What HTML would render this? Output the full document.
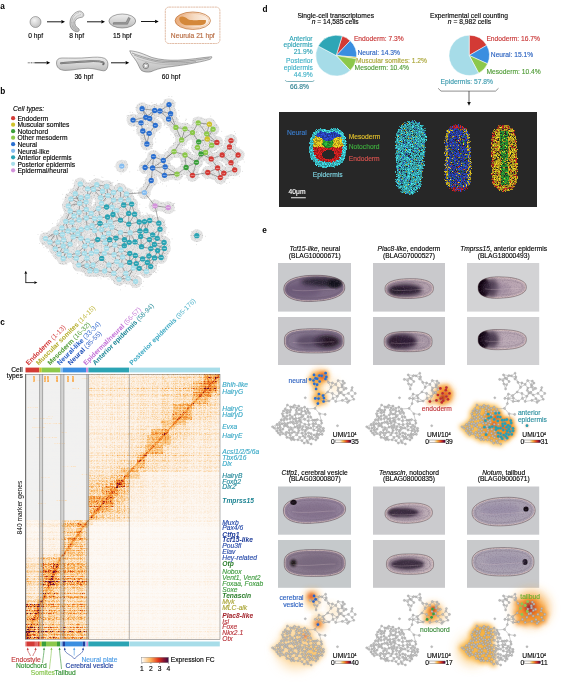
<!DOCTYPE html>
<html><head><meta charset="utf-8"><style>
html,body{margin:0;padding:0;background:#fff;}
#W{position:relative;width:570px;height:685px;overflow:hidden;background:#fff;font-family:"Liberation Sans", sans-serif;}
svg{position:absolute;left:0;top:0;}
canvas{position:absolute;}
text{font-family:"Liberation Sans", sans-serif;}
</style></head><body><div id="W">
<svg width="570" height="685" viewBox="0 0 570 685"><rect x="25.7" y="374.3" width="194.3" height="265" fill="#f3e8dc"/><rect x="279.1" y="112.1" width="257.7" height="94.3" fill="#272727"/><rect x="278.0" y="263.0" width="73.0" height="48.6" fill="#c9cacd"/><clipPath id="cl00"><path d="M344.78,287.24 L344.73,288.73 L344.47,289.97 L344.01,291.12 L343.35,292.21 L342.49,293.24 L341.44,294.22 L340.20,295.15 L338.78,296.02 L337.18,296.84 L335.41,297.60 L333.47,298.30 L331.37,298.93 L329.12,299.50 L326.71,300.00 L324.14,300.42 L321.39,300.78 L318.40,301.06 L314.75,301.29 L311.10,301.44 L308.10,301.46 L305.34,301.39 L302.75,301.22 L300.31,300.96 L298.03,300.60 L295.89,300.15 L293.91,299.61 L292.10,298.98 L290.44,298.27 L288.96,297.48 L287.66,296.60 L286.54,295.65 L285.61,294.61 L284.87,293.50 L284.32,292.30 L283.98,290.98 L283.82,289.36 L283.86,287.74 L284.12,286.40 L284.58,285.17 L285.24,284.00 L286.10,282.91 L287.15,281.88 L288.38,280.91 L289.81,280.02 L291.40,279.19 L293.17,278.44 L295.11,277.76 L297.21,277.17 L299.46,276.65 L301.87,276.22 L304.44,275.87 L307.20,275.60 L310.19,275.42 L313.85,275.31 L317.50,275.29 L320.51,275.36 L323.28,275.52 L325.87,275.77 L328.30,276.10 L330.59,276.50 L332.73,276.99 L334.71,277.55 L336.52,278.19 L338.18,278.89 L339.66,279.66 L340.96,280.50 L342.08,281.40 L343.00,282.37 L343.74,283.41 L344.28,284.53 L344.63,285.74 Z"/></clipPath><path d="M344.78,287.24 L344.73,288.73 L344.47,289.97 L344.01,291.12 L343.35,292.21 L342.49,293.24 L341.44,294.22 L340.20,295.15 L338.78,296.02 L337.18,296.84 L335.41,297.60 L333.47,298.30 L331.37,298.93 L329.12,299.50 L326.71,300.00 L324.14,300.42 L321.39,300.78 L318.40,301.06 L314.75,301.29 L311.10,301.44 L308.10,301.46 L305.34,301.39 L302.75,301.22 L300.31,300.96 L298.03,300.60 L295.89,300.15 L293.91,299.61 L292.10,298.98 L290.44,298.27 L288.96,297.48 L287.66,296.60 L286.54,295.65 L285.61,294.61 L284.87,293.50 L284.32,292.30 L283.98,290.98 L283.82,289.36 L283.86,287.74 L284.12,286.40 L284.58,285.17 L285.24,284.00 L286.10,282.91 L287.15,281.88 L288.38,280.91 L289.81,280.02 L291.40,279.19 L293.17,278.44 L295.11,277.76 L297.21,277.17 L299.46,276.65 L301.87,276.22 L304.44,275.87 L307.20,275.60 L310.19,275.42 L313.85,275.31 L317.50,275.29 L320.51,275.36 L323.28,275.52 L325.87,275.77 L328.30,276.10 L330.59,276.50 L332.73,276.99 L334.71,277.55 L336.52,278.19 L338.18,278.89 L339.66,279.66 L340.96,280.50 L342.08,281.40 L343.00,282.37 L343.74,283.41 L344.28,284.53 L344.63,285.74 Z" fill="#7d6c87"/><g clip-path="url(#cl00)"><path d="M344.78,287.24 L344.73,288.73 L344.47,289.97 L344.01,291.12 L343.35,292.21 L342.49,293.24 L341.44,294.22 L340.20,295.15 L338.78,296.02 L337.18,296.84 L335.41,297.60 L333.47,298.30 L331.37,298.93 L329.12,299.50 L326.71,300.00 L324.14,300.42 L321.39,300.78 L318.40,301.06 L314.75,301.29 L311.10,301.44 L308.10,301.46 L305.34,301.39 L302.75,301.22 L300.31,300.96 L298.03,300.60 L295.89,300.15 L293.91,299.61 L292.10,298.98 L290.44,298.27 L288.96,297.48 L287.66,296.60 L286.54,295.65 L285.61,294.61 L284.87,293.50 L284.32,292.30 L283.98,290.98 L283.82,289.36 L283.86,287.74 L284.12,286.40 L284.58,285.17 L285.24,284.00 L286.10,282.91 L287.15,281.88 L288.38,280.91 L289.81,280.02 L291.40,279.19 L293.17,278.44 L295.11,277.76 L297.21,277.17 L299.46,276.65 L301.87,276.22 L304.44,275.87 L307.20,275.60 L310.19,275.42 L313.85,275.31 L317.50,275.29 L320.51,275.36 L323.28,275.52 L325.87,275.77 L328.30,276.10 L330.59,276.50 L332.73,276.99 L334.71,277.55 L336.52,278.19 L338.18,278.89 L339.66,279.66 L340.96,280.50 L342.08,281.40 L343.00,282.37 L343.74,283.41 L344.28,284.53 L344.63,285.74 Z" fill="none" stroke="#dcc6c2" stroke-opacity="0.75" stroke-width="2.6" filter="url(#b05)"/><ellipse cx="321" cy="282.5" rx="20" ry="4.8" fill="#231a2a" fill-opacity="0.95" filter="url(#b2)"/><ellipse cx="335" cy="283.5" rx="7" ry="4.5" fill="#120c14" fill-opacity="0.9" filter="url(#b1)"/><ellipse cx="303" cy="290" rx="18" ry="7" fill="#5e4c6c" fill-opacity="0.55" filter="url(#b2)"/><rect x="282.8" y="274.3" width="63.0" height="28.0" filter="url(#grain)" opacity="0.42"/><path d="M341.38,287.35 L341.10,289.42 L340.09,291.11 L338.38,292.64 L336.01,294.01 L333.01,295.21 L329.42,296.24 L325.27,297.06 L320.54,297.67 L314.64,298.09 L308.73,298.26 L303.97,298.10 L299.79,297.65 L296.14,296.92 L293.06,295.93 L290.59,294.68 L288.78,293.19 L287.65,291.45 L287.22,289.25 L287.50,287.01 L288.50,285.20 L290.21,283.58 L292.58,282.17 L295.58,280.96 L299.17,279.99 L303.32,279.25 L308.05,278.76 L313.96,278.51 L319.87,278.51 L324.64,278.80 L328.83,279.33 L332.48,280.10 L335.56,281.09 L338.02,282.29 L339.83,283.70 L340.95,285.31 Z" fill="none" stroke="#4a3c48" stroke-opacity="0.28" stroke-width="0.5"/><path d="M292.3,289.9 C305.2,292.2 323.4,288.9 335.0,289.3" fill="none" stroke="#e0c8cc" stroke-opacity="0.35" stroke-width="0.7"/></g><path d="M344.78,287.24 L344.73,288.73 L344.47,289.97 L344.01,291.12 L343.35,292.21 L342.49,293.24 L341.44,294.22 L340.20,295.15 L338.78,296.02 L337.18,296.84 L335.41,297.60 L333.47,298.30 L331.37,298.93 L329.12,299.50 L326.71,300.00 L324.14,300.42 L321.39,300.78 L318.40,301.06 L314.75,301.29 L311.10,301.44 L308.10,301.46 L305.34,301.39 L302.75,301.22 L300.31,300.96 L298.03,300.60 L295.89,300.15 L293.91,299.61 L292.10,298.98 L290.44,298.27 L288.96,297.48 L287.66,296.60 L286.54,295.65 L285.61,294.61 L284.87,293.50 L284.32,292.30 L283.98,290.98 L283.82,289.36 L283.86,287.74 L284.12,286.40 L284.58,285.17 L285.24,284.00 L286.10,282.91 L287.15,281.88 L288.38,280.91 L289.81,280.02 L291.40,279.19 L293.17,278.44 L295.11,277.76 L297.21,277.17 L299.46,276.65 L301.87,276.22 L304.44,275.87 L307.20,275.60 L310.19,275.42 L313.85,275.31 L317.50,275.29 L320.51,275.36 L323.28,275.52 L325.87,275.77 L328.30,276.10 L330.59,276.50 L332.73,276.99 L334.71,277.55 L336.52,278.19 L338.18,278.89 L339.66,279.66 L340.96,280.50 L342.08,281.40 L343.00,282.37 L343.74,283.41 L344.28,284.53 L344.63,285.74 Z" fill="none" stroke="#3a2e34" stroke-opacity="0.7" stroke-width="0.55"/><rect x="373.0" y="263.0" width="72.0" height="48.6" fill="#c9c9cc"/><clipPath id="cl01"><path d="M433.40,288.18 L433.34,289.47 L433.13,290.48 L432.76,291.40 L432.24,292.25 L431.58,293.04 L430.76,293.78 L429.80,294.47 L428.70,295.11 L427.46,295.70 L426.08,296.23 L424.57,296.72 L422.93,297.14 L421.16,297.51 L419.26,297.83 L417.21,298.08 L415.00,298.27 L412.54,298.41 L409.37,298.50 L406.21,298.52 L403.75,298.47 L401.52,298.35 L399.47,298.17 L397.55,297.93 L395.77,297.62 L394.12,297.25 L392.60,296.82 L391.20,296.33 L389.94,295.79 L388.82,295.19 L387.83,294.53 L386.99,293.82 L386.30,293.05 L385.75,292.22 L385.35,291.32 L385.10,290.32 L385.00,289.02 L385.06,287.73 L385.27,286.72 L385.64,285.80 L386.16,284.95 L386.82,284.16 L387.64,283.42 L388.60,282.73 L389.70,282.09 L390.94,281.50 L392.32,280.97 L393.83,280.48 L395.47,280.06 L397.24,279.69 L399.14,279.37 L401.19,279.12 L403.40,278.93 L405.86,278.79 L409.03,278.70 L412.19,278.68 L414.65,278.73 L416.88,278.85 L418.93,279.03 L420.85,279.27 L422.63,279.58 L424.28,279.95 L425.80,280.38 L427.20,280.87 L428.46,281.41 L429.58,282.01 L430.57,282.67 L431.41,283.38 L432.10,284.15 L432.65,284.98 L433.05,285.88 L433.30,286.88 Z"/></clipPath><path d="M433.40,288.18 L433.34,289.47 L433.13,290.48 L432.76,291.40 L432.24,292.25 L431.58,293.04 L430.76,293.78 L429.80,294.47 L428.70,295.11 L427.46,295.70 L426.08,296.23 L424.57,296.72 L422.93,297.14 L421.16,297.51 L419.26,297.83 L417.21,298.08 L415.00,298.27 L412.54,298.41 L409.37,298.50 L406.21,298.52 L403.75,298.47 L401.52,298.35 L399.47,298.17 L397.55,297.93 L395.77,297.62 L394.12,297.25 L392.60,296.82 L391.20,296.33 L389.94,295.79 L388.82,295.19 L387.83,294.53 L386.99,293.82 L386.30,293.05 L385.75,292.22 L385.35,291.32 L385.10,290.32 L385.00,289.02 L385.06,287.73 L385.27,286.72 L385.64,285.80 L386.16,284.95 L386.82,284.16 L387.64,283.42 L388.60,282.73 L389.70,282.09 L390.94,281.50 L392.32,280.97 L393.83,280.48 L395.47,280.06 L397.24,279.69 L399.14,279.37 L401.19,279.12 L403.40,278.93 L405.86,278.79 L409.03,278.70 L412.19,278.68 L414.65,278.73 L416.88,278.85 L418.93,279.03 L420.85,279.27 L422.63,279.58 L424.28,279.95 L425.80,280.38 L427.20,280.87 L428.46,281.41 L429.58,282.01 L430.57,282.67 L431.41,283.38 L432.10,284.15 L432.65,284.98 L433.05,285.88 L433.30,286.88 Z" fill="#b3a1ad"/><g clip-path="url(#cl01)"><path d="M433.40,288.18 L433.34,289.47 L433.13,290.48 L432.76,291.40 L432.24,292.25 L431.58,293.04 L430.76,293.78 L429.80,294.47 L428.70,295.11 L427.46,295.70 L426.08,296.23 L424.57,296.72 L422.93,297.14 L421.16,297.51 L419.26,297.83 L417.21,298.08 L415.00,298.27 L412.54,298.41 L409.37,298.50 L406.21,298.52 L403.75,298.47 L401.52,298.35 L399.47,298.17 L397.55,297.93 L395.77,297.62 L394.12,297.25 L392.60,296.82 L391.20,296.33 L389.94,295.79 L388.82,295.19 L387.83,294.53 L386.99,293.82 L386.30,293.05 L385.75,292.22 L385.35,291.32 L385.10,290.32 L385.00,289.02 L385.06,287.73 L385.27,286.72 L385.64,285.80 L386.16,284.95 L386.82,284.16 L387.64,283.42 L388.60,282.73 L389.70,282.09 L390.94,281.50 L392.32,280.97 L393.83,280.48 L395.47,280.06 L397.24,279.69 L399.14,279.37 L401.19,279.12 L403.40,278.93 L405.86,278.79 L409.03,278.70 L412.19,278.68 L414.65,278.73 L416.88,278.85 L418.93,279.03 L420.85,279.27 L422.63,279.58 L424.28,279.95 L425.80,280.38 L427.20,280.87 L428.46,281.41 L429.58,282.01 L430.57,282.67 L431.41,283.38 L432.10,284.15 L432.65,284.98 L433.05,285.88 L433.30,286.88 Z" fill="none" stroke="#dcc6c2" stroke-opacity="0.75" stroke-width="2.6" filter="url(#b05)"/><ellipse cx="405" cy="290" rx="17" ry="6" fill="#2a1a30" fill-opacity="1" filter="url(#b2)"/><ellipse cx="396" cy="291" rx="6" ry="4" fill="#251828" fill-opacity="0.7" filter="url(#b1)"/><rect x="384.0" y="277.7" width="50.4" height="21.8" filter="url(#grain)" opacity="0.42"/><path d="M430.00,288.24 L429.76,289.80 L428.99,291.00 L427.71,292.04 L425.94,292.94 L423.68,293.71 L420.98,294.34 L417.82,294.81 L414.15,295.13 L409.32,295.30 L404.48,295.30 L400.81,295.11 L397.63,294.75 L394.90,294.22 L392.63,293.53 L390.82,292.68 L389.50,291.68 L388.69,290.52 L388.40,288.96 L388.64,287.40 L389.41,286.20 L390.69,285.16 L392.46,284.26 L394.72,283.49 L397.42,282.86 L400.58,282.39 L404.25,282.07 L409.08,281.90 L413.92,281.90 L417.59,282.09 L420.77,282.45 L423.50,282.98 L425.77,283.67 L427.58,284.52 L428.90,285.52 L429.71,286.68 Z" fill="none" stroke="#4a3c48" stroke-opacity="0.28" stroke-width="0.5"/><path d="M391.8,289.8 C401.9,291.6 416.5,289.1 425.7,289.4" fill="none" stroke="#e0c8cc" stroke-opacity="0.35" stroke-width="0.7"/></g><path d="M433.40,288.18 L433.34,289.47 L433.13,290.48 L432.76,291.40 L432.24,292.25 L431.58,293.04 L430.76,293.78 L429.80,294.47 L428.70,295.11 L427.46,295.70 L426.08,296.23 L424.57,296.72 L422.93,297.14 L421.16,297.51 L419.26,297.83 L417.21,298.08 L415.00,298.27 L412.54,298.41 L409.37,298.50 L406.21,298.52 L403.75,298.47 L401.52,298.35 L399.47,298.17 L397.55,297.93 L395.77,297.62 L394.12,297.25 L392.60,296.82 L391.20,296.33 L389.94,295.79 L388.82,295.19 L387.83,294.53 L386.99,293.82 L386.30,293.05 L385.75,292.22 L385.35,291.32 L385.10,290.32 L385.00,289.02 L385.06,287.73 L385.27,286.72 L385.64,285.80 L386.16,284.95 L386.82,284.16 L387.64,283.42 L388.60,282.73 L389.70,282.09 L390.94,281.50 L392.32,280.97 L393.83,280.48 L395.47,280.06 L397.24,279.69 L399.14,279.37 L401.19,279.12 L403.40,278.93 L405.86,278.79 L409.03,278.70 L412.19,278.68 L414.65,278.73 L416.88,278.85 L418.93,279.03 L420.85,279.27 L422.63,279.58 L424.28,279.95 L425.80,280.38 L427.20,280.87 L428.46,281.41 L429.58,282.01 L430.57,282.67 L431.41,283.38 L432.10,284.15 L432.65,284.98 L433.05,285.88 L433.30,286.88 Z" fill="none" stroke="#3a2e34" stroke-opacity="0.7" stroke-width="0.55"/><rect x="467.0" y="263.0" width="72.2" height="48.6" fill="#d3d3d5"/><clipPath id="cl02"><path d="M526.30,287.08 L526.24,288.30 L526.03,289.26 L525.66,290.13 L525.15,290.94 L524.48,291.71 L523.67,292.44 L522.71,293.14 L521.61,293.79 L520.38,294.41 L519.01,294.99 L517.51,295.53 L515.88,296.03 L514.12,296.49 L512.22,296.90 L510.19,297.26 L507.98,297.57 L505.54,297.84 L502.38,298.10 L499.23,298.29 L496.79,298.35 L494.57,298.33 L492.53,298.23 L490.62,298.04 L488.85,297.77 L487.21,297.42 L485.69,296.98 L484.30,296.47 L483.04,295.87 L481.92,295.20 L480.94,294.45 L480.10,293.63 L479.41,292.73 L478.86,291.75 L478.46,290.67 L478.21,289.47 L478.10,287.92 L478.15,286.37 L478.36,285.16 L478.72,284.07 L479.24,283.07 L479.90,282.15 L480.71,281.29 L481.67,280.51 L482.76,279.80 L484.00,279.16 L485.37,278.60 L486.87,278.11 L488.50,277.70 L490.26,277.37 L492.16,277.12 L494.20,276.94 L496.41,276.84 L498.86,276.82 L502.02,276.90 L505.17,277.05 L507.62,277.23 L509.84,277.47 L511.89,277.76 L513.80,278.10 L515.57,278.50 L517.22,278.94 L518.74,279.43 L520.13,279.96 L521.38,280.53 L522.50,281.15 L523.48,281.81 L524.32,282.51 L525.01,283.26 L525.56,284.06 L525.95,284.91 L526.20,285.86 Z"/></clipPath><path d="M526.30,287.08 L526.24,288.30 L526.03,289.26 L525.66,290.13 L525.15,290.94 L524.48,291.71 L523.67,292.44 L522.71,293.14 L521.61,293.79 L520.38,294.41 L519.01,294.99 L517.51,295.53 L515.88,296.03 L514.12,296.49 L512.22,296.90 L510.19,297.26 L507.98,297.57 L505.54,297.84 L502.38,298.10 L499.23,298.29 L496.79,298.35 L494.57,298.33 L492.53,298.23 L490.62,298.04 L488.85,297.77 L487.21,297.42 L485.69,296.98 L484.30,296.47 L483.04,295.87 L481.92,295.20 L480.94,294.45 L480.10,293.63 L479.41,292.73 L478.86,291.75 L478.46,290.67 L478.21,289.47 L478.10,287.92 L478.15,286.37 L478.36,285.16 L478.72,284.07 L479.24,283.07 L479.90,282.15 L480.71,281.29 L481.67,280.51 L482.76,279.80 L484.00,279.16 L485.37,278.60 L486.87,278.11 L488.50,277.70 L490.26,277.37 L492.16,277.12 L494.20,276.94 L496.41,276.84 L498.86,276.82 L502.02,276.90 L505.17,277.05 L507.62,277.23 L509.84,277.47 L511.89,277.76 L513.80,278.10 L515.57,278.50 L517.22,278.94 L518.74,279.43 L520.13,279.96 L521.38,280.53 L522.50,281.15 L523.48,281.81 L524.32,282.51 L525.01,283.26 L525.56,284.06 L525.95,284.91 L526.20,285.86 Z" fill="#bca8b4"/><g clip-path="url(#cl02)"><path d="M526.30,287.08 L526.24,288.30 L526.03,289.26 L525.66,290.13 L525.15,290.94 L524.48,291.71 L523.67,292.44 L522.71,293.14 L521.61,293.79 L520.38,294.41 L519.01,294.99 L517.51,295.53 L515.88,296.03 L514.12,296.49 L512.22,296.90 L510.19,297.26 L507.98,297.57 L505.54,297.84 L502.38,298.10 L499.23,298.29 L496.79,298.35 L494.57,298.33 L492.53,298.23 L490.62,298.04 L488.85,297.77 L487.21,297.42 L485.69,296.98 L484.30,296.47 L483.04,295.87 L481.92,295.20 L480.94,294.45 L480.10,293.63 L479.41,292.73 L478.86,291.75 L478.46,290.67 L478.21,289.47 L478.10,287.92 L478.15,286.37 L478.36,285.16 L478.72,284.07 L479.24,283.07 L479.90,282.15 L480.71,281.29 L481.67,280.51 L482.76,279.80 L484.00,279.16 L485.37,278.60 L486.87,278.11 L488.50,277.70 L490.26,277.37 L492.16,277.12 L494.20,276.94 L496.41,276.84 L498.86,276.82 L502.02,276.90 L505.17,277.05 L507.62,277.23 L509.84,277.47 L511.89,277.76 L513.80,278.10 L515.57,278.50 L517.22,278.94 L518.74,279.43 L520.13,279.96 L521.38,280.53 L522.50,281.15 L523.48,281.81 L524.32,282.51 L525.01,283.26 L525.56,284.06 L525.95,284.91 L526.20,285.86 Z" fill="none" stroke="#dcc6c2" stroke-opacity="0.75" stroke-width="2.6" filter="url(#b05)"/><ellipse cx="483" cy="287.6" rx="7" ry="10" fill="#0a0608" fill-opacity="1" filter="url(#b1)"/><ellipse cx="491" cy="288" rx="8" ry="9" fill="#3a2840" fill-opacity="0.85" filter="url(#b2)"/><ellipse cx="502" cy="289" rx="9" ry="6" fill="#8a7590" fill-opacity="0.45" filter="url(#b2)"/><rect x="477.1" y="275.9" width="50.2" height="23.2" filter="url(#grain)" opacity="0.42"/><path d="M522.90,287.14 L522.66,288.66 L521.90,289.84 L520.62,290.89 L518.86,291.84 L516.62,292.68 L513.92,293.42 L510.78,294.03 L507.14,294.52 L502.33,294.90 L497.52,295.09 L493.86,295.02 L490.71,294.71 L487.99,294.17 L485.72,293.40 L483.92,292.41 L482.61,291.21 L481.80,289.78 L481.50,287.86 L481.73,285.93 L482.49,284.47 L483.76,283.23 L485.53,282.18 L487.77,281.33 L490.46,280.70 L493.61,280.28 L497.26,280.08 L502.07,280.10 L506.89,280.31 L510.55,280.67 L513.71,281.18 L516.43,281.82 L518.69,282.58 L520.49,283.47 L521.80,284.48 L522.61,285.63 Z" fill="none" stroke="#4a3c48" stroke-opacity="0.28" stroke-width="0.5"/><path d="M484.8,288.8 C495.0,290.7 509.4,288.0 518.6,288.3" fill="none" stroke="#e0c8cc" stroke-opacity="0.35" stroke-width="0.7"/></g><path d="M526.30,287.08 L526.24,288.30 L526.03,289.26 L525.66,290.13 L525.15,290.94 L524.48,291.71 L523.67,292.44 L522.71,293.14 L521.61,293.79 L520.38,294.41 L519.01,294.99 L517.51,295.53 L515.88,296.03 L514.12,296.49 L512.22,296.90 L510.19,297.26 L507.98,297.57 L505.54,297.84 L502.38,298.10 L499.23,298.29 L496.79,298.35 L494.57,298.33 L492.53,298.23 L490.62,298.04 L488.85,297.77 L487.21,297.42 L485.69,296.98 L484.30,296.47 L483.04,295.87 L481.92,295.20 L480.94,294.45 L480.10,293.63 L479.41,292.73 L478.86,291.75 L478.46,290.67 L478.21,289.47 L478.10,287.92 L478.15,286.37 L478.36,285.16 L478.72,284.07 L479.24,283.07 L479.90,282.15 L480.71,281.29 L481.67,280.51 L482.76,279.80 L484.00,279.16 L485.37,278.60 L486.87,278.11 L488.50,277.70 L490.26,277.37 L492.16,277.12 L494.20,276.94 L496.41,276.84 L498.86,276.82 L502.02,276.90 L505.17,277.05 L507.62,277.23 L509.84,277.47 L511.89,277.76 L513.80,278.10 L515.57,278.50 L517.22,278.94 L518.74,279.43 L520.13,279.96 L521.38,280.53 L522.50,281.15 L523.48,281.81 L524.32,282.51 L525.01,283.26 L525.56,284.06 L525.95,284.91 L526.20,285.86 Z" fill="none" stroke="#3a2e34" stroke-opacity="0.7" stroke-width="0.55"/><rect x="278.0" y="317.0" width="73.0" height="48.0" fill="#c9c9cc"/><clipPath id="cl10"><path d="M344.00,340.90 L343.92,343.15 L343.69,344.52 L343.30,345.66 L342.75,346.67 L342.05,347.58 L341.19,348.40 L340.17,349.15 L339.00,349.82 L337.66,350.43 L336.17,350.97 L334.51,351.44 L332.68,351.86 L330.65,352.21 L328.42,352.49 L325.93,352.71 L323.11,352.87 L319.74,352.97 L314.20,353.00 L308.66,352.97 L305.29,352.87 L302.47,352.71 L299.98,352.49 L297.75,352.21 L295.72,351.86 L293.89,351.44 L292.23,350.97 L290.74,350.43 L289.40,349.82 L288.23,349.15 L287.21,348.40 L286.35,347.58 L285.65,346.67 L285.10,345.66 L284.71,344.52 L284.48,343.15 L284.40,340.90 L284.48,338.65 L284.71,337.28 L285.10,336.14 L285.65,335.13 L286.35,334.22 L287.21,333.40 L288.23,332.65 L289.40,331.98 L290.74,331.37 L292.23,330.83 L293.89,330.36 L295.72,329.94 L297.75,329.59 L299.98,329.31 L302.47,329.09 L305.29,328.93 L308.66,328.83 L314.20,328.80 L319.74,328.83 L323.11,328.93 L325.93,329.09 L328.42,329.31 L330.65,329.59 L332.68,329.94 L334.51,330.36 L336.17,330.83 L337.66,331.37 L339.00,331.98 L340.17,332.65 L341.19,333.40 L342.05,334.22 L342.75,335.13 L343.30,336.14 L343.69,337.28 L343.92,338.65 Z"/></clipPath><path d="M344.00,340.90 L343.92,343.15 L343.69,344.52 L343.30,345.66 L342.75,346.67 L342.05,347.58 L341.19,348.40 L340.17,349.15 L339.00,349.82 L337.66,350.43 L336.17,350.97 L334.51,351.44 L332.68,351.86 L330.65,352.21 L328.42,352.49 L325.93,352.71 L323.11,352.87 L319.74,352.97 L314.20,353.00 L308.66,352.97 L305.29,352.87 L302.47,352.71 L299.98,352.49 L297.75,352.21 L295.72,351.86 L293.89,351.44 L292.23,350.97 L290.74,350.43 L289.40,349.82 L288.23,349.15 L287.21,348.40 L286.35,347.58 L285.65,346.67 L285.10,345.66 L284.71,344.52 L284.48,343.15 L284.40,340.90 L284.48,338.65 L284.71,337.28 L285.10,336.14 L285.65,335.13 L286.35,334.22 L287.21,333.40 L288.23,332.65 L289.40,331.98 L290.74,331.37 L292.23,330.83 L293.89,330.36 L295.72,329.94 L297.75,329.59 L299.98,329.31 L302.47,329.09 L305.29,328.93 L308.66,328.83 L314.20,328.80 L319.74,328.83 L323.11,328.93 L325.93,329.09 L328.42,329.31 L330.65,329.59 L332.68,329.94 L334.51,330.36 L336.17,330.83 L337.66,331.37 L339.00,331.98 L340.17,332.65 L341.19,333.40 L342.05,334.22 L342.75,335.13 L343.30,336.14 L343.69,337.28 L343.92,338.65 Z" fill="#86778f"/><g clip-path="url(#cl10)"><path d="M344.00,340.90 L343.92,343.15 L343.69,344.52 L343.30,345.66 L342.75,346.67 L342.05,347.58 L341.19,348.40 L340.17,349.15 L339.00,349.82 L337.66,350.43 L336.17,350.97 L334.51,351.44 L332.68,351.86 L330.65,352.21 L328.42,352.49 L325.93,352.71 L323.11,352.87 L319.74,352.97 L314.20,353.00 L308.66,352.97 L305.29,352.87 L302.47,352.71 L299.98,352.49 L297.75,352.21 L295.72,351.86 L293.89,351.44 L292.23,350.97 L290.74,350.43 L289.40,349.82 L288.23,349.15 L287.21,348.40 L286.35,347.58 L285.65,346.67 L285.10,345.66 L284.71,344.52 L284.48,343.15 L284.40,340.90 L284.48,338.65 L284.71,337.28 L285.10,336.14 L285.65,335.13 L286.35,334.22 L287.21,333.40 L288.23,332.65 L289.40,331.98 L290.74,331.37 L292.23,330.83 L293.89,330.36 L295.72,329.94 L297.75,329.59 L299.98,329.31 L302.47,329.09 L305.29,328.93 L308.66,328.83 L314.20,328.80 L319.74,328.83 L323.11,328.93 L325.93,329.09 L328.42,329.31 L330.65,329.59 L332.68,329.94 L334.51,330.36 L336.17,330.83 L337.66,331.37 L339.00,331.98 L340.17,332.65 L341.19,333.40 L342.05,334.22 L342.75,335.13 L343.30,336.14 L343.69,337.28 L343.92,338.65 Z" fill="none" stroke="#dcc6c2" stroke-opacity="0.75" stroke-width="2.6" filter="url(#b05)"/><ellipse cx="327" cy="341.5" rx="13" ry="6.5" fill="#1a1220" fill-opacity="0.95" filter="url(#b2)"/><ellipse cx="310" cy="341.5" rx="14" ry="6.5" fill="#4a3a56" fill-opacity="0.65" filter="url(#b2)"/><rect x="283.4" y="327.8" width="61.6" height="26.2" filter="url(#grain)" opacity="0.42"/><path d="M340.60,340.90 L340.32,343.56 L339.49,345.15 L338.11,346.42 L336.17,347.46 L333.66,348.31 L330.57,348.96 L326.80,349.43 L322.09,349.71 L314.20,349.80 L306.31,349.71 L301.60,349.43 L297.83,348.96 L294.74,348.31 L292.23,347.46 L290.29,346.42 L288.91,345.15 L288.08,343.56 L287.80,340.90 L288.08,338.24 L288.91,336.65 L290.29,335.38 L292.23,334.34 L294.74,333.49 L297.83,332.84 L301.60,332.37 L306.31,332.09 L314.20,332.00 L322.09,332.09 L326.80,332.37 L330.57,332.84 L333.66,333.49 L336.17,334.34 L338.11,335.38 L339.49,336.65 L340.32,338.24 Z" fill="none" stroke="#4a3c48" stroke-opacity="0.28" stroke-width="0.5"/><path d="M292.7,342.4 C305.3,344.5 323.1,341.5 334.5,341.9" fill="none" stroke="#e0c8cc" stroke-opacity="0.35" stroke-width="0.7"/></g><path d="M344.00,340.90 L343.92,343.15 L343.69,344.52 L343.30,345.66 L342.75,346.67 L342.05,347.58 L341.19,348.40 L340.17,349.15 L339.00,349.82 L337.66,350.43 L336.17,350.97 L334.51,351.44 L332.68,351.86 L330.65,352.21 L328.42,352.49 L325.93,352.71 L323.11,352.87 L319.74,352.97 L314.20,353.00 L308.66,352.97 L305.29,352.87 L302.47,352.71 L299.98,352.49 L297.75,352.21 L295.72,351.86 L293.89,351.44 L292.23,350.97 L290.74,350.43 L289.40,349.82 L288.23,349.15 L287.21,348.40 L286.35,347.58 L285.65,346.67 L285.10,345.66 L284.71,344.52 L284.48,343.15 L284.40,340.90 L284.48,338.65 L284.71,337.28 L285.10,336.14 L285.65,335.13 L286.35,334.22 L287.21,333.40 L288.23,332.65 L289.40,331.98 L290.74,331.37 L292.23,330.83 L293.89,330.36 L295.72,329.94 L297.75,329.59 L299.98,329.31 L302.47,329.09 L305.29,328.93 L308.66,328.83 L314.20,328.80 L319.74,328.83 L323.11,328.93 L325.93,329.09 L328.42,329.31 L330.65,329.59 L332.68,329.94 L334.51,330.36 L336.17,330.83 L337.66,331.37 L339.00,331.98 L340.17,332.65 L341.19,333.40 L342.05,334.22 L342.75,335.13 L343.30,336.14 L343.69,337.28 L343.92,338.65 Z" fill="none" stroke="#3a2e34" stroke-opacity="0.7" stroke-width="0.55"/><rect x="373.0" y="317.0" width="72.0" height="48.0" fill="#c6c6c9"/><clipPath id="cl11"><path d="M432.10,341.60 L432.03,343.37 L431.84,344.49 L431.51,345.45 L431.06,346.29 L430.47,347.06 L429.76,347.76 L428.91,348.39 L427.94,348.97 L426.84,349.49 L425.60,349.95 L424.24,350.36 L422.73,350.71 L421.07,351.01 L419.25,351.26 L417.24,351.45 L414.97,351.59 L412.30,351.67 L408.10,351.70 L403.90,351.67 L401.23,351.59 L398.96,351.45 L396.95,351.26 L395.13,351.01 L393.47,350.71 L391.96,350.36 L390.60,349.95 L389.36,349.49 L388.26,348.97 L387.29,348.39 L386.44,347.76 L385.73,347.06 L385.14,346.29 L384.69,345.45 L384.36,344.49 L384.17,343.37 L384.10,341.60 L384.17,339.83 L384.36,338.71 L384.69,337.75 L385.14,336.91 L385.73,336.14 L386.44,335.44 L387.29,334.81 L388.26,334.23 L389.36,333.71 L390.60,333.25 L391.96,332.84 L393.47,332.49 L395.13,332.19 L396.95,331.94 L398.96,331.75 L401.23,331.61 L403.90,331.53 L408.10,331.50 L412.30,331.53 L414.97,331.61 L417.24,331.75 L419.25,331.94 L421.07,332.19 L422.73,332.49 L424.24,332.84 L425.60,333.25 L426.84,333.71 L427.94,334.23 L428.91,334.81 L429.76,335.44 L430.47,336.14 L431.06,336.91 L431.51,337.75 L431.84,338.71 L432.03,339.83 Z"/></clipPath><path d="M432.10,341.60 L432.03,343.37 L431.84,344.49 L431.51,345.45 L431.06,346.29 L430.47,347.06 L429.76,347.76 L428.91,348.39 L427.94,348.97 L426.84,349.49 L425.60,349.95 L424.24,350.36 L422.73,350.71 L421.07,351.01 L419.25,351.26 L417.24,351.45 L414.97,351.59 L412.30,351.67 L408.10,351.70 L403.90,351.67 L401.23,351.59 L398.96,351.45 L396.95,351.26 L395.13,351.01 L393.47,350.71 L391.96,350.36 L390.60,349.95 L389.36,349.49 L388.26,348.97 L387.29,348.39 L386.44,347.76 L385.73,347.06 L385.14,346.29 L384.69,345.45 L384.36,344.49 L384.17,343.37 L384.10,341.60 L384.17,339.83 L384.36,338.71 L384.69,337.75 L385.14,336.91 L385.73,336.14 L386.44,335.44 L387.29,334.81 L388.26,334.23 L389.36,333.71 L390.60,333.25 L391.96,332.84 L393.47,332.49 L395.13,332.19 L396.95,331.94 L398.96,331.75 L401.23,331.61 L403.90,331.53 L408.10,331.50 L412.30,331.53 L414.97,331.61 L417.24,331.75 L419.25,331.94 L421.07,332.19 L422.73,332.49 L424.24,332.84 L425.60,333.25 L426.84,333.71 L427.94,334.23 L428.91,334.81 L429.76,335.44 L430.47,336.14 L431.06,336.91 L431.51,337.75 L431.84,338.71 L432.03,339.83 Z" fill="#a999a7"/><g clip-path="url(#cl11)"><path d="M432.10,341.60 L432.03,343.37 L431.84,344.49 L431.51,345.45 L431.06,346.29 L430.47,347.06 L429.76,347.76 L428.91,348.39 L427.94,348.97 L426.84,349.49 L425.60,349.95 L424.24,350.36 L422.73,350.71 L421.07,351.01 L419.25,351.26 L417.24,351.45 L414.97,351.59 L412.30,351.67 L408.10,351.70 L403.90,351.67 L401.23,351.59 L398.96,351.45 L396.95,351.26 L395.13,351.01 L393.47,350.71 L391.96,350.36 L390.60,349.95 L389.36,349.49 L388.26,348.97 L387.29,348.39 L386.44,347.76 L385.73,347.06 L385.14,346.29 L384.69,345.45 L384.36,344.49 L384.17,343.37 L384.10,341.60 L384.17,339.83 L384.36,338.71 L384.69,337.75 L385.14,336.91 L385.73,336.14 L386.44,335.44 L387.29,334.81 L388.26,334.23 L389.36,333.71 L390.60,333.25 L391.96,332.84 L393.47,332.49 L395.13,332.19 L396.95,331.94 L398.96,331.75 L401.23,331.61 L403.90,331.53 L408.10,331.50 L412.30,331.53 L414.97,331.61 L417.24,331.75 L419.25,331.94 L421.07,332.19 L422.73,332.49 L424.24,332.84 L425.60,333.25 L426.84,333.71 L427.94,334.23 L428.91,334.81 L429.76,335.44 L430.47,336.14 L431.06,336.91 L431.51,337.75 L431.84,338.71 L432.03,339.83 Z" fill="none" stroke="#dcc6c2" stroke-opacity="0.75" stroke-width="2.6" filter="url(#b05)"/><ellipse cx="402" cy="341.5" rx="15" ry="7.5" fill="#2e1e36" fill-opacity="1" filter="url(#b2)"/><ellipse cx="395" cy="342" rx="6" ry="6" fill="#2c1e30" fill-opacity="0.7" filter="url(#b1)"/><rect x="383.1" y="330.5" width="50.0" height="22.2" filter="url(#grain)" opacity="0.42"/><path d="M428.70,341.60 L428.48,343.58 L427.80,344.81 L426.69,345.81 L425.13,346.63 L423.12,347.30 L420.66,347.83 L417.67,348.20 L414.00,348.42 L408.10,348.50 L402.20,348.42 L398.53,348.20 L395.54,347.83 L393.08,347.30 L391.07,346.63 L389.51,345.81 L388.40,344.81 L387.72,343.58 L387.50,341.60 L387.72,339.62 L388.40,338.39 L389.51,337.39 L391.07,336.57 L393.08,335.90 L395.54,335.37 L398.53,335.00 L402.20,334.78 L408.10,334.70 L414.00,334.78 L417.67,335.00 L420.66,335.37 L423.12,335.90 L425.13,336.57 L426.69,337.39 L427.80,338.39 L428.48,339.62 Z" fill="none" stroke="#4a3c48" stroke-opacity="0.28" stroke-width="0.5"/><path d="M390.8,342.8 C400.9,344.6 415.3,342.1 424.4,342.4" fill="none" stroke="#e0c8cc" stroke-opacity="0.35" stroke-width="0.7"/></g><path d="M432.10,341.60 L432.03,343.37 L431.84,344.49 L431.51,345.45 L431.06,346.29 L430.47,347.06 L429.76,347.76 L428.91,348.39 L427.94,348.97 L426.84,349.49 L425.60,349.95 L424.24,350.36 L422.73,350.71 L421.07,351.01 L419.25,351.26 L417.24,351.45 L414.97,351.59 L412.30,351.67 L408.10,351.70 L403.90,351.67 L401.23,351.59 L398.96,351.45 L396.95,351.26 L395.13,351.01 L393.47,350.71 L391.96,350.36 L390.60,349.95 L389.36,349.49 L388.26,348.97 L387.29,348.39 L386.44,347.76 L385.73,347.06 L385.14,346.29 L384.69,345.45 L384.36,344.49 L384.17,343.37 L384.10,341.60 L384.17,339.83 L384.36,338.71 L384.69,337.75 L385.14,336.91 L385.73,336.14 L386.44,335.44 L387.29,334.81 L388.26,334.23 L389.36,333.71 L390.60,333.25 L391.96,332.84 L393.47,332.49 L395.13,332.19 L396.95,331.94 L398.96,331.75 L401.23,331.61 L403.90,331.53 L408.10,331.50 L412.30,331.53 L414.97,331.61 L417.24,331.75 L419.25,331.94 L421.07,332.19 L422.73,332.49 L424.24,332.84 L425.60,333.25 L426.84,333.71 L427.94,334.23 L428.91,334.81 L429.76,335.44 L430.47,336.14 L431.06,336.91 L431.51,337.75 L431.84,338.71 L432.03,339.83 Z" fill="none" stroke="#3a2e34" stroke-opacity="0.7" stroke-width="0.55"/><rect x="467.0" y="317.0" width="72.2" height="48.0" fill="#d1d1d3"/><clipPath id="cl12"><path d="M526.30,339.60 L526.23,341.01 L526.02,342.00 L525.67,342.86 L525.17,343.65 L524.54,344.37 L523.78,345.05 L522.87,345.67 L521.83,346.25 L520.66,346.79 L519.35,347.28 L517.92,347.73 L516.34,348.13 L514.62,348.49 L512.76,348.80 L510.72,349.06 L508.47,349.28 L505.89,349.45 L502.20,349.60 L498.51,349.69 L495.93,349.69 L493.68,349.61 L491.64,349.47 L489.78,349.25 L488.06,348.97 L486.48,348.62 L485.05,348.21 L483.74,347.73 L482.57,347.18 L481.53,346.57 L480.62,345.89 L479.86,345.14 L479.23,344.32 L478.73,343.41 L478.38,342.41 L478.17,341.25 L478.10,339.60 L478.17,337.95 L478.38,336.79 L478.73,335.79 L479.23,334.88 L479.86,334.06 L480.62,333.31 L481.53,332.63 L482.57,332.02 L483.74,331.47 L485.05,330.99 L486.48,330.58 L488.06,330.23 L489.78,329.95 L491.64,329.73 L493.68,329.59 L495.93,329.51 L498.51,329.51 L502.20,329.60 L505.89,329.75 L508.47,329.92 L510.72,330.14 L512.76,330.40 L514.62,330.71 L516.34,331.07 L517.92,331.47 L519.35,331.92 L520.66,332.41 L521.83,332.95 L522.87,333.53 L523.78,334.15 L524.54,334.83 L525.17,335.55 L525.67,336.34 L526.02,337.20 L526.23,338.19 Z"/></clipPath><path d="M526.30,339.60 L526.23,341.01 L526.02,342.00 L525.67,342.86 L525.17,343.65 L524.54,344.37 L523.78,345.05 L522.87,345.67 L521.83,346.25 L520.66,346.79 L519.35,347.28 L517.92,347.73 L516.34,348.13 L514.62,348.49 L512.76,348.80 L510.72,349.06 L508.47,349.28 L505.89,349.45 L502.20,349.60 L498.51,349.69 L495.93,349.69 L493.68,349.61 L491.64,349.47 L489.78,349.25 L488.06,348.97 L486.48,348.62 L485.05,348.21 L483.74,347.73 L482.57,347.18 L481.53,346.57 L480.62,345.89 L479.86,345.14 L479.23,344.32 L478.73,343.41 L478.38,342.41 L478.17,341.25 L478.10,339.60 L478.17,337.95 L478.38,336.79 L478.73,335.79 L479.23,334.88 L479.86,334.06 L480.62,333.31 L481.53,332.63 L482.57,332.02 L483.74,331.47 L485.05,330.99 L486.48,330.58 L488.06,330.23 L489.78,329.95 L491.64,329.73 L493.68,329.59 L495.93,329.51 L498.51,329.51 L502.20,329.60 L505.89,329.75 L508.47,329.92 L510.72,330.14 L512.76,330.40 L514.62,330.71 L516.34,331.07 L517.92,331.47 L519.35,331.92 L520.66,332.41 L521.83,332.95 L522.87,333.53 L523.78,334.15 L524.54,334.83 L525.17,335.55 L525.67,336.34 L526.02,337.20 L526.23,338.19 Z" fill="#baa9b5"/><g clip-path="url(#cl12)"><path d="M526.30,339.60 L526.23,341.01 L526.02,342.00 L525.67,342.86 L525.17,343.65 L524.54,344.37 L523.78,345.05 L522.87,345.67 L521.83,346.25 L520.66,346.79 L519.35,347.28 L517.92,347.73 L516.34,348.13 L514.62,348.49 L512.76,348.80 L510.72,349.06 L508.47,349.28 L505.89,349.45 L502.20,349.60 L498.51,349.69 L495.93,349.69 L493.68,349.61 L491.64,349.47 L489.78,349.25 L488.06,348.97 L486.48,348.62 L485.05,348.21 L483.74,347.73 L482.57,347.18 L481.53,346.57 L480.62,345.89 L479.86,345.14 L479.23,344.32 L478.73,343.41 L478.38,342.41 L478.17,341.25 L478.10,339.60 L478.17,337.95 L478.38,336.79 L478.73,335.79 L479.23,334.88 L479.86,334.06 L480.62,333.31 L481.53,332.63 L482.57,332.02 L483.74,331.47 L485.05,330.99 L486.48,330.58 L488.06,330.23 L489.78,329.95 L491.64,329.73 L493.68,329.59 L495.93,329.51 L498.51,329.51 L502.20,329.60 L505.89,329.75 L508.47,329.92 L510.72,330.14 L512.76,330.40 L514.62,330.71 L516.34,331.07 L517.92,331.47 L519.35,331.92 L520.66,332.41 L521.83,332.95 L522.87,333.53 L523.78,334.15 L524.54,334.83 L525.17,335.55 L525.67,336.34 L526.02,337.20 L526.23,338.19 Z" fill="none" stroke="#dcc6c2" stroke-opacity="0.75" stroke-width="2.6" filter="url(#b05)"/><ellipse cx="483" cy="339.3" rx="7" ry="9.5" fill="#0a0608" fill-opacity="1" filter="url(#b1)"/><ellipse cx="491" cy="339.5" rx="8" ry="8.5" fill="#3a2840" fill-opacity="0.85" filter="url(#b2)"/><rect x="477.1" y="328.6" width="50.2" height="22.0" filter="url(#grain)" opacity="0.42"/><path d="M522.90,339.60 L522.66,341.23 L521.93,342.35 L520.73,343.30 L519.06,344.12 L516.93,344.82 L514.35,345.40 L511.27,345.86 L507.58,346.18 L502.20,346.40 L496.82,346.46 L493.13,346.31 L490.05,345.97 L487.47,345.45 L485.34,344.76 L483.67,343.88 L482.47,342.81 L481.74,341.51 L481.50,339.60 L481.74,337.69 L482.47,336.39 L483.67,335.32 L485.34,334.44 L487.47,333.75 L490.05,333.23 L493.13,332.89 L496.82,332.74 L502.20,332.80 L507.58,333.02 L511.27,333.34 L514.35,333.80 L516.93,334.38 L519.06,335.08 L520.73,335.90 L521.93,336.85 L522.66,337.97 Z" fill="none" stroke="#4a3c48" stroke-opacity="0.28" stroke-width="0.5"/><path d="M484.8,340.8 C495.0,342.6 509.4,340.1 518.6,340.4" fill="none" stroke="#e0c8cc" stroke-opacity="0.35" stroke-width="0.7"/></g><path d="M526.30,339.60 L526.23,341.01 L526.02,342.00 L525.67,342.86 L525.17,343.65 L524.54,344.37 L523.78,345.05 L522.87,345.67 L521.83,346.25 L520.66,346.79 L519.35,347.28 L517.92,347.73 L516.34,348.13 L514.62,348.49 L512.76,348.80 L510.72,349.06 L508.47,349.28 L505.89,349.45 L502.20,349.60 L498.51,349.69 L495.93,349.69 L493.68,349.61 L491.64,349.47 L489.78,349.25 L488.06,348.97 L486.48,348.62 L485.05,348.21 L483.74,347.73 L482.57,347.18 L481.53,346.57 L480.62,345.89 L479.86,345.14 L479.23,344.32 L478.73,343.41 L478.38,342.41 L478.17,341.25 L478.10,339.60 L478.17,337.95 L478.38,336.79 L478.73,335.79 L479.23,334.88 L479.86,334.06 L480.62,333.31 L481.53,332.63 L482.57,332.02 L483.74,331.47 L485.05,330.99 L486.48,330.58 L488.06,330.23 L489.78,329.95 L491.64,329.73 L493.68,329.59 L495.93,329.51 L498.51,329.51 L502.20,329.60 L505.89,329.75 L508.47,329.92 L510.72,330.14 L512.76,330.40 L514.62,330.71 L516.34,331.07 L517.92,331.47 L519.35,331.92 L520.66,332.41 L521.83,332.95 L522.87,333.53 L523.78,334.15 L524.54,334.83 L525.17,335.55 L525.67,336.34 L526.02,337.20 L526.23,338.19 Z" fill="none" stroke="#3a2e34" stroke-opacity="0.7" stroke-width="0.55"/><rect x="278.0" y="486.5" width="73.0" height="48.2" fill="#c8cbce"/><clipPath id="cl20"><path d="M345.58,508.91 L345.53,510.33 L345.26,511.50 L344.79,512.60 L344.11,513.63 L343.23,514.63 L342.15,515.58 L340.89,516.48 L339.44,517.35 L337.81,518.17 L336.00,518.94 L334.03,519.66 L331.89,520.33 L329.60,520.94 L327.14,521.49 L324.53,521.98 L321.72,522.40 L318.67,522.76 L314.96,523.09 L311.24,523.34 L308.18,523.44 L305.36,523.43 L302.72,523.32 L300.24,523.10 L297.91,522.78 L295.74,522.36 L293.72,521.83 L291.87,521.21 L290.18,520.48 L288.67,519.67 L287.35,518.76 L286.20,517.76 L285.25,516.67 L284.50,515.49 L283.94,514.21 L283.58,512.81 L283.42,511.09 L283.46,509.36 L283.72,507.93 L284.19,506.62 L284.86,505.39 L285.73,504.24 L286.80,503.16 L288.06,502.16 L289.51,501.24 L291.14,500.40 L292.95,499.65 L294.92,498.98 L297.06,498.41 L299.36,497.93 L301.82,497.54 L304.45,497.24 L307.26,497.04 L310.31,496.93 L314.04,496.91 L317.77,496.98 L320.84,497.13 L323.67,497.35 L326.31,497.66 L328.80,498.04 L331.13,498.49 L333.31,499.00 L335.33,499.58 L337.18,500.23 L338.87,500.93 L340.37,501.69 L341.70,502.51 L342.84,503.38 L343.78,504.31 L344.53,505.30 L345.08,506.35 L345.43,507.51 Z"/></clipPath><path d="M345.58,508.91 L345.53,510.33 L345.26,511.50 L344.79,512.60 L344.11,513.63 L343.23,514.63 L342.15,515.58 L340.89,516.48 L339.44,517.35 L337.81,518.17 L336.00,518.94 L334.03,519.66 L331.89,520.33 L329.60,520.94 L327.14,521.49 L324.53,521.98 L321.72,522.40 L318.67,522.76 L314.96,523.09 L311.24,523.34 L308.18,523.44 L305.36,523.43 L302.72,523.32 L300.24,523.10 L297.91,522.78 L295.74,522.36 L293.72,521.83 L291.87,521.21 L290.18,520.48 L288.67,519.67 L287.35,518.76 L286.20,517.76 L285.25,516.67 L284.50,515.49 L283.94,514.21 L283.58,512.81 L283.42,511.09 L283.46,509.36 L283.72,507.93 L284.19,506.62 L284.86,505.39 L285.73,504.24 L286.80,503.16 L288.06,502.16 L289.51,501.24 L291.14,500.40 L292.95,499.65 L294.92,498.98 L297.06,498.41 L299.36,497.93 L301.82,497.54 L304.45,497.24 L307.26,497.04 L310.31,496.93 L314.04,496.91 L317.77,496.98 L320.84,497.13 L323.67,497.35 L326.31,497.66 L328.80,498.04 L331.13,498.49 L333.31,499.00 L335.33,499.58 L337.18,500.23 L338.87,500.93 L340.37,501.69 L341.70,502.51 L342.84,503.38 L343.78,504.31 L344.53,505.30 L345.08,506.35 L345.43,507.51 Z" fill="#94839c"/><g clip-path="url(#cl20)"><path d="M345.58,508.91 L345.53,510.33 L345.26,511.50 L344.79,512.60 L344.11,513.63 L343.23,514.63 L342.15,515.58 L340.89,516.48 L339.44,517.35 L337.81,518.17 L336.00,518.94 L334.03,519.66 L331.89,520.33 L329.60,520.94 L327.14,521.49 L324.53,521.98 L321.72,522.40 L318.67,522.76 L314.96,523.09 L311.24,523.34 L308.18,523.44 L305.36,523.43 L302.72,523.32 L300.24,523.10 L297.91,522.78 L295.74,522.36 L293.72,521.83 L291.87,521.21 L290.18,520.48 L288.67,519.67 L287.35,518.76 L286.20,517.76 L285.25,516.67 L284.50,515.49 L283.94,514.21 L283.58,512.81 L283.42,511.09 L283.46,509.36 L283.72,507.93 L284.19,506.62 L284.86,505.39 L285.73,504.24 L286.80,503.16 L288.06,502.16 L289.51,501.24 L291.14,500.40 L292.95,499.65 L294.92,498.98 L297.06,498.41 L299.36,497.93 L301.82,497.54 L304.45,497.24 L307.26,497.04 L310.31,496.93 L314.04,496.91 L317.77,496.98 L320.84,497.13 L323.67,497.35 L326.31,497.66 L328.80,498.04 L331.13,498.49 L333.31,499.00 L335.33,499.58 L337.18,500.23 L338.87,500.93 L340.37,501.69 L341.70,502.51 L342.84,503.38 L343.78,504.31 L344.53,505.30 L345.08,506.35 L345.43,507.51 Z" fill="none" stroke="#dcc6c2" stroke-opacity="0.75" stroke-width="2.6" filter="url(#b05)"/><ellipse cx="293.5" cy="502.3" rx="3.2" ry="2.6" fill="#120c12" fill-opacity="1" filter="url(#b05)"/><ellipse cx="314" cy="511" rx="24" ry="8" fill="#75637f" fill-opacity="0.5" filter="url(#b2)"/><rect x="282.4" y="495.9" width="64.2" height="28.2" filter="url(#grain)" opacity="0.42"/><path d="M342.18,509.03 L341.88,510.99 L340.85,512.61 L339.10,514.08 L336.67,515.44 L333.61,516.65 L329.94,517.72 L325.70,518.62 L320.87,519.34 L314.85,519.89 L308.81,520.19 L303.95,520.12 L299.67,519.74 L295.94,519.04 L292.80,518.04 L290.28,516.75 L288.42,515.18 L287.27,513.33 L286.82,510.97 L287.10,508.58 L288.13,506.65 L289.87,504.96 L292.29,503.50 L295.36,502.28 L299.03,501.32 L303.27,500.64 L308.11,500.23 L314.15,500.11 L320.21,500.24 L325.08,500.62 L329.36,501.22 L333.09,502.03 L336.24,503.03 L338.76,504.21 L340.60,505.56 L341.75,507.10 Z" fill="none" stroke="#4a3c48" stroke-opacity="0.28" stroke-width="0.5"/><path d="M292.1,511.6 C305.2,513.9 323.8,510.7 335.6,511.0" fill="none" stroke="#e0c8cc" stroke-opacity="0.35" stroke-width="0.7"/></g><path d="M345.58,508.91 L345.53,510.33 L345.26,511.50 L344.79,512.60 L344.11,513.63 L343.23,514.63 L342.15,515.58 L340.89,516.48 L339.44,517.35 L337.81,518.17 L336.00,518.94 L334.03,519.66 L331.89,520.33 L329.60,520.94 L327.14,521.49 L324.53,521.98 L321.72,522.40 L318.67,522.76 L314.96,523.09 L311.24,523.34 L308.18,523.44 L305.36,523.43 L302.72,523.32 L300.24,523.10 L297.91,522.78 L295.74,522.36 L293.72,521.83 L291.87,521.21 L290.18,520.48 L288.67,519.67 L287.35,518.76 L286.20,517.76 L285.25,516.67 L284.50,515.49 L283.94,514.21 L283.58,512.81 L283.42,511.09 L283.46,509.36 L283.72,507.93 L284.19,506.62 L284.86,505.39 L285.73,504.24 L286.80,503.16 L288.06,502.16 L289.51,501.24 L291.14,500.40 L292.95,499.65 L294.92,498.98 L297.06,498.41 L299.36,497.93 L301.82,497.54 L304.45,497.24 L307.26,497.04 L310.31,496.93 L314.04,496.91 L317.77,496.98 L320.84,497.13 L323.67,497.35 L326.31,497.66 L328.80,498.04 L331.13,498.49 L333.31,499.00 L335.33,499.58 L337.18,500.23 L338.87,500.93 L340.37,501.69 L341.70,502.51 L342.84,503.38 L343.78,504.31 L344.53,505.30 L345.08,506.35 L345.43,507.51 Z" fill="none" stroke="#3a2e34" stroke-opacity="0.7" stroke-width="0.55"/><rect x="373.0" y="486.5" width="72.0" height="48.2" fill="#cbcbce"/><clipPath id="cl21"><path d="M432.39,512.27 L432.35,513.49 L432.15,514.49 L431.79,515.41 L431.28,516.29 L430.61,517.11 L429.79,517.89 L428.83,518.63 L427.73,519.32 L426.48,519.96 L425.11,520.54 L423.60,521.08 L421.97,521.55 L420.22,521.98 L418.35,522.34 L416.35,522.64 L414.22,522.88 L411.89,523.06 L409.05,523.19 L406.21,523.26 L403.88,523.24 L401.73,523.15 L399.72,522.99 L397.82,522.76 L396.05,522.46 L394.39,522.10 L392.85,521.67 L391.44,521.18 L390.15,520.63 L389.00,520.02 L387.99,519.35 L387.12,518.63 L386.40,517.85 L385.83,517.02 L385.40,516.12 L385.14,515.13 L385.01,513.93 L385.05,512.71 L385.25,511.71 L385.61,510.79 L386.12,509.91 L386.79,509.09 L387.61,508.31 L388.57,507.57 L389.67,506.88 L390.92,506.24 L392.29,505.66 L393.80,505.12 L395.43,504.65 L397.18,504.22 L399.05,503.86 L401.05,503.56 L403.18,503.32 L405.51,503.14 L408.35,503.01 L411.19,502.94 L413.52,502.96 L415.67,503.05 L417.68,503.21 L419.58,503.44 L421.35,503.74 L423.01,504.10 L424.55,504.53 L425.96,505.02 L427.25,505.57 L428.40,506.18 L429.41,506.85 L430.28,507.57 L431.00,508.35 L431.57,509.18 L432.00,510.08 L432.26,511.07 Z"/></clipPath><path d="M432.39,512.27 L432.35,513.49 L432.15,514.49 L431.79,515.41 L431.28,516.29 L430.61,517.11 L429.79,517.89 L428.83,518.63 L427.73,519.32 L426.48,519.96 L425.11,520.54 L423.60,521.08 L421.97,521.55 L420.22,521.98 L418.35,522.34 L416.35,522.64 L414.22,522.88 L411.89,523.06 L409.05,523.19 L406.21,523.26 L403.88,523.24 L401.73,523.15 L399.72,522.99 L397.82,522.76 L396.05,522.46 L394.39,522.10 L392.85,521.67 L391.44,521.18 L390.15,520.63 L389.00,520.02 L387.99,519.35 L387.12,518.63 L386.40,517.85 L385.83,517.02 L385.40,516.12 L385.14,515.13 L385.01,513.93 L385.05,512.71 L385.25,511.71 L385.61,510.79 L386.12,509.91 L386.79,509.09 L387.61,508.31 L388.57,507.57 L389.67,506.88 L390.92,506.24 L392.29,505.66 L393.80,505.12 L395.43,504.65 L397.18,504.22 L399.05,503.86 L401.05,503.56 L403.18,503.32 L405.51,503.14 L408.35,503.01 L411.19,502.94 L413.52,502.96 L415.67,503.05 L417.68,503.21 L419.58,503.44 L421.35,503.74 L423.01,504.10 L424.55,504.53 L425.96,505.02 L427.25,505.57 L428.40,506.18 L429.41,506.85 L430.28,507.57 L431.00,508.35 L431.57,509.18 L432.00,510.08 L432.26,511.07 Z" fill="#c0b0b9"/><g clip-path="url(#cl21)"><path d="M432.39,512.27 L432.35,513.49 L432.15,514.49 L431.79,515.41 L431.28,516.29 L430.61,517.11 L429.79,517.89 L428.83,518.63 L427.73,519.32 L426.48,519.96 L425.11,520.54 L423.60,521.08 L421.97,521.55 L420.22,521.98 L418.35,522.34 L416.35,522.64 L414.22,522.88 L411.89,523.06 L409.05,523.19 L406.21,523.26 L403.88,523.24 L401.73,523.15 L399.72,522.99 L397.82,522.76 L396.05,522.46 L394.39,522.10 L392.85,521.67 L391.44,521.18 L390.15,520.63 L389.00,520.02 L387.99,519.35 L387.12,518.63 L386.40,517.85 L385.83,517.02 L385.40,516.12 L385.14,515.13 L385.01,513.93 L385.05,512.71 L385.25,511.71 L385.61,510.79 L386.12,509.91 L386.79,509.09 L387.61,508.31 L388.57,507.57 L389.67,506.88 L390.92,506.24 L392.29,505.66 L393.80,505.12 L395.43,504.65 L397.18,504.22 L399.05,503.86 L401.05,503.56 L403.18,503.32 L405.51,503.14 L408.35,503.01 L411.19,502.94 L413.52,502.96 L415.67,503.05 L417.68,503.21 L419.58,503.44 L421.35,503.74 L423.01,504.10 L424.55,504.53 L425.96,505.02 L427.25,505.57 L428.40,506.18 L429.41,506.85 L430.28,507.57 L431.00,508.35 L431.57,509.18 L432.00,510.08 L432.26,511.07 Z" fill="none" stroke="#dcc6c2" stroke-opacity="0.75" stroke-width="2.6" filter="url(#b05)"/><ellipse cx="403" cy="512.6" rx="15" ry="4" fill="#170f16" fill-opacity="1" filter="url(#b1)"/><ellipse cx="395" cy="512.5" rx="5" ry="3.5" fill="#221620" fill-opacity="0.8" filter="url(#b1)"/><ellipse cx="405" cy="513" rx="18" ry="6" fill="#5a4660" fill-opacity="0.55" filter="url(#b2)"/><rect x="384.0" y="502.0" width="49.4" height="22.2" filter="url(#grain)" opacity="0.42"/><path d="M428.99,512.39 L428.77,513.91 L428.01,515.14 L426.73,516.25 L424.95,517.23 L422.71,518.09 L420.02,518.80 L416.91,519.35 L413.36,519.75 L408.94,520.00 L404.51,520.06 L400.95,519.91 L397.81,519.57 L395.08,519.05 L392.77,518.36 L390.93,517.50 L389.58,516.48 L388.73,515.30 L388.41,513.81 L388.63,512.29 L389.39,511.06 L390.67,509.95 L392.45,508.97 L394.69,508.11 L397.38,507.40 L400.49,506.85 L404.04,506.45 L408.46,506.20 L412.89,506.14 L416.45,506.29 L419.59,506.63 L422.32,507.15 L424.63,507.84 L426.47,508.70 L427.82,509.72 L428.67,510.90 Z" fill="none" stroke="#4a3c48" stroke-opacity="0.28" stroke-width="0.5"/><path d="M391.6,514.3 C401.6,516.1 415.8,513.6 424.8,513.9" fill="none" stroke="#e0c8cc" stroke-opacity="0.35" stroke-width="0.7"/></g><path d="M432.39,512.27 L432.35,513.49 L432.15,514.49 L431.79,515.41 L431.28,516.29 L430.61,517.11 L429.79,517.89 L428.83,518.63 L427.73,519.32 L426.48,519.96 L425.11,520.54 L423.60,521.08 L421.97,521.55 L420.22,521.98 L418.35,522.34 L416.35,522.64 L414.22,522.88 L411.89,523.06 L409.05,523.19 L406.21,523.26 L403.88,523.24 L401.73,523.15 L399.72,522.99 L397.82,522.76 L396.05,522.46 L394.39,522.10 L392.85,521.67 L391.44,521.18 L390.15,520.63 L389.00,520.02 L387.99,519.35 L387.12,518.63 L386.40,517.85 L385.83,517.02 L385.40,516.12 L385.14,515.13 L385.01,513.93 L385.05,512.71 L385.25,511.71 L385.61,510.79 L386.12,509.91 L386.79,509.09 L387.61,508.31 L388.57,507.57 L389.67,506.88 L390.92,506.24 L392.29,505.66 L393.80,505.12 L395.43,504.65 L397.18,504.22 L399.05,503.86 L401.05,503.56 L403.18,503.32 L405.51,503.14 L408.35,503.01 L411.19,502.94 L413.52,502.96 L415.67,503.05 L417.68,503.21 L419.58,503.44 L421.35,503.74 L423.01,504.10 L424.55,504.53 L425.96,505.02 L427.25,505.57 L428.40,506.18 L429.41,506.85 L430.28,507.57 L431.00,508.35 L431.57,509.18 L432.00,510.08 L432.26,511.07 Z" fill="none" stroke="#3a2e34" stroke-opacity="0.7" stroke-width="0.55"/><rect x="467.0" y="486.5" width="72.2" height="48.2" fill="#c9cacd"/><clipPath id="cl22"><path d="M535.16,509.95 L535.13,511.49 L534.87,512.86 L534.40,514.15 L533.70,515.38 L532.80,516.57 L531.68,517.70 L530.37,518.78 L528.86,519.79 L527.17,520.74 L525.30,521.62 L523.26,522.43 L521.06,523.16 L518.70,523.81 L516.20,524.38 L513.56,524.86 L510.76,525.25 L507.77,525.55 L504.34,525.78 L500.91,525.91 L497.91,525.92 L495.08,525.82 L492.40,525.62 L489.86,525.32 L487.45,524.92 L485.18,524.43 L483.07,523.84 L481.11,523.15 L479.33,522.39 L477.73,521.53 L476.31,520.60 L475.08,519.59 L474.06,518.51 L473.24,517.35 L472.63,516.12 L472.23,514.79 L472.04,513.25 L472.07,511.71 L472.33,510.34 L472.80,509.05 L473.50,507.82 L474.40,506.63 L475.52,505.50 L476.83,504.42 L478.34,503.41 L480.03,502.46 L481.90,501.58 L483.94,500.77 L486.14,500.04 L488.50,499.39 L491.00,498.82 L493.64,498.34 L496.44,497.95 L499.43,497.65 L502.86,497.42 L506.29,497.29 L509.29,497.28 L512.12,497.38 L514.80,497.58 L517.34,497.88 L519.75,498.28 L522.02,498.77 L524.13,499.36 L526.09,500.05 L527.87,500.81 L529.47,501.67 L530.89,502.60 L532.12,503.61 L533.14,504.69 L533.96,505.85 L534.57,507.08 L534.97,508.41 Z"/></clipPath><path d="M535.16,509.95 L535.13,511.49 L534.87,512.86 L534.40,514.15 L533.70,515.38 L532.80,516.57 L531.68,517.70 L530.37,518.78 L528.86,519.79 L527.17,520.74 L525.30,521.62 L523.26,522.43 L521.06,523.16 L518.70,523.81 L516.20,524.38 L513.56,524.86 L510.76,525.25 L507.77,525.55 L504.34,525.78 L500.91,525.91 L497.91,525.92 L495.08,525.82 L492.40,525.62 L489.86,525.32 L487.45,524.92 L485.18,524.43 L483.07,523.84 L481.11,523.15 L479.33,522.39 L477.73,521.53 L476.31,520.60 L475.08,519.59 L474.06,518.51 L473.24,517.35 L472.63,516.12 L472.23,514.79 L472.04,513.25 L472.07,511.71 L472.33,510.34 L472.80,509.05 L473.50,507.82 L474.40,506.63 L475.52,505.50 L476.83,504.42 L478.34,503.41 L480.03,502.46 L481.90,501.58 L483.94,500.77 L486.14,500.04 L488.50,499.39 L491.00,498.82 L493.64,498.34 L496.44,497.95 L499.43,497.65 L502.86,497.42 L506.29,497.29 L509.29,497.28 L512.12,497.38 L514.80,497.58 L517.34,497.88 L519.75,498.28 L522.02,498.77 L524.13,499.36 L526.09,500.05 L527.87,500.81 L529.47,501.67 L530.89,502.60 L532.12,503.61 L533.14,504.69 L533.96,505.85 L534.57,507.08 L534.97,508.41 Z" fill="#aaa1b2"/><g clip-path="url(#cl22)"><path d="M535.16,509.95 L535.13,511.49 L534.87,512.86 L534.40,514.15 L533.70,515.38 L532.80,516.57 L531.68,517.70 L530.37,518.78 L528.86,519.79 L527.17,520.74 L525.30,521.62 L523.26,522.43 L521.06,523.16 L518.70,523.81 L516.20,524.38 L513.56,524.86 L510.76,525.25 L507.77,525.55 L504.34,525.78 L500.91,525.91 L497.91,525.92 L495.08,525.82 L492.40,525.62 L489.86,525.32 L487.45,524.92 L485.18,524.43 L483.07,523.84 L481.11,523.15 L479.33,522.39 L477.73,521.53 L476.31,520.60 L475.08,519.59 L474.06,518.51 L473.24,517.35 L472.63,516.12 L472.23,514.79 L472.04,513.25 L472.07,511.71 L472.33,510.34 L472.80,509.05 L473.50,507.82 L474.40,506.63 L475.52,505.50 L476.83,504.42 L478.34,503.41 L480.03,502.46 L481.90,501.58 L483.94,500.77 L486.14,500.04 L488.50,499.39 L491.00,498.82 L493.64,498.34 L496.44,497.95 L499.43,497.65 L502.86,497.42 L506.29,497.29 L509.29,497.28 L512.12,497.38 L514.80,497.58 L517.34,497.88 L519.75,498.28 L522.02,498.77 L524.13,499.36 L526.09,500.05 L527.87,500.81 L529.47,501.67 L530.89,502.60 L532.12,503.61 L533.14,504.69 L533.96,505.85 L534.57,507.08 L534.97,508.41 Z" fill="none" stroke="#dcc6c2" stroke-opacity="0.75" stroke-width="2.6" filter="url(#b05)"/><ellipse cx="526" cy="509" rx="2.6" ry="2.6" fill="#140e18" fill-opacity="1" filter="url(#b05)"/><ellipse cx="500" cy="510" rx="20" ry="6" fill="#8d82a0" fill-opacity="0.5" filter="url(#b2)"/><rect x="471.0" y="496.4" width="65.2" height="30.4" filter="url(#grain)" opacity="0.42"/><path d="M531.76,510.12 L531.49,512.38 L530.43,514.35 L528.62,516.15 L526.09,517.79 L522.90,519.23 L519.10,520.45 L514.76,521.42 L509.90,522.13 L504.18,522.58 L498.43,522.73 L493.53,522.54 L489.11,522.02 L485.21,521.21 L481.88,520.11 L479.20,518.74 L477.20,517.14 L475.95,515.29 L475.44,513.08 L475.71,510.82 L476.77,508.85 L478.58,507.05 L481.11,505.41 L484.30,503.97 L488.10,502.75 L492.44,501.78 L497.30,501.07 L503.02,500.62 L508.77,500.47 L513.67,500.66 L518.09,501.18 L521.99,501.99 L525.32,503.09 L528.00,504.46 L530.00,506.06 L531.25,507.91 Z" fill="none" stroke="#4a3c48" stroke-opacity="0.28" stroke-width="0.5"/><path d="M480.8,513.3 C494.1,515.9 513.1,512.3 525.1,512.7" fill="none" stroke="#e0c8cc" stroke-opacity="0.35" stroke-width="0.7"/></g><path d="M535.16,509.95 L535.13,511.49 L534.87,512.86 L534.40,514.15 L533.70,515.38 L532.80,516.57 L531.68,517.70 L530.37,518.78 L528.86,519.79 L527.17,520.74 L525.30,521.62 L523.26,522.43 L521.06,523.16 L518.70,523.81 L516.20,524.38 L513.56,524.86 L510.76,525.25 L507.77,525.55 L504.34,525.78 L500.91,525.91 L497.91,525.92 L495.08,525.82 L492.40,525.62 L489.86,525.32 L487.45,524.92 L485.18,524.43 L483.07,523.84 L481.11,523.15 L479.33,522.39 L477.73,521.53 L476.31,520.60 L475.08,519.59 L474.06,518.51 L473.24,517.35 L472.63,516.12 L472.23,514.79 L472.04,513.25 L472.07,511.71 L472.33,510.34 L472.80,509.05 L473.50,507.82 L474.40,506.63 L475.52,505.50 L476.83,504.42 L478.34,503.41 L480.03,502.46 L481.90,501.58 L483.94,500.77 L486.14,500.04 L488.50,499.39 L491.00,498.82 L493.64,498.34 L496.44,497.95 L499.43,497.65 L502.86,497.42 L506.29,497.29 L509.29,497.28 L512.12,497.38 L514.80,497.58 L517.34,497.88 L519.75,498.28 L522.02,498.77 L524.13,499.36 L526.09,500.05 L527.87,500.81 L529.47,501.67 L530.89,502.60 L532.12,503.61 L533.14,504.69 L533.96,505.85 L534.57,507.08 L534.97,508.41 Z" fill="none" stroke="#3a2e34" stroke-opacity="0.7" stroke-width="0.55"/><rect x="278.0" y="540.0" width="73.0" height="47.8" fill="#c5c9cb"/><clipPath id="cl30"><path d="M345.20,563.00 L345.12,565.35 L344.87,566.84 L344.45,568.10 L343.87,569.23 L343.13,570.24 L342.22,571.17 L341.15,572.01 L339.91,572.77 L338.51,573.46 L336.94,574.08 L335.21,574.62 L333.29,575.09 L331.19,575.49 L328.87,575.82 L326.31,576.07 L323.43,576.25 L320.04,576.36 L314.70,576.40 L309.36,576.36 L305.97,576.25 L303.09,576.07 L300.53,575.82 L298.21,575.49 L296.11,575.09 L294.19,574.62 L292.46,574.08 L290.89,573.46 L289.49,572.77 L288.25,572.01 L287.18,571.17 L286.27,570.24 L285.53,569.23 L284.95,568.10 L284.53,566.84 L284.28,565.35 L284.20,563.00 L284.28,560.65 L284.53,559.16 L284.95,557.90 L285.53,556.77 L286.27,555.76 L287.18,554.83 L288.25,553.99 L289.49,553.23 L290.89,552.54 L292.46,551.92 L294.19,551.38 L296.11,550.91 L298.21,550.51 L300.53,550.18 L303.09,549.93 L305.97,549.75 L309.36,549.64 L314.70,549.60 L320.04,549.64 L323.43,549.75 L326.31,549.93 L328.87,550.18 L331.19,550.51 L333.29,550.91 L335.21,551.38 L336.94,551.92 L338.51,552.54 L339.91,553.23 L341.15,553.99 L342.22,554.83 L343.13,555.76 L343.87,556.77 L344.45,557.90 L344.87,559.16 L345.12,560.65 Z"/></clipPath><path d="M345.20,563.00 L345.12,565.35 L344.87,566.84 L344.45,568.10 L343.87,569.23 L343.13,570.24 L342.22,571.17 L341.15,572.01 L339.91,572.77 L338.51,573.46 L336.94,574.08 L335.21,574.62 L333.29,575.09 L331.19,575.49 L328.87,575.82 L326.31,576.07 L323.43,576.25 L320.04,576.36 L314.70,576.40 L309.36,576.36 L305.97,576.25 L303.09,576.07 L300.53,575.82 L298.21,575.49 L296.11,575.09 L294.19,574.62 L292.46,574.08 L290.89,573.46 L289.49,572.77 L288.25,572.01 L287.18,571.17 L286.27,570.24 L285.53,569.23 L284.95,568.10 L284.53,566.84 L284.28,565.35 L284.20,563.00 L284.28,560.65 L284.53,559.16 L284.95,557.90 L285.53,556.77 L286.27,555.76 L287.18,554.83 L288.25,553.99 L289.49,553.23 L290.89,552.54 L292.46,551.92 L294.19,551.38 L296.11,550.91 L298.21,550.51 L300.53,550.18 L303.09,549.93 L305.97,549.75 L309.36,549.64 L314.70,549.60 L320.04,549.64 L323.43,549.75 L326.31,549.93 L328.87,550.18 L331.19,550.51 L333.29,550.91 L335.21,551.38 L336.94,551.92 L338.51,552.54 L339.91,553.23 L341.15,553.99 L342.22,554.83 L343.13,555.76 L343.87,556.77 L344.45,557.90 L344.87,559.16 L345.12,560.65 Z" fill="#8a7a8e"/><g clip-path="url(#cl30)"><path d="M345.20,563.00 L345.12,565.35 L344.87,566.84 L344.45,568.10 L343.87,569.23 L343.13,570.24 L342.22,571.17 L341.15,572.01 L339.91,572.77 L338.51,573.46 L336.94,574.08 L335.21,574.62 L333.29,575.09 L331.19,575.49 L328.87,575.82 L326.31,576.07 L323.43,576.25 L320.04,576.36 L314.70,576.40 L309.36,576.36 L305.97,576.25 L303.09,576.07 L300.53,575.82 L298.21,575.49 L296.11,575.09 L294.19,574.62 L292.46,574.08 L290.89,573.46 L289.49,572.77 L288.25,572.01 L287.18,571.17 L286.27,570.24 L285.53,569.23 L284.95,568.10 L284.53,566.84 L284.28,565.35 L284.20,563.00 L284.28,560.65 L284.53,559.16 L284.95,557.90 L285.53,556.77 L286.27,555.76 L287.18,554.83 L288.25,553.99 L289.49,553.23 L290.89,552.54 L292.46,551.92 L294.19,551.38 L296.11,550.91 L298.21,550.51 L300.53,550.18 L303.09,549.93 L305.97,549.75 L309.36,549.64 L314.70,549.60 L320.04,549.64 L323.43,549.75 L326.31,549.93 L328.87,550.18 L331.19,550.51 L333.29,550.91 L335.21,551.38 L336.94,551.92 L338.51,552.54 L339.91,553.23 L341.15,553.99 L342.22,554.83 L343.13,555.76 L343.87,556.77 L344.45,557.90 L344.87,559.16 L345.12,560.65 Z" fill="none" stroke="#dcc6c2" stroke-opacity="0.75" stroke-width="2.6" filter="url(#b05)"/><ellipse cx="293.5" cy="563" rx="3.2" ry="3.6" fill="#1a1218" fill-opacity="1" filter="url(#b1)"/><ellipse cx="318" cy="563" rx="22" ry="8" fill="#6a5a70" fill-opacity="0.5" filter="url(#b2)"/><rect x="283.2" y="548.6" width="63.0" height="28.8" filter="url(#grain)" opacity="0.42"/><path d="M341.80,563.00 L341.51,565.92 L340.62,567.74 L339.15,569.22 L337.10,570.44 L334.46,571.43 L331.22,572.20 L327.29,572.76 L322.46,573.09 L314.70,573.20 L306.94,573.09 L302.11,572.76 L298.18,572.20 L294.94,571.43 L292.30,570.44 L290.25,569.22 L288.78,567.74 L287.89,565.92 L287.60,563.00 L287.89,560.08 L288.78,558.26 L290.25,556.78 L292.30,555.56 L294.94,554.57 L298.18,553.80 L302.11,553.24 L306.94,552.91 L314.70,552.80 L322.46,552.91 L327.29,553.24 L331.22,553.80 L334.46,554.57 L337.10,555.56 L339.15,556.78 L340.62,558.26 L341.51,560.08 Z" fill="none" stroke="#4a3c48" stroke-opacity="0.28" stroke-width="0.5"/><path d="M292.7,564.6 C305.6,567.0 323.8,563.7 335.4,564.1" fill="none" stroke="#e0c8cc" stroke-opacity="0.35" stroke-width="0.7"/></g><path d="M345.20,563.00 L345.12,565.35 L344.87,566.84 L344.45,568.10 L343.87,569.23 L343.13,570.24 L342.22,571.17 L341.15,572.01 L339.91,572.77 L338.51,573.46 L336.94,574.08 L335.21,574.62 L333.29,575.09 L331.19,575.49 L328.87,575.82 L326.31,576.07 L323.43,576.25 L320.04,576.36 L314.70,576.40 L309.36,576.36 L305.97,576.25 L303.09,576.07 L300.53,575.82 L298.21,575.49 L296.11,575.09 L294.19,574.62 L292.46,574.08 L290.89,573.46 L289.49,572.77 L288.25,572.01 L287.18,571.17 L286.27,570.24 L285.53,569.23 L284.95,568.10 L284.53,566.84 L284.28,565.35 L284.20,563.00 L284.28,560.65 L284.53,559.16 L284.95,557.90 L285.53,556.77 L286.27,555.76 L287.18,554.83 L288.25,553.99 L289.49,553.23 L290.89,552.54 L292.46,551.92 L294.19,551.38 L296.11,550.91 L298.21,550.51 L300.53,550.18 L303.09,549.93 L305.97,549.75 L309.36,549.64 L314.70,549.60 L320.04,549.64 L323.43,549.75 L326.31,549.93 L328.87,550.18 L331.19,550.51 L333.29,550.91 L335.21,551.38 L336.94,551.92 L338.51,552.54 L339.91,553.23 L341.15,553.99 L342.22,554.83 L343.13,555.76 L343.87,556.77 L344.45,557.90 L344.87,559.16 L345.12,560.65 Z" fill="none" stroke="#3a2e34" stroke-opacity="0.7" stroke-width="0.55"/><rect x="373.0" y="540.0" width="72.0" height="47.8" fill="#c9c9cb"/><clipPath id="cl31"><path d="M433.60,564.10 L433.53,565.66 L433.32,566.75 L432.98,567.71 L432.50,568.57 L431.88,569.36 L431.13,570.08 L430.24,570.75 L429.23,571.36 L428.08,571.91 L426.80,572.41 L425.39,572.85 L423.85,573.23 L422.17,573.56 L420.34,573.82 L418.34,574.03 L416.14,574.18 L413.61,574.27 L410.00,574.30 L406.39,574.27 L403.86,574.18 L401.66,574.03 L399.66,573.82 L397.83,573.56 L396.15,573.23 L394.61,572.85 L393.20,572.41 L391.92,571.91 L390.77,571.36 L389.76,570.75 L388.87,570.08 L388.12,569.36 L387.50,568.57 L387.02,567.71 L386.68,566.75 L386.47,565.66 L386.40,564.10 L386.47,562.54 L386.68,561.45 L387.02,560.49 L387.50,559.63 L388.12,558.84 L388.87,558.12 L389.76,557.45 L390.77,556.84 L391.92,556.29 L393.20,555.79 L394.61,555.35 L396.15,554.97 L397.83,554.64 L399.66,554.38 L401.66,554.17 L403.86,554.02 L406.39,553.93 L410.00,553.90 L413.61,553.93 L416.14,554.02 L418.34,554.17 L420.34,554.38 L422.17,554.64 L423.85,554.97 L425.39,555.35 L426.80,555.79 L428.08,556.29 L429.23,556.84 L430.24,557.45 L431.13,558.12 L431.88,558.84 L432.50,559.63 L432.98,560.49 L433.32,561.45 L433.53,562.54 Z"/></clipPath><path d="M433.60,564.10 L433.53,565.66 L433.32,566.75 L432.98,567.71 L432.50,568.57 L431.88,569.36 L431.13,570.08 L430.24,570.75 L429.23,571.36 L428.08,571.91 L426.80,572.41 L425.39,572.85 L423.85,573.23 L422.17,573.56 L420.34,573.82 L418.34,574.03 L416.14,574.18 L413.61,574.27 L410.00,574.30 L406.39,574.27 L403.86,574.18 L401.66,574.03 L399.66,573.82 L397.83,573.56 L396.15,573.23 L394.61,572.85 L393.20,572.41 L391.92,571.91 L390.77,571.36 L389.76,570.75 L388.87,570.08 L388.12,569.36 L387.50,568.57 L387.02,567.71 L386.68,566.75 L386.47,565.66 L386.40,564.10 L386.47,562.54 L386.68,561.45 L387.02,560.49 L387.50,559.63 L388.12,558.84 L388.87,558.12 L389.76,557.45 L390.77,556.84 L391.92,556.29 L393.20,555.79 L394.61,555.35 L396.15,554.97 L397.83,554.64 L399.66,554.38 L401.66,554.17 L403.86,554.02 L406.39,553.93 L410.00,553.90 L413.61,553.93 L416.14,554.02 L418.34,554.17 L420.34,554.38 L422.17,554.64 L423.85,554.97 L425.39,555.35 L426.80,555.79 L428.08,556.29 L429.23,556.84 L430.24,557.45 L431.13,558.12 L431.88,558.84 L432.50,559.63 L432.98,560.49 L433.32,561.45 L433.53,562.54 Z" fill="#c2b2ba"/><g clip-path="url(#cl31)"><path d="M433.60,564.10 L433.53,565.66 L433.32,566.75 L432.98,567.71 L432.50,568.57 L431.88,569.36 L431.13,570.08 L430.24,570.75 L429.23,571.36 L428.08,571.91 L426.80,572.41 L425.39,572.85 L423.85,573.23 L422.17,573.56 L420.34,573.82 L418.34,574.03 L416.14,574.18 L413.61,574.27 L410.00,574.30 L406.39,574.27 L403.86,574.18 L401.66,574.03 L399.66,573.82 L397.83,573.56 L396.15,573.23 L394.61,572.85 L393.20,572.41 L391.92,571.91 L390.77,571.36 L389.76,570.75 L388.87,570.08 L388.12,569.36 L387.50,568.57 L387.02,567.71 L386.68,566.75 L386.47,565.66 L386.40,564.10 L386.47,562.54 L386.68,561.45 L387.02,560.49 L387.50,559.63 L388.12,558.84 L388.87,558.12 L389.76,557.45 L390.77,556.84 L391.92,556.29 L393.20,555.79 L394.61,555.35 L396.15,554.97 L397.83,554.64 L399.66,554.38 L401.66,554.17 L403.86,554.02 L406.39,553.93 L410.00,553.90 L413.61,553.93 L416.14,554.02 L418.34,554.17 L420.34,554.38 L422.17,554.64 L423.85,554.97 L425.39,555.35 L426.80,555.79 L428.08,556.29 L429.23,556.84 L430.24,557.45 L431.13,558.12 L431.88,558.84 L432.50,559.63 L432.98,560.49 L433.32,561.45 L433.53,562.54 Z" fill="none" stroke="#dcc6c2" stroke-opacity="0.75" stroke-width="2.6" filter="url(#b05)"/><ellipse cx="407.5" cy="564.3" rx="16" ry="5" fill="#1c121c" fill-opacity="1" filter="url(#b1)"/><ellipse cx="407" cy="564" rx="19" ry="7" fill="#5a4660" fill-opacity="0.55" filter="url(#b2)"/><rect x="385.4" y="552.9" width="49.2" height="22.4" filter="url(#grain)" opacity="0.42"/><path d="M430.20,564.10 L429.96,565.92 L429.26,567.17 L428.08,568.21 L426.46,569.08 L424.38,569.80 L421.85,570.37 L418.85,570.77 L415.25,571.02 L410.00,571.10 L404.75,571.02 L401.15,570.77 L398.15,570.37 L395.62,569.80 L393.54,569.08 L391.92,568.21 L390.74,567.17 L390.04,565.92 L389.80,564.10 L390.04,562.28 L390.74,561.03 L391.92,559.99 L393.54,559.12 L395.62,558.40 L398.15,557.83 L401.15,557.43 L404.75,557.18 L410.00,557.10 L415.25,557.18 L418.85,557.43 L421.85,557.83 L424.38,558.40 L426.46,559.12 L428.08,559.99 L429.26,561.03 L429.96,562.28 Z" fill="none" stroke="#4a3c48" stroke-opacity="0.28" stroke-width="0.5"/><path d="M393.0,565.3 C402.9,567.2 417.1,564.6 426.0,564.9" fill="none" stroke="#e0c8cc" stroke-opacity="0.35" stroke-width="0.7"/></g><path d="M433.60,564.10 L433.53,565.66 L433.32,566.75 L432.98,567.71 L432.50,568.57 L431.88,569.36 L431.13,570.08 L430.24,570.75 L429.23,571.36 L428.08,571.91 L426.80,572.41 L425.39,572.85 L423.85,573.23 L422.17,573.56 L420.34,573.82 L418.34,574.03 L416.14,574.18 L413.61,574.27 L410.00,574.30 L406.39,574.27 L403.86,574.18 L401.66,574.03 L399.66,573.82 L397.83,573.56 L396.15,573.23 L394.61,572.85 L393.20,572.41 L391.92,571.91 L390.77,571.36 L389.76,570.75 L388.87,570.08 L388.12,569.36 L387.50,568.57 L387.02,567.71 L386.68,566.75 L386.47,565.66 L386.40,564.10 L386.47,562.54 L386.68,561.45 L387.02,560.49 L387.50,559.63 L388.12,558.84 L388.87,558.12 L389.76,557.45 L390.77,556.84 L391.92,556.29 L393.20,555.79 L394.61,555.35 L396.15,554.97 L397.83,554.64 L399.66,554.38 L401.66,554.17 L403.86,554.02 L406.39,553.93 L410.00,553.90 L413.61,553.93 L416.14,554.02 L418.34,554.17 L420.34,554.38 L422.17,554.64 L423.85,554.97 L425.39,555.35 L426.80,555.79 L428.08,556.29 L429.23,556.84 L430.24,557.45 L431.13,558.12 L431.88,558.84 L432.50,559.63 L432.98,560.49 L433.32,561.45 L433.53,562.54 Z" fill="none" stroke="#3a2e34" stroke-opacity="0.7" stroke-width="0.55"/><rect x="467.0" y="540.0" width="72.2" height="47.8" fill="#c8c9cb"/><clipPath id="cl32"><path d="M534.00,561.80 L533.91,563.82 L533.62,565.30 L533.15,566.62 L532.50,567.82 L531.65,568.93 L530.63,569.96 L529.43,570.90 L528.05,571.77 L526.49,572.56 L524.77,573.27 L522.87,573.91 L520.80,574.46 L518.56,574.93 L516.14,575.31 L513.51,575.61 L510.64,575.83 L507.40,575.96 L503.00,576.00 L498.60,575.96 L495.36,575.83 L492.49,575.61 L489.86,575.31 L487.44,574.93 L485.20,574.46 L483.13,573.91 L481.23,573.27 L479.51,572.56 L477.95,571.77 L476.57,570.90 L475.37,569.96 L474.35,568.93 L473.50,567.82 L472.85,566.62 L472.38,565.30 L472.09,563.82 L472.00,561.80 L472.09,559.78 L472.38,558.30 L472.85,556.98 L473.50,555.78 L474.35,554.67 L475.37,553.64 L476.57,552.70 L477.95,551.83 L479.51,551.04 L481.23,550.33 L483.13,549.69 L485.20,549.14 L487.44,548.67 L489.86,548.29 L492.49,547.99 L495.36,547.77 L498.60,547.64 L503.00,547.60 L507.40,547.64 L510.64,547.77 L513.51,547.99 L516.14,548.29 L518.56,548.67 L520.80,549.14 L522.87,549.69 L524.77,550.33 L526.49,551.04 L528.05,551.83 L529.43,552.70 L530.63,553.64 L531.65,554.67 L532.50,555.78 L533.15,556.98 L533.62,558.30 L533.91,559.78 Z"/></clipPath><path d="M534.00,561.80 L533.91,563.82 L533.62,565.30 L533.15,566.62 L532.50,567.82 L531.65,568.93 L530.63,569.96 L529.43,570.90 L528.05,571.77 L526.49,572.56 L524.77,573.27 L522.87,573.91 L520.80,574.46 L518.56,574.93 L516.14,575.31 L513.51,575.61 L510.64,575.83 L507.40,575.96 L503.00,576.00 L498.60,575.96 L495.36,575.83 L492.49,575.61 L489.86,575.31 L487.44,574.93 L485.20,574.46 L483.13,573.91 L481.23,573.27 L479.51,572.56 L477.95,571.77 L476.57,570.90 L475.37,569.96 L474.35,568.93 L473.50,567.82 L472.85,566.62 L472.38,565.30 L472.09,563.82 L472.00,561.80 L472.09,559.78 L472.38,558.30 L472.85,556.98 L473.50,555.78 L474.35,554.67 L475.37,553.64 L476.57,552.70 L477.95,551.83 L479.51,551.04 L481.23,550.33 L483.13,549.69 L485.20,549.14 L487.44,548.67 L489.86,548.29 L492.49,547.99 L495.36,547.77 L498.60,547.64 L503.00,547.60 L507.40,547.64 L510.64,547.77 L513.51,547.99 L516.14,548.29 L518.56,548.67 L520.80,549.14 L522.87,549.69 L524.77,550.33 L526.49,551.04 L528.05,551.83 L529.43,552.70 L530.63,553.64 L531.65,554.67 L532.50,555.78 L533.15,556.98 L533.62,558.30 L533.91,559.78 Z" fill="#aaa2b2"/><g clip-path="url(#cl32)"><path d="M534.00,561.80 L533.91,563.82 L533.62,565.30 L533.15,566.62 L532.50,567.82 L531.65,568.93 L530.63,569.96 L529.43,570.90 L528.05,571.77 L526.49,572.56 L524.77,573.27 L522.87,573.91 L520.80,574.46 L518.56,574.93 L516.14,575.31 L513.51,575.61 L510.64,575.83 L507.40,575.96 L503.00,576.00 L498.60,575.96 L495.36,575.83 L492.49,575.61 L489.86,575.31 L487.44,574.93 L485.20,574.46 L483.13,573.91 L481.23,573.27 L479.51,572.56 L477.95,571.77 L476.57,570.90 L475.37,569.96 L474.35,568.93 L473.50,567.82 L472.85,566.62 L472.38,565.30 L472.09,563.82 L472.00,561.80 L472.09,559.78 L472.38,558.30 L472.85,556.98 L473.50,555.78 L474.35,554.67 L475.37,553.64 L476.57,552.70 L477.95,551.83 L479.51,551.04 L481.23,550.33 L483.13,549.69 L485.20,549.14 L487.44,548.67 L489.86,548.29 L492.49,547.99 L495.36,547.77 L498.60,547.64 L503.00,547.60 L507.40,547.64 L510.64,547.77 L513.51,547.99 L516.14,548.29 L518.56,548.67 L520.80,549.14 L522.87,549.69 L524.77,550.33 L526.49,551.04 L528.05,551.83 L529.43,552.70 L530.63,553.64 L531.65,554.67 L532.50,555.78 L533.15,556.98 L533.62,558.30 L533.91,559.78 Z" fill="none" stroke="#dcc6c2" stroke-opacity="0.75" stroke-width="2.6" filter="url(#b05)"/><ellipse cx="525" cy="562" rx="2.6" ry="3" fill="#16101c" fill-opacity="1" filter="url(#b05)"/><ellipse cx="505" cy="561" rx="20" ry="6" fill="#8f84a0" fill-opacity="0.4" filter="url(#b2)"/><rect x="471.0" y="546.6" width="64.0" height="30.4" filter="url(#grain)" opacity="0.42"/><path d="M530.60,561.80 L530.26,564.51 L529.26,566.46 L527.60,568.12 L525.30,569.52 L522.38,570.69 L518.85,571.60 L514.70,572.27 L509.80,572.67 L503.00,572.80 L496.20,572.67 L491.30,572.27 L487.15,571.60 L483.62,570.69 L480.70,569.52 L478.40,568.12 L476.74,566.46 L475.74,564.51 L475.40,561.80 L475.74,559.09 L476.74,557.14 L478.40,555.48 L480.70,554.08 L483.62,552.91 L487.15,552.00 L491.30,551.33 L496.20,550.93 L503.00,550.80 L509.80,550.93 L514.70,551.33 L518.85,552.00 L522.38,552.91 L525.30,554.08 L527.60,555.48 L529.26,557.14 L530.26,559.09 Z" fill="none" stroke="#4a3c48" stroke-opacity="0.28" stroke-width="0.5"/><path d="M480.7,563.5 C493.7,566.1 512.3,562.5 524.1,562.9" fill="none" stroke="#e0c8cc" stroke-opacity="0.35" stroke-width="0.7"/></g><path d="M534.00,561.80 L533.91,563.82 L533.62,565.30 L533.15,566.62 L532.50,567.82 L531.65,568.93 L530.63,569.96 L529.43,570.90 L528.05,571.77 L526.49,572.56 L524.77,573.27 L522.87,573.91 L520.80,574.46 L518.56,574.93 L516.14,575.31 L513.51,575.61 L510.64,575.83 L507.40,575.96 L503.00,576.00 L498.60,575.96 L495.36,575.83 L492.49,575.61 L489.86,575.31 L487.44,574.93 L485.20,574.46 L483.13,573.91 L481.23,573.27 L479.51,572.56 L477.95,571.77 L476.57,570.90 L475.37,569.96 L474.35,568.93 L473.50,567.82 L472.85,566.62 L472.38,565.30 L472.09,563.82 L472.00,561.80 L472.09,559.78 L472.38,558.30 L472.85,556.98 L473.50,555.78 L474.35,554.67 L475.37,553.64 L476.57,552.70 L477.95,551.83 L479.51,551.04 L481.23,550.33 L483.13,549.69 L485.20,549.14 L487.44,548.67 L489.86,548.29 L492.49,547.99 L495.36,547.77 L498.60,547.64 L503.00,547.60 L507.40,547.64 L510.64,547.77 L513.51,547.99 L516.14,548.29 L518.56,548.67 L520.80,549.14 L522.87,549.69 L524.77,550.33 L526.49,551.04 L528.05,551.83 L529.43,552.70 L530.63,553.64 L531.65,554.67 L532.50,555.78 L533.15,556.98 L533.62,558.30 L533.91,559.78 Z" fill="none" stroke="#3a2e34" stroke-opacity="0.7" stroke-width="0.55"/></svg>
<canvas id="hm" width="194" height="265" style="left:25.7px;top:374.3px;width:194.3px;height:265px;filter:blur(0.4px)"></canvas>
<canvas id="dk" width="258" height="95" style="left:279px;top:112px;width:258px;height:95px"></canvas>
<svg width="570" height="685" viewBox="0 0 570 685"><text x="0.3" y="8.8" font-size="8.2" fill="#000" font-weight="bold">a</text><text x="0.3" y="94.1" font-size="8.2" fill="#000" font-weight="bold">b</text><text x="0.3" y="324.8" font-size="8.2" fill="#000" font-weight="bold">c</text><text x="262.6" y="12.0" font-size="8.2" fill="#000" font-weight="bold">d</text><text x="262.2" y="233.4" font-size="8.2" fill="#000" font-weight="bold">e</text><defs><radialGradient id="gs" cx="0.4" cy="0.35" r="0.7"><stop offset="0" stop-color="#f4f4f4"/><stop offset="1" stop-color="#bdbdbd"/></radialGradient><linearGradient id="go" x1="0" x2="1" y1="0" y2="0"><stop offset="0" stop-color="#e9a977"/><stop offset="0.55" stop-color="#f6dcc4"/><stop offset="1" stop-color="#fdf3ea"/></linearGradient><linearGradient id="gg" x1="0" x2="0" y1="0" y2="1"><stop offset="0" stop-color="#eeeeee"/><stop offset="1" stop-color="#bcbcbc"/></linearGradient></defs><circle cx="35.5" cy="22" r="5.5" fill="url(#gs)" stroke="#666" stroke-width="0.5"/><text x="35.6" y="38.4" font-size="6.7" fill="#000" stroke="#000" stroke-width="0.13" text-anchor="middle">0 hpf</text><line x1="47.0" y1="21.8" x2="61.4" y2="21.8" stroke="#000" stroke-width="0.9"/><polygon points="65.0,21.8 61.4,23.6 61.4,20.0" fill="#000"/><path d="M80,11 C75,11.5 70.5,16 70,22 C69.5,27 72,31 76.5,31.7 C79,32 80,30 78.5,28.5 C75.5,27 74.5,24 75,21.5 C75.8,18.5 79,17.6 82,17.2 C84.6,16.8 84.6,12.4 80,11 Z" fill="url(#gg)" stroke="#555" stroke-width="0.5"/><path d="M79,12.6 C75,13.5 72,17 71.8,22 C71.7,26 73.5,29 76.5,30.4" fill="none" stroke="#777" stroke-width="0.45" stroke-dasharray="0.9,0.5"/><path d="M81,14.6 C77,15.2 73.8,18.5 73.4,22.5 C73.2,25.5 74.5,28 77,29.4" fill="none" stroke="#888" stroke-width="0.45" stroke-dasharray="0.9,0.5"/><path d="M79.5,12.2 C82,12.6 83.2,14 82.6,15.8" fill="none" stroke="#aaa" stroke-width="0.4"/><text x="76.7" y="38.2" font-size="6.7" fill="#000" stroke="#000" stroke-width="0.13" text-anchor="middle">8 hpf</text><line x1="87.0" y1="21.8" x2="101.4" y2="21.8" stroke="#000" stroke-width="0.9"/><polygon points="105.0,21.8 101.4,23.6 101.4,20.0" fill="#000"/><ellipse cx="122.3" cy="21" rx="13.4" ry="7" fill="url(#gg)" stroke="#555" stroke-width="0.5"/><path d="M113,24.2 L127.5,24.2 L130.3,18.5 L128.5,17.3 L126,22.4 L113.5,22.6 Z" fill="#9a9a9a" stroke="#555" stroke-width="0.4"/><text x="122.3" y="38.4" font-size="6.7" fill="#000" stroke="#000" stroke-width="0.13" text-anchor="middle">15 hpf</text><line x1="141.0" y1="21.5" x2="155.1" y2="21.5" stroke="#000" stroke-width="0.9"/><polygon points="158.7,21.5 155.1,23.3 155.1,19.7" fill="#000"/><rect x="165.3" y="7.1" width="54.6" height="36.4" rx="3.6" fill="none" stroke="#d6a283" stroke-width="0.7" stroke-dasharray="2.2,0.5"/><ellipse cx="192.8" cy="20.7" rx="17.7" ry="8.7" fill="url(#go)" stroke="#c47a40" stroke-width="0.8"/><ellipse cx="192.8" cy="20.7" rx="16.2" ry="7.3" fill="none" stroke="#eab48a" stroke-width="0.5"/><path d="M179.5,17.6 C181.5,15.6 185,16.8 188,19.2 C190,20.3 193,20.2 205.8,20.1 C206.6,23 204.5,25.2 200.5,25.3 L186.5,25.3 C181.5,25 178.3,21 179.5,17.6 Z" fill="#d4883a"/><text x="192.8" y="38.3" font-size="6.7" fill="#b5673c" stroke="#b5673c" stroke-width="0.13" text-anchor="middle">Neurula 21 hpf</text><line x1="27.8" y1="62.8" x2="35" y2="62.8" stroke="#000" stroke-width="0.7" stroke-dasharray="0.9,0.7"/><line x1="35.0" y1="62.8" x2="46.6" y2="62.8" stroke="#000" stroke-width="0.9"/><polygon points="50.2,62.8 46.6,64.6 46.6,61.0" fill="#000"/><path d="M56.5,63 C56.5,59.5 58.5,58 62,58 C70,58 80,58.4 88,57.6 C95,57 101,56.8 104.5,58.3 C107.5,59.6 108.3,63 107.8,66 C107.3,69 106,71 103.5,70.8 C99,70.4 95,68.4 88,68.3 C80,68.2 72,70.6 65,70.4 C59.5,70.2 56.5,67.5 56.5,63 Z" fill="url(#gg)" stroke="#555" stroke-width="0.5"/><path d="M61,63.2 C70,62.5 80,61.6 90,61.2 C97,61 101,61.4 103.2,62.4 C104,63 103.8,64 103.2,64.3" fill="none" stroke="#6a6a6a" stroke-width="1.9" stroke-linecap="round"/><path d="M61,63.2 C70,62.5 80,61.6 90,61.2 C97,61 101,61.4 103.2,62.4" fill="none" stroke="#a8a8a8" stroke-width="0.7" stroke-linecap="round"/><text x="83.7" y="78.6" font-size="6.7" fill="#000" stroke="#000" stroke-width="0.13" text-anchor="middle">36 hpf</text><line x1="111.0" y1="62.8" x2="125.6" y2="62.8" stroke="#000" stroke-width="0.9"/><polygon points="129.2,62.8 125.6,64.6 125.6,61.0" fill="#000"/><path d="M129.7,50.8 C134,51 137,52 140,52.8 C145,54.5 148,56 152,57.5 C160,59.8 168,60.5 178,60.2 C190,59.8 202,57.5 211.7,56.7 C212,58 211,59 209,59.6 C203,61.5 196,62.6 190,63.8 C182,65.3 172,66.5 166,67.3 C160,68 155,70 151,71.7 C148,72.6 144,72 141.5,70.5 C139.5,68.5 138.5,64.5 136.5,61.5 C134.5,58 131,55 129.7,50.8 Z" fill="url(#gg)" stroke="#555" stroke-width="0.5"/><path d="M132,53 C138,55.5 146,58 154,60 C165,62 180,62 195,60.2 C201,59.5 206,58.6 209.5,57.8" fill="none" stroke="#6a6a6a" stroke-width="0.55"/><path d="M134,55 C140,57.5 148,60 157,61.8 C168,63.5 182,63.4 196,61.6" fill="none" stroke="#777" stroke-width="0.5"/><path d="M137,58.5 C143,61 150,62.8 160,64 C170,65 180,64.6 188,63.6" fill="none" stroke="#999" stroke-width="0.4"/><circle cx="145.8" cy="65.8" r="2.8" fill="#e8e8e8" stroke="#444" stroke-width="0.6"/><circle cx="145.8" cy="65.8" r="1.6" fill="#ffffff" stroke="#666" stroke-width="0.4"/><text x="171.0" y="78.6" font-size="6.7" fill="#000" stroke="#000" stroke-width="0.13" text-anchor="middle">60 hpf</text><text x="13.0" y="111.0" font-size="6.7" fill="#000" stroke="#000" stroke-width="0.13" font-style="italic">Cell types:</text><circle cx="13.1" cy="118.2" r="2.1" fill="#d33a35"/><text x="17.4" y="120.9" font-size="6.7" fill="#000" stroke="#000" stroke-width="0.13">Endoderm</text><circle cx="13.1" cy="124.7" r="2.1" fill="#cfc22a"/><text x="17.4" y="127.4" font-size="6.7" fill="#000" stroke="#000" stroke-width="0.13">Muscular somites</text><circle cx="13.1" cy="131.2" r="2.1" fill="#3a9f3a"/><text x="17.4" y="133.9" font-size="6.7" fill="#000" stroke="#000" stroke-width="0.13">Notochord</text><circle cx="13.1" cy="137.7" r="2.1" fill="#8cc84b"/><text x="17.4" y="140.4" font-size="6.7" fill="#000" stroke="#000" stroke-width="0.13">Other mesoderm</text><circle cx="13.1" cy="144.2" r="2.1" fill="#2a6fd0"/><text x="17.4" y="146.9" font-size="6.7" fill="#000" stroke="#000" stroke-width="0.13">Neural</text><circle cx="13.1" cy="150.8" r="2.1" fill="#86bdf0"/><text x="17.4" y="153.5" font-size="6.7" fill="#000" stroke="#000" stroke-width="0.13">Neural-like</text><circle cx="13.1" cy="157.3" r="2.1" fill="#2ba4b4"/><text x="17.4" y="160.0" font-size="6.7" fill="#000" stroke="#000" stroke-width="0.13">Anterior epidermis</text><circle cx="13.1" cy="163.8" r="2.1" fill="#a8dde9"/><text x="17.4" y="166.5" font-size="6.7" fill="#000" stroke="#000" stroke-width="0.13">Posterior epidermis</text><circle cx="13.1" cy="170.3" r="2.1" fill="#d393db"/><text x="17.4" y="173.0" font-size="6.7" fill="#000" stroke="#000" stroke-width="0.13">Epidermal/neural</text><line x1="25.8" y1="282.6" x2="25.8" y2="273.8" stroke="#000" stroke-width="0.8"/><polygon points="25.8,270.8 27.2,273.8 24.4,273.8" fill="#000"/><line x1="25.4" y1="282.6" x2="34.4" y2="282.6" stroke="#000" stroke-width="0.8"/><polygon points="37.4,282.6 34.4,284.0 34.4,281.2" fill="#000"/><defs><filter id="hz" x="0" y="0" width="100%" height="100%" color-interpolation-filters="sRGB"><feTurbulence type="fractalNoise" baseFrequency="1.1" numOctaves="1" seed="2" result="n"/><feColorMatrix in="n" type="matrix" values="0 0 0 0 0.72  0 0 0 0 0.72  0 0 0 0 0.72  4 0 0 0 -2.2" result="d"/><feComposite in="d" in2="SourceGraphic" operator="in" result="dd"/><feMerge><feMergeNode in="SourceGraphic"/><feMergeNode in="dd"/></feMerge></filter></defs><g fill="#e5e5e5" filter="url(#hz)"><circle cx="169.0" cy="104.6" r="6.4"/><circle cx="142.1" cy="108.7" r="6.4"/><circle cx="154.7" cy="110.5" r="6.4"/><circle cx="159.9" cy="111.0" r="6.4"/><circle cx="170.6" cy="113.7" r="6.4"/><circle cx="133.0" cy="120.1" r="6.4"/><circle cx="145.8" cy="117.3" r="6.4"/><circle cx="149.6" cy="118.5" r="6.4"/><circle cx="168.6" cy="119.0" r="6.4"/><circle cx="141.0" cy="122.8" r="6.4"/><circle cx="155.3" cy="125.3" r="6.4"/><circle cx="142.8" cy="131.0" r="6.4"/><circle cx="149.2" cy="133.3" r="6.4"/><circle cx="146.9" cy="144.0" r="6.4"/><circle cx="153.5" cy="156.6" r="6.4"/><circle cx="163.3" cy="160.4" r="6.4"/><circle cx="145.1" cy="167.5" r="6.4"/><circle cx="152.6" cy="168.0" r="6.4"/><circle cx="165.2" cy="166.8" r="6.4"/><circle cx="164.5" cy="175.3" r="6.4"/><circle cx="151.2" cy="180.5" r="6.4"/><circle cx="175.9" cy="127.4" r="6.4"/><circle cx="185.0" cy="128.8" r="6.4"/><circle cx="198.2" cy="122.8" r="6.4"/><circle cx="192.5" cy="132.6" r="6.4"/><circle cx="213.0" cy="129.2" r="6.4"/><circle cx="206.7" cy="133.8" r="6.4"/><circle cx="181.6" cy="139.9" r="6.4"/><circle cx="174.0" cy="151.6" r="6.4"/><circle cx="185.0" cy="155.0" r="6.4"/><circle cx="197.5" cy="147.5" r="6.4"/><circle cx="205.5" cy="152.5" r="6.4"/><circle cx="211.7" cy="145.2" r="6.4"/><circle cx="177.0" cy="174.1" r="6.4"/><circle cx="209.4" cy="124.2" r="6.4"/><circle cx="207.3" cy="139.0" r="6.4"/><circle cx="198.7" cy="141.8" r="6.4"/><circle cx="201.0" cy="153.8" r="6.4"/><circle cx="196.4" cy="162.3" r="6.4"/><circle cx="186.1" cy="167.5" r="6.4"/><circle cx="216.9" cy="142.4" r="6.4"/><circle cx="231.0" cy="140.6" r="6.4"/><circle cx="229.5" cy="147.0" r="6.4"/><circle cx="222.2" cy="155.0" r="6.4"/><circle cx="238.1" cy="155.0" r="6.4"/><circle cx="211.2" cy="158.9" r="6.4"/><circle cx="231.0" cy="162.7" r="6.4"/><circle cx="217.6" cy="168.0" r="6.4"/><circle cx="234.7" cy="169.8" r="6.4"/><circle cx="207.8" cy="172.5" r="6.4"/><circle cx="223.8" cy="173.2" r="6.4"/><circle cx="220.3" cy="177.6" r="6.4"/><circle cx="192.5" cy="175.3" r="6.4"/><circle cx="144.4" cy="192.6" r="6.4"/><circle cx="121.8" cy="166.1" r="6.4"/><circle cx="155.0" cy="205.8" r="6.4"/><circle cx="168.2" cy="207.6" r="6.4"/><circle cx="196.8" cy="235.7" r="6.4"/><circle cx="97.7" cy="239.6" r="6.4"/><circle cx="160.0" cy="229.2" r="6.4"/><circle cx="105.0" cy="242.6" r="6.4"/><circle cx="62.4" cy="234.3" r="6.4"/><circle cx="121.1" cy="265.2" r="6.4"/><circle cx="124.3" cy="245.7" r="6.4"/><circle cx="96.2" cy="270.7" r="6.4"/><circle cx="106.5" cy="248.4" r="6.4"/><circle cx="98.4" cy="208.6" r="6.4"/><circle cx="148.9" cy="255.9" r="6.4"/><circle cx="79.6" cy="203.3" r="6.4"/><circle cx="139.2" cy="222.0" r="6.4"/><circle cx="149.7" cy="220.5" r="6.4"/><circle cx="111.8" cy="227.2" r="6.4"/><circle cx="63.2" cy="258.5" r="6.4"/><circle cx="55.3" cy="248.8" r="6.4"/><circle cx="65.8" cy="221.4" r="6.4"/><circle cx="150.8" cy="248.6" r="6.4"/><circle cx="49.9" cy="242.1" r="6.4"/><circle cx="70.1" cy="244.1" r="6.4"/><circle cx="87.1" cy="227.9" r="6.4"/><circle cx="113.8" cy="273.3" r="6.4"/><circle cx="70.9" cy="198.9" r="6.4"/><circle cx="135.6" cy="281.4" r="6.4"/><circle cx="154.4" cy="244.4" r="6.4"/><circle cx="93.6" cy="189.4" r="6.4"/><circle cx="69.5" cy="255.5" r="6.4"/><circle cx="116.7" cy="210.3" r="6.4"/><circle cx="96.8" cy="184.7" r="6.4"/><circle cx="113.5" cy="192.5" r="6.4"/><circle cx="129.2" cy="242.3" r="6.4"/><circle cx="101.7" cy="258.4" r="6.4"/><circle cx="135.3" cy="255.4" r="6.4"/><circle cx="84.4" cy="253.4" r="6.4"/><circle cx="93.1" cy="265.0" r="6.4"/><circle cx="120.5" cy="220.1" r="6.4"/><circle cx="114.9" cy="245.0" r="6.4"/><circle cx="135.0" cy="241.9" r="6.4"/><circle cx="101.5" cy="203.3" r="6.4"/><circle cx="130.2" cy="232.7" r="6.4"/><circle cx="119.1" cy="279.3" r="6.4"/><circle cx="77.7" cy="252.6" r="6.4"/><circle cx="157.6" cy="250.6" r="6.4"/><circle cx="56.0" cy="232.6" r="6.4"/><circle cx="120.6" cy="232.3" r="6.4"/><circle cx="78.8" cy="265.1" r="6.4"/><circle cx="121.2" cy="250.1" r="6.4"/><circle cx="128.4" cy="199.9" r="6.4"/><circle cx="100.7" cy="197.7" r="6.4"/><circle cx="74.0" cy="216.0" r="6.4"/><circle cx="161.1" cy="257.5" r="6.4"/><circle cx="87.7" cy="240.6" r="6.4"/><circle cx="133.3" cy="268.0" r="6.4"/><circle cx="122.7" cy="256.9" r="6.4"/><circle cx="108.9" cy="265.0" r="6.4"/><circle cx="76.3" cy="258.2" r="6.4"/><circle cx="149.4" cy="239.6" r="6.4"/><circle cx="79.1" cy="219.9" r="6.4"/><circle cx="113.6" cy="200.1" r="6.4"/><circle cx="108.7" cy="233.3" r="6.4"/><circle cx="73.5" cy="230.0" r="6.4"/><circle cx="63.3" cy="246.0" r="6.4"/><circle cx="128.7" cy="213.4" r="6.4"/><circle cx="84.9" cy="246.2" r="6.4"/><circle cx="107.9" cy="195.6" r="6.4"/><circle cx="91.2" cy="253.4" r="6.4"/><circle cx="128.1" cy="278.3" r="6.4"/><circle cx="104.4" cy="253.4" r="6.4"/><circle cx="81.1" cy="229.4" r="6.4"/><circle cx="106.0" cy="225.3" r="6.4"/><circle cx="61.9" cy="227.9" r="6.4"/><circle cx="136.3" cy="263.6" r="6.4"/><circle cx="129.7" cy="262.4" r="6.4"/><circle cx="71.9" cy="222.2" r="6.4"/><circle cx="87.6" cy="188.8" r="6.4"/><circle cx="116.9" cy="261.5" r="6.4"/><circle cx="86.3" cy="209.4" r="6.4"/><circle cx="124.5" cy="239.7" r="6.4"/><circle cx="94.7" cy="230.5" r="6.4"/><circle cx="96.5" cy="251.5" r="6.4"/><circle cx="140.7" cy="236.4" r="6.4"/><circle cx="141.5" cy="246.7" r="6.4"/><circle cx="120.3" cy="189.3" r="6.4"/><circle cx="81.0" cy="238.3" r="6.4"/><circle cx="94.5" cy="218.6" r="6.4"/><circle cx="66.2" cy="250.8" r="6.4"/><circle cx="75.3" cy="193.7" r="6.4"/><circle cx="86.3" cy="218.0" r="6.4"/><circle cx="63.7" cy="240.0" r="6.4"/><circle cx="123.7" cy="205.0" r="6.4"/><circle cx="103.2" cy="237.1" r="6.4"/><circle cx="158.8" cy="223.2" r="6.4"/><circle cx="150.7" cy="266.6" r="6.4"/><circle cx="164.4" cy="248.4" r="6.4"/><circle cx="87.6" cy="196.4" r="6.4"/><circle cx="145.9" cy="230.7" r="6.4"/><circle cx="87.0" cy="265.6" r="6.4"/><circle cx="152.7" cy="234.8" r="6.4"/><circle cx="73.2" cy="236.8" r="6.4"/><circle cx="101.4" cy="229.6" r="6.4"/><circle cx="164.1" cy="242.5" r="6.4"/><circle cx="79.1" cy="212.2" r="6.4"/><circle cx="131.7" cy="204.1" r="6.4"/><circle cx="134.6" cy="214.2" r="6.4"/><circle cx="139.2" cy="268.3" r="6.4"/><circle cx="157.2" cy="238.3" r="6.4"/><circle cx="120.8" cy="199.8" r="6.4"/><circle cx="114.1" cy="254.7" r="6.4"/><circle cx="109.7" cy="239.7" r="6.4"/><circle cx="112.0" cy="207.1" r="6.4"/><circle cx="106.6" cy="207.0" r="6.4"/><circle cx="113.0" cy="214.5" r="6.4"/><circle cx="126.6" cy="193.9" r="6.4"/><circle cx="100.0" cy="223.3" r="6.4"/><circle cx="92.0" cy="225.7" r="6.4"/><circle cx="80.3" cy="184.0" r="6.4"/><circle cx="125.9" cy="273.3" r="6.4"/><circle cx="70.2" cy="210.9" r="6.4"/><circle cx="104.7" cy="271.0" r="6.4"/><circle cx="59.1" cy="254.0" r="6.4"/><circle cx="86.1" cy="201.8" r="6.4"/><circle cx="68.3" cy="205.9" r="6.4"/><circle cx="89.9" cy="270.7" r="6.4"/><circle cx="57.9" cy="242.1" r="6.4"/><circle cx="129.8" cy="253.5" r="6.4"/><circle cx="80.9" cy="197.6" r="6.4"/><circle cx="139.9" cy="230.9" r="6.4"/><circle cx="128.8" cy="224.1" r="6.4"/><circle cx="102.5" cy="191.2" r="6.4"/><circle cx="68.0" cy="231.0" r="6.4"/><circle cx="144.5" cy="221.6" r="6.4"/><circle cx="45.6" cy="238.6" r="6.4"/><circle cx="142.6" cy="258.9" r="6.4"/><circle cx="147.3" cy="262.4" r="6.4"/><circle cx="91.2" cy="213.4" r="6.4"/><circle cx="146.3" cy="271.5" r="6.4"/><circle cx="116.0" cy="238.1" r="6.4"/><circle cx="99.9" cy="217.8" r="6.4"/><circle cx="77.8" cy="233.8" r="6.4"/><circle cx="91.7" cy="245.3" r="6.4"/><circle cx="110.3" cy="222.0" r="6.4"/><circle cx="86.9" cy="258.2" r="6.4"/><circle cx="106.8" cy="186.5" r="6.4"/><circle cx="107.5" cy="217.0" r="6.4"/><circle cx="154.5" cy="257.9" r="6.4"/><circle cx="138.3" cy="244.3" r="5"/><circle cx="103.0" cy="224.3" r="5"/><circle cx="104.7" cy="199.4" r="5"/><circle cx="72.9" cy="219.1" r="5"/><circle cx="72.7" cy="226.1" r="5"/><circle cx="108.1" cy="223.6" r="5"/><circle cx="105.4" cy="250.9" r="5"/><circle cx="135.0" cy="231.8" r="5"/><circle cx="230.2" cy="143.8" r="5"/><circle cx="120.5" cy="194.5" r="5"/><circle cx="211.2" cy="126.7" r="5"/><circle cx="92.8" cy="216.0" r="5"/><circle cx="158.4" cy="158.5" r="5"/><circle cx="56.9" cy="237.4" r="5"/><circle cx="160.7" cy="240.4" r="5"/><circle cx="145.0" cy="238.0" r="5"/><circle cx="132.1" cy="242.1" r="5"/><circle cx="67.8" cy="253.2" r="5"/><circle cx="77.0" cy="255.4" r="5"/><circle cx="77.3" cy="229.7" r="5"/><circle cx="66.9" cy="226.2" r="5"/><circle cx="97.4" cy="226.9" r="5"/><circle cx="94.8" cy="211.0" r="5"/><circle cx="82.9" cy="206.3" r="5"/><circle cx="149.0" cy="264.5" r="5"/><circle cx="87.8" cy="253.4" r="5"/><circle cx="88.7" cy="211.4" r="5"/><circle cx="155.8" cy="241.3" r="5"/><circle cx="113.6" cy="196.3" r="5"/><circle cx="161.6" cy="206.7" r="5"/><circle cx="127.0" cy="275.8" r="5"/><circle cx="127.5" cy="196.9" r="5"/><circle cx="98.0" cy="230.0" r="5"/><circle cx="178.8" cy="133.7" r="5"/><circle cx="170.8" cy="174.7" r="5"/><circle cx="82.9" cy="242.3" r="5"/><circle cx="142.2" cy="226.2" r="5"/><circle cx="86.2" cy="205.6" r="5"/><circle cx="159.3" cy="243.5" r="5"/><circle cx="183.3" cy="134.4" r="5"/><circle cx="90.6" cy="189.1" r="5"/><circle cx="132.6" cy="237.3" r="5"/><circle cx="94.7" cy="242.5" r="5"/><circle cx="90.0" cy="261.6" r="5"/><circle cx="104.1" cy="239.9" r="5"/><circle cx="125.5" cy="251.8" r="5"/><circle cx="126.0" cy="202.5" r="5"/><circle cx="88.7" cy="215.7" r="5"/><circle cx="94.1" cy="248.4" r="5"/><circle cx="52.9" cy="237.4" r="5"/><circle cx="106.0" cy="235.2" r="5"/><circle cx="180.4" cy="128.1" r="5"/><circle cx="105.1" cy="231.5" r="5"/><circle cx="111.4" cy="269.2" r="5"/><circle cx="79.5" cy="231.6" r="5"/><circle cx="152.2" cy="129.3" r="5"/><circle cx="110.3" cy="230.3" r="5"/><circle cx="132.5" cy="258.9" r="5"/><circle cx="147.8" cy="186.6" r="5"/><circle cx="80.4" cy="255.8" r="5"/><circle cx="97.2" cy="218.2" r="5"/><circle cx="216.7" cy="156.9" r="5"/><circle cx="150.1" cy="244.1" r="5"/><circle cx="79.1" cy="216.1" r="5"/><circle cx="151.9" cy="174.2" r="5"/><circle cx="179.5" cy="153.3" r="5"/><circle cx="70.6" cy="233.9" r="5"/><circle cx="75.5" cy="235.3" r="5"/><circle cx="218.9" cy="172.8" r="5"/><circle cx="130.0" cy="202.0" r="5"/><circle cx="86.3" cy="243.4" r="5"/><circle cx="150.6" cy="121.3" r="5"/><circle cx="82.8" cy="261.6" r="5"/><circle cx="102.5" cy="207.8" r="5"/><circle cx="140.3" cy="233.6" r="5"/><circle cx="70.8" cy="230.5" r="5"/><circle cx="157.3" cy="110.8" r="5"/><circle cx="75.7" cy="231.9" r="5"/><circle cx="189.3" cy="171.4" r="5"/><circle cx="82.7" cy="210.8" r="5"/><circle cx="95.2" cy="187.0" r="5"/><circle cx="93.2" cy="222.2" r="5"/><circle cx="81.1" cy="253.0" r="5"/><circle cx="131.7" cy="219.2" r="5"/><circle cx="118.0" cy="247.5" r="5"/><circle cx="124.4" cy="242.7" r="5"/><circle cx="154.2" cy="249.6" r="5"/><circle cx="187.1" cy="136.2" r="5"/><circle cx="165.2" cy="112.3" r="5"/><circle cx="214.3" cy="143.8" r="5"/><circle cx="82.7" cy="218.9" r="5"/><circle cx="195.6" cy="137.2" r="5"/><circle cx="203.0" cy="140.4" r="5"/><circle cx="91.5" cy="267.8" r="5"/><circle cx="156.0" cy="254.3" r="5"/><circle cx="106.8" cy="268.0" r="5"/><circle cx="168.7" cy="156.0" r="5"/><circle cx="141.9" cy="126.9" r="5"/><circle cx="68.8" cy="221.8" r="5"/><circle cx="103.7" cy="217.4" r="5"/><circle cx="162.8" cy="252.9" r="5"/><circle cx="133.1" cy="209.2" r="5"/><circle cx="114.3" cy="208.7" r="5"/><circle cx="129.1" cy="199.0" r="5"/><circle cx="92.2" cy="186.7" r="5"/><circle cx="233.8" cy="151.0" r="5"/><circle cx="144.4" cy="221.3" r="5"/><circle cx="99.1" cy="254.9" r="5"/><circle cx="123.6" cy="278.8" r="5"/><circle cx="86.3" cy="213.7" r="5"/><circle cx="152.1" cy="114.5" r="5"/><circle cx="135.8" cy="259.5" r="5"/><circle cx="209.5" cy="142.1" r="5"/><circle cx="212.1" cy="140.7" r="5"/><circle cx="65.2" cy="232.7" r="5"/><circle cx="158.6" cy="171.7" r="5"/><circle cx="214.1" cy="175.1" r="5"/><circle cx="84.3" cy="267.9" r="5"/><circle cx="143.4" cy="120.0" r="5"/><circle cx="76.5" cy="214.1" r="5"/><circle cx="104.0" cy="205.2" r="5"/><circle cx="116.2" cy="229.8" r="5"/><circle cx="200.9" cy="157.4" r="5"/><circle cx="203.8" cy="123.5" r="5"/><circle cx="47.8" cy="240.3" r="5"/><circle cx="118.4" cy="255.8" r="5"/><circle cx="88.3" cy="245.8" r="5"/><circle cx="66.3" cy="257.0" r="5"/><circle cx="123.5" cy="269.3" r="5"/><circle cx="104.6" cy="188.9" r="5"/><circle cx="225.8" cy="151.0" r="5"/><circle cx="90.9" cy="229.2" r="5"/><circle cx="108.1" cy="244.1" r="5"/><circle cx="119.8" cy="259.2" r="5"/><circle cx="63.5" cy="243.0" r="5"/><circle cx="161.0" cy="249.5" r="5"/><circle cx="148.8" cy="167.8" r="5"/><circle cx="119.0" cy="263.4" r="5"/><circle cx="69.9" cy="218.7" r="5"/><circle cx="124.6" cy="216.7" r="5"/><circle cx="110.8" cy="197.8" r="5"/><circle cx="198.1" cy="144.7" r="5"/><circle cx="222.1" cy="175.4" r="5"/><circle cx="126.8" cy="244.0" r="5"/><circle cx="195.3" cy="127.7" r="5"/><circle cx="203.2" cy="153.2" r="5"/><circle cx="77.1" cy="237.6" r="5"/><circle cx="138.9" cy="257.2" r="5"/><circle cx="59.3" cy="247.4" r="5"/><circle cx="84.2" cy="197.0" r="5"/><circle cx="118.6" cy="215.2" r="5"/><circle cx="208.1" cy="129.0" r="5"/><circle cx="112.9" cy="238.9" r="5"/><circle cx="109.3" cy="207.0" r="5"/><circle cx="61.1" cy="256.2" r="5"/><circle cx="155.0" cy="256.7" r="5"/><circle cx="201.5" cy="150.0" r="5"/><circle cx="112.4" cy="235.7" r="5"/><circle cx="208.6" cy="148.8" r="5"/><circle cx="84.0" cy="186.4" r="5"/><circle cx="151.7" cy="256.9" r="5"/><circle cx="74.0" cy="204.6" r="5"/><circle cx="73.1" cy="196.3" r="5"/><circle cx="121.9" cy="253.5" r="5"/><circle cx="109.3" cy="272.2" r="5"/><circle cx="115.5" cy="258.1" r="5"/><circle cx="86.8" cy="199.1" r="5"/><circle cx="78.1" cy="195.6" r="5"/><circle cx="137.9" cy="239.1" r="5"/><circle cx="139.4" cy="118.7" r="5"/><circle cx="169.8" cy="109.2" r="5"/><circle cx="144.9" cy="137.5" r="5"/><circle cx="126.9" cy="241.0" r="5"/><circle cx="157.8" cy="257.7" r="5"/><circle cx="128.7" cy="218.8" r="5"/><circle cx="234.6" cy="158.8" r="5"/><circle cx="68.1" cy="247.5" r="5"/><circle cx="139.4" cy="261.2" r="5"/><circle cx="100.4" cy="238.3" r="5"/><circle cx="50.8" cy="235.6" r="5"/><circle cx="214.4" cy="163.4" r="5"/><circle cx="109.2" cy="254.1" r="5"/><circle cx="107.4" cy="241.1" r="5"/><circle cx="151.0" cy="237.2" r="5"/><circle cx="98.0" cy="190.3" r="5"/><circle cx="91.6" cy="268.2" r="5"/><circle cx="81.3" cy="249.4" r="5"/><circle cx="106.8" cy="221.1" r="5"/><circle cx="109.2" cy="236.5" r="5"/><circle cx="172.2" cy="123.2" r="5"/><circle cx="164.3" cy="245.5" r="5"/><circle cx="147.1" cy="221.0" r="5"/><circle cx="143.2" cy="265.4" r="5"/><circle cx="136.3" cy="268.2" r="5"/><circle cx="198.7" cy="158.1" r="5"/><circle cx="111.1" cy="224.6" r="5"/><circle cx="89.0" cy="255.8" r="5"/><circle cx="62.6" cy="252.4" r="5"/><circle cx="168.7" cy="156.0" r="5"/><circle cx="149.8" cy="252.2" r="5"/><circle cx="171.1" cy="170.4" r="5"/><circle cx="124.6" cy="222.1" r="5"/><circle cx="164.4" cy="107.8" r="5"/><circle cx="185.6" cy="161.2" r="5"/><circle cx="146.0" cy="132.2" r="5"/><circle cx="100.4" cy="270.8" r="5"/><circle cx="99.2" cy="213.2" r="5"/><circle cx="159.3" cy="254.0" r="5"/><circle cx="102.3" cy="233.3" r="5"/><circle cx="106.4" cy="238.4" r="5"/><circle cx="137.7" cy="266.0" r="5"/><circle cx="111.6" cy="218.3" r="5"/><circle cx="101.8" cy="185.6" r="5"/><circle cx="131.5" cy="265.2" r="5"/><circle cx="122.5" cy="276.3" r="5"/><circle cx="122.5" cy="236.0" r="5"/><circle cx="100.4" cy="252.4" r="5"/><circle cx="152.4" cy="121.9" r="5"/><circle cx="99.9" cy="206.0" r="5"/><circle cx="124.6" cy="199.8" r="5"/><circle cx="164.8" cy="171.1" r="5"/><circle cx="117.2" cy="199.9" r="5"/><circle cx="101.1" cy="200.5" r="5"/><circle cx="76.5" cy="218.0" r="5"/><circle cx="127.7" cy="204.6" r="5"/><circle cx="115.4" cy="221.0" r="5"/><circle cx="133.0" cy="263.0" r="5"/><circle cx="131.6" cy="213.8" r="5"/><circle cx="66.7" cy="245.1" r="5"/><circle cx="99.6" cy="187.9" r="5"/><circle cx="52.6" cy="245.5" r="5"/><circle cx="148.1" cy="259.2" r="5"/><circle cx="84.7" cy="249.8" r="5"/><circle cx="164.2" cy="115.0" r="5"/><circle cx="153.1" cy="162.3" r="5"/><circle cx="77.5" cy="261.6" r="5"/><circle cx="108.9" cy="219.5" r="5"/><circle cx="164.2" cy="163.6" r="5"/><circle cx="220.7" cy="170.6" r="5"/><circle cx="110.1" cy="203.6" r="5"/><circle cx="129.7" cy="237.5" r="5"/><circle cx="64.7" cy="254.7" r="5"/><circle cx="122.2" cy="202.4" r="5"/><circle cx="126.2" cy="209.2" r="5"/><circle cx="190.7" cy="158.7" r="5"/><circle cx="149.8" cy="261.3" r="5"/><circle cx="156.4" cy="232.0" r="5"/><circle cx="97.2" cy="220.9" r="5"/><circle cx="148.5" cy="269.1" r="5"/><circle cx="152.6" cy="262.3" r="5"/><circle cx="134.8" cy="265.8" r="5"/><circle cx="72.9" cy="256.8" r="5"/><circle cx="104.3" cy="196.6" r="5"/><circle cx="101.4" cy="241.1" r="5"/><circle cx="68.0" cy="216.1" r="5"/><circle cx="146.8" cy="267.0" r="5"/><circle cx="150.9" cy="260.2" r="5"/><circle cx="86.7" cy="222.9" r="5"/><circle cx="130.2" cy="208.8" r="5"/><circle cx="150.2" cy="113.9" r="5"/><circle cx="59.0" cy="230.3" r="5"/><circle cx="89.5" cy="226.8" r="5"/><circle cx="59.2" cy="233.5" r="5"/><circle cx="209.8" cy="131.5" r="5"/><circle cx="59.9" cy="236.3" r="5"/><circle cx="142.9" cy="230.8" r="5"/><circle cx="130.7" cy="273.1" r="5"/><circle cx="210.2" cy="134.1" r="5"/><circle cx="159.4" cy="246.4" r="5"/><circle cx="149.3" cy="162.1" r="5"/><circle cx="73.6" cy="254.0" r="5"/><circle cx="60.8" cy="241.1" r="5"/><circle cx="158.9" cy="167.4" r="5"/><circle cx="146.2" cy="247.7" r="5"/><circle cx="91.4" cy="249.4" r="5"/><circle cx="110.7" cy="194.0" r="5"/><circle cx="212.7" cy="170.2" r="5"/><circle cx="112.8" cy="203.6" r="5"/><circle cx="110.7" cy="246.7" r="5"/><circle cx="127.3" cy="236.2" r="5"/><circle cx="158.6" cy="233.8" r="5"/><circle cx="61.2" cy="250.0" r="5"/><circle cx="145.2" cy="226.1" r="5"/><circle cx="126.2" cy="255.2" r="5"/><circle cx="134.0" cy="223.1" r="5"/><circle cx="120.2" cy="207.6" r="5"/><circle cx="116.7" cy="217.3" r="5"/><circle cx="84.1" cy="228.6" r="5"/><circle cx="84.3" cy="239.5" r="5"/><circle cx="129.8" cy="258.0" r="5"/><circle cx="159.4" cy="226.2" r="5"/><circle cx="154.3" cy="221.8" r="5"/><circle cx="151.9" cy="242.0" r="5"/><circle cx="112.9" cy="263.3" r="5"/><circle cx="60.6" cy="244.0" r="5"/><circle cx="97.2" cy="193.5" r="5"/><circle cx="79.4" cy="236.1" r="5"/><circle cx="123.7" cy="196.8" r="5"/><circle cx="117.6" cy="252.4" r="5"/><circle cx="94.6" cy="267.8" r="5"/><circle cx="57.2" cy="251.4" r="5"/><circle cx="103.7" cy="227.4" r="5"/><circle cx="75.3" cy="201.1" r="5"/><circle cx="147.7" cy="117.9" r="5"/><circle cx="107.3" cy="191.0" r="5"/><circle cx="105.3" cy="261.7" r="5"/><circle cx="114.9" cy="212.4" r="5"/><circle cx="72.1" cy="213.5" r="5"/><circle cx="144.9" cy="260.7" r="5"/><circle cx="156.0" cy="247.5" r="5"/><circle cx="147.8" cy="225.6" r="5"/><circle cx="208.3" cy="155.7" r="5"/><circle cx="80.3" cy="200.4" r="5"/><circle cx="108.9" cy="226.3" r="5"/><circle cx="93.8" cy="252.4" r="5"/><circle cx="59.2" cy="253.7" r="5"/><circle cx="226.6" cy="158.8" r="5"/><circle cx="139.5" cy="226.5" r="5"/><circle cx="232.8" cy="166.2" r="5"/><circle cx="85.7" cy="255.8" r="5"/><circle cx="63.9" cy="224.7" r="5"/><circle cx="125.4" cy="232.5" r="5"/><circle cx="105.2" cy="193.4" r="5"/><circle cx="56.6" cy="245.4" r="5"/><circle cx="100.7" cy="226.4" r="5"/><circle cx="103.0" cy="255.9" r="5"/><circle cx="71.1" cy="210.9" r="5"/><circle cx="149.3" cy="232.8" r="5"/><circle cx="82.9" cy="202.5" r="5"/><circle cx="71.6" cy="240.5" r="5"/><circle cx="160.8" cy="246.6" r="5"/><circle cx="90.1" cy="265.3" r="5"/><circle cx="136.9" cy="218.1" r="5"/><circle cx="69.3" cy="208.4" r="5"/><circle cx="77.8" cy="188.9" r="5"/><circle cx="69.6" cy="202.4" r="5"/><circle cx="141.8" cy="221.8" r="5"/><circle cx="191.2" cy="164.9" r="5"/><circle cx="118.3" cy="235.2" r="5"/><circle cx="143.3" cy="233.6" r="5"/><circle cx="73.4" cy="233.4" r="5"/><circle cx="148.1" cy="138.7" r="5"/><circle cx="100.0" cy="220.5" r="5"/><circle cx="122.7" cy="247.9" r="5"/><circle cx="75.9" cy="198.2" r="5"/><circle cx="82.9" cy="265.4" r="5"/><circle cx="137.0" cy="121.4" r="5"/><circle cx="153.3" cy="239.0" r="5"/><circle cx="115.4" cy="241.5" r="5"/><circle cx="194.4" cy="168.8" r="5"/><circle cx="141.1" cy="241.6" r="5"/><circle cx="101.6" cy="194.4" r="5"/><circle cx="93.0" cy="270.7" r="5"/><circle cx="116.5" cy="276.3" r="5"/><circle cx="96.0" cy="224.5" r="5"/><circle cx="110.2" cy="189.5" r="5"/><circle cx="126.2" cy="259.7" r="5"/><circle cx="64.7" cy="248.4" r="5"/><circle cx="90.4" cy="218.3" r="5"/><circle cx="89.7" cy="243.0" r="5"/><circle cx="79.4" cy="207.7" r="5"/><circle cx="202.4" cy="128.3" r="5"/><circle cx="53.9" cy="242.1" r="5"/><circle cx="66.9" cy="242.1" r="5"/><circle cx="152.6" cy="246.5" r="5"/><circle cx="145.8" cy="113.6" r="5"/><circle cx="125.4" cy="263.8" r="5"/><circle cx="97.4" cy="261.7" r="5"/><circle cx="81.0" cy="233.9" r="5"/><circle cx="74.7" cy="211.6" r="5"/><circle cx="177.8" cy="145.8" r="5"/><circle cx="170.8" cy="174.7" r="5"/><circle cx="65.0" cy="229.5" r="5"/><circle cx="123.4" cy="191.6" r="5"/><circle cx="169.6" cy="116.3" r="5"/><circle cx="119.6" cy="245.3" r="5"/><circle cx="148.4" cy="109.6" r="5"/><circle cx="75.5" cy="221.1" r="5"/><circle cx="87.0" cy="261.9" r="5"/><circle cx="129.6" cy="270.7" r="5"/><circle cx="112.3" cy="242.3" r="5"/><circle cx="211.8" cy="138.1" r="5"/><circle cx="120.2" cy="238.9" r="5"/><circle cx="83.5" cy="199.7" r="5"/><circle cx="199.2" cy="150.7" r="5"/><circle cx="129.5" cy="228.4" r="5"/><circle cx="87.6" cy="192.6" r="5"/><circle cx="110.3" cy="215.7" r="5"/><circle cx="181.6" cy="170.8" r="5"/><circle cx="145.7" cy="257.4" r="5"/><circle cx="105.8" cy="245.5" r="5"/><circle cx="62.2" cy="231.1" r="5"/><circle cx="173.2" cy="120.6" r="5"/><circle cx="143.9" cy="113.0" r="5"/><circle cx="63.1" cy="237.2" r="5"/><circle cx="121.9" cy="261.1" r="5"/><circle cx="132.5" cy="254.5" r="5"/><circle cx="131.8" cy="279.8" r="5"/><circle cx="90.6" cy="192.9" r="5"/><circle cx="206.1" cy="156.4" r="5"/><circle cx="157.9" cy="164.2" r="5"/><circle cx="145.4" cy="243.2" r="5"/><circle cx="207.0" cy="136.4" r="5"/><circle cx="116.9" cy="190.9" r="5"/><circle cx="112.5" cy="210.8" r="5"/><circle cx="229.2" cy="171.5" r="5"/><circle cx="93.3" cy="228.1" r="5"/><circle cx="77.5" cy="198.5" r="5"/><circle cx="92.7" cy="240.1" r="5"/><circle cx="117.5" cy="269.3" r="5"/><circle cx="96.2" cy="235.1" r="5"/><circle cx="188.8" cy="130.7" r="5"/><circle cx="88.5" cy="268.2" r="5"/><circle cx="142.8" cy="269.9" r="5"/><circle cx="155.0" cy="236.5" r="5"/><circle cx="114.5" cy="249.8" r="5"/></g><g fill="#d2d2d2"><rect x="163.8" y="99.5" width="0.8" height="0.8"/><rect x="171.4" y="96.3" width="0.8" height="0.8"/><rect x="168.5" y="96.1" width="0.8" height="0.8"/><rect x="174.4" y="105.6" width="0.8" height="0.8"/><rect x="175.3" y="102.3" width="0.8" height="0.8"/><rect x="171.6" y="102.7" width="0.8" height="0.8"/><rect x="165.0" y="105.4" width="0.8" height="0.8"/><rect x="163.0" y="102.9" width="0.8" height="0.8"/><rect x="172.9" y="104.9" width="0.8" height="0.8"/><rect x="140.5" y="117.0" width="0.8" height="0.8"/><rect x="142.4" y="105.2" width="0.8" height="0.8"/><rect x="143.1" y="105.4" width="0.8" height="0.8"/><rect x="139.6" y="106.5" width="0.8" height="0.8"/><rect x="150.3" y="108.8" width="0.8" height="0.8"/><rect x="143.1" y="112.5" width="0.8" height="0.8"/><rect x="150.2" y="107.8" width="0.8" height="0.8"/><rect x="140.0" y="117.2" width="0.8" height="0.8"/><rect x="135.4" y="107.0" width="0.8" height="0.8"/><rect x="157.1" y="118.8" width="0.8" height="0.8"/><rect x="151.5" y="102.3" width="0.8" height="0.8"/><rect x="158.2" y="107.7" width="0.8" height="0.8"/><rect x="152.4" y="113.2" width="0.8" height="0.8"/><rect x="156.5" y="112.8" width="0.8" height="0.8"/><rect x="152.7" y="116.6" width="0.8" height="0.8"/><rect x="161.6" y="110.6" width="0.8" height="0.8"/><rect x="152.3" y="114.3" width="0.8" height="0.8"/><rect x="157.0" y="105.4" width="0.8" height="0.8"/><rect x="157.6" y="116.2" width="0.8" height="0.8"/><rect x="159.1" y="108.2" width="0.8" height="0.8"/><rect x="162.5" y="110.6" width="0.8" height="0.8"/><rect x="159.9" y="103.0" width="0.8" height="0.8"/><rect x="167.5" y="111.9" width="0.8" height="0.8"/><rect x="155.7" y="115.7" width="0.8" height="0.8"/><rect x="162.7" y="111.2" width="0.8" height="0.8"/><rect x="163.6" y="118.9" width="0.8" height="0.8"/><rect x="162.3" y="118.0" width="0.8" height="0.8"/><rect x="178.4" y="110.0" width="0.8" height="0.8"/><rect x="167.9" y="117.7" width="0.8" height="0.8"/><rect x="163.1" y="112.5" width="0.8" height="0.8"/><rect x="176.3" y="118.3" width="0.8" height="0.8"/><rect x="173.0" y="106.0" width="0.8" height="0.8"/><rect x="179.0" y="115.7" width="0.8" height="0.8"/><rect x="174.6" y="116.3" width="0.8" height="0.8"/><rect x="164.1" y="108.3" width="0.8" height="0.8"/><rect x="166.0" y="120.9" width="0.8" height="0.8"/><rect x="128.7" y="118.8" width="0.8" height="0.8"/><rect x="131.5" y="123.4" width="0.8" height="0.8"/><rect x="136.1" y="121.7" width="0.8" height="0.8"/><rect x="129.7" y="111.8" width="0.8" height="0.8"/><rect x="134.5" y="122.5" width="0.8" height="0.8"/><rect x="138.9" y="119.6" width="0.8" height="0.8"/><rect x="129.6" y="122.4" width="0.8" height="0.8"/><rect x="126.5" y="115.7" width="0.8" height="0.8"/><rect x="128.0" y="121.5" width="0.8" height="0.8"/><rect x="153.7" y="120.2" width="0.8" height="0.8"/><rect x="151.4" y="118.5" width="0.8" height="0.8"/><rect x="147.6" y="114.5" width="0.8" height="0.8"/><rect x="144.8" y="108.7" width="0.8" height="0.8"/><rect x="140.6" y="111.7" width="0.8" height="0.8"/><rect x="150.0" y="120.6" width="0.8" height="0.8"/><rect x="150.5" y="123.7" width="0.8" height="0.8"/><rect x="144.3" y="122.5" width="0.8" height="0.8"/><rect x="153.8" y="117.3" width="0.8" height="0.8"/><rect x="155.0" y="117.7" width="0.8" height="0.8"/><rect x="142.4" y="119.0" width="0.8" height="0.8"/><rect x="145.2" y="119.1" width="0.8" height="0.8"/><rect x="146.8" y="120.5" width="0.8" height="0.8"/><rect x="143.2" y="124.7" width="0.8" height="0.8"/><rect x="156.0" y="116.9" width="0.8" height="0.8"/><rect x="144.9" y="118.5" width="0.8" height="0.8"/><rect x="153.2" y="120.8" width="0.8" height="0.8"/><rect x="151.2" y="110.5" width="0.8" height="0.8"/><rect x="163.7" y="124.8" width="0.8" height="0.8"/><rect x="169.7" y="112.1" width="0.8" height="0.8"/><rect x="164.8" y="112.6" width="0.8" height="0.8"/><rect x="164.0" y="124.4" width="0.8" height="0.8"/><rect x="167.5" y="124.6" width="0.8" height="0.8"/><rect x="169.5" y="112.1" width="0.8" height="0.8"/><rect x="166.2" y="127.3" width="0.8" height="0.8"/><rect x="164.9" y="113.9" width="0.8" height="0.8"/><rect x="174.6" y="119.4" width="0.8" height="0.8"/><rect x="141.0" y="129.7" width="0.8" height="0.8"/><rect x="133.4" y="124.6" width="0.8" height="0.8"/><rect x="136.4" y="116.7" width="0.8" height="0.8"/><rect x="137.1" y="128.3" width="0.8" height="0.8"/><rect x="140.4" y="114.9" width="0.8" height="0.8"/><rect x="136.3" y="129.3" width="0.8" height="0.8"/><rect x="145.8" y="117.7" width="0.8" height="0.8"/><rect x="149.6" y="121.5" width="0.8" height="0.8"/><rect x="135.1" y="122.1" width="0.8" height="0.8"/><rect x="159.3" y="132.2" width="0.8" height="0.8"/><rect x="160.5" y="123.2" width="0.8" height="0.8"/><rect x="152.7" y="118.6" width="0.8" height="0.8"/><rect x="154.9" y="121.7" width="0.8" height="0.8"/><rect x="156.5" y="119.1" width="0.8" height="0.8"/><rect x="152.7" y="120.8" width="0.8" height="0.8"/><rect x="149.9" y="120.0" width="0.8" height="0.8"/><rect x="150.6" y="119.9" width="0.8" height="0.8"/><rect x="158.8" y="125.9" width="0.8" height="0.8"/><rect x="136.5" y="133.4" width="0.8" height="0.8"/><rect x="144.1" y="137.8" width="0.8" height="0.8"/><rect x="140.9" y="129.0" width="0.8" height="0.8"/><rect x="138.9" y="131.7" width="0.8" height="0.8"/><rect x="146.0" y="132.1" width="0.8" height="0.8"/><rect x="141.3" y="134.4" width="0.8" height="0.8"/><rect x="143.8" y="133.6" width="0.8" height="0.8"/><rect x="137.9" y="132.1" width="0.8" height="0.8"/><rect x="138.0" y="126.9" width="0.8" height="0.8"/><rect x="149.8" y="141.6" width="0.8" height="0.8"/><rect x="154.3" y="133.3" width="0.8" height="0.8"/><rect x="148.3" y="138.4" width="0.8" height="0.8"/><rect x="155.1" y="138.5" width="0.8" height="0.8"/><rect x="147.3" y="135.2" width="0.8" height="0.8"/><rect x="146.8" y="131.3" width="0.8" height="0.8"/><rect x="144.7" y="132.0" width="0.8" height="0.8"/><rect x="141.6" y="129.1" width="0.8" height="0.8"/><rect x="151.4" y="128.6" width="0.8" height="0.8"/><rect x="149.5" y="137.8" width="0.8" height="0.8"/><rect x="144.6" y="146.5" width="0.8" height="0.8"/><rect x="141.8" y="140.5" width="0.8" height="0.8"/><rect x="155.4" y="141.7" width="0.8" height="0.8"/><rect x="143.2" y="141.0" width="0.8" height="0.8"/><rect x="148.9" y="142.4" width="0.8" height="0.8"/><rect x="151.7" y="147.9" width="0.8" height="0.8"/><rect x="144.3" y="141.7" width="0.8" height="0.8"/><rect x="141.2" y="138.0" width="0.8" height="0.8"/><rect x="149.7" y="160.3" width="0.8" height="0.8"/><rect x="154.2" y="160.9" width="0.8" height="0.8"/><rect x="158.4" y="155.7" width="0.8" height="0.8"/><rect x="161.7" y="154.6" width="0.8" height="0.8"/><rect x="150.0" y="154.2" width="0.8" height="0.8"/><rect x="159.2" y="155.9" width="0.8" height="0.8"/><rect x="149.6" y="158.9" width="0.8" height="0.8"/><rect x="159.2" y="156.0" width="0.8" height="0.8"/><rect x="152.2" y="162.1" width="0.8" height="0.8"/><rect x="168.0" y="164.9" width="0.8" height="0.8"/><rect x="159.2" y="161.9" width="0.8" height="0.8"/><rect x="164.9" y="152.7" width="0.8" height="0.8"/><rect x="169.2" y="160.9" width="0.8" height="0.8"/><rect x="162.0" y="168.9" width="0.8" height="0.8"/><rect x="164.1" y="156.4" width="0.8" height="0.8"/><rect x="162.9" y="163.9" width="0.8" height="0.8"/><rect x="167.7" y="160.1" width="0.8" height="0.8"/><rect x="159.0" y="156.9" width="0.8" height="0.8"/><rect x="141.2" y="162.4" width="0.8" height="0.8"/><rect x="145.0" y="164.2" width="0.8" height="0.8"/><rect x="145.4" y="163.1" width="0.8" height="0.8"/><rect x="140.5" y="166.5" width="0.8" height="0.8"/><rect x="143.4" y="173.2" width="0.8" height="0.8"/><rect x="140.4" y="168.6" width="0.8" height="0.8"/><rect x="144.9" y="161.2" width="0.8" height="0.8"/><rect x="149.1" y="168.4" width="0.8" height="0.8"/><rect x="137.0" y="169.8" width="0.8" height="0.8"/><rect x="157.2" y="164.1" width="0.8" height="0.8"/><rect x="160.1" y="168.7" width="0.8" height="0.8"/><rect x="147.0" y="170.7" width="0.8" height="0.8"/><rect x="150.9" y="161.6" width="0.8" height="0.8"/><rect x="144.2" y="169.0" width="0.8" height="0.8"/><rect x="148.8" y="171.3" width="0.8" height="0.8"/><rect x="154.9" y="165.0" width="0.8" height="0.8"/><rect x="150.3" y="175.6" width="0.8" height="0.8"/><rect x="159.9" y="171.2" width="0.8" height="0.8"/><rect x="163.4" y="161.8" width="0.8" height="0.8"/><rect x="163.5" y="174.2" width="0.8" height="0.8"/><rect x="168.1" y="165.0" width="0.8" height="0.8"/><rect x="159.2" y="167.6" width="0.8" height="0.8"/><rect x="160.6" y="166.9" width="0.8" height="0.8"/><rect x="168.8" y="172.0" width="0.8" height="0.8"/><rect x="166.3" y="164.1" width="0.8" height="0.8"/><rect x="166.2" y="174.6" width="0.8" height="0.8"/><rect x="167.0" y="160.2" width="0.8" height="0.8"/><rect x="171.6" y="176.5" width="0.8" height="0.8"/><rect x="173.4" y="174.1" width="0.8" height="0.8"/><rect x="163.7" y="172.6" width="0.8" height="0.8"/><rect x="166.6" y="172.0" width="0.8" height="0.8"/><rect x="159.2" y="168.4" width="0.8" height="0.8"/><rect x="163.7" y="172.0" width="0.8" height="0.8"/><rect x="162.3" y="183.5" width="0.8" height="0.8"/><rect x="168.3" y="180.5" width="0.8" height="0.8"/><rect x="161.5" y="177.1" width="0.8" height="0.8"/><rect x="149.2" y="178.6" width="0.8" height="0.8"/><rect x="155.1" y="183.6" width="0.8" height="0.8"/><rect x="153.8" y="181.8" width="0.8" height="0.8"/><rect x="144.7" y="177.2" width="0.8" height="0.8"/><rect x="153.6" y="178.2" width="0.8" height="0.8"/><rect x="147.1" y="182.4" width="0.8" height="0.8"/><rect x="146.6" y="177.2" width="0.8" height="0.8"/><rect x="155.8" y="178.6" width="0.8" height="0.8"/><rect x="157.8" y="182.9" width="0.8" height="0.8"/><rect x="179.7" y="132.8" width="0.8" height="0.8"/><rect x="167.5" y="127.1" width="0.8" height="0.8"/><rect x="169.7" y="125.2" width="0.8" height="0.8"/><rect x="175.4" y="133.5" width="0.8" height="0.8"/><rect x="175.7" y="134.8" width="0.8" height="0.8"/><rect x="172.5" y="127.0" width="0.8" height="0.8"/><rect x="176.4" y="132.3" width="0.8" height="0.8"/><rect x="175.6" y="123.7" width="0.8" height="0.8"/><rect x="174.4" y="120.8" width="0.8" height="0.8"/><rect x="190.9" y="132.3" width="0.8" height="0.8"/><rect x="187.8" y="130.6" width="0.8" height="0.8"/><rect x="181.6" y="126.5" width="0.8" height="0.8"/><rect x="189.0" y="124.9" width="0.8" height="0.8"/><rect x="181.6" y="135.7" width="0.8" height="0.8"/><rect x="192.1" y="130.1" width="0.8" height="0.8"/><rect x="188.3" y="130.0" width="0.8" height="0.8"/><rect x="191.6" y="126.7" width="0.8" height="0.8"/><rect x="185.5" y="132.0" width="0.8" height="0.8"/><rect x="204.9" y="121.6" width="0.8" height="0.8"/><rect x="199.7" y="119.7" width="0.8" height="0.8"/><rect x="194.8" y="119.4" width="0.8" height="0.8"/><rect x="198.6" y="127.4" width="0.8" height="0.8"/><rect x="194.6" y="119.7" width="0.8" height="0.8"/><rect x="195.6" y="125.0" width="0.8" height="0.8"/><rect x="201.5" y="116.9" width="0.8" height="0.8"/><rect x="200.0" y="117.8" width="0.8" height="0.8"/><rect x="201.7" y="118.1" width="0.8" height="0.8"/><rect x="187.3" y="129.2" width="0.8" height="0.8"/><rect x="192.2" y="127.5" width="0.8" height="0.8"/><rect x="194.7" y="134.2" width="0.8" height="0.8"/><rect x="193.3" y="135.2" width="0.8" height="0.8"/><rect x="196.8" y="129.0" width="0.8" height="0.8"/><rect x="192.7" y="130.1" width="0.8" height="0.8"/><rect x="184.4" y="134.1" width="0.8" height="0.8"/><rect x="188.6" y="129.0" width="0.8" height="0.8"/><rect x="189.4" y="133.3" width="0.8" height="0.8"/><rect x="215.0" y="132.1" width="0.8" height="0.8"/><rect x="209.5" y="132.7" width="0.8" height="0.8"/><rect x="215.5" y="126.8" width="0.8" height="0.8"/><rect x="212.9" y="133.5" width="0.8" height="0.8"/><rect x="215.3" y="132.9" width="0.8" height="0.8"/><rect x="213.5" y="134.8" width="0.8" height="0.8"/><rect x="221.3" y="130.9" width="0.8" height="0.8"/><rect x="207.2" y="135.5" width="0.8" height="0.8"/><rect x="210.4" y="122.8" width="0.8" height="0.8"/><rect x="198.2" y="135.3" width="0.8" height="0.8"/><rect x="211.8" y="138.4" width="0.8" height="0.8"/><rect x="204.9" y="140.5" width="0.8" height="0.8"/><rect x="206.2" y="130.3" width="0.8" height="0.8"/><rect x="207.5" y="136.3" width="0.8" height="0.8"/><rect x="207.1" y="136.8" width="0.8" height="0.8"/><rect x="199.5" y="138.9" width="0.8" height="0.8"/><rect x="203.7" y="137.2" width="0.8" height="0.8"/><rect x="202.4" y="134.7" width="0.8" height="0.8"/><rect x="180.8" y="132.8" width="0.8" height="0.8"/><rect x="183.7" y="143.4" width="0.8" height="0.8"/><rect x="177.6" y="132.3" width="0.8" height="0.8"/><rect x="178.4" y="135.7" width="0.8" height="0.8"/><rect x="184.1" y="139.5" width="0.8" height="0.8"/><rect x="188.6" y="142.7" width="0.8" height="0.8"/><rect x="179.2" y="141.4" width="0.8" height="0.8"/><rect x="173.1" y="137.2" width="0.8" height="0.8"/><rect x="176.9" y="139.3" width="0.8" height="0.8"/><rect x="176.5" y="153.2" width="0.8" height="0.8"/><rect x="178.6" y="148.2" width="0.8" height="0.8"/><rect x="176.6" y="150.5" width="0.8" height="0.8"/><rect x="174.1" y="154.4" width="0.8" height="0.8"/><rect x="171.7" y="153.3" width="0.8" height="0.8"/><rect x="173.8" y="156.7" width="0.8" height="0.8"/><rect x="173.0" y="154.3" width="0.8" height="0.8"/><rect x="182.6" y="153.7" width="0.8" height="0.8"/><rect x="176.5" y="156.8" width="0.8" height="0.8"/><rect x="180.1" y="158.4" width="0.8" height="0.8"/><rect x="188.9" y="157.3" width="0.8" height="0.8"/><rect x="189.7" y="158.8" width="0.8" height="0.8"/><rect x="190.6" y="152.0" width="0.8" height="0.8"/><rect x="187.4" y="152.0" width="0.8" height="0.8"/><rect x="191.0" y="155.7" width="0.8" height="0.8"/><rect x="178.8" y="155.5" width="0.8" height="0.8"/><rect x="180.3" y="159.6" width="0.8" height="0.8"/><rect x="183.7" y="146.7" width="0.8" height="0.8"/><rect x="195.6" y="152.6" width="0.8" height="0.8"/><rect x="199.3" y="144.0" width="0.8" height="0.8"/><rect x="200.9" y="150.5" width="0.8" height="0.8"/><rect x="203.9" y="151.4" width="0.8" height="0.8"/><rect x="199.4" y="143.4" width="0.8" height="0.8"/><rect x="199.6" y="149.7" width="0.8" height="0.8"/><rect x="197.6" y="150.5" width="0.8" height="0.8"/><rect x="191.9" y="150.2" width="0.8" height="0.8"/><rect x="197.6" y="150.4" width="0.8" height="0.8"/><rect x="204.6" y="149.8" width="0.8" height="0.8"/><rect x="206.9" y="156.6" width="0.8" height="0.8"/><rect x="203.3" y="154.7" width="0.8" height="0.8"/><rect x="201.5" y="154.7" width="0.8" height="0.8"/><rect x="205.6" y="146.4" width="0.8" height="0.8"/><rect x="210.9" y="148.4" width="0.8" height="0.8"/><rect x="205.9" y="146.3" width="0.8" height="0.8"/><rect x="198.2" y="155.3" width="0.8" height="0.8"/><rect x="200.6" y="145.3" width="0.8" height="0.8"/><rect x="210.7" y="138.2" width="0.8" height="0.8"/><rect x="210.8" y="152.9" width="0.8" height="0.8"/><rect x="209.2" y="147.5" width="0.8" height="0.8"/><rect x="215.0" y="146.6" width="0.8" height="0.8"/><rect x="211.2" y="152.1" width="0.8" height="0.8"/><rect x="211.1" y="148.0" width="0.8" height="0.8"/><rect x="212.2" y="139.1" width="0.8" height="0.8"/><rect x="214.5" y="145.7" width="0.8" height="0.8"/><rect x="215.0" y="148.7" width="0.8" height="0.8"/><rect x="182.5" y="167.4" width="0.8" height="0.8"/><rect x="173.9" y="171.5" width="0.8" height="0.8"/><rect x="172.6" y="176.2" width="0.8" height="0.8"/><rect x="175.8" y="176.4" width="0.8" height="0.8"/><rect x="170.2" y="170.1" width="0.8" height="0.8"/><rect x="176.5" y="171.0" width="0.8" height="0.8"/><rect x="173.5" y="173.4" width="0.8" height="0.8"/><rect x="175.6" y="168.9" width="0.8" height="0.8"/><rect x="184.1" y="171.2" width="0.8" height="0.8"/><rect x="212.8" y="127.3" width="0.8" height="0.8"/><rect x="214.1" y="121.4" width="0.8" height="0.8"/><rect x="204.5" y="126.4" width="0.8" height="0.8"/><rect x="210.3" y="115.7" width="0.8" height="0.8"/><rect x="200.8" y="122.4" width="0.8" height="0.8"/><rect x="206.8" y="122.4" width="0.8" height="0.8"/><rect x="211.5" y="119.4" width="0.8" height="0.8"/><rect x="217.8" y="127.1" width="0.8" height="0.8"/><rect x="215.5" y="125.5" width="0.8" height="0.8"/><rect x="199.1" y="139.9" width="0.8" height="0.8"/><rect x="204.3" y="141.4" width="0.8" height="0.8"/><rect x="206.7" y="142.8" width="0.8" height="0.8"/><rect x="202.8" y="137.2" width="0.8" height="0.8"/><rect x="207.3" y="134.9" width="0.8" height="0.8"/><rect x="204.8" y="142.3" width="0.8" height="0.8"/><rect x="215.2" y="138.1" width="0.8" height="0.8"/><rect x="211.1" y="133.7" width="0.8" height="0.8"/><rect x="204.5" y="141.0" width="0.8" height="0.8"/><rect x="201.5" y="136.8" width="0.8" height="0.8"/><rect x="202.2" y="142.6" width="0.8" height="0.8"/><rect x="204.5" y="146.0" width="0.8" height="0.8"/><rect x="201.8" y="139.6" width="0.8" height="0.8"/><rect x="200.0" y="137.4" width="0.8" height="0.8"/><rect x="195.4" y="134.4" width="0.8" height="0.8"/><rect x="193.2" y="136.4" width="0.8" height="0.8"/><rect x="196.9" y="143.6" width="0.8" height="0.8"/><rect x="192.4" y="141.3" width="0.8" height="0.8"/><rect x="203.0" y="158.4" width="0.8" height="0.8"/><rect x="199.9" y="156.2" width="0.8" height="0.8"/><rect x="199.1" y="158.4" width="0.8" height="0.8"/><rect x="194.0" y="154.9" width="0.8" height="0.8"/><rect x="193.8" y="159.1" width="0.8" height="0.8"/><rect x="204.4" y="146.0" width="0.8" height="0.8"/><rect x="198.6" y="147.4" width="0.8" height="0.8"/><rect x="193.5" y="152.0" width="0.8" height="0.8"/><rect x="196.9" y="158.6" width="0.8" height="0.8"/><rect x="193.9" y="157.0" width="0.8" height="0.8"/><rect x="195.8" y="165.2" width="0.8" height="0.8"/><rect x="200.5" y="164.8" width="0.8" height="0.8"/><rect x="189.9" y="158.7" width="0.8" height="0.8"/><rect x="195.4" y="157.9" width="0.8" height="0.8"/><rect x="200.3" y="160.5" width="0.8" height="0.8"/><rect x="195.8" y="159.4" width="0.8" height="0.8"/><rect x="196.5" y="155.4" width="0.8" height="0.8"/><rect x="204.4" y="160.1" width="0.8" height="0.8"/><rect x="183.1" y="160.2" width="0.8" height="0.8"/><rect x="185.6" y="161.0" width="0.8" height="0.8"/><rect x="187.6" y="173.2" width="0.8" height="0.8"/><rect x="189.3" y="165.0" width="0.8" height="0.8"/><rect x="192.1" y="166.5" width="0.8" height="0.8"/><rect x="184.1" y="169.1" width="0.8" height="0.8"/><rect x="183.3" y="169.8" width="0.8" height="0.8"/><rect x="181.3" y="160.7" width="0.8" height="0.8"/><rect x="191.6" y="164.0" width="0.8" height="0.8"/><rect x="214.5" y="144.5" width="0.8" height="0.8"/><rect x="214.6" y="136.7" width="0.8" height="0.8"/><rect x="215.8" y="137.6" width="0.8" height="0.8"/><rect x="219.8" y="139.9" width="0.8" height="0.8"/><rect x="215.4" y="146.4" width="0.8" height="0.8"/><rect x="210.9" y="136.6" width="0.8" height="0.8"/><rect x="220.2" y="148.1" width="0.8" height="0.8"/><rect x="217.3" y="138.5" width="0.8" height="0.8"/><rect x="222.6" y="144.8" width="0.8" height="0.8"/><rect x="235.0" y="133.4" width="0.8" height="0.8"/><rect x="230.3" y="135.4" width="0.8" height="0.8"/><rect x="225.7" y="143.3" width="0.8" height="0.8"/><rect x="234.7" y="138.1" width="0.8" height="0.8"/><rect x="229.8" y="146.9" width="0.8" height="0.8"/><rect x="234.6" y="139.8" width="0.8" height="0.8"/><rect x="234.2" y="141.2" width="0.8" height="0.8"/><rect x="225.1" y="138.1" width="0.8" height="0.8"/><rect x="232.5" y="144.0" width="0.8" height="0.8"/><rect x="223.9" y="143.2" width="0.8" height="0.8"/><rect x="226.8" y="140.3" width="0.8" height="0.8"/><rect x="234.7" y="149.1" width="0.8" height="0.8"/><rect x="233.9" y="139.5" width="0.8" height="0.8"/><rect x="226.2" y="154.3" width="0.8" height="0.8"/><rect x="224.3" y="140.3" width="0.8" height="0.8"/><rect x="230.4" y="154.0" width="0.8" height="0.8"/><rect x="232.5" y="142.3" width="0.8" height="0.8"/><rect x="232.5" y="149.2" width="0.8" height="0.8"/><rect x="223.9" y="157.6" width="0.8" height="0.8"/><rect x="226.0" y="160.3" width="0.8" height="0.8"/><rect x="228.1" y="159.5" width="0.8" height="0.8"/><rect x="221.5" y="147.2" width="0.8" height="0.8"/><rect x="224.6" y="148.3" width="0.8" height="0.8"/><rect x="229.9" y="151.0" width="0.8" height="0.8"/><rect x="216.0" y="148.8" width="0.8" height="0.8"/><rect x="224.7" y="156.9" width="0.8" height="0.8"/><rect x="225.7" y="156.5" width="0.8" height="0.8"/><rect x="234.2" y="158.9" width="0.8" height="0.8"/><rect x="235.0" y="148.4" width="0.8" height="0.8"/><rect x="242.5" y="157.6" width="0.8" height="0.8"/><rect x="233.3" y="153.7" width="0.8" height="0.8"/><rect x="242.8" y="159.3" width="0.8" height="0.8"/><rect x="233.2" y="159.9" width="0.8" height="0.8"/><rect x="229.3" y="155.2" width="0.8" height="0.8"/><rect x="240.9" y="154.0" width="0.8" height="0.8"/><rect x="238.5" y="147.8" width="0.8" height="0.8"/><rect x="210.3" y="162.0" width="0.8" height="0.8"/><rect x="206.4" y="159.5" width="0.8" height="0.8"/><rect x="210.5" y="150.5" width="0.8" height="0.8"/><rect x="208.0" y="161.9" width="0.8" height="0.8"/><rect x="204.2" y="159.0" width="0.8" height="0.8"/><rect x="212.7" y="152.8" width="0.8" height="0.8"/><rect x="209.9" y="163.4" width="0.8" height="0.8"/><rect x="214.6" y="154.1" width="0.8" height="0.8"/><rect x="216.2" y="160.5" width="0.8" height="0.8"/><rect x="231.5" y="169.5" width="0.8" height="0.8"/><rect x="234.8" y="164.6" width="0.8" height="0.8"/><rect x="235.6" y="165.9" width="0.8" height="0.8"/><rect x="237.0" y="162.1" width="0.8" height="0.8"/><rect x="224.5" y="168.3" width="0.8" height="0.8"/><rect x="235.0" y="165.3" width="0.8" height="0.8"/><rect x="231.9" y="160.3" width="0.8" height="0.8"/><rect x="231.5" y="157.9" width="0.8" height="0.8"/><rect x="235.1" y="163.1" width="0.8" height="0.8"/><rect x="212.8" y="169.3" width="0.8" height="0.8"/><rect x="214.8" y="167.7" width="0.8" height="0.8"/><rect x="219.3" y="176.7" width="0.8" height="0.8"/><rect x="212.4" y="170.0" width="0.8" height="0.8"/><rect x="221.3" y="170.2" width="0.8" height="0.8"/><rect x="224.3" y="166.0" width="0.8" height="0.8"/><rect x="214.8" y="167.9" width="0.8" height="0.8"/><rect x="211.7" y="172.7" width="0.8" height="0.8"/><rect x="211.8" y="170.5" width="0.8" height="0.8"/><rect x="240.2" y="165.9" width="0.8" height="0.8"/><rect x="232.9" y="167.7" width="0.8" height="0.8"/><rect x="242.1" y="170.9" width="0.8" height="0.8"/><rect x="227.7" y="174.0" width="0.8" height="0.8"/><rect x="238.6" y="162.3" width="0.8" height="0.8"/><rect x="228.2" y="176.0" width="0.8" height="0.8"/><rect x="235.0" y="161.5" width="0.8" height="0.8"/><rect x="239.2" y="175.9" width="0.8" height="0.8"/><rect x="226.9" y="173.9" width="0.8" height="0.8"/><rect x="211.7" y="172.4" width="0.8" height="0.8"/><rect x="204.0" y="174.5" width="0.8" height="0.8"/><rect x="203.5" y="173.3" width="0.8" height="0.8"/><rect x="206.1" y="169.6" width="0.8" height="0.8"/><rect x="210.5" y="177.3" width="0.8" height="0.8"/><rect x="212.3" y="174.7" width="0.8" height="0.8"/><rect x="214.4" y="167.5" width="0.8" height="0.8"/><rect x="208.7" y="175.0" width="0.8" height="0.8"/><rect x="211.9" y="164.8" width="0.8" height="0.8"/><rect x="221.0" y="171.2" width="0.8" height="0.8"/><rect x="224.5" y="181.7" width="0.8" height="0.8"/><rect x="226.3" y="172.2" width="0.8" height="0.8"/><rect x="225.9" y="178.1" width="0.8" height="0.8"/><rect x="223.0" y="180.6" width="0.8" height="0.8"/><rect x="218.5" y="178.6" width="0.8" height="0.8"/><rect x="227.2" y="178.0" width="0.8" height="0.8"/><rect x="230.8" y="172.1" width="0.8" height="0.8"/><rect x="226.5" y="174.9" width="0.8" height="0.8"/><rect x="217.2" y="173.7" width="0.8" height="0.8"/><rect x="216.5" y="181.7" width="0.8" height="0.8"/><rect x="212.7" y="173.3" width="0.8" height="0.8"/><rect x="220.7" y="183.8" width="0.8" height="0.8"/><rect x="219.8" y="183.6" width="0.8" height="0.8"/><rect x="219.9" y="174.3" width="0.8" height="0.8"/><rect x="213.3" y="178.4" width="0.8" height="0.8"/><rect x="227.8" y="178.0" width="0.8" height="0.8"/><rect x="215.3" y="180.4" width="0.8" height="0.8"/><rect x="186.6" y="170.4" width="0.8" height="0.8"/><rect x="197.9" y="177.3" width="0.8" height="0.8"/><rect x="197.4" y="176.5" width="0.8" height="0.8"/><rect x="191.0" y="177.5" width="0.8" height="0.8"/><rect x="190.9" y="180.5" width="0.8" height="0.8"/><rect x="187.7" y="168.3" width="0.8" height="0.8"/><rect x="188.4" y="179.6" width="0.8" height="0.8"/><rect x="190.5" y="166.9" width="0.8" height="0.8"/><rect x="201.0" y="172.5" width="0.8" height="0.8"/><rect x="143.3" y="196.0" width="0.8" height="0.8"/><rect x="147.1" y="191.4" width="0.8" height="0.8"/><rect x="137.5" y="194.9" width="0.8" height="0.8"/><rect x="139.5" y="191.7" width="0.8" height="0.8"/><rect x="148.4" y="190.6" width="0.8" height="0.8"/><rect x="136.9" y="190.1" width="0.8" height="0.8"/><rect x="147.5" y="196.2" width="0.8" height="0.8"/><rect x="138.2" y="192.8" width="0.8" height="0.8"/><rect x="145.8" y="197.9" width="0.8" height="0.8"/><rect x="124.7" y="167.2" width="0.8" height="0.8"/><rect x="119.9" y="169.0" width="0.8" height="0.8"/><rect x="125.9" y="165.2" width="0.8" height="0.8"/><rect x="120.6" y="173.6" width="0.8" height="0.8"/><rect x="121.6" y="161.9" width="0.8" height="0.8"/><rect x="124.9" y="160.3" width="0.8" height="0.8"/><rect x="116.8" y="170.3" width="0.8" height="0.8"/><rect x="121.9" y="170.3" width="0.8" height="0.8"/><rect x="125.6" y="162.4" width="0.8" height="0.8"/><rect x="157.9" y="203.6" width="0.8" height="0.8"/><rect x="156.8" y="208.0" width="0.8" height="0.8"/><rect x="154.6" y="199.7" width="0.8" height="0.8"/><rect x="157.8" y="206.0" width="0.8" height="0.8"/><rect x="157.6" y="200.7" width="0.8" height="0.8"/><rect x="156.9" y="203.8" width="0.8" height="0.8"/><rect x="152.2" y="204.1" width="0.8" height="0.8"/><rect x="153.8" y="199.4" width="0.8" height="0.8"/><rect x="152.0" y="203.2" width="0.8" height="0.8"/><rect x="171.3" y="206.6" width="0.8" height="0.8"/><rect x="174.6" y="210.3" width="0.8" height="0.8"/><rect x="170.6" y="209.2" width="0.8" height="0.8"/><rect x="161.7" y="209.3" width="0.8" height="0.8"/><rect x="173.8" y="203.1" width="0.8" height="0.8"/><rect x="174.3" y="210.4" width="0.8" height="0.8"/><rect x="170.0" y="204.9" width="0.8" height="0.8"/><rect x="168.3" y="203.4" width="0.8" height="0.8"/><rect x="167.4" y="210.0" width="0.8" height="0.8"/><rect x="197.1" y="229.9" width="0.8" height="0.8"/><rect x="201.3" y="232.5" width="0.8" height="0.8"/><rect x="199.0" y="238.9" width="0.8" height="0.8"/><rect x="196.1" y="244.3" width="0.8" height="0.8"/><rect x="197.7" y="238.7" width="0.8" height="0.8"/><rect x="195.0" y="238.1" width="0.8" height="0.8"/><rect x="191.0" y="238.7" width="0.8" height="0.8"/><rect x="194.7" y="232.7" width="0.8" height="0.8"/><rect x="200.5" y="240.1" width="0.8" height="0.8"/><rect x="95.6" y="234.6" width="0.8" height="0.8"/><rect x="90.2" y="235.8" width="0.8" height="0.8"/><rect x="100.3" y="242.9" width="0.8" height="0.8"/><rect x="91.7" y="239.8" width="0.8" height="0.8"/><rect x="102.7" y="236.0" width="0.8" height="0.8"/><rect x="95.0" y="235.1" width="0.8" height="0.8"/><rect x="99.4" y="231.8" width="0.8" height="0.8"/><rect x="96.8" y="242.7" width="0.8" height="0.8"/><rect x="97.4" y="244.4" width="0.8" height="0.8"/><rect x="163.2" y="226.5" width="0.8" height="0.8"/><rect x="155.4" y="224.4" width="0.8" height="0.8"/><rect x="163.1" y="228.3" width="0.8" height="0.8"/><rect x="160.6" y="224.6" width="0.8" height="0.8"/><rect x="165.3" y="233.2" width="0.8" height="0.8"/><rect x="163.5" y="224.0" width="0.8" height="0.8"/><rect x="168.4" y="231.9" width="0.8" height="0.8"/><rect x="155.0" y="233.6" width="0.8" height="0.8"/><rect x="159.3" y="225.1" width="0.8" height="0.8"/><rect x="101.1" y="245.1" width="0.8" height="0.8"/><rect x="107.4" y="244.3" width="0.8" height="0.8"/><rect x="104.0" y="237.6" width="0.8" height="0.8"/><rect x="107.0" y="240.5" width="0.8" height="0.8"/><rect x="103.9" y="246.1" width="0.8" height="0.8"/><rect x="112.2" y="240.0" width="0.8" height="0.8"/><rect x="109.6" y="239.1" width="0.8" height="0.8"/><rect x="109.2" y="245.8" width="0.8" height="0.8"/><rect x="105.4" y="245.3" width="0.8" height="0.8"/><rect x="58.4" y="232.6" width="0.8" height="0.8"/><rect x="66.9" y="238.0" width="0.8" height="0.8"/><rect x="70.3" y="230.8" width="0.8" height="0.8"/><rect x="59.3" y="235.0" width="0.8" height="0.8"/><rect x="62.8" y="231.1" width="0.8" height="0.8"/><rect x="59.4" y="233.6" width="0.8" height="0.8"/><rect x="68.4" y="233.8" width="0.8" height="0.8"/><rect x="58.4" y="235.9" width="0.8" height="0.8"/><rect x="54.0" y="231.5" width="0.8" height="0.8"/><rect x="117.7" y="266.9" width="0.8" height="0.8"/><rect x="112.7" y="264.4" width="0.8" height="0.8"/><rect x="116.3" y="269.7" width="0.8" height="0.8"/><rect x="125.2" y="263.0" width="0.8" height="0.8"/><rect x="123.4" y="259.7" width="0.8" height="0.8"/><rect x="123.0" y="267.4" width="0.8" height="0.8"/><rect x="126.3" y="263.2" width="0.8" height="0.8"/><rect x="113.2" y="268.2" width="0.8" height="0.8"/><rect x="116.0" y="262.6" width="0.8" height="0.8"/><rect x="122.8" y="252.9" width="0.8" height="0.8"/><rect x="124.1" y="251.3" width="0.8" height="0.8"/><rect x="124.7" y="239.3" width="0.8" height="0.8"/><rect x="126.9" y="248.6" width="0.8" height="0.8"/><rect x="121.9" y="238.9" width="0.8" height="0.8"/><rect x="131.5" y="251.1" width="0.8" height="0.8"/><rect x="126.7" y="248.4" width="0.8" height="0.8"/><rect x="128.9" y="248.6" width="0.8" height="0.8"/><rect x="118.4" y="240.2" width="0.8" height="0.8"/><rect x="99.8" y="276.7" width="0.8" height="0.8"/><rect x="101.1" y="274.5" width="0.8" height="0.8"/><rect x="96.1" y="275.5" width="0.8" height="0.8"/><rect x="102.9" y="273.0" width="0.8" height="0.8"/><rect x="101.5" y="275.9" width="0.8" height="0.8"/><rect x="92.9" y="276.1" width="0.8" height="0.8"/><rect x="92.5" y="266.3" width="0.8" height="0.8"/><rect x="102.1" y="264.6" width="0.8" height="0.8"/><rect x="95.2" y="275.2" width="0.8" height="0.8"/><rect x="108.9" y="246.1" width="0.8" height="0.8"/><rect x="102.0" y="250.9" width="0.8" height="0.8"/><rect x="109.8" y="247.9" width="0.8" height="0.8"/><rect x="102.4" y="242.3" width="0.8" height="0.8"/><rect x="106.2" y="245.9" width="0.8" height="0.8"/><rect x="110.8" y="246.9" width="0.8" height="0.8"/><rect x="110.6" y="243.0" width="0.8" height="0.8"/><rect x="99.5" y="252.2" width="0.8" height="0.8"/><rect x="104.4" y="244.2" width="0.8" height="0.8"/><rect x="97.7" y="202.9" width="0.8" height="0.8"/><rect x="96.8" y="202.3" width="0.8" height="0.8"/><rect x="99.4" y="205.2" width="0.8" height="0.8"/><rect x="95.9" y="208.7" width="0.8" height="0.8"/><rect x="100.3" y="201.3" width="0.8" height="0.8"/><rect x="99.8" y="206.2" width="0.8" height="0.8"/><rect x="92.9" y="207.4" width="0.8" height="0.8"/><rect x="101.2" y="211.2" width="0.8" height="0.8"/><rect x="106.3" y="207.3" width="0.8" height="0.8"/><rect x="149.5" y="263.7" width="0.8" height="0.8"/><rect x="146.0" y="251.8" width="0.8" height="0.8"/><rect x="146.5" y="252.7" width="0.8" height="0.8"/><rect x="148.5" y="258.4" width="0.8" height="0.8"/><rect x="145.4" y="250.6" width="0.8" height="0.8"/><rect x="148.7" y="250.1" width="0.8" height="0.8"/><rect x="144.8" y="257.6" width="0.8" height="0.8"/><rect x="148.5" y="251.0" width="0.8" height="0.8"/><rect x="142.8" y="251.6" width="0.8" height="0.8"/><rect x="73.1" y="205.6" width="0.8" height="0.8"/><rect x="83.5" y="204.8" width="0.8" height="0.8"/><rect x="81.5" y="200.4" width="0.8" height="0.8"/><rect x="82.0" y="204.2" width="0.8" height="0.8"/><rect x="79.9" y="200.1" width="0.8" height="0.8"/><rect x="74.5" y="204.7" width="0.8" height="0.8"/><rect x="81.4" y="198.0" width="0.8" height="0.8"/><rect x="77.0" y="202.9" width="0.8" height="0.8"/><rect x="81.7" y="196.1" width="0.8" height="0.8"/><rect x="133.5" y="216.5" width="0.8" height="0.8"/><rect x="133.8" y="217.3" width="0.8" height="0.8"/><rect x="143.0" y="216.8" width="0.8" height="0.8"/><rect x="147.3" y="223.1" width="0.8" height="0.8"/><rect x="143.0" y="221.8" width="0.8" height="0.8"/><rect x="143.5" y="223.9" width="0.8" height="0.8"/><rect x="143.1" y="224.9" width="0.8" height="0.8"/><rect x="142.5" y="224.1" width="0.8" height="0.8"/><rect x="144.4" y="222.2" width="0.8" height="0.8"/><rect x="147.5" y="227.4" width="0.8" height="0.8"/><rect x="147.0" y="222.8" width="0.8" height="0.8"/><rect x="157.7" y="218.1" width="0.8" height="0.8"/><rect x="148.3" y="216.9" width="0.8" height="0.8"/><rect x="145.3" y="223.6" width="0.8" height="0.8"/><rect x="147.5" y="222.0" width="0.8" height="0.8"/><rect x="142.5" y="222.6" width="0.8" height="0.8"/><rect x="146.9" y="212.9" width="0.8" height="0.8"/><rect x="146.7" y="213.7" width="0.8" height="0.8"/><rect x="117.6" y="221.1" width="0.8" height="0.8"/><rect x="113.2" y="222.2" width="0.8" height="0.8"/><rect x="108.2" y="221.5" width="0.8" height="0.8"/><rect x="117.1" y="222.4" width="0.8" height="0.8"/><rect x="108.3" y="228.5" width="0.8" height="0.8"/><rect x="109.9" y="230.9" width="0.8" height="0.8"/><rect x="108.7" y="220.4" width="0.8" height="0.8"/><rect x="114.0" y="232.8" width="0.8" height="0.8"/><rect x="114.4" y="223.1" width="0.8" height="0.8"/><rect x="68.5" y="262.1" width="0.8" height="0.8"/><rect x="60.9" y="261.1" width="0.8" height="0.8"/><rect x="62.6" y="261.0" width="0.8" height="0.8"/><rect x="66.3" y="262.7" width="0.8" height="0.8"/><rect x="65.2" y="260.1" width="0.8" height="0.8"/><rect x="54.9" y="255.8" width="0.8" height="0.8"/><rect x="65.5" y="254.5" width="0.8" height="0.8"/><rect x="65.9" y="257.1" width="0.8" height="0.8"/><rect x="64.7" y="260.6" width="0.8" height="0.8"/><rect x="61.3" y="251.1" width="0.8" height="0.8"/><rect x="55.5" y="243.2" width="0.8" height="0.8"/><rect x="57.1" y="243.7" width="0.8" height="0.8"/><rect x="60.9" y="245.7" width="0.8" height="0.8"/><rect x="51.8" y="248.0" width="0.8" height="0.8"/><rect x="50.5" y="251.2" width="0.8" height="0.8"/><rect x="57.1" y="245.2" width="0.8" height="0.8"/><rect x="53.1" y="256.3" width="0.8" height="0.8"/><rect x="60.7" y="251.4" width="0.8" height="0.8"/><rect x="67.1" y="228.1" width="0.8" height="0.8"/><rect x="63.2" y="219.6" width="0.8" height="0.8"/><rect x="65.2" y="216.3" width="0.8" height="0.8"/><rect x="62.3" y="228.7" width="0.8" height="0.8"/><rect x="66.6" y="216.9" width="0.8" height="0.8"/><rect x="64.4" y="218.4" width="0.8" height="0.8"/><rect x="62.8" y="221.0" width="0.8" height="0.8"/><rect x="60.5" y="214.8" width="0.8" height="0.8"/><rect x="64.0" y="219.3" width="0.8" height="0.8"/><rect x="145.2" y="248.1" width="0.8" height="0.8"/><rect x="147.5" y="249.8" width="0.8" height="0.8"/><rect x="149.8" y="253.9" width="0.8" height="0.8"/><rect x="157.0" y="251.6" width="0.8" height="0.8"/><rect x="151.0" y="253.0" width="0.8" height="0.8"/><rect x="154.5" y="251.0" width="0.8" height="0.8"/><rect x="154.8" y="246.8" width="0.8" height="0.8"/><rect x="154.7" y="251.3" width="0.8" height="0.8"/><rect x="153.7" y="247.6" width="0.8" height="0.8"/><rect x="47.8" y="245.3" width="0.8" height="0.8"/><rect x="47.6" y="237.1" width="0.8" height="0.8"/><rect x="56.5" y="246.8" width="0.8" height="0.8"/><rect x="46.6" y="248.2" width="0.8" height="0.8"/><rect x="42.1" y="244.5" width="0.8" height="0.8"/><rect x="53.6" y="243.5" width="0.8" height="0.8"/><rect x="49.0" y="246.2" width="0.8" height="0.8"/><rect x="52.4" y="236.9" width="0.8" height="0.8"/><rect x="46.6" y="246.9" width="0.8" height="0.8"/><rect x="73.6" y="239.0" width="0.8" height="0.8"/><rect x="63.6" y="246.2" width="0.8" height="0.8"/><rect x="66.2" y="240.7" width="0.8" height="0.8"/><rect x="67.1" y="245.6" width="0.8" height="0.8"/><rect x="62.5" y="247.2" width="0.8" height="0.8"/><rect x="68.4" y="248.7" width="0.8" height="0.8"/><rect x="65.0" y="240.3" width="0.8" height="0.8"/><rect x="72.5" y="249.0" width="0.8" height="0.8"/><rect x="69.8" y="241.4" width="0.8" height="0.8"/><rect x="92.8" y="232.5" width="0.8" height="0.8"/><rect x="89.5" y="226.2" width="0.8" height="0.8"/><rect x="92.8" y="231.1" width="0.8" height="0.8"/><rect x="85.6" y="234.5" width="0.8" height="0.8"/><rect x="92.4" y="229.0" width="0.8" height="0.8"/><rect x="89.5" y="231.8" width="0.8" height="0.8"/><rect x="85.0" y="222.4" width="0.8" height="0.8"/><rect x="91.9" y="221.5" width="0.8" height="0.8"/><rect x="81.2" y="222.4" width="0.8" height="0.8"/><rect x="116.3" y="278.3" width="0.8" height="0.8"/><rect x="111.1" y="279.3" width="0.8" height="0.8"/><rect x="120.2" y="278.6" width="0.8" height="0.8"/><rect x="108.6" y="278.8" width="0.8" height="0.8"/><rect x="121.9" y="270.3" width="0.8" height="0.8"/><rect x="107.6" y="278.5" width="0.8" height="0.8"/><rect x="117.2" y="273.3" width="0.8" height="0.8"/><rect x="113.7" y="266.1" width="0.8" height="0.8"/><rect x="109.7" y="274.4" width="0.8" height="0.8"/><rect x="73.3" y="203.5" width="0.8" height="0.8"/><rect x="75.6" y="196.8" width="0.8" height="0.8"/><rect x="70.7" y="205.4" width="0.8" height="0.8"/><rect x="64.9" y="201.4" width="0.8" height="0.8"/><rect x="66.7" y="200.1" width="0.8" height="0.8"/><rect x="78.6" y="200.6" width="0.8" height="0.8"/><rect x="68.7" y="195.4" width="0.8" height="0.8"/><rect x="64.7" y="198.9" width="0.8" height="0.8"/><rect x="62.6" y="198.7" width="0.8" height="0.8"/><rect x="136.4" y="277.0" width="0.8" height="0.8"/><rect x="132.2" y="286.9" width="0.8" height="0.8"/><rect x="140.1" y="288.7" width="0.8" height="0.8"/><rect x="141.1" y="283.1" width="0.8" height="0.8"/><rect x="134.7" y="287.3" width="0.8" height="0.8"/><rect x="139.4" y="282.6" width="0.8" height="0.8"/><rect x="143.2" y="280.9" width="0.8" height="0.8"/><rect x="136.6" y="286.8" width="0.8" height="0.8"/><rect x="138.8" y="282.1" width="0.8" height="0.8"/><rect x="157.6" y="252.7" width="0.8" height="0.8"/><rect x="152.9" y="248.2" width="0.8" height="0.8"/><rect x="157.4" y="245.7" width="0.8" height="0.8"/><rect x="161.8" y="244.2" width="0.8" height="0.8"/><rect x="161.4" y="240.6" width="0.8" height="0.8"/><rect x="155.3" y="240.3" width="0.8" height="0.8"/><rect x="156.5" y="248.1" width="0.8" height="0.8"/><rect x="157.8" y="245.8" width="0.8" height="0.8"/><rect x="153.4" y="238.8" width="0.8" height="0.8"/><rect x="98.1" y="189.7" width="0.8" height="0.8"/><rect x="98.3" y="182.9" width="0.8" height="0.8"/><rect x="92.7" y="182.2" width="0.8" height="0.8"/><rect x="98.8" y="186.2" width="0.8" height="0.8"/><rect x="89.0" y="193.6" width="0.8" height="0.8"/><rect x="93.1" y="192.1" width="0.8" height="0.8"/><rect x="93.3" y="194.9" width="0.8" height="0.8"/><rect x="95.8" y="191.5" width="0.8" height="0.8"/><rect x="93.7" y="194.3" width="0.8" height="0.8"/><rect x="74.9" y="254.0" width="0.8" height="0.8"/><rect x="73.3" y="249.2" width="0.8" height="0.8"/><rect x="65.6" y="253.0" width="0.8" height="0.8"/><rect x="65.9" y="258.4" width="0.8" height="0.8"/><rect x="64.1" y="249.5" width="0.8" height="0.8"/><rect x="70.6" y="251.2" width="0.8" height="0.8"/><rect x="71.0" y="257.6" width="0.8" height="0.8"/><rect x="66.0" y="253.5" width="0.8" height="0.8"/><rect x="73.9" y="255.7" width="0.8" height="0.8"/><rect x="117.3" y="214.1" width="0.8" height="0.8"/><rect x="113.5" y="204.9" width="0.8" height="0.8"/><rect x="115.3" y="217.4" width="0.8" height="0.8"/><rect x="119.0" y="218.5" width="0.8" height="0.8"/><rect x="121.4" y="214.6" width="0.8" height="0.8"/><rect x="114.7" y="203.3" width="0.8" height="0.8"/><rect x="108.6" y="210.9" width="0.8" height="0.8"/><rect x="111.9" y="205.2" width="0.8" height="0.8"/><rect x="120.0" y="212.0" width="0.8" height="0.8"/><rect x="90.9" y="185.9" width="0.8" height="0.8"/><rect x="102.9" y="188.8" width="0.8" height="0.8"/><rect x="93.6" y="189.2" width="0.8" height="0.8"/><rect x="89.0" y="183.6" width="0.8" height="0.8"/><rect x="94.9" y="190.5" width="0.8" height="0.8"/><rect x="91.5" y="180.5" width="0.8" height="0.8"/><rect x="95.2" y="188.6" width="0.8" height="0.8"/><rect x="90.5" y="185.8" width="0.8" height="0.8"/><rect x="94.8" y="182.0" width="0.8" height="0.8"/><rect x="107.7" y="194.5" width="0.8" height="0.8"/><rect x="114.6" y="195.4" width="0.8" height="0.8"/><rect x="115.9" y="191.3" width="0.8" height="0.8"/><rect x="109.1" y="192.5" width="0.8" height="0.8"/><rect x="117.7" y="193.3" width="0.8" height="0.8"/><rect x="116.2" y="196.8" width="0.8" height="0.8"/><rect x="116.1" y="190.9" width="0.8" height="0.8"/><rect x="109.3" y="198.1" width="0.8" height="0.8"/><rect x="111.7" y="190.6" width="0.8" height="0.8"/><rect x="129.8" y="246.6" width="0.8" height="0.8"/><rect x="133.5" y="239.0" width="0.8" height="0.8"/><rect x="129.0" y="247.9" width="0.8" height="0.8"/><rect x="125.8" y="242.6" width="0.8" height="0.8"/><rect x="125.7" y="236.1" width="0.8" height="0.8"/><rect x="123.3" y="243.1" width="0.8" height="0.8"/><rect x="130.4" y="233.6" width="0.8" height="0.8"/><rect x="127.1" y="240.5" width="0.8" height="0.8"/><rect x="122.4" y="242.1" width="0.8" height="0.8"/><rect x="98.3" y="264.4" width="0.8" height="0.8"/><rect x="97.3" y="263.2" width="0.8" height="0.8"/><rect x="96.5" y="253.8" width="0.8" height="0.8"/><rect x="108.0" y="255.1" width="0.8" height="0.8"/><rect x="99.9" y="251.5" width="0.8" height="0.8"/><rect x="102.4" y="264.8" width="0.8" height="0.8"/><rect x="99.5" y="256.4" width="0.8" height="0.8"/><rect x="101.8" y="254.4" width="0.8" height="0.8"/><rect x="95.8" y="258.6" width="0.8" height="0.8"/><rect x="134.0" y="248.0" width="0.8" height="0.8"/><rect x="126.9" y="257.1" width="0.8" height="0.8"/><rect x="129.5" y="257.6" width="0.8" height="0.8"/><rect x="139.9" y="255.2" width="0.8" height="0.8"/><rect x="133.3" y="246.9" width="0.8" height="0.8"/><rect x="141.8" y="259.2" width="0.8" height="0.8"/><rect x="131.8" y="250.5" width="0.8" height="0.8"/><rect x="137.3" y="247.6" width="0.8" height="0.8"/><rect x="138.7" y="259.9" width="0.8" height="0.8"/><rect x="79.2" y="248.7" width="0.8" height="0.8"/><rect x="91.9" y="251.4" width="0.8" height="0.8"/><rect x="85.8" y="250.8" width="0.8" height="0.8"/><rect x="76.9" y="257.1" width="0.8" height="0.8"/><rect x="91.4" y="250.9" width="0.8" height="0.8"/><rect x="80.7" y="259.9" width="0.8" height="0.8"/><rect x="77.7" y="252.0" width="0.8" height="0.8"/><rect x="79.2" y="247.2" width="0.8" height="0.8"/><rect x="82.5" y="244.8" width="0.8" height="0.8"/><rect x="87.4" y="265.2" width="0.8" height="0.8"/><rect x="89.7" y="259.8" width="0.8" height="0.8"/><rect x="101.4" y="267.6" width="0.8" height="0.8"/><rect x="90.7" y="270.2" width="0.8" height="0.8"/><rect x="96.7" y="265.9" width="0.8" height="0.8"/><rect x="96.9" y="263.1" width="0.8" height="0.8"/><rect x="90.7" y="272.4" width="0.8" height="0.8"/><rect x="93.4" y="271.8" width="0.8" height="0.8"/><rect x="85.5" y="261.5" width="0.8" height="0.8"/><rect x="115.9" y="220.7" width="0.8" height="0.8"/><rect x="120.2" y="224.9" width="0.8" height="0.8"/><rect x="123.8" y="220.1" width="0.8" height="0.8"/><rect x="123.2" y="223.7" width="0.8" height="0.8"/><rect x="121.5" y="211.5" width="0.8" height="0.8"/><rect x="118.0" y="223.3" width="0.8" height="0.8"/><rect x="118.7" y="226.4" width="0.8" height="0.8"/><rect x="117.3" y="220.5" width="0.8" height="0.8"/><rect x="116.3" y="219.4" width="0.8" height="0.8"/><rect x="119.6" y="251.0" width="0.8" height="0.8"/><rect x="119.1" y="248.3" width="0.8" height="0.8"/><rect x="115.5" y="239.0" width="0.8" height="0.8"/><rect x="118.1" y="241.7" width="0.8" height="0.8"/><rect x="117.5" y="244.1" width="0.8" height="0.8"/><rect x="119.1" y="241.8" width="0.8" height="0.8"/><rect x="119.1" y="245.1" width="0.8" height="0.8"/><rect x="122.1" y="244.5" width="0.8" height="0.8"/><rect x="114.3" y="237.2" width="0.8" height="0.8"/><rect x="139.5" y="242.1" width="0.8" height="0.8"/><rect x="126.8" y="243.7" width="0.8" height="0.8"/><rect x="137.9" y="240.0" width="0.8" height="0.8"/><rect x="141.1" y="241.4" width="0.8" height="0.8"/><rect x="134.0" y="244.8" width="0.8" height="0.8"/><rect x="129.8" y="244.5" width="0.8" height="0.8"/><rect x="130.7" y="243.2" width="0.8" height="0.8"/><rect x="140.3" y="240.1" width="0.8" height="0.8"/><rect x="132.3" y="249.0" width="0.8" height="0.8"/><rect x="101.7" y="208.6" width="0.8" height="0.8"/><rect x="104.7" y="205.8" width="0.8" height="0.8"/><rect x="108.0" y="203.2" width="0.8" height="0.8"/><rect x="94.7" y="202.3" width="0.8" height="0.8"/><rect x="98.7" y="198.1" width="0.8" height="0.8"/><rect x="99.2" y="205.9" width="0.8" height="0.8"/><rect x="104.7" y="203.9" width="0.8" height="0.8"/><rect x="99.4" y="204.8" width="0.8" height="0.8"/><rect x="99.3" y="199.1" width="0.8" height="0.8"/><rect x="130.6" y="237.2" width="0.8" height="0.8"/><rect x="126.3" y="232.9" width="0.8" height="0.8"/><rect x="133.6" y="228.2" width="0.8" height="0.8"/><rect x="133.0" y="234.0" width="0.8" height="0.8"/><rect x="135.0" y="228.7" width="0.8" height="0.8"/><rect x="128.3" y="239.6" width="0.8" height="0.8"/><rect x="138.1" y="235.1" width="0.8" height="0.8"/><rect x="136.5" y="230.0" width="0.8" height="0.8"/><rect x="135.2" y="234.3" width="0.8" height="0.8"/><rect x="122.4" y="273.8" width="0.8" height="0.8"/><rect x="120.1" y="283.1" width="0.8" height="0.8"/><rect x="124.5" y="281.5" width="0.8" height="0.8"/><rect x="121.4" y="284.2" width="0.8" height="0.8"/><rect x="125.7" y="274.2" width="0.8" height="0.8"/><rect x="111.5" y="279.6" width="0.8" height="0.8"/><rect x="124.9" y="285.7" width="0.8" height="0.8"/><rect x="122.9" y="275.0" width="0.8" height="0.8"/><rect x="122.5" y="276.3" width="0.8" height="0.8"/><rect x="82.3" y="252.0" width="0.8" height="0.8"/><rect x="84.8" y="249.0" width="0.8" height="0.8"/><rect x="84.4" y="249.7" width="0.8" height="0.8"/><rect x="81.6" y="254.5" width="0.8" height="0.8"/><rect x="73.0" y="245.6" width="0.8" height="0.8"/><rect x="76.6" y="250.1" width="0.8" height="0.8"/><rect x="75.0" y="256.5" width="0.8" height="0.8"/><rect x="79.6" y="256.1" width="0.8" height="0.8"/><rect x="72.8" y="252.1" width="0.8" height="0.8"/><rect x="157.0" y="255.7" width="0.8" height="0.8"/><rect x="163.6" y="248.5" width="0.8" height="0.8"/><rect x="157.7" y="242.0" width="0.8" height="0.8"/><rect x="165.6" y="252.2" width="0.8" height="0.8"/><rect x="160.7" y="252.7" width="0.8" height="0.8"/><rect x="157.1" y="243.2" width="0.8" height="0.8"/><rect x="153.4" y="246.9" width="0.8" height="0.8"/><rect x="156.6" y="245.4" width="0.8" height="0.8"/><rect x="158.9" y="254.3" width="0.8" height="0.8"/><rect x="58.1" y="234.4" width="0.8" height="0.8"/><rect x="64.3" y="230.0" width="0.8" height="0.8"/><rect x="53.0" y="236.8" width="0.8" height="0.8"/><rect x="54.6" y="240.1" width="0.8" height="0.8"/><rect x="52.4" y="232.8" width="0.8" height="0.8"/><rect x="62.3" y="226.9" width="0.8" height="0.8"/><rect x="61.2" y="234.2" width="0.8" height="0.8"/><rect x="57.2" y="239.2" width="0.8" height="0.8"/><rect x="53.2" y="236.1" width="0.8" height="0.8"/><rect x="118.5" y="238.4" width="0.8" height="0.8"/><rect x="114.9" y="232.2" width="0.8" height="0.8"/><rect x="118.2" y="227.3" width="0.8" height="0.8"/><rect x="125.7" y="230.6" width="0.8" height="0.8"/><rect x="122.8" y="224.1" width="0.8" height="0.8"/><rect x="116.0" y="227.9" width="0.8" height="0.8"/><rect x="122.4" y="225.4" width="0.8" height="0.8"/><rect x="122.4" y="237.2" width="0.8" height="0.8"/><rect x="122.1" y="234.5" width="0.8" height="0.8"/><rect x="77.0" y="260.8" width="0.8" height="0.8"/><rect x="78.7" y="267.7" width="0.8" height="0.8"/><rect x="85.6" y="266.0" width="0.8" height="0.8"/><rect x="75.4" y="269.2" width="0.8" height="0.8"/><rect x="75.0" y="257.6" width="0.8" height="0.8"/><rect x="77.6" y="261.3" width="0.8" height="0.8"/><rect x="82.5" y="264.8" width="0.8" height="0.8"/><rect x="72.9" y="261.8" width="0.8" height="0.8"/><rect x="76.9" y="273.1" width="0.8" height="0.8"/><rect x="115.7" y="245.5" width="0.8" height="0.8"/><rect x="126.3" y="256.1" width="0.8" height="0.8"/><rect x="119.6" y="256.4" width="0.8" height="0.8"/><rect x="120.8" y="245.5" width="0.8" height="0.8"/><rect x="120.7" y="254.7" width="0.8" height="0.8"/><rect x="127.9" y="249.1" width="0.8" height="0.8"/><rect x="115.1" y="251.2" width="0.8" height="0.8"/><rect x="118.8" y="246.6" width="0.8" height="0.8"/><rect x="124.0" y="251.5" width="0.8" height="0.8"/><rect x="122.8" y="196.8" width="0.8" height="0.8"/><rect x="134.8" y="199.0" width="0.8" height="0.8"/><rect x="133.7" y="192.8" width="0.8" height="0.8"/><rect x="123.1" y="200.0" width="0.8" height="0.8"/><rect x="123.5" y="200.8" width="0.8" height="0.8"/><rect x="128.7" y="193.7" width="0.8" height="0.8"/><rect x="134.6" y="206.0" width="0.8" height="0.8"/><rect x="121.1" y="198.7" width="0.8" height="0.8"/><rect x="122.3" y="198.1" width="0.8" height="0.8"/><rect x="97.8" y="196.2" width="0.8" height="0.8"/><rect x="105.7" y="203.0" width="0.8" height="0.8"/><rect x="98.8" y="200.4" width="0.8" height="0.8"/><rect x="103.7" y="190.9" width="0.8" height="0.8"/><rect x="101.2" y="192.7" width="0.8" height="0.8"/><rect x="105.8" y="203.1" width="0.8" height="0.8"/><rect x="102.2" y="204.3" width="0.8" height="0.8"/><rect x="99.3" y="193.6" width="0.8" height="0.8"/><rect x="107.1" y="197.7" width="0.8" height="0.8"/><rect x="75.5" y="209.9" width="0.8" height="0.8"/><rect x="77.9" y="215.6" width="0.8" height="0.8"/><rect x="73.3" y="210.7" width="0.8" height="0.8"/><rect x="70.0" y="213.9" width="0.8" height="0.8"/><rect x="74.7" y="222.1" width="0.8" height="0.8"/><rect x="67.4" y="210.8" width="0.8" height="0.8"/><rect x="69.4" y="212.5" width="0.8" height="0.8"/><rect x="70.1" y="210.7" width="0.8" height="0.8"/><rect x="70.4" y="218.3" width="0.8" height="0.8"/><rect x="159.0" y="252.9" width="0.8" height="0.8"/><rect x="164.6" y="258.3" width="0.8" height="0.8"/><rect x="156.7" y="262.9" width="0.8" height="0.8"/><rect x="157.9" y="252.7" width="0.8" height="0.8"/><rect x="163.0" y="253.2" width="0.8" height="0.8"/><rect x="156.7" y="263.4" width="0.8" height="0.8"/><rect x="158.8" y="252.7" width="0.8" height="0.8"/><rect x="163.2" y="255.8" width="0.8" height="0.8"/><rect x="153.2" y="255.6" width="0.8" height="0.8"/><rect x="90.5" y="238.0" width="0.8" height="0.8"/><rect x="89.8" y="235.0" width="0.8" height="0.8"/><rect x="92.0" y="238.7" width="0.8" height="0.8"/><rect x="84.3" y="234.8" width="0.8" height="0.8"/><rect x="92.4" y="240.3" width="0.8" height="0.8"/><rect x="85.2" y="242.7" width="0.8" height="0.8"/><rect x="86.5" y="237.9" width="0.8" height="0.8"/><rect x="89.8" y="237.8" width="0.8" height="0.8"/><rect x="90.9" y="248.6" width="0.8" height="0.8"/><rect x="125.9" y="268.1" width="0.8" height="0.8"/><rect x="131.0" y="271.4" width="0.8" height="0.8"/><rect x="127.3" y="274.6" width="0.8" height="0.8"/><rect x="136.3" y="275.8" width="0.8" height="0.8"/><rect x="138.4" y="263.4" width="0.8" height="0.8"/><rect x="132.6" y="275.2" width="0.8" height="0.8"/><rect x="138.6" y="264.4" width="0.8" height="0.8"/><rect x="134.5" y="274.4" width="0.8" height="0.8"/><rect x="139.4" y="266.3" width="0.8" height="0.8"/><rect x="124.9" y="260.0" width="0.8" height="0.8"/><rect x="120.8" y="254.9" width="0.8" height="0.8"/><rect x="127.6" y="257.0" width="0.8" height="0.8"/><rect x="122.4" y="262.6" width="0.8" height="0.8"/><rect x="128.2" y="259.7" width="0.8" height="0.8"/><rect x="120.6" y="252.9" width="0.8" height="0.8"/><rect x="117.5" y="254.0" width="0.8" height="0.8"/><rect x="124.2" y="250.9" width="0.8" height="0.8"/><rect x="118.7" y="252.2" width="0.8" height="0.8"/><rect x="110.3" y="262.2" width="0.8" height="0.8"/><rect x="115.0" y="270.3" width="0.8" height="0.8"/><rect x="110.2" y="262.8" width="0.8" height="0.8"/><rect x="114.0" y="261.0" width="0.8" height="0.8"/><rect x="113.2" y="259.4" width="0.8" height="0.8"/><rect x="106.6" y="267.3" width="0.8" height="0.8"/><rect x="109.5" y="257.9" width="0.8" height="0.8"/><rect x="104.7" y="265.8" width="0.8" height="0.8"/><rect x="103.2" y="271.5" width="0.8" height="0.8"/><rect x="72.5" y="259.1" width="0.8" height="0.8"/><rect x="85.1" y="257.4" width="0.8" height="0.8"/><rect x="78.0" y="261.6" width="0.8" height="0.8"/><rect x="75.7" y="253.2" width="0.8" height="0.8"/><rect x="69.4" y="259.3" width="0.8" height="0.8"/><rect x="75.4" y="264.5" width="0.8" height="0.8"/><rect x="77.4" y="261.9" width="0.8" height="0.8"/><rect x="71.2" y="256.7" width="0.8" height="0.8"/><rect x="79.0" y="256.1" width="0.8" height="0.8"/><rect x="153.0" y="237.5" width="0.8" height="0.8"/><rect x="147.6" y="242.3" width="0.8" height="0.8"/><rect x="145.8" y="247.7" width="0.8" height="0.8"/><rect x="144.2" y="245.6" width="0.8" height="0.8"/><rect x="156.3" y="238.6" width="0.8" height="0.8"/><rect x="151.5" y="244.5" width="0.8" height="0.8"/><rect x="151.4" y="243.2" width="0.8" height="0.8"/><rect x="147.5" y="242.7" width="0.8" height="0.8"/><rect x="146.8" y="234.3" width="0.8" height="0.8"/><rect x="78.1" y="224.0" width="0.8" height="0.8"/><rect x="81.2" y="222.5" width="0.8" height="0.8"/><rect x="76.4" y="221.1" width="0.8" height="0.8"/><rect x="75.0" y="219.3" width="0.8" height="0.8"/><rect x="79.7" y="215.7" width="0.8" height="0.8"/><rect x="84.5" y="213.1" width="0.8" height="0.8"/><rect x="82.7" y="218.2" width="0.8" height="0.8"/><rect x="84.2" y="217.5" width="0.8" height="0.8"/><rect x="83.3" y="216.3" width="0.8" height="0.8"/><rect x="109.6" y="199.0" width="0.8" height="0.8"/><rect x="113.9" y="195.2" width="0.8" height="0.8"/><rect x="118.9" y="195.4" width="0.8" height="0.8"/><rect x="111.2" y="201.3" width="0.8" height="0.8"/><rect x="113.0" y="205.3" width="0.8" height="0.8"/><rect x="109.3" y="204.7" width="0.8" height="0.8"/><rect x="119.2" y="200.3" width="0.8" height="0.8"/><rect x="120.4" y="194.7" width="0.8" height="0.8"/><rect x="111.0" y="193.7" width="0.8" height="0.8"/><rect x="101.6" y="227.9" width="0.8" height="0.8"/><rect x="110.1" y="228.0" width="0.8" height="0.8"/><rect x="100.1" y="233.6" width="0.8" height="0.8"/><rect x="102.7" y="231.3" width="0.8" height="0.8"/><rect x="106.3" y="239.7" width="0.8" height="0.8"/><rect x="100.1" y="234.0" width="0.8" height="0.8"/><rect x="117.7" y="233.3" width="0.8" height="0.8"/><rect x="111.4" y="232.5" width="0.8" height="0.8"/><rect x="113.0" y="235.4" width="0.8" height="0.8"/><rect x="76.4" y="224.6" width="0.8" height="0.8"/><rect x="73.4" y="233.2" width="0.8" height="0.8"/><rect x="73.5" y="233.4" width="0.8" height="0.8"/><rect x="78.1" y="235.8" width="0.8" height="0.8"/><rect x="74.8" y="233.4" width="0.8" height="0.8"/><rect x="71.1" y="227.8" width="0.8" height="0.8"/><rect x="76.9" y="224.2" width="0.8" height="0.8"/><rect x="78.7" y="225.0" width="0.8" height="0.8"/><rect x="73.0" y="225.8" width="0.8" height="0.8"/><rect x="58.9" y="248.3" width="0.8" height="0.8"/><rect x="56.7" y="251.3" width="0.8" height="0.8"/><rect x="56.2" y="249.0" width="0.8" height="0.8"/><rect x="61.2" y="243.7" width="0.8" height="0.8"/><rect x="64.8" y="252.0" width="0.8" height="0.8"/><rect x="64.3" y="242.1" width="0.8" height="0.8"/><rect x="63.3" y="250.9" width="0.8" height="0.8"/><rect x="58.2" y="247.3" width="0.8" height="0.8"/><rect x="69.0" y="243.0" width="0.8" height="0.8"/><rect x="127.9" y="218.1" width="0.8" height="0.8"/><rect x="125.1" y="213.3" width="0.8" height="0.8"/><rect x="126.4" y="215.3" width="0.8" height="0.8"/><rect x="124.2" y="206.7" width="0.8" height="0.8"/><rect x="133.8" y="209.6" width="0.8" height="0.8"/><rect x="124.1" y="217.5" width="0.8" height="0.8"/><rect x="125.3" y="212.2" width="0.8" height="0.8"/><rect x="123.1" y="212.0" width="0.8" height="0.8"/><rect x="130.4" y="218.5" width="0.8" height="0.8"/><rect x="88.3" y="240.5" width="0.8" height="0.8"/><rect x="83.0" y="249.7" width="0.8" height="0.8"/><rect x="80.7" y="241.7" width="0.8" height="0.8"/><rect x="83.3" y="251.5" width="0.8" height="0.8"/><rect x="79.4" y="249.8" width="0.8" height="0.8"/><rect x="88.5" y="242.8" width="0.8" height="0.8"/><rect x="78.9" y="244.7" width="0.8" height="0.8"/><rect x="82.9" y="242.6" width="0.8" height="0.8"/><rect x="85.1" y="254.7" width="0.8" height="0.8"/><rect x="112.1" y="201.1" width="0.8" height="0.8"/><rect x="107.5" y="201.3" width="0.8" height="0.8"/><rect x="104.0" y="196.8" width="0.8" height="0.8"/><rect x="111.8" y="203.4" width="0.8" height="0.8"/><rect x="111.2" y="196.4" width="0.8" height="0.8"/><rect x="107.5" y="190.7" width="0.8" height="0.8"/><rect x="110.4" y="202.7" width="0.8" height="0.8"/><rect x="111.7" y="195.1" width="0.8" height="0.8"/><rect x="106.5" y="190.7" width="0.8" height="0.8"/><rect x="97.5" y="253.3" width="0.8" height="0.8"/><rect x="96.5" y="249.2" width="0.8" height="0.8"/><rect x="94.8" y="257.3" width="0.8" height="0.8"/><rect x="90.2" y="250.0" width="0.8" height="0.8"/><rect x="98.8" y="258.1" width="0.8" height="0.8"/><rect x="97.1" y="250.3" width="0.8" height="0.8"/><rect x="97.7" y="256.1" width="0.8" height="0.8"/><rect x="98.7" y="252.8" width="0.8" height="0.8"/><rect x="90.0" y="248.1" width="0.8" height="0.8"/><rect x="122.3" y="272.0" width="0.8" height="0.8"/><rect x="125.1" y="278.3" width="0.8" height="0.8"/><rect x="133.4" y="285.1" width="0.8" height="0.8"/><rect x="125.9" y="269.9" width="0.8" height="0.8"/><rect x="130.0" y="280.8" width="0.8" height="0.8"/><rect x="125.9" y="273.4" width="0.8" height="0.8"/><rect x="124.2" y="279.2" width="0.8" height="0.8"/><rect x="128.7" y="270.7" width="0.8" height="0.8"/><rect x="127.3" y="273.0" width="0.8" height="0.8"/><rect x="99.3" y="253.7" width="0.8" height="0.8"/><rect x="99.9" y="254.4" width="0.8" height="0.8"/><rect x="95.8" y="255.1" width="0.8" height="0.8"/><rect x="105.4" y="250.2" width="0.8" height="0.8"/><rect x="100.6" y="246.6" width="0.8" height="0.8"/><rect x="99.7" y="260.3" width="0.8" height="0.8"/><rect x="107.1" y="252.3" width="0.8" height="0.8"/><rect x="100.9" y="249.9" width="0.8" height="0.8"/><rect x="98.4" y="254.7" width="0.8" height="0.8"/><rect x="85.3" y="224.3" width="0.8" height="0.8"/><rect x="84.3" y="226.7" width="0.8" height="0.8"/><rect x="82.6" y="224.5" width="0.8" height="0.8"/><rect x="84.3" y="236.4" width="0.8" height="0.8"/><rect x="77.6" y="227.5" width="0.8" height="0.8"/><rect x="85.6" y="225.8" width="0.8" height="0.8"/><rect x="77.0" y="221.5" width="0.8" height="0.8"/><rect x="78.3" y="234.7" width="0.8" height="0.8"/><rect x="77.0" y="228.1" width="0.8" height="0.8"/><rect x="97.4" y="223.4" width="0.8" height="0.8"/><rect x="104.6" y="221.3" width="0.8" height="0.8"/><rect x="103.4" y="219.4" width="0.8" height="0.8"/><rect x="101.4" y="230.3" width="0.8" height="0.8"/><rect x="100.6" y="230.6" width="0.8" height="0.8"/><rect x="100.0" y="230.4" width="0.8" height="0.8"/><rect x="105.0" y="228.8" width="0.8" height="0.8"/><rect x="104.4" y="228.2" width="0.8" height="0.8"/><rect x="112.4" y="219.0" width="0.8" height="0.8"/><rect x="58.4" y="230.0" width="0.8" height="0.8"/><rect x="67.8" y="222.5" width="0.8" height="0.8"/><rect x="62.1" y="232.4" width="0.8" height="0.8"/><rect x="58.6" y="228.0" width="0.8" height="0.8"/><rect x="63.2" y="232.9" width="0.8" height="0.8"/><rect x="64.4" y="230.3" width="0.8" height="0.8"/><rect x="58.4" y="225.2" width="0.8" height="0.8"/><rect x="69.5" y="223.5" width="0.8" height="0.8"/><rect x="59.9" y="224.2" width="0.8" height="0.8"/><rect x="136.6" y="258.9" width="0.8" height="0.8"/><rect x="139.9" y="259.7" width="0.8" height="0.8"/><rect x="133.6" y="256.7" width="0.8" height="0.8"/><rect x="134.1" y="256.5" width="0.8" height="0.8"/><rect x="134.4" y="266.5" width="0.8" height="0.8"/><rect x="130.4" y="270.0" width="0.8" height="0.8"/><rect x="140.5" y="264.6" width="0.8" height="0.8"/><rect x="134.3" y="268.6" width="0.8" height="0.8"/><rect x="138.8" y="261.0" width="0.8" height="0.8"/><rect x="131.8" y="264.0" width="0.8" height="0.8"/><rect x="125.9" y="268.5" width="0.8" height="0.8"/><rect x="123.3" y="264.4" width="0.8" height="0.8"/><rect x="124.9" y="262.0" width="0.8" height="0.8"/><rect x="127.4" y="263.9" width="0.8" height="0.8"/><rect x="136.6" y="260.2" width="0.8" height="0.8"/><rect x="132.8" y="264.6" width="0.8" height="0.8"/><rect x="130.9" y="256.7" width="0.8" height="0.8"/><rect x="129.7" y="255.0" width="0.8" height="0.8"/><rect x="76.7" y="228.4" width="0.8" height="0.8"/><rect x="72.9" y="225.4" width="0.8" height="0.8"/><rect x="71.7" y="214.4" width="0.8" height="0.8"/><rect x="70.2" y="226.9" width="0.8" height="0.8"/><rect x="71.4" y="217.8" width="0.8" height="0.8"/><rect x="63.5" y="225.2" width="0.8" height="0.8"/><rect x="77.8" y="228.5" width="0.8" height="0.8"/><rect x="78.7" y="216.3" width="0.8" height="0.8"/><rect x="72.0" y="226.0" width="0.8" height="0.8"/><rect x="84.3" y="190.2" width="0.8" height="0.8"/><rect x="93.1" y="186.0" width="0.8" height="0.8"/><rect x="90.7" y="184.1" width="0.8" height="0.8"/><rect x="78.9" y="188.9" width="0.8" height="0.8"/><rect x="90.4" y="191.6" width="0.8" height="0.8"/><rect x="91.5" y="183.9" width="0.8" height="0.8"/><rect x="89.4" y="180.0" width="0.8" height="0.8"/><rect x="88.5" y="182.4" width="0.8" height="0.8"/><rect x="87.6" y="182.9" width="0.8" height="0.8"/><rect x="117.8" y="266.0" width="0.8" height="0.8"/><rect x="122.1" y="258.8" width="0.8" height="0.8"/><rect x="123.4" y="262.9" width="0.8" height="0.8"/><rect x="123.4" y="261.3" width="0.8" height="0.8"/><rect x="111.4" y="261.8" width="0.8" height="0.8"/><rect x="112.4" y="256.8" width="0.8" height="0.8"/><rect x="108.5" y="262.1" width="0.8" height="0.8"/><rect x="122.6" y="256.6" width="0.8" height="0.8"/><rect x="115.8" y="254.4" width="0.8" height="0.8"/><rect x="88.1" y="214.8" width="0.8" height="0.8"/><rect x="85.9" y="213.2" width="0.8" height="0.8"/><rect x="90.1" y="208.2" width="0.8" height="0.8"/><rect x="89.4" y="202.2" width="0.8" height="0.8"/><rect x="84.1" y="210.9" width="0.8" height="0.8"/><rect x="89.2" y="215.4" width="0.8" height="0.8"/><rect x="85.0" y="204.8" width="0.8" height="0.8"/><rect x="83.4" y="207.4" width="0.8" height="0.8"/><rect x="82.1" y="203.1" width="0.8" height="0.8"/><rect x="125.7" y="233.6" width="0.8" height="0.8"/><rect x="122.2" y="238.6" width="0.8" height="0.8"/><rect x="123.9" y="244.8" width="0.8" height="0.8"/><rect x="127.1" y="241.0" width="0.8" height="0.8"/><rect x="131.2" y="237.8" width="0.8" height="0.8"/><rect x="118.0" y="237.0" width="0.8" height="0.8"/><rect x="129.0" y="234.8" width="0.8" height="0.8"/><rect x="119.9" y="241.9" width="0.8" height="0.8"/><rect x="133.0" y="238.1" width="0.8" height="0.8"/><rect x="99.2" y="236.9" width="0.8" height="0.8"/><rect x="91.7" y="226.8" width="0.8" height="0.8"/><rect x="93.2" y="226.5" width="0.8" height="0.8"/><rect x="94.5" y="224.4" width="0.8" height="0.8"/><rect x="92.2" y="229.1" width="0.8" height="0.8"/><rect x="101.8" y="225.6" width="0.8" height="0.8"/><rect x="95.0" y="226.1" width="0.8" height="0.8"/><rect x="94.1" y="227.3" width="0.8" height="0.8"/><rect x="90.2" y="229.2" width="0.8" height="0.8"/><rect x="92.1" y="252.3" width="0.8" height="0.8"/><rect x="101.3" y="253.8" width="0.8" height="0.8"/><rect x="96.7" y="255.1" width="0.8" height="0.8"/><rect x="94.8" y="254.4" width="0.8" height="0.8"/><rect x="105.2" y="252.7" width="0.8" height="0.8"/><rect x="104.3" y="254.3" width="0.8" height="0.8"/><rect x="93.6" y="253.1" width="0.8" height="0.8"/><rect x="91.2" y="254.0" width="0.8" height="0.8"/><rect x="102.1" y="253.5" width="0.8" height="0.8"/><rect x="145.1" y="236.6" width="0.8" height="0.8"/><rect x="138.8" y="228.6" width="0.8" height="0.8"/><rect x="142.9" y="241.0" width="0.8" height="0.8"/><rect x="145.0" y="234.9" width="0.8" height="0.8"/><rect x="143.7" y="239.2" width="0.8" height="0.8"/><rect x="143.8" y="232.8" width="0.8" height="0.8"/><rect x="136.3" y="229.0" width="0.8" height="0.8"/><rect x="138.0" y="233.8" width="0.8" height="0.8"/><rect x="136.1" y="236.9" width="0.8" height="0.8"/><rect x="135.1" y="247.6" width="0.8" height="0.8"/><rect x="148.4" y="245.7" width="0.8" height="0.8"/><rect x="133.8" y="246.3" width="0.8" height="0.8"/><rect x="137.8" y="246.6" width="0.8" height="0.8"/><rect x="139.5" y="243.0" width="0.8" height="0.8"/><rect x="142.7" y="251.6" width="0.8" height="0.8"/><rect x="138.8" y="247.0" width="0.8" height="0.8"/><rect x="135.9" y="253.5" width="0.8" height="0.8"/><rect x="136.6" y="246.4" width="0.8" height="0.8"/><rect x="113.5" y="191.2" width="0.8" height="0.8"/><rect x="115.2" y="189.2" width="0.8" height="0.8"/><rect x="116.5" y="187.2" width="0.8" height="0.8"/><rect x="118.1" y="184.5" width="0.8" height="0.8"/><rect x="119.0" y="184.7" width="0.8" height="0.8"/><rect x="117.8" y="186.4" width="0.8" height="0.8"/><rect x="114.6" y="189.8" width="0.8" height="0.8"/><rect x="123.6" y="189.6" width="0.8" height="0.8"/><rect x="113.0" y="191.1" width="0.8" height="0.8"/><rect x="84.0" y="231.0" width="0.8" height="0.8"/><rect x="84.0" y="230.1" width="0.8" height="0.8"/><rect x="82.1" y="241.6" width="0.8" height="0.8"/><rect x="85.9" y="244.2" width="0.8" height="0.8"/><rect x="82.6" y="242.6" width="0.8" height="0.8"/><rect x="86.4" y="244.8" width="0.8" height="0.8"/><rect x="82.0" y="242.2" width="0.8" height="0.8"/><rect x="75.1" y="234.4" width="0.8" height="0.8"/><rect x="87.0" y="239.8" width="0.8" height="0.8"/><rect x="88.5" y="217.5" width="0.8" height="0.8"/><rect x="86.8" y="217.9" width="0.8" height="0.8"/><rect x="98.0" y="211.3" width="0.8" height="0.8"/><rect x="93.1" y="221.0" width="0.8" height="0.8"/><rect x="91.8" y="219.1" width="0.8" height="0.8"/><rect x="90.8" y="214.4" width="0.8" height="0.8"/><rect x="94.3" y="210.7" width="0.8" height="0.8"/><rect x="93.7" y="211.7" width="0.8" height="0.8"/><rect x="90.9" y="224.9" width="0.8" height="0.8"/><rect x="63.6" y="247.8" width="0.8" height="0.8"/><rect x="69.9" y="246.7" width="0.8" height="0.8"/><rect x="62.4" y="250.1" width="0.8" height="0.8"/><rect x="68.9" y="246.0" width="0.8" height="0.8"/><rect x="65.8" y="242.9" width="0.8" height="0.8"/><rect x="59.9" y="250.1" width="0.8" height="0.8"/><rect x="62.2" y="251.8" width="0.8" height="0.8"/><rect x="68.7" y="242.7" width="0.8" height="0.8"/><rect x="68.8" y="251.4" width="0.8" height="0.8"/><rect x="72.4" y="194.3" width="0.8" height="0.8"/><rect x="71.0" y="195.5" width="0.8" height="0.8"/><rect x="75.8" y="201.2" width="0.8" height="0.8"/><rect x="67.9" y="189.6" width="0.8" height="0.8"/><rect x="77.0" y="198.4" width="0.8" height="0.8"/><rect x="69.8" y="188.7" width="0.8" height="0.8"/><rect x="72.0" y="195.3" width="0.8" height="0.8"/><rect x="70.7" y="197.8" width="0.8" height="0.8"/><rect x="81.9" y="192.3" width="0.8" height="0.8"/><rect x="90.7" y="211.4" width="0.8" height="0.8"/><rect x="81.0" y="220.5" width="0.8" height="0.8"/><rect x="89.9" y="211.7" width="0.8" height="0.8"/><rect x="83.2" y="220.2" width="0.8" height="0.8"/><rect x="85.7" y="213.6" width="0.8" height="0.8"/><rect x="85.9" y="222.1" width="0.8" height="0.8"/><rect x="83.7" y="211.8" width="0.8" height="0.8"/><rect x="92.1" y="215.5" width="0.8" height="0.8"/><rect x="78.1" y="218.8" width="0.8" height="0.8"/><rect x="67.8" y="244.9" width="0.8" height="0.8"/><rect x="68.4" y="239.6" width="0.8" height="0.8"/><rect x="65.6" y="242.7" width="0.8" height="0.8"/><rect x="70.9" y="241.3" width="0.8" height="0.8"/><rect x="57.1" y="244.1" width="0.8" height="0.8"/><rect x="65.1" y="237.7" width="0.8" height="0.8"/><rect x="62.3" y="244.0" width="0.8" height="0.8"/><rect x="63.5" y="242.7" width="0.8" height="0.8"/><rect x="63.6" y="244.7" width="0.8" height="0.8"/><rect x="118.0" y="206.7" width="0.8" height="0.8"/><rect x="126.9" y="204.7" width="0.8" height="0.8"/><rect x="129.2" y="211.2" width="0.8" height="0.8"/><rect x="122.3" y="210.8" width="0.8" height="0.8"/><rect x="120.8" y="212.8" width="0.8" height="0.8"/><rect x="129.4" y="202.5" width="0.8" height="0.8"/><rect x="127.8" y="207.7" width="0.8" height="0.8"/><rect x="121.9" y="199.1" width="0.8" height="0.8"/><rect x="122.7" y="210.0" width="0.8" height="0.8"/><rect x="107.9" y="239.0" width="0.8" height="0.8"/><rect x="105.4" y="232.6" width="0.8" height="0.8"/><rect x="99.7" y="237.9" width="0.8" height="0.8"/><rect x="102.0" y="232.0" width="0.8" height="0.8"/><rect x="97.5" y="242.1" width="0.8" height="0.8"/><rect x="102.3" y="240.0" width="0.8" height="0.8"/><rect x="98.6" y="231.4" width="0.8" height="0.8"/><rect x="107.6" y="238.7" width="0.8" height="0.8"/><rect x="107.5" y="233.3" width="0.8" height="0.8"/><rect x="156.0" y="225.0" width="0.8" height="0.8"/><rect x="157.3" y="229.3" width="0.8" height="0.8"/><rect x="164.6" y="219.7" width="0.8" height="0.8"/><rect x="163.8" y="222.2" width="0.8" height="0.8"/><rect x="163.1" y="225.1" width="0.8" height="0.8"/><rect x="156.9" y="225.3" width="0.8" height="0.8"/><rect x="166.1" y="227.3" width="0.8" height="0.8"/><rect x="161.4" y="221.1" width="0.8" height="0.8"/><rect x="166.5" y="227.5" width="0.8" height="0.8"/><rect x="152.9" y="270.5" width="0.8" height="0.8"/><rect x="151.2" y="270.5" width="0.8" height="0.8"/><rect x="156.1" y="267.7" width="0.8" height="0.8"/><rect x="151.1" y="263.7" width="0.8" height="0.8"/><rect x="147.3" y="266.8" width="0.8" height="0.8"/><rect x="152.6" y="258.5" width="0.8" height="0.8"/><rect x="154.9" y="262.4" width="0.8" height="0.8"/><rect x="155.2" y="272.2" width="0.8" height="0.8"/><rect x="157.5" y="269.8" width="0.8" height="0.8"/><rect x="161.9" y="256.3" width="0.8" height="0.8"/><rect x="162.8" y="255.6" width="0.8" height="0.8"/><rect x="160.4" y="248.5" width="0.8" height="0.8"/><rect x="159.1" y="248.7" width="0.8" height="0.8"/><rect x="167.8" y="253.5" width="0.8" height="0.8"/><rect x="157.5" y="247.0" width="0.8" height="0.8"/><rect x="161.0" y="253.9" width="0.8" height="0.8"/><rect x="166.3" y="254.0" width="0.8" height="0.8"/><rect x="164.9" y="256.0" width="0.8" height="0.8"/><rect x="89.2" y="200.5" width="0.8" height="0.8"/><rect x="91.6" y="198.3" width="0.8" height="0.8"/><rect x="83.7" y="195.4" width="0.8" height="0.8"/><rect x="93.6" y="202.2" width="0.8" height="0.8"/><rect x="86.1" y="200.1" width="0.8" height="0.8"/><rect x="81.1" y="201.2" width="0.8" height="0.8"/><rect x="87.4" y="188.1" width="0.8" height="0.8"/><rect x="83.1" y="195.1" width="0.8" height="0.8"/><rect x="84.7" y="196.4" width="0.8" height="0.8"/><rect x="142.6" y="223.5" width="0.8" height="0.8"/><rect x="152.7" y="226.7" width="0.8" height="0.8"/><rect x="141.2" y="224.6" width="0.8" height="0.8"/><rect x="144.3" y="236.7" width="0.8" height="0.8"/><rect x="150.3" y="238.1" width="0.8" height="0.8"/><rect x="142.2" y="230.5" width="0.8" height="0.8"/><rect x="152.4" y="230.1" width="0.8" height="0.8"/><rect x="147.7" y="238.5" width="0.8" height="0.8"/><rect x="141.3" y="226.1" width="0.8" height="0.8"/><rect x="90.3" y="262.5" width="0.8" height="0.8"/><rect x="86.0" y="271.8" width="0.8" height="0.8"/><rect x="89.1" y="272.4" width="0.8" height="0.8"/><rect x="83.3" y="266.2" width="0.8" height="0.8"/><rect x="89.6" y="268.2" width="0.8" height="0.8"/><rect x="79.5" y="261.8" width="0.8" height="0.8"/><rect x="89.4" y="258.0" width="0.8" height="0.8"/><rect x="80.0" y="262.5" width="0.8" height="0.8"/><rect x="84.7" y="269.9" width="0.8" height="0.8"/><rect x="156.2" y="232.4" width="0.8" height="0.8"/><rect x="148.3" y="230.4" width="0.8" height="0.8"/><rect x="158.6" y="236.8" width="0.8" height="0.8"/><rect x="155.2" y="226.9" width="0.8" height="0.8"/><rect x="145.5" y="238.9" width="0.8" height="0.8"/><rect x="160.9" y="236.8" width="0.8" height="0.8"/><rect x="149.5" y="227.7" width="0.8" height="0.8"/><rect x="146.8" y="236.8" width="0.8" height="0.8"/><rect x="154.5" y="231.3" width="0.8" height="0.8"/><rect x="76.2" y="243.6" width="0.8" height="0.8"/><rect x="76.0" y="234.0" width="0.8" height="0.8"/><rect x="67.6" y="235.1" width="0.8" height="0.8"/><rect x="70.2" y="244.2" width="0.8" height="0.8"/><rect x="71.6" y="244.2" width="0.8" height="0.8"/><rect x="70.2" y="238.6" width="0.8" height="0.8"/><rect x="76.5" y="236.0" width="0.8" height="0.8"/><rect x="75.3" y="238.4" width="0.8" height="0.8"/><rect x="71.6" y="239.0" width="0.8" height="0.8"/><rect x="106.2" y="236.7" width="0.8" height="0.8"/><rect x="101.2" y="236.7" width="0.8" height="0.8"/><rect x="102.0" y="232.1" width="0.8" height="0.8"/><rect x="104.7" y="229.7" width="0.8" height="0.8"/><rect x="106.6" y="228.0" width="0.8" height="0.8"/><rect x="101.4" y="232.4" width="0.8" height="0.8"/><rect x="98.5" y="226.0" width="0.8" height="0.8"/><rect x="103.6" y="234.4" width="0.8" height="0.8"/><rect x="100.2" y="225.0" width="0.8" height="0.8"/><rect x="160.7" y="241.1" width="0.8" height="0.8"/><rect x="161.5" y="241.5" width="0.8" height="0.8"/><rect x="171.7" y="238.5" width="0.8" height="0.8"/><rect x="159.2" y="240.0" width="0.8" height="0.8"/><rect x="158.2" y="247.0" width="0.8" height="0.8"/><rect x="157.9" y="239.2" width="0.8" height="0.8"/><rect x="159.3" y="244.3" width="0.8" height="0.8"/><rect x="163.5" y="238.9" width="0.8" height="0.8"/><rect x="161.9" y="245.9" width="0.8" height="0.8"/><rect x="81.3" y="220.0" width="0.8" height="0.8"/><rect x="76.3" y="218.9" width="0.8" height="0.8"/><rect x="87.2" y="214.7" width="0.8" height="0.8"/><rect x="71.9" y="213.6" width="0.8" height="0.8"/><rect x="84.2" y="216.2" width="0.8" height="0.8"/><rect x="80.8" y="208.1" width="0.8" height="0.8"/><rect x="83.3" y="214.9" width="0.8" height="0.8"/><rect x="80.0" y="204.8" width="0.8" height="0.8"/><rect x="83.3" y="214.0" width="0.8" height="0.8"/><rect x="135.5" y="201.9" width="0.8" height="0.8"/><rect x="138.7" y="208.3" width="0.8" height="0.8"/><rect x="134.0" y="199.2" width="0.8" height="0.8"/><rect x="129.3" y="197.1" width="0.8" height="0.8"/><rect x="133.7" y="200.9" width="0.8" height="0.8"/><rect x="130.7" y="195.7" width="0.8" height="0.8"/><rect x="133.1" y="198.4" width="0.8" height="0.8"/><rect x="124.8" y="209.6" width="0.8" height="0.8"/><rect x="139.4" y="203.8" width="0.8" height="0.8"/><rect x="126.3" y="213.9" width="0.8" height="0.8"/><rect x="138.6" y="210.1" width="0.8" height="0.8"/><rect x="138.9" y="219.0" width="0.8" height="0.8"/><rect x="137.7" y="217.7" width="0.8" height="0.8"/><rect x="129.3" y="211.8" width="0.8" height="0.8"/><rect x="129.7" y="208.1" width="0.8" height="0.8"/><rect x="138.8" y="212.8" width="0.8" height="0.8"/><rect x="139.0" y="212.9" width="0.8" height="0.8"/><rect x="130.2" y="220.3" width="0.8" height="0.8"/><rect x="145.0" y="267.4" width="0.8" height="0.8"/><rect x="141.5" y="260.8" width="0.8" height="0.8"/><rect x="136.6" y="274.3" width="0.8" height="0.8"/><rect x="141.7" y="267.3" width="0.8" height="0.8"/><rect x="145.0" y="274.1" width="0.8" height="0.8"/><rect x="134.4" y="266.2" width="0.8" height="0.8"/><rect x="140.7" y="263.1" width="0.8" height="0.8"/><rect x="142.3" y="272.0" width="0.8" height="0.8"/><rect x="139.7" y="261.7" width="0.8" height="0.8"/><rect x="154.6" y="238.4" width="0.8" height="0.8"/><rect x="160.2" y="238.2" width="0.8" height="0.8"/><rect x="155.9" y="245.8" width="0.8" height="0.8"/><rect x="163.6" y="235.6" width="0.8" height="0.8"/><rect x="151.8" y="243.3" width="0.8" height="0.8"/><rect x="154.1" y="232.9" width="0.8" height="0.8"/><rect x="158.5" y="232.4" width="0.8" height="0.8"/><rect x="153.1" y="237.3" width="0.8" height="0.8"/><rect x="157.7" y="235.2" width="0.8" height="0.8"/><rect x="126.2" y="203.5" width="0.8" height="0.8"/><rect x="128.6" y="202.1" width="0.8" height="0.8"/><rect x="122.7" y="205.0" width="0.8" height="0.8"/><rect x="120.4" y="205.4" width="0.8" height="0.8"/><rect x="118.0" y="197.2" width="0.8" height="0.8"/><rect x="112.3" y="197.4" width="0.8" height="0.8"/><rect x="123.1" y="202.9" width="0.8" height="0.8"/><rect x="121.9" y="202.8" width="0.8" height="0.8"/><rect x="129.5" y="200.4" width="0.8" height="0.8"/><rect x="116.8" y="254.0" width="0.8" height="0.8"/><rect x="117.2" y="249.3" width="0.8" height="0.8"/><rect x="116.3" y="262.6" width="0.8" height="0.8"/><rect x="119.1" y="259.1" width="0.8" height="0.8"/><rect x="110.8" y="248.5" width="0.8" height="0.8"/><rect x="114.4" y="258.1" width="0.8" height="0.8"/><rect x="111.1" y="251.4" width="0.8" height="0.8"/><rect x="108.3" y="250.2" width="0.8" height="0.8"/><rect x="121.2" y="256.1" width="0.8" height="0.8"/><rect x="114.8" y="239.0" width="0.8" height="0.8"/><rect x="105.6" y="237.6" width="0.8" height="0.8"/><rect x="112.6" y="237.0" width="0.8" height="0.8"/><rect x="114.4" y="243.1" width="0.8" height="0.8"/><rect x="103.9" y="241.8" width="0.8" height="0.8"/><rect x="112.2" y="247.9" width="0.8" height="0.8"/><rect x="104.8" y="238.6" width="0.8" height="0.8"/><rect x="109.7" y="236.9" width="0.8" height="0.8"/><rect x="116.7" y="235.9" width="0.8" height="0.8"/><rect x="111.7" y="212.5" width="0.8" height="0.8"/><rect x="119.4" y="208.9" width="0.8" height="0.8"/><rect x="118.3" y="206.0" width="0.8" height="0.8"/><rect x="117.5" y="206.3" width="0.8" height="0.8"/><rect x="117.4" y="201.2" width="0.8" height="0.8"/><rect x="116.9" y="204.6" width="0.8" height="0.8"/><rect x="109.2" y="206.9" width="0.8" height="0.8"/><rect x="114.9" y="206.2" width="0.8" height="0.8"/><rect x="106.4" y="204.0" width="0.8" height="0.8"/><rect x="108.8" y="211.2" width="0.8" height="0.8"/><rect x="105.8" y="209.4" width="0.8" height="0.8"/><rect x="102.6" y="209.9" width="0.8" height="0.8"/><rect x="105.2" y="200.1" width="0.8" height="0.8"/><rect x="114.3" y="204.4" width="0.8" height="0.8"/><rect x="106.4" y="213.5" width="0.8" height="0.8"/><rect x="103.9" y="199.9" width="0.8" height="0.8"/><rect x="109.6" y="210.6" width="0.8" height="0.8"/><rect x="103.2" y="204.0" width="0.8" height="0.8"/><rect x="117.5" y="211.9" width="0.8" height="0.8"/><rect x="112.2" y="211.7" width="0.8" height="0.8"/><rect x="120.0" y="209.3" width="0.8" height="0.8"/><rect x="117.6" y="213.5" width="0.8" height="0.8"/><rect x="117.4" y="206.8" width="0.8" height="0.8"/><rect x="115.3" y="216.4" width="0.8" height="0.8"/><rect x="108.4" y="206.9" width="0.8" height="0.8"/><rect x="120.8" y="216.0" width="0.8" height="0.8"/><rect x="110.0" y="209.8" width="0.8" height="0.8"/><rect x="130.2" y="198.4" width="0.8" height="0.8"/><rect x="122.8" y="194.0" width="0.8" height="0.8"/><rect x="132.5" y="189.6" width="0.8" height="0.8"/><rect x="129.9" y="199.6" width="0.8" height="0.8"/><rect x="119.6" y="189.0" width="0.8" height="0.8"/><rect x="134.8" y="193.0" width="0.8" height="0.8"/><rect x="131.5" y="195.7" width="0.8" height="0.8"/><rect x="130.8" y="200.0" width="0.8" height="0.8"/><rect x="133.4" y="197.8" width="0.8" height="0.8"/><rect x="95.0" y="218.8" width="0.8" height="0.8"/><rect x="107.7" y="220.5" width="0.8" height="0.8"/><rect x="99.3" y="216.7" width="0.8" height="0.8"/><rect x="94.4" y="221.6" width="0.8" height="0.8"/><rect x="103.7" y="223.9" width="0.8" height="0.8"/><rect x="98.1" y="218.4" width="0.8" height="0.8"/><rect x="92.4" y="225.7" width="0.8" height="0.8"/><rect x="94.6" y="228.0" width="0.8" height="0.8"/><rect x="102.7" y="215.8" width="0.8" height="0.8"/><rect x="92.6" y="232.2" width="0.8" height="0.8"/><rect x="85.8" y="227.0" width="0.8" height="0.8"/><rect x="95.2" y="227.7" width="0.8" height="0.8"/><rect x="92.2" y="233.3" width="0.8" height="0.8"/><rect x="93.0" y="220.9" width="0.8" height="0.8"/><rect x="87.8" y="222.4" width="0.8" height="0.8"/><rect x="87.9" y="224.8" width="0.8" height="0.8"/><rect x="87.1" y="233.0" width="0.8" height="0.8"/><rect x="94.5" y="223.6" width="0.8" height="0.8"/><rect x="86.3" y="189.5" width="0.8" height="0.8"/><rect x="74.1" y="186.3" width="0.8" height="0.8"/><rect x="75.2" y="180.1" width="0.8" height="0.8"/><rect x="83.2" y="182.1" width="0.8" height="0.8"/><rect x="83.0" y="180.8" width="0.8" height="0.8"/><rect x="84.3" y="186.0" width="0.8" height="0.8"/><rect x="72.6" y="183.3" width="0.8" height="0.8"/><rect x="72.6" y="179.8" width="0.8" height="0.8"/><rect x="82.2" y="188.6" width="0.8" height="0.8"/><rect x="120.2" y="270.5" width="0.8" height="0.8"/><rect x="124.0" y="267.9" width="0.8" height="0.8"/><rect x="132.0" y="277.8" width="0.8" height="0.8"/><rect x="126.7" y="270.5" width="0.8" height="0.8"/><rect x="126.9" y="271.0" width="0.8" height="0.8"/><rect x="123.2" y="267.3" width="0.8" height="0.8"/><rect x="125.0" y="276.3" width="0.8" height="0.8"/><rect x="125.6" y="279.9" width="0.8" height="0.8"/><rect x="118.3" y="271.7" width="0.8" height="0.8"/><rect x="73.3" y="216.7" width="0.8" height="0.8"/><rect x="69.3" y="213.5" width="0.8" height="0.8"/><rect x="71.4" y="213.9" width="0.8" height="0.8"/><rect x="71.7" y="213.2" width="0.8" height="0.8"/><rect x="75.0" y="210.2" width="0.8" height="0.8"/><rect x="70.4" y="205.7" width="0.8" height="0.8"/><rect x="66.1" y="210.6" width="0.8" height="0.8"/><rect x="73.8" y="209.6" width="0.8" height="0.8"/><rect x="77.5" y="209.0" width="0.8" height="0.8"/><rect x="106.8" y="268.6" width="0.8" height="0.8"/><rect x="111.5" y="270.4" width="0.8" height="0.8"/><rect x="99.3" y="268.0" width="0.8" height="0.8"/><rect x="96.6" y="273.9" width="0.8" height="0.8"/><rect x="113.4" y="270.0" width="0.8" height="0.8"/><rect x="108.5" y="275.6" width="0.8" height="0.8"/><rect x="103.6" y="267.5" width="0.8" height="0.8"/><rect x="110.5" y="266.3" width="0.8" height="0.8"/><rect x="108.0" y="274.0" width="0.8" height="0.8"/><rect x="55.6" y="246.5" width="0.8" height="0.8"/><rect x="63.4" y="253.9" width="0.8" height="0.8"/><rect x="62.3" y="248.6" width="0.8" height="0.8"/><rect x="56.5" y="257.1" width="0.8" height="0.8"/><rect x="61.2" y="255.7" width="0.8" height="0.8"/><rect x="56.1" y="255.4" width="0.8" height="0.8"/><rect x="60.4" y="258.4" width="0.8" height="0.8"/><rect x="61.6" y="256.8" width="0.8" height="0.8"/><rect x="58.7" y="262.8" width="0.8" height="0.8"/><rect x="80.3" y="204.8" width="0.8" height="0.8"/><rect x="77.7" y="199.6" width="0.8" height="0.8"/><rect x="90.0" y="194.2" width="0.8" height="0.8"/><rect x="91.2" y="196.5" width="0.8" height="0.8"/><rect x="89.4" y="198.5" width="0.8" height="0.8"/><rect x="82.5" y="198.9" width="0.8" height="0.8"/><rect x="89.9" y="199.9" width="0.8" height="0.8"/><rect x="90.1" y="201.8" width="0.8" height="0.8"/><rect x="82.2" y="208.0" width="0.8" height="0.8"/><rect x="64.8" y="204.2" width="0.8" height="0.8"/><rect x="74.1" y="211.7" width="0.8" height="0.8"/><rect x="69.9" y="211.5" width="0.8" height="0.8"/><rect x="71.3" y="201.0" width="0.8" height="0.8"/><rect x="64.8" y="206.4" width="0.8" height="0.8"/><rect x="74.2" y="203.3" width="0.8" height="0.8"/><rect x="65.8" y="201.5" width="0.8" height="0.8"/><rect x="67.2" y="201.0" width="0.8" height="0.8"/><rect x="70.4" y="210.2" width="0.8" height="0.8"/><rect x="90.5" y="262.6" width="0.8" height="0.8"/><rect x="83.1" y="270.1" width="0.8" height="0.8"/><rect x="96.0" y="268.0" width="0.8" height="0.8"/><rect x="94.0" y="270.1" width="0.8" height="0.8"/><rect x="95.0" y="265.4" width="0.8" height="0.8"/><rect x="84.1" y="268.0" width="0.8" height="0.8"/><rect x="91.2" y="273.0" width="0.8" height="0.8"/><rect x="98.0" y="272.4" width="0.8" height="0.8"/><rect x="84.7" y="274.6" width="0.8" height="0.8"/><rect x="50.2" y="245.0" width="0.8" height="0.8"/><rect x="57.5" y="237.2" width="0.8" height="0.8"/><rect x="55.4" y="239.1" width="0.8" height="0.8"/><rect x="61.2" y="240.8" width="0.8" height="0.8"/><rect x="63.0" y="238.9" width="0.8" height="0.8"/><rect x="63.2" y="249.2" width="0.8" height="0.8"/><rect x="60.1" y="248.6" width="0.8" height="0.8"/><rect x="57.7" y="245.5" width="0.8" height="0.8"/><rect x="60.0" y="234.1" width="0.8" height="0.8"/><rect x="135.1" y="249.2" width="0.8" height="0.8"/><rect x="127.6" y="250.8" width="0.8" height="0.8"/><rect x="134.4" y="253.5" width="0.8" height="0.8"/><rect x="128.1" y="251.5" width="0.8" height="0.8"/><rect x="127.4" y="258.9" width="0.8" height="0.8"/><rect x="124.7" y="254.4" width="0.8" height="0.8"/><rect x="127.8" y="255.3" width="0.8" height="0.8"/><rect x="126.9" y="249.7" width="0.8" height="0.8"/><rect x="133.5" y="256.7" width="0.8" height="0.8"/><rect x="77.4" y="191.1" width="0.8" height="0.8"/><rect x="78.1" y="199.2" width="0.8" height="0.8"/><rect x="76.4" y="193.0" width="0.8" height="0.8"/><rect x="72.1" y="198.5" width="0.8" height="0.8"/><rect x="77.0" y="201.9" width="0.8" height="0.8"/><rect x="84.2" y="198.2" width="0.8" height="0.8"/><rect x="82.2" y="201.0" width="0.8" height="0.8"/><rect x="82.4" y="200.4" width="0.8" height="0.8"/><rect x="86.4" y="194.5" width="0.8" height="0.8"/><rect x="133.8" y="231.3" width="0.8" height="0.8"/><rect x="138.2" y="238.8" width="0.8" height="0.8"/><rect x="139.4" y="225.6" width="0.8" height="0.8"/><rect x="142.4" y="231.2" width="0.8" height="0.8"/><rect x="147.0" y="232.5" width="0.8" height="0.8"/><rect x="145.2" y="231.9" width="0.8" height="0.8"/><rect x="135.0" y="230.3" width="0.8" height="0.8"/><rect x="137.4" y="239.1" width="0.8" height="0.8"/><rect x="147.0" y="228.8" width="0.8" height="0.8"/><rect x="120.3" y="222.1" width="0.8" height="0.8"/><rect x="127.6" y="220.3" width="0.8" height="0.8"/><rect x="131.0" y="226.8" width="0.8" height="0.8"/><rect x="132.8" y="227.2" width="0.8" height="0.8"/><rect x="125.8" y="221.7" width="0.8" height="0.8"/><rect x="132.9" y="226.4" width="0.8" height="0.8"/><rect x="120.8" y="226.3" width="0.8" height="0.8"/><rect x="134.8" y="219.2" width="0.8" height="0.8"/><rect x="128.3" y="232.0" width="0.8" height="0.8"/><rect x="101.2" y="197.4" width="0.8" height="0.8"/><rect x="98.5" y="190.4" width="0.8" height="0.8"/><rect x="98.4" y="190.2" width="0.8" height="0.8"/><rect x="103.6" y="187.4" width="0.8" height="0.8"/><rect x="103.2" y="187.6" width="0.8" height="0.8"/><rect x="107.8" y="191.5" width="0.8" height="0.8"/><rect x="107.3" y="186.8" width="0.8" height="0.8"/><rect x="102.4" y="197.0" width="0.8" height="0.8"/><rect x="99.1" y="197.2" width="0.8" height="0.8"/><rect x="67.2" y="234.5" width="0.8" height="0.8"/><rect x="70.8" y="231.0" width="0.8" height="0.8"/><rect x="71.0" y="234.5" width="0.8" height="0.8"/><rect x="65.0" y="236.3" width="0.8" height="0.8"/><rect x="64.5" y="231.2" width="0.8" height="0.8"/><rect x="71.5" y="224.8" width="0.8" height="0.8"/><rect x="69.5" y="234.3" width="0.8" height="0.8"/><rect x="72.5" y="234.8" width="0.8" height="0.8"/><rect x="63.3" y="225.6" width="0.8" height="0.8"/><rect x="145.1" y="229.7" width="0.8" height="0.8"/><rect x="149.1" y="218.3" width="0.8" height="0.8"/><rect x="147.2" y="224.0" width="0.8" height="0.8"/><rect x="144.0" y="218.7" width="0.8" height="0.8"/><rect x="139.4" y="216.5" width="0.8" height="0.8"/><rect x="148.0" y="222.0" width="0.8" height="0.8"/><rect x="144.8" y="226.9" width="0.8" height="0.8"/><rect x="149.1" y="215.3" width="0.8" height="0.8"/><rect x="142.5" y="223.2" width="0.8" height="0.8"/><rect x="42.0" y="237.6" width="0.8" height="0.8"/><rect x="43.5" y="246.9" width="0.8" height="0.8"/><rect x="44.4" y="243.5" width="0.8" height="0.8"/><rect x="41.6" y="231.0" width="0.8" height="0.8"/><rect x="51.5" y="240.9" width="0.8" height="0.8"/><rect x="43.9" y="235.7" width="0.8" height="0.8"/><rect x="49.4" y="241.4" width="0.8" height="0.8"/><rect x="41.9" y="244.5" width="0.8" height="0.8"/><rect x="52.3" y="237.2" width="0.8" height="0.8"/><rect x="134.5" y="262.7" width="0.8" height="0.8"/><rect x="147.5" y="256.7" width="0.8" height="0.8"/><rect x="136.8" y="260.0" width="0.8" height="0.8"/><rect x="147.9" y="263.0" width="0.8" height="0.8"/><rect x="141.3" y="253.5" width="0.8" height="0.8"/><rect x="135.3" y="254.6" width="0.8" height="0.8"/><rect x="137.6" y="254.1" width="0.8" height="0.8"/><rect x="148.0" y="254.0" width="0.8" height="0.8"/><rect x="134.2" y="261.2" width="0.8" height="0.8"/><rect x="150.1" y="261.4" width="0.8" height="0.8"/><rect x="150.8" y="262.4" width="0.8" height="0.8"/><rect x="152.1" y="257.9" width="0.8" height="0.8"/><rect x="148.2" y="257.8" width="0.8" height="0.8"/><rect x="146.4" y="266.0" width="0.8" height="0.8"/><rect x="149.6" y="264.7" width="0.8" height="0.8"/><rect x="151.0" y="269.3" width="0.8" height="0.8"/><rect x="139.4" y="260.5" width="0.8" height="0.8"/><rect x="152.6" y="262.0" width="0.8" height="0.8"/><rect x="94.9" y="220.8" width="0.8" height="0.8"/><rect x="95.7" y="217.2" width="0.8" height="0.8"/><rect x="93.1" y="210.6" width="0.8" height="0.8"/><rect x="90.5" y="220.1" width="0.8" height="0.8"/><rect x="97.9" y="218.0" width="0.8" height="0.8"/><rect x="91.2" y="207.3" width="0.8" height="0.8"/><rect x="91.8" y="210.0" width="0.8" height="0.8"/><rect x="94.7" y="208.4" width="0.8" height="0.8"/><rect x="85.4" y="218.6" width="0.8" height="0.8"/><rect x="143.6" y="272.3" width="0.8" height="0.8"/><rect x="145.4" y="268.9" width="0.8" height="0.8"/><rect x="142.7" y="270.0" width="0.8" height="0.8"/><rect x="141.9" y="274.3" width="0.8" height="0.8"/><rect x="144.2" y="265.2" width="0.8" height="0.8"/><rect x="143.9" y="274.7" width="0.8" height="0.8"/><rect x="146.8" y="268.7" width="0.8" height="0.8"/><rect x="140.1" y="267.9" width="0.8" height="0.8"/><rect x="144.5" y="269.6" width="0.8" height="0.8"/><rect x="121.8" y="241.4" width="0.8" height="0.8"/><rect x="117.5" y="231.6" width="0.8" height="0.8"/><rect x="123.0" y="237.4" width="0.8" height="0.8"/><rect x="108.2" y="242.0" width="0.8" height="0.8"/><rect x="116.2" y="241.3" width="0.8" height="0.8"/><rect x="113.9" y="239.8" width="0.8" height="0.8"/><rect x="110.5" y="235.6" width="0.8" height="0.8"/><rect x="118.4" y="244.0" width="0.8" height="0.8"/><rect x="109.1" y="239.4" width="0.8" height="0.8"/><rect x="101.9" y="210.3" width="0.8" height="0.8"/><rect x="98.7" y="214.9" width="0.8" height="0.8"/><rect x="93.8" y="214.7" width="0.8" height="0.8"/><rect x="101.6" y="222.4" width="0.8" height="0.8"/><rect x="95.7" y="217.2" width="0.8" height="0.8"/><rect x="103.7" y="219.9" width="0.8" height="0.8"/><rect x="93.5" y="221.7" width="0.8" height="0.8"/><rect x="107.9" y="217.1" width="0.8" height="0.8"/><rect x="106.9" y="212.2" width="0.8" height="0.8"/><rect x="71.3" y="233.3" width="0.8" height="0.8"/><rect x="84.9" y="235.1" width="0.8" height="0.8"/><rect x="80.3" y="229.7" width="0.8" height="0.8"/><rect x="75.4" y="231.8" width="0.8" height="0.8"/><rect x="82.7" y="231.8" width="0.8" height="0.8"/><rect x="74.0" y="234.8" width="0.8" height="0.8"/><rect x="83.8" y="227.5" width="0.8" height="0.8"/><rect x="72.8" y="236.9" width="0.8" height="0.8"/><rect x="76.2" y="240.7" width="0.8" height="0.8"/><rect x="85.8" y="239.9" width="0.8" height="0.8"/><rect x="97.4" y="246.0" width="0.8" height="0.8"/><rect x="94.3" y="244.8" width="0.8" height="0.8"/><rect x="88.2" y="241.8" width="0.8" height="0.8"/><rect x="95.0" y="248.3" width="0.8" height="0.8"/><rect x="95.4" y="244.4" width="0.8" height="0.8"/><rect x="83.6" y="246.6" width="0.8" height="0.8"/><rect x="93.7" y="247.0" width="0.8" height="0.8"/><rect x="86.4" y="241.4" width="0.8" height="0.8"/><rect x="118.0" y="223.8" width="0.8" height="0.8"/><rect x="111.0" y="215.6" width="0.8" height="0.8"/><rect x="110.7" y="230.5" width="0.8" height="0.8"/><rect x="111.9" y="230.8" width="0.8" height="0.8"/><rect x="102.3" y="219.3" width="0.8" height="0.8"/><rect x="104.1" y="220.2" width="0.8" height="0.8"/><rect x="115.3" y="220.1" width="0.8" height="0.8"/><rect x="106.9" y="230.1" width="0.8" height="0.8"/><rect x="113.6" y="221.9" width="0.8" height="0.8"/><rect x="91.6" y="252.4" width="0.8" height="0.8"/><rect x="87.9" y="262.1" width="0.8" height="0.8"/><rect x="94.3" y="261.0" width="0.8" height="0.8"/><rect x="93.8" y="262.1" width="0.8" height="0.8"/><rect x="89.4" y="249.7" width="0.8" height="0.8"/><rect x="92.8" y="263.3" width="0.8" height="0.8"/><rect x="89.7" y="259.8" width="0.8" height="0.8"/><rect x="88.8" y="255.4" width="0.8" height="0.8"/><rect x="86.2" y="249.3" width="0.8" height="0.8"/><rect x="101.6" y="187.1" width="0.8" height="0.8"/><rect x="112.0" y="182.4" width="0.8" height="0.8"/><rect x="113.8" y="185.8" width="0.8" height="0.8"/><rect x="104.2" y="187.4" width="0.8" height="0.8"/><rect x="112.6" y="181.9" width="0.8" height="0.8"/><rect x="111.3" y="191.8" width="0.8" height="0.8"/><rect x="106.1" y="191.8" width="0.8" height="0.8"/><rect x="108.4" y="189.0" width="0.8" height="0.8"/><rect x="99.8" y="187.9" width="0.8" height="0.8"/><rect x="105.6" y="209.2" width="0.8" height="0.8"/><rect x="113.8" y="213.1" width="0.8" height="0.8"/><rect x="107.5" y="224.5" width="0.8" height="0.8"/><rect x="107.2" y="213.7" width="0.8" height="0.8"/><rect x="115.9" y="217.7" width="0.8" height="0.8"/><rect x="111.4" y="224.2" width="0.8" height="0.8"/><rect x="112.5" y="215.3" width="0.8" height="0.8"/><rect x="104.6" y="216.4" width="0.8" height="0.8"/><rect x="114.6" y="220.7" width="0.8" height="0.8"/><rect x="151.5" y="255.0" width="0.8" height="0.8"/><rect x="155.6" y="260.7" width="0.8" height="0.8"/><rect x="154.9" y="253.7" width="0.8" height="0.8"/><rect x="161.9" y="260.5" width="0.8" height="0.8"/><rect x="153.1" y="261.2" width="0.8" height="0.8"/><rect x="150.0" y="256.0" width="0.8" height="0.8"/><rect x="149.1" y="257.0" width="0.8" height="0.8"/><rect x="150.4" y="256.8" width="0.8" height="0.8"/><rect x="145.8" y="257.8" width="0.8" height="0.8"/></g><g fill="#b9b9b9"><rect x="170.8" y="111.7" width="0.6" height="0.6"/><rect x="161.7" y="106.4" width="0.6" height="0.6"/><rect x="164.4" y="111.7" width="0.6" height="0.6"/><rect x="147.4" y="106.3" width="0.6" height="0.6"/><rect x="132.3" y="112.1" width="0.6" height="0.6"/><rect x="150.9" y="108.7" width="0.6" height="0.6"/><rect x="149.5" y="116.2" width="0.6" height="0.6"/><rect x="153.8" y="104.2" width="0.6" height="0.6"/><rect x="162.5" y="113.9" width="0.6" height="0.6"/><rect x="167.4" y="110.4" width="0.6" height="0.6"/><rect x="167.1" y="107.9" width="0.6" height="0.6"/><rect x="156.2" y="103.2" width="0.6" height="0.6"/><rect x="171.5" y="105.2" width="0.6" height="0.6"/><rect x="167.1" y="105.5" width="0.6" height="0.6"/><rect x="170.5" y="123.6" width="0.6" height="0.6"/><rect x="127.0" y="115.2" width="0.6" height="0.6"/><rect x="128.3" y="115.0" width="0.6" height="0.6"/><rect x="133.6" y="130.1" width="0.6" height="0.6"/><rect x="147.4" y="124.1" width="0.6" height="0.6"/><rect x="139.3" y="113.1" width="0.6" height="0.6"/><rect x="151.2" y="120.9" width="0.6" height="0.6"/><rect x="150.2" y="112.8" width="0.6" height="0.6"/><rect x="144.0" y="119.1" width="0.6" height="0.6"/><rect x="158.8" y="123.3" width="0.6" height="0.6"/><rect x="161.6" y="121.8" width="0.6" height="0.6"/><rect x="173.9" y="121.6" width="0.6" height="0.6"/><rect x="158.5" y="118.0" width="0.6" height="0.6"/><rect x="147.7" y="120.1" width="0.6" height="0.6"/><rect x="134.8" y="122.3" width="0.6" height="0.6"/><rect x="143.9" y="117.8" width="0.6" height="0.6"/><rect x="153.2" y="131.0" width="0.6" height="0.6"/><rect x="154.6" y="115.5" width="0.6" height="0.6"/><rect x="148.9" y="127.8" width="0.6" height="0.6"/><rect x="147.6" y="128.2" width="0.6" height="0.6"/><rect x="143.4" y="124.3" width="0.6" height="0.6"/><rect x="148.2" y="127.5" width="0.6" height="0.6"/><rect x="155.9" y="126.3" width="0.6" height="0.6"/><rect x="146.8" y="138.9" width="0.6" height="0.6"/><rect x="145.6" y="129.3" width="0.6" height="0.6"/><rect x="141.0" y="140.9" width="0.6" height="0.6"/><rect x="144.1" y="139.2" width="0.6" height="0.6"/><rect x="144.5" y="138.0" width="0.6" height="0.6"/><rect x="145.5" y="152.5" width="0.6" height="0.6"/><rect x="156.9" y="162.5" width="0.6" height="0.6"/><rect x="151.5" y="148.0" width="0.6" height="0.6"/><rect x="167.3" y="157.2" width="0.6" height="0.6"/><rect x="158.0" y="164.8" width="0.6" height="0.6"/><rect x="169.1" y="155.2" width="0.6" height="0.6"/><rect x="142.3" y="172.7" width="0.6" height="0.6"/><rect x="138.7" y="169.9" width="0.6" height="0.6"/><rect x="153.5" y="168.6" width="0.6" height="0.6"/><rect x="158.1" y="163.4" width="0.6" height="0.6"/><rect x="143.2" y="171.0" width="0.6" height="0.6"/><rect x="162.5" y="165.1" width="0.6" height="0.6"/><rect x="165.1" y="160.8" width="0.6" height="0.6"/><rect x="160.8" y="172.0" width="0.6" height="0.6"/><rect x="168.2" y="158.0" width="0.6" height="0.6"/><rect x="166.9" y="170.0" width="0.6" height="0.6"/><rect x="166.0" y="185.7" width="0.6" height="0.6"/><rect x="160.1" y="182.3" width="0.6" height="0.6"/><rect x="143.2" y="184.4" width="0.6" height="0.6"/><rect x="160.6" y="180.8" width="0.6" height="0.6"/><rect x="158.6" y="175.7" width="0.6" height="0.6"/><rect x="170.6" y="134.5" width="0.6" height="0.6"/><rect x="178.1" y="136.4" width="0.6" height="0.6"/><rect x="178.4" y="119.5" width="0.6" height="0.6"/><rect x="185.1" y="120.0" width="0.6" height="0.6"/><rect x="186.2" y="118.9" width="0.6" height="0.6"/><rect x="185.6" y="118.8" width="0.6" height="0.6"/><rect x="196.9" y="117.5" width="0.6" height="0.6"/><rect x="201.3" y="132.3" width="0.6" height="0.6"/><rect x="206.5" y="128.0" width="0.6" height="0.6"/><rect x="191.4" y="126.9" width="0.6" height="0.6"/><rect x="199.3" y="126.7" width="0.6" height="0.6"/><rect x="193.9" y="139.3" width="0.6" height="0.6"/><rect x="209.4" y="121.6" width="0.6" height="0.6"/><rect x="204.6" y="124.4" width="0.6" height="0.6"/><rect x="209.0" y="138.0" width="0.6" height="0.6"/><rect x="216.1" y="131.7" width="0.6" height="0.6"/><rect x="200.8" y="136.3" width="0.6" height="0.6"/><rect x="199.5" y="133.8" width="0.6" height="0.6"/><rect x="178.9" y="135.1" width="0.6" height="0.6"/><rect x="180.1" y="145.2" width="0.6" height="0.6"/><rect x="186.4" y="144.6" width="0.6" height="0.6"/><rect x="165.0" y="149.2" width="0.6" height="0.6"/><rect x="167.0" y="158.6" width="0.6" height="0.6"/><rect x="163.7" y="151.8" width="0.6" height="0.6"/><rect x="181.6" y="160.9" width="0.6" height="0.6"/><rect x="189.9" y="162.9" width="0.6" height="0.6"/><rect x="176.4" y="149.4" width="0.6" height="0.6"/><rect x="188.3" y="147.7" width="0.6" height="0.6"/><rect x="202.7" y="156.2" width="0.6" height="0.6"/><rect x="202.9" y="150.2" width="0.6" height="0.6"/><rect x="210.9" y="152.1" width="0.6" height="0.6"/><rect x="215.6" y="149.8" width="0.6" height="0.6"/><rect x="212.2" y="155.4" width="0.6" height="0.6"/><rect x="214.5" y="135.2" width="0.6" height="0.6"/><rect x="202.0" y="142.7" width="0.6" height="0.6"/><rect x="203.6" y="149.4" width="0.6" height="0.6"/><rect x="184.8" y="177.7" width="0.6" height="0.6"/><rect x="179.2" y="182.8" width="0.6" height="0.6"/><rect x="176.0" y="179.1" width="0.6" height="0.6"/><rect x="203.4" y="126.2" width="0.6" height="0.6"/><rect x="204.4" y="124.0" width="0.6" height="0.6"/><rect x="203.7" y="126.8" width="0.6" height="0.6"/><rect x="202.0" y="145.4" width="0.6" height="0.6"/><rect x="206.8" y="131.4" width="0.6" height="0.6"/><rect x="201.4" y="141.9" width="0.6" height="0.6"/><rect x="191.7" y="136.1" width="0.6" height="0.6"/><rect x="199.1" y="147.5" width="0.6" height="0.6"/><rect x="196.8" y="135.6" width="0.6" height="0.6"/><rect x="201.3" y="145.8" width="0.6" height="0.6"/><rect x="206.8" y="157.6" width="0.6" height="0.6"/><rect x="209.7" y="149.8" width="0.6" height="0.6"/><rect x="190.4" y="153.7" width="0.6" height="0.6"/><rect x="205.7" y="161.9" width="0.6" height="0.6"/><rect x="201.8" y="156.8" width="0.6" height="0.6"/><rect x="191.3" y="163.4" width="0.6" height="0.6"/><rect x="195.8" y="163.9" width="0.6" height="0.6"/><rect x="190.4" y="158.2" width="0.6" height="0.6"/><rect x="213.3" y="134.5" width="0.6" height="0.6"/><rect x="223.8" y="148.2" width="0.6" height="0.6"/><rect x="225.4" y="147.6" width="0.6" height="0.6"/><rect x="234.4" y="131.4" width="0.6" height="0.6"/><rect x="230.6" y="134.1" width="0.6" height="0.6"/><rect x="224.8" y="136.0" width="0.6" height="0.6"/><rect x="235.4" y="141.2" width="0.6" height="0.6"/><rect x="221.9" y="151.8" width="0.6" height="0.6"/><rect x="231.1" y="138.6" width="0.6" height="0.6"/><rect x="216.2" y="161.3" width="0.6" height="0.6"/><rect x="217.2" y="152.6" width="0.6" height="0.6"/><rect x="221.4" y="160.8" width="0.6" height="0.6"/><rect x="232.5" y="154.6" width="0.6" height="0.6"/><rect x="238.8" y="146.8" width="0.6" height="0.6"/><rect x="243.9" y="161.7" width="0.6" height="0.6"/><rect x="212.3" y="153.8" width="0.6" height="0.6"/><rect x="210.4" y="151.3" width="0.6" height="0.6"/><rect x="219.3" y="152.9" width="0.6" height="0.6"/><rect x="224.1" y="156.4" width="0.6" height="0.6"/><rect x="234.5" y="171.1" width="0.6" height="0.6"/><rect x="228.2" y="154.0" width="0.6" height="0.6"/><rect x="211.6" y="169.9" width="0.6" height="0.6"/><rect x="213.3" y="172.1" width="0.6" height="0.6"/><rect x="213.0" y="160.6" width="0.6" height="0.6"/><rect x="227.9" y="163.4" width="0.6" height="0.6"/><rect x="232.8" y="177.9" width="0.6" height="0.6"/><rect x="237.2" y="161.7" width="0.6" height="0.6"/><rect x="210.8" y="178.4" width="0.6" height="0.6"/><rect x="205.3" y="178.7" width="0.6" height="0.6"/><rect x="205.0" y="166.0" width="0.6" height="0.6"/><rect x="226.5" y="183.1" width="0.6" height="0.6"/><rect x="215.0" y="168.4" width="0.6" height="0.6"/><rect x="218.7" y="175.6" width="0.6" height="0.6"/><rect x="229.3" y="181.9" width="0.6" height="0.6"/><rect x="225.6" y="178.5" width="0.6" height="0.6"/><rect x="214.4" y="173.4" width="0.6" height="0.6"/><rect x="199.2" y="177.0" width="0.6" height="0.6"/><rect x="187.5" y="172.2" width="0.6" height="0.6"/><rect x="188.0" y="179.8" width="0.6" height="0.6"/><rect x="134.5" y="192.3" width="0.6" height="0.6"/><rect x="136.6" y="187.7" width="0.6" height="0.6"/><rect x="146.5" y="188.0" width="0.6" height="0.6"/><rect x="129.5" y="171.6" width="0.6" height="0.6"/><rect x="114.5" y="166.5" width="0.6" height="0.6"/><rect x="126.0" y="161.3" width="0.6" height="0.6"/><rect x="145.7" y="207.0" width="0.6" height="0.6"/><rect x="153.6" y="200.6" width="0.6" height="0.6"/><rect x="154.4" y="215.5" width="0.6" height="0.6"/><rect x="162.8" y="202.9" width="0.6" height="0.6"/><rect x="174.5" y="202.9" width="0.6" height="0.6"/><rect x="173.0" y="203.2" width="0.6" height="0.6"/><rect x="191.5" y="231.1" width="0.6" height="0.6"/><rect x="205.4" y="235.9" width="0.6" height="0.6"/><rect x="190.0" y="235.1" width="0.6" height="0.6"/><rect x="94.8" y="246.2" width="0.6" height="0.6"/><rect x="90.8" y="231.9" width="0.6" height="0.6"/><rect x="96.3" y="229.5" width="0.6" height="0.6"/><rect x="158.3" y="234.1" width="0.6" height="0.6"/><rect x="165.4" y="237.2" width="0.6" height="0.6"/><rect x="167.4" y="234.6" width="0.6" height="0.6"/><rect x="114.3" y="242.1" width="0.6" height="0.6"/><rect x="98.9" y="243.0" width="0.6" height="0.6"/><rect x="108.3" y="237.5" width="0.6" height="0.6"/><rect x="70.0" y="234.6" width="0.6" height="0.6"/><rect x="71.6" y="229.4" width="0.6" height="0.6"/><rect x="57.2" y="233.9" width="0.6" height="0.6"/><rect x="113.9" y="266.8" width="0.6" height="0.6"/><rect x="117.1" y="259.4" width="0.6" height="0.6"/><rect x="113.1" y="270.6" width="0.6" height="0.6"/><rect x="126.2" y="239.6" width="0.6" height="0.6"/><rect x="119.3" y="244.3" width="0.6" height="0.6"/><rect x="119.2" y="245.6" width="0.6" height="0.6"/><rect x="91.3" y="265.4" width="0.6" height="0.6"/><rect x="103.2" y="267.4" width="0.6" height="0.6"/><rect x="100.7" y="278.6" width="0.6" height="0.6"/><rect x="100.3" y="253.5" width="0.6" height="0.6"/><rect x="105.5" y="241.3" width="0.6" height="0.6"/><rect x="101.3" y="247.5" width="0.6" height="0.6"/><rect x="96.4" y="213.6" width="0.6" height="0.6"/><rect x="90.7" y="208.7" width="0.6" height="0.6"/><rect x="100.0" y="215.4" width="0.6" height="0.6"/><rect x="159.1" y="256.5" width="0.6" height="0.6"/><rect x="153.4" y="250.9" width="0.6" height="0.6"/><rect x="157.9" y="255.3" width="0.6" height="0.6"/><rect x="72.9" y="202.9" width="0.6" height="0.6"/><rect x="76.7" y="194.1" width="0.6" height="0.6"/><rect x="81.4" y="196.0" width="0.6" height="0.6"/><rect x="143.5" y="217.6" width="0.6" height="0.6"/><rect x="141.9" y="212.0" width="0.6" height="0.6"/><rect x="144.9" y="223.6" width="0.6" height="0.6"/><rect x="145.9" y="212.7" width="0.6" height="0.6"/><rect x="153.0" y="224.5" width="0.6" height="0.6"/><rect x="159.2" y="216.0" width="0.6" height="0.6"/><rect x="116.4" y="224.4" width="0.6" height="0.6"/><rect x="111.6" y="219.8" width="0.6" height="0.6"/><rect x="107.3" y="232.1" width="0.6" height="0.6"/><rect x="61.4" y="251.5" width="0.6" height="0.6"/><rect x="65.8" y="263.0" width="0.6" height="0.6"/><rect x="70.1" y="260.7" width="0.6" height="0.6"/><rect x="54.0" y="240.7" width="0.6" height="0.6"/><rect x="64.9" y="246.6" width="0.6" height="0.6"/><rect x="61.6" y="243.9" width="0.6" height="0.6"/><rect x="57.0" y="220.5" width="0.6" height="0.6"/><rect x="61.8" y="216.9" width="0.6" height="0.6"/><rect x="58.6" y="219.2" width="0.6" height="0.6"/><rect x="143.1" y="248.9" width="0.6" height="0.6"/><rect x="142.5" y="248.2" width="0.6" height="0.6"/><rect x="148.5" y="254.0" width="0.6" height="0.6"/><rect x="59.0" y="241.9" width="0.6" height="0.6"/><rect x="48.1" y="251.5" width="0.6" height="0.6"/><rect x="51.4" y="235.4" width="0.6" height="0.6"/><rect x="68.8" y="250.1" width="0.6" height="0.6"/><rect x="76.4" y="244.8" width="0.6" height="0.6"/><rect x="78.8" y="238.6" width="0.6" height="0.6"/><rect x="80.0" y="220.2" width="0.6" height="0.6"/><rect x="94.7" y="230.4" width="0.6" height="0.6"/><rect x="93.4" y="226.7" width="0.6" height="0.6"/><rect x="123.9" y="274.8" width="0.6" height="0.6"/><rect x="106.0" y="266.9" width="0.6" height="0.6"/><rect x="122.1" y="278.1" width="0.6" height="0.6"/><rect x="62.5" y="193.9" width="0.6" height="0.6"/><rect x="68.9" y="203.6" width="0.6" height="0.6"/><rect x="66.3" y="193.8" width="0.6" height="0.6"/><rect x="138.8" y="286.3" width="0.6" height="0.6"/><rect x="142.6" y="286.0" width="0.6" height="0.6"/><rect x="136.5" y="276.0" width="0.6" height="0.6"/><rect x="157.9" y="253.3" width="0.6" height="0.6"/><rect x="154.7" y="252.6" width="0.6" height="0.6"/><rect x="158.1" y="253.2" width="0.6" height="0.6"/><rect x="88.9" y="186.7" width="0.6" height="0.6"/><rect x="89.1" y="196.8" width="0.6" height="0.6"/><rect x="94.1" y="195.1" width="0.6" height="0.6"/><rect x="65.4" y="258.6" width="0.6" height="0.6"/><rect x="74.7" y="257.5" width="0.6" height="0.6"/><rect x="66.6" y="264.5" width="0.6" height="0.6"/><rect x="122.4" y="205.8" width="0.6" height="0.6"/><rect x="116.1" y="200.8" width="0.6" height="0.6"/><rect x="122.9" y="209.3" width="0.6" height="0.6"/><rect x="93.8" y="175.2" width="0.6" height="0.6"/><rect x="96.7" y="179.4" width="0.6" height="0.6"/><rect x="101.5" y="176.7" width="0.6" height="0.6"/><rect x="109.3" y="189.5" width="0.6" height="0.6"/><rect x="117.9" y="194.9" width="0.6" height="0.6"/><rect x="105.7" y="189.7" width="0.6" height="0.6"/><rect x="137.0" y="248.0" width="0.6" height="0.6"/><rect x="124.4" y="245.4" width="0.6" height="0.6"/><rect x="123.7" y="239.0" width="0.6" height="0.6"/><rect x="103.0" y="264.4" width="0.6" height="0.6"/><rect x="103.0" y="253.0" width="0.6" height="0.6"/><rect x="102.1" y="264.1" width="0.6" height="0.6"/><rect x="130.9" y="247.9" width="0.6" height="0.6"/><rect x="130.0" y="258.0" width="0.6" height="0.6"/><rect x="145.3" y="256.7" width="0.6" height="0.6"/><rect x="80.2" y="250.2" width="0.6" height="0.6"/><rect x="78.2" y="246.1" width="0.6" height="0.6"/><rect x="87.4" y="263.1" width="0.6" height="0.6"/><rect x="96.7" y="271.4" width="0.6" height="0.6"/><rect x="83.6" y="268.9" width="0.6" height="0.6"/><rect x="84.1" y="266.1" width="0.6" height="0.6"/><rect x="119.4" y="213.6" width="0.6" height="0.6"/><rect x="113.2" y="221.9" width="0.6" height="0.6"/><rect x="117.5" y="225.4" width="0.6" height="0.6"/><rect x="120.3" y="253.9" width="0.6" height="0.6"/><rect x="120.2" y="242.3" width="0.6" height="0.6"/><rect x="121.8" y="244.7" width="0.6" height="0.6"/><rect x="135.5" y="234.3" width="0.6" height="0.6"/><rect x="127.8" y="243.2" width="0.6" height="0.6"/><rect x="142.7" y="243.5" width="0.6" height="0.6"/><rect x="101.3" y="213.4" width="0.6" height="0.6"/><rect x="97.1" y="198.5" width="0.6" height="0.6"/><rect x="105.8" y="196.3" width="0.6" height="0.6"/><rect x="124.2" y="225.9" width="0.6" height="0.6"/><rect x="129.4" y="226.6" width="0.6" height="0.6"/><rect x="136.3" y="226.0" width="0.6" height="0.6"/><rect x="119.6" y="270.2" width="0.6" height="0.6"/><rect x="120.1" y="289.6" width="0.6" height="0.6"/><rect x="117.7" y="269.3" width="0.6" height="0.6"/><rect x="76.3" y="259.1" width="0.6" height="0.6"/><rect x="85.4" y="245.5" width="0.6" height="0.6"/><rect x="75.9" y="247.1" width="0.6" height="0.6"/><rect x="155.7" y="258.4" width="0.6" height="0.6"/><rect x="164.4" y="251.0" width="0.6" height="0.6"/><rect x="148.3" y="246.5" width="0.6" height="0.6"/><rect x="52.3" y="223.4" width="0.6" height="0.6"/><rect x="58.6" y="242.0" width="0.6" height="0.6"/><rect x="57.2" y="238.9" width="0.6" height="0.6"/><rect x="117.1" y="227.0" width="0.6" height="0.6"/><rect x="129.4" y="233.0" width="0.6" height="0.6"/><rect x="128.4" y="235.7" width="0.6" height="0.6"/><rect x="85.0" y="269.8" width="0.6" height="0.6"/><rect x="84.7" y="260.7" width="0.6" height="0.6"/><rect x="81.6" y="274.6" width="0.6" height="0.6"/><rect x="127.8" y="246.3" width="0.6" height="0.6"/><rect x="120.7" y="243.7" width="0.6" height="0.6"/><rect x="127.3" y="250.8" width="0.6" height="0.6"/><rect x="120.7" y="194.6" width="0.6" height="0.6"/><rect x="131.9" y="204.5" width="0.6" height="0.6"/><rect x="126.5" y="206.1" width="0.6" height="0.6"/><rect x="95.3" y="205.0" width="0.6" height="0.6"/><rect x="94.7" y="204.5" width="0.6" height="0.6"/><rect x="95.0" y="189.4" width="0.6" height="0.6"/><rect x="65.2" y="210.5" width="0.6" height="0.6"/><rect x="68.4" y="221.8" width="0.6" height="0.6"/><rect x="75.8" y="221.9" width="0.6" height="0.6"/><rect x="155.3" y="265.3" width="0.6" height="0.6"/><rect x="167.3" y="253.1" width="0.6" height="0.6"/><rect x="157.0" y="262.9" width="0.6" height="0.6"/><rect x="80.8" y="237.5" width="0.6" height="0.6"/><rect x="96.5" y="240.2" width="0.6" height="0.6"/><rect x="82.6" y="246.8" width="0.6" height="0.6"/><rect x="123.3" y="270.3" width="0.6" height="0.6"/><rect x="137.1" y="276.6" width="0.6" height="0.6"/><rect x="131.8" y="275.0" width="0.6" height="0.6"/><rect x="128.9" y="258.5" width="0.6" height="0.6"/><rect x="120.0" y="262.8" width="0.6" height="0.6"/><rect x="118.9" y="252.7" width="0.6" height="0.6"/><rect x="106.1" y="272.5" width="0.6" height="0.6"/><rect x="100.8" y="263.3" width="0.6" height="0.6"/><rect x="111.9" y="270.7" width="0.6" height="0.6"/><rect x="77.6" y="247.8" width="0.6" height="0.6"/><rect x="79.0" y="262.9" width="0.6" height="0.6"/><rect x="84.0" y="251.0" width="0.6" height="0.6"/><rect x="140.9" y="245.5" width="0.6" height="0.6"/><rect x="141.1" y="234.0" width="0.6" height="0.6"/><rect x="154.3" y="241.0" width="0.6" height="0.6"/><rect x="83.2" y="213.5" width="0.6" height="0.6"/><rect x="86.4" y="225.7" width="0.6" height="0.6"/><rect x="85.2" y="220.0" width="0.6" height="0.6"/><rect x="113.2" y="191.0" width="0.6" height="0.6"/><rect x="105.3" y="199.4" width="0.6" height="0.6"/><rect x="108.3" y="196.5" width="0.6" height="0.6"/><rect x="103.7" y="240.1" width="0.6" height="0.6"/><rect x="109.7" y="242.6" width="0.6" height="0.6"/><rect x="116.1" y="229.1" width="0.6" height="0.6"/><rect x="76.9" y="235.7" width="0.6" height="0.6"/><rect x="67.2" y="226.1" width="0.6" height="0.6"/><rect x="69.5" y="233.2" width="0.6" height="0.6"/><rect x="57.8" y="250.5" width="0.6" height="0.6"/><rect x="71.1" y="252.8" width="0.6" height="0.6"/><rect x="64.8" y="235.8" width="0.6" height="0.6"/><rect x="128.8" y="222.2" width="0.6" height="0.6"/><rect x="127.4" y="207.2" width="0.6" height="0.6"/><rect x="121.3" y="208.4" width="0.6" height="0.6"/><rect x="78.2" y="241.8" width="0.6" height="0.6"/><rect x="84.8" y="252.6" width="0.6" height="0.6"/><rect x="81.6" y="253.2" width="0.6" height="0.6"/><rect x="102.5" y="198.6" width="0.6" height="0.6"/><rect x="117.7" y="199.2" width="0.6" height="0.6"/><rect x="101.7" y="203.3" width="0.6" height="0.6"/><rect x="95.8" y="249.8" width="0.6" height="0.6"/><rect x="93.6" y="259.2" width="0.6" height="0.6"/><rect x="97.4" y="253.5" width="0.6" height="0.6"/><rect x="121.4" y="272.4" width="0.6" height="0.6"/><rect x="131.7" y="285.2" width="0.6" height="0.6"/><rect x="122.5" y="271.2" width="0.6" height="0.6"/><rect x="100.7" y="245.0" width="0.6" height="0.6"/><rect x="109.2" y="256.4" width="0.6" height="0.6"/><rect x="103.2" y="246.1" width="0.6" height="0.6"/><rect x="78.8" y="220.7" width="0.6" height="0.6"/><rect x="82.4" y="220.5" width="0.6" height="0.6"/><rect x="72.3" y="233.9" width="0.6" height="0.6"/><rect x="102.3" y="218.6" width="0.6" height="0.6"/><rect x="109.1" y="219.2" width="0.6" height="0.6"/><rect x="101.4" y="232.2" width="0.6" height="0.6"/><rect x="67.9" y="227.2" width="0.6" height="0.6"/><rect x="60.5" y="233.3" width="0.6" height="0.6"/><rect x="57.5" y="221.8" width="0.6" height="0.6"/><rect x="129.4" y="264.5" width="0.6" height="0.6"/><rect x="130.8" y="269.7" width="0.6" height="0.6"/><rect x="140.4" y="270.0" width="0.6" height="0.6"/><rect x="134.4" y="268.6" width="0.6" height="0.6"/><rect x="122.5" y="262.6" width="0.6" height="0.6"/><rect x="126.0" y="271.0" width="0.6" height="0.6"/><rect x="72.6" y="230.0" width="0.6" height="0.6"/><rect x="78.7" y="220.7" width="0.6" height="0.6"/><rect x="64.2" y="226.4" width="0.6" height="0.6"/><rect x="78.3" y="189.0" width="0.6" height="0.6"/><rect x="92.4" y="184.7" width="0.6" height="0.6"/><rect x="80.0" y="188.7" width="0.6" height="0.6"/><rect x="108.7" y="263.8" width="0.6" height="0.6"/><rect x="119.2" y="267.6" width="0.6" height="0.6"/><rect x="117.1" y="268.9" width="0.6" height="0.6"/><rect x="83.6" y="215.5" width="0.6" height="0.6"/><rect x="94.2" y="206.7" width="0.6" height="0.6"/><rect x="84.0" y="214.5" width="0.6" height="0.6"/><rect x="118.9" y="233.5" width="0.6" height="0.6"/><rect x="119.7" y="237.4" width="0.6" height="0.6"/><rect x="117.1" y="233.9" width="0.6" height="0.6"/><rect x="86.7" y="227.1" width="0.6" height="0.6"/><rect x="90.4" y="236.2" width="0.6" height="0.6"/><rect x="94.1" y="239.7" width="0.6" height="0.6"/><rect x="96.2" y="243.5" width="0.6" height="0.6"/><rect x="89.9" y="251.0" width="0.6" height="0.6"/><rect x="101.6" y="250.6" width="0.6" height="0.6"/><rect x="134.5" y="233.7" width="0.6" height="0.6"/><rect x="144.0" y="226.6" width="0.6" height="0.6"/><rect x="133.0" y="231.8" width="0.6" height="0.6"/><rect x="144.4" y="256.8" width="0.6" height="0.6"/><rect x="132.2" y="249.7" width="0.6" height="0.6"/><rect x="148.3" y="247.9" width="0.6" height="0.6"/><rect x="118.4" y="183.6" width="0.6" height="0.6"/><rect x="127.1" y="189.7" width="0.6" height="0.6"/><rect x="117.1" y="180.1" width="0.6" height="0.6"/><rect x="84.1" y="246.0" width="0.6" height="0.6"/><rect x="87.2" y="231.6" width="0.6" height="0.6"/><rect x="75.9" y="232.5" width="0.6" height="0.6"/><rect x="95.4" y="225.1" width="0.6" height="0.6"/><rect x="88.3" y="216.0" width="0.6" height="0.6"/><rect x="92.6" y="212.5" width="0.6" height="0.6"/><rect x="61.8" y="246.5" width="0.6" height="0.6"/><rect x="62.3" y="241.7" width="0.6" height="0.6"/><rect x="71.8" y="246.2" width="0.6" height="0.6"/><rect x="80.5" y="191.2" width="0.6" height="0.6"/><rect x="70.2" y="197.8" width="0.6" height="0.6"/><rect x="71.3" y="197.1" width="0.6" height="0.6"/><rect x="81.0" y="224.3" width="0.6" height="0.6"/><rect x="86.3" y="210.5" width="0.6" height="0.6"/><rect x="94.0" y="213.9" width="0.6" height="0.6"/><rect x="63.2" y="230.4" width="0.6" height="0.6"/><rect x="58.1" y="247.3" width="0.6" height="0.6"/><rect x="57.2" y="240.8" width="0.6" height="0.6"/><rect x="119.4" y="197.2" width="0.6" height="0.6"/><rect x="132.2" y="207.7" width="0.6" height="0.6"/><rect x="128.6" y="203.5" width="0.6" height="0.6"/><rect x="110.1" y="234.6" width="0.6" height="0.6"/><rect x="109.7" y="234.1" width="0.6" height="0.6"/><rect x="94.9" y="239.5" width="0.6" height="0.6"/><rect x="156.8" y="229.1" width="0.6" height="0.6"/><rect x="155.0" y="217.4" width="0.6" height="0.6"/><rect x="165.3" y="224.2" width="0.6" height="0.6"/><rect x="157.9" y="261.2" width="0.6" height="0.6"/><rect x="155.9" y="272.5" width="0.6" height="0.6"/><rect x="145.8" y="263.1" width="0.6" height="0.6"/><rect x="169.0" y="239.1" width="0.6" height="0.6"/><rect x="159.3" y="240.6" width="0.6" height="0.6"/><rect x="159.2" y="252.0" width="0.6" height="0.6"/><rect x="83.2" y="187.7" width="0.6" height="0.6"/><rect x="87.0" y="190.6" width="0.6" height="0.6"/><rect x="97.5" y="196.3" width="0.6" height="0.6"/><rect x="143.6" y="225.0" width="0.6" height="0.6"/><rect x="148.5" y="235.7" width="0.6" height="0.6"/><rect x="147.5" y="222.9" width="0.6" height="0.6"/><rect x="93.0" y="265.2" width="0.6" height="0.6"/><rect x="82.9" y="270.7" width="0.6" height="0.6"/><rect x="92.5" y="258.2" width="0.6" height="0.6"/><rect x="151.7" y="227.1" width="0.6" height="0.6"/><rect x="151.9" y="241.9" width="0.6" height="0.6"/><rect x="159.5" y="240.6" width="0.6" height="0.6"/><rect x="66.9" y="231.9" width="0.6" height="0.6"/><rect x="77.1" y="232.7" width="0.6" height="0.6"/><rect x="69.3" y="232.8" width="0.6" height="0.6"/><rect x="101.1" y="238.1" width="0.6" height="0.6"/><rect x="91.6" y="228.8" width="0.6" height="0.6"/><rect x="102.5" y="236.4" width="0.6" height="0.6"/><rect x="159.4" y="247.1" width="0.6" height="0.6"/><rect x="161.0" y="236.4" width="0.6" height="0.6"/><rect x="156.6" y="248.0" width="0.6" height="0.6"/><rect x="86.7" y="216.2" width="0.6" height="0.6"/><rect x="71.8" y="212.4" width="0.6" height="0.6"/><rect x="73.6" y="214.4" width="0.6" height="0.6"/><rect x="137.9" y="210.6" width="0.6" height="0.6"/><rect x="128.9" y="209.8" width="0.6" height="0.6"/><rect x="134.2" y="212.2" width="0.6" height="0.6"/><rect x="131.9" y="206.3" width="0.6" height="0.6"/><rect x="141.9" y="215.4" width="0.6" height="0.6"/><rect x="129.4" y="217.3" width="0.6" height="0.6"/><rect x="139.0" y="261.1" width="0.6" height="0.6"/><rect x="143.5" y="261.9" width="0.6" height="0.6"/><rect x="139.8" y="278.1" width="0.6" height="0.6"/><rect x="163.7" y="240.8" width="0.6" height="0.6"/><rect x="153.5" y="242.6" width="0.6" height="0.6"/><rect x="152.9" y="233.2" width="0.6" height="0.6"/><rect x="130.1" y="196.2" width="0.6" height="0.6"/><rect x="126.7" y="201.3" width="0.6" height="0.6"/><rect x="116.3" y="192.1" width="0.6" height="0.6"/><rect x="115.0" y="261.5" width="0.6" height="0.6"/><rect x="124.2" y="253.8" width="0.6" height="0.6"/><rect x="108.3" y="261.4" width="0.6" height="0.6"/><rect x="118.2" y="238.1" width="0.6" height="0.6"/><rect x="100.9" y="244.6" width="0.6" height="0.6"/><rect x="102.2" y="235.4" width="0.6" height="0.6"/><rect x="116.3" y="204.0" width="0.6" height="0.6"/><rect x="116.1" y="210.5" width="0.6" height="0.6"/><rect x="110.2" y="217.3" width="0.6" height="0.6"/><rect x="105.1" y="200.2" width="0.6" height="0.6"/><rect x="100.6" y="202.6" width="0.6" height="0.6"/><rect x="99.7" y="207.6" width="0.6" height="0.6"/><rect x="121.1" y="210.4" width="0.6" height="0.6"/><rect x="120.8" y="217.5" width="0.6" height="0.6"/><rect x="119.5" y="211.8" width="0.6" height="0.6"/><rect x="130.2" y="197.7" width="0.6" height="0.6"/><rect x="119.7" y="192.2" width="0.6" height="0.6"/><rect x="118.2" y="191.3" width="0.6" height="0.6"/><rect x="92.4" y="226.6" width="0.6" height="0.6"/><rect x="93.3" y="218.6" width="0.6" height="0.6"/><rect x="93.9" y="222.6" width="0.6" height="0.6"/><rect x="90.8" y="234.4" width="0.6" height="0.6"/><rect x="97.2" y="223.6" width="0.6" height="0.6"/><rect x="99.1" y="228.1" width="0.6" height="0.6"/><rect x="89.5" y="180.5" width="0.6" height="0.6"/><rect x="81.8" y="192.3" width="0.6" height="0.6"/><rect x="88.8" y="188.2" width="0.6" height="0.6"/><rect x="135.1" y="277.5" width="0.6" height="0.6"/><rect x="121.7" y="278.6" width="0.6" height="0.6"/><rect x="122.8" y="278.0" width="0.6" height="0.6"/><rect x="66.3" y="215.7" width="0.6" height="0.6"/><rect x="77.6" y="212.5" width="0.6" height="0.6"/><rect x="74.8" y="203.0" width="0.6" height="0.6"/><rect x="99.3" y="269.5" width="0.6" height="0.6"/><rect x="98.6" y="272.7" width="0.6" height="0.6"/><rect x="95.2" y="273.4" width="0.6" height="0.6"/><rect x="61.8" y="261.4" width="0.6" height="0.6"/><rect x="51.8" y="255.4" width="0.6" height="0.6"/><rect x="68.2" y="258.3" width="0.6" height="0.6"/><rect x="91.0" y="198.0" width="0.6" height="0.6"/><rect x="91.1" y="196.2" width="0.6" height="0.6"/><rect x="90.3" y="196.6" width="0.6" height="0.6"/><rect x="78.1" y="209.5" width="0.6" height="0.6"/><rect x="65.0" y="209.9" width="0.6" height="0.6"/><rect x="69.6" y="212.6" width="0.6" height="0.6"/><rect x="95.0" y="261.8" width="0.6" height="0.6"/><rect x="89.0" y="276.3" width="0.6" height="0.6"/><rect x="97.6" y="277.7" width="0.6" height="0.6"/><rect x="52.3" y="243.0" width="0.6" height="0.6"/><rect x="55.1" y="249.4" width="0.6" height="0.6"/><rect x="52.4" y="236.4" width="0.6" height="0.6"/><rect x="130.9" y="246.1" width="0.6" height="0.6"/><rect x="134.5" y="246.1" width="0.6" height="0.6"/><rect x="125.4" y="250.1" width="0.6" height="0.6"/><rect x="78.2" y="203.5" width="0.6" height="0.6"/><rect x="87.8" y="190.6" width="0.6" height="0.6"/><rect x="78.3" y="189.2" width="0.6" height="0.6"/><rect x="143.2" y="234.7" width="0.6" height="0.6"/><rect x="146.5" y="234.4" width="0.6" height="0.6"/><rect x="137.4" y="241.0" width="0.6" height="0.6"/><rect x="135.7" y="228.9" width="0.6" height="0.6"/><rect x="126.6" y="229.7" width="0.6" height="0.6"/><rect x="132.4" y="215.3" width="0.6" height="0.6"/><rect x="94.9" y="192.3" width="0.6" height="0.6"/><rect x="108.6" y="196.8" width="0.6" height="0.6"/><rect x="102.3" y="181.4" width="0.6" height="0.6"/><rect x="72.1" y="222.5" width="0.6" height="0.6"/><rect x="71.5" y="240.5" width="0.6" height="0.6"/><rect x="73.4" y="234.4" width="0.6" height="0.6"/><rect x="136.0" y="219.0" width="0.6" height="0.6"/><rect x="139.2" y="215.1" width="0.6" height="0.6"/><rect x="142.9" y="214.5" width="0.6" height="0.6"/><rect x="51.9" y="240.3" width="0.6" height="0.6"/><rect x="37.7" y="234.3" width="0.6" height="0.6"/><rect x="39.0" y="243.1" width="0.6" height="0.6"/><rect x="147.6" y="252.2" width="0.6" height="0.6"/><rect x="135.4" y="259.9" width="0.6" height="0.6"/><rect x="148.2" y="263.2" width="0.6" height="0.6"/><rect x="154.9" y="261.2" width="0.6" height="0.6"/><rect x="138.9" y="264.5" width="0.6" height="0.6"/><rect x="148.3" y="269.8" width="0.6" height="0.6"/><rect x="91.5" y="221.3" width="0.6" height="0.6"/><rect x="81.9" y="212.9" width="0.6" height="0.6"/><rect x="91.6" y="206.4" width="0.6" height="0.6"/><rect x="154.4" y="271.0" width="0.6" height="0.6"/><rect x="141.8" y="275.3" width="0.6" height="0.6"/><rect x="153.2" y="272.2" width="0.6" height="0.6"/><rect x="111.1" y="233.8" width="0.6" height="0.6"/><rect x="121.2" y="243.6" width="0.6" height="0.6"/><rect x="120.3" y="242.5" width="0.6" height="0.6"/><rect x="91.0" y="217.9" width="0.6" height="0.6"/><rect x="95.3" y="225.2" width="0.6" height="0.6"/><rect x="97.5" y="223.0" width="0.6" height="0.6"/><rect x="80.2" y="225.6" width="0.6" height="0.6"/><rect x="72.8" y="226.2" width="0.6" height="0.6"/><rect x="72.5" y="233.4" width="0.6" height="0.6"/><rect x="96.3" y="251.8" width="0.6" height="0.6"/><rect x="88.8" y="241.0" width="0.6" height="0.6"/><rect x="90.5" y="235.4" width="0.6" height="0.6"/><rect x="102.4" y="216.1" width="0.6" height="0.6"/><rect x="101.2" y="222.5" width="0.6" height="0.6"/><rect x="118.1" y="223.3" width="0.6" height="0.6"/><rect x="86.8" y="248.9" width="0.6" height="0.6"/><rect x="93.3" y="254.8" width="0.6" height="0.6"/><rect x="95.6" y="260.9" width="0.6" height="0.6"/><rect x="116.9" y="185.6" width="0.6" height="0.6"/><rect x="110.2" y="182.6" width="0.6" height="0.6"/><rect x="102.6" y="177.3" width="0.6" height="0.6"/><rect x="104.9" y="224.9" width="0.6" height="0.6"/><rect x="101.6" y="213.0" width="0.6" height="0.6"/><rect x="112.3" y="214.3" width="0.6" height="0.6"/><rect x="158.8" y="266.0" width="0.6" height="0.6"/><rect x="155.2" y="250.3" width="0.6" height="0.6"/><rect x="158.6" y="253.5" width="0.6" height="0.6"/></g><g stroke="#4a4a4a" stroke-width="0.45"><line x1="135.0" y1="241.9" x2="141.5" y2="246.7"/><line x1="106.0" y1="225.3" x2="100.0" y2="223.3"/><line x1="101.5" y1="203.3" x2="107.9" y2="195.6"/><line x1="74.0" y1="216.0" x2="71.9" y2="222.2"/><line x1="73.5" y1="230.0" x2="71.9" y2="222.2"/><line x1="106.0" y1="225.3" x2="110.3" y2="222.0"/><line x1="106.5" y1="248.4" x2="104.4" y2="253.4"/><line x1="130.2" y1="232.7" x2="139.9" y2="230.9"/><line x1="231.0" y1="140.6" x2="229.5" y2="147.0"/><line x1="120.3" y1="189.3" x2="120.8" y2="199.8"/><line x1="213.0" y1="129.2" x2="209.4" y2="124.2"/><line x1="94.5" y1="218.6" x2="91.2" y2="213.4"/><line x1="153.5" y1="156.6" x2="163.3" y2="160.4"/><line x1="56.0" y1="232.6" x2="57.9" y2="242.1"/><line x1="164.1" y1="242.5" x2="157.2" y2="238.3"/><line x1="149.4" y1="239.6" x2="140.7" y2="236.4"/><line x1="129.2" y1="242.3" x2="135.0" y2="241.9"/><line x1="69.5" y1="255.5" x2="66.2" y2="250.8"/><line x1="77.7" y1="252.6" x2="76.3" y2="258.2"/><line x1="73.5" y1="230.0" x2="81.1" y2="229.4"/><line x1="65.8" y1="221.4" x2="68.0" y2="231.0"/><line x1="94.7" y1="230.5" x2="100.0" y2="223.3"/><line x1="98.4" y1="208.6" x2="91.2" y2="213.4"/><line x1="79.6" y1="203.3" x2="86.3" y2="209.4"/><line x1="150.7" y1="266.6" x2="147.3" y2="262.4"/><line x1="84.4" y1="253.4" x2="91.2" y2="253.4"/><line x1="86.3" y1="209.4" x2="91.2" y2="213.4"/><line x1="154.4" y1="244.4" x2="157.2" y2="238.3"/><line x1="113.5" y1="192.5" x2="113.6" y2="200.1"/><line x1="155.0" y1="205.8" x2="168.2" y2="207.6"/><line x1="128.1" y1="278.3" x2="125.9" y2="273.3"/><line x1="128.4" y1="199.9" x2="126.6" y2="193.9"/><line x1="94.7" y1="230.5" x2="101.4" y2="229.6"/><line x1="175.9" y1="127.4" x2="181.6" y2="139.9"/><line x1="177.0" y1="174.1" x2="164.5" y2="175.3"/><line x1="84.9" y1="246.2" x2="81.0" y2="238.3"/><line x1="139.9" y1="230.9" x2="144.5" y2="221.6"/><line x1="86.3" y1="209.4" x2="86.1" y2="201.8"/><line x1="154.4" y1="244.4" x2="164.1" y2="242.5"/><line x1="185.0" y1="128.8" x2="181.6" y2="139.9"/><line x1="93.6" y1="189.4" x2="87.6" y2="188.8"/><line x1="135.0" y1="241.9" x2="130.2" y2="232.7"/><line x1="97.7" y1="239.6" x2="91.7" y2="245.3"/><line x1="93.1" y1="265.0" x2="86.9" y2="258.2"/><line x1="105.0" y1="242.6" x2="103.2" y2="237.1"/><line x1="121.2" y1="250.1" x2="129.8" y2="253.5"/><line x1="128.4" y1="199.9" x2="123.7" y2="205.0"/><line x1="86.3" y1="218.0" x2="91.2" y2="213.4"/><line x1="96.5" y1="251.5" x2="91.7" y2="245.3"/><line x1="49.9" y1="242.1" x2="56.0" y2="232.6"/><line x1="108.7" y1="233.3" x2="103.2" y2="237.1"/><line x1="175.9" y1="127.4" x2="185.0" y2="128.8"/><line x1="108.7" y1="233.3" x2="101.4" y2="229.6"/><line x1="113.8" y1="273.3" x2="108.9" y2="265.0"/><line x1="81.1" y1="229.4" x2="77.8" y2="233.8"/><line x1="155.3" y1="125.3" x2="149.2" y2="133.3"/><line x1="111.8" y1="227.2" x2="108.7" y2="233.3"/><line x1="135.3" y1="255.4" x2="129.7" y2="262.4"/><line x1="151.2" y1="180.5" x2="144.4" y2="192.6"/><line x1="84.4" y1="253.4" x2="76.3" y2="258.2"/><line x1="94.5" y1="218.6" x2="99.9" y2="217.8"/><line x1="222.2" y1="155.0" x2="211.2" y2="158.9"/><line x1="150.8" y1="248.6" x2="149.4" y2="239.6"/><line x1="79.1" y1="219.9" x2="79.1" y2="212.2"/><line x1="152.6" y1="168.0" x2="151.2" y2="180.5"/><line x1="174.0" y1="151.6" x2="185.0" y2="155.0"/><line x1="73.2" y1="236.8" x2="68.0" y2="231.0"/><line x1="73.2" y1="236.8" x2="77.8" y2="233.8"/><line x1="217.6" y1="168.0" x2="220.3" y2="177.6"/><line x1="128.4" y1="199.9" x2="131.7" y2="204.1"/><line x1="87.7" y1="240.6" x2="84.9" y2="246.2"/><line x1="145.8" y1="117.3" x2="155.3" y2="125.3"/><line x1="78.8" y1="265.1" x2="86.9" y2="258.2"/><line x1="98.4" y1="208.6" x2="106.6" y2="207.0"/><line x1="140.7" y1="236.4" x2="139.9" y2="230.9"/><line x1="73.5" y1="230.0" x2="68.0" y2="231.0"/><line x1="155.0" y1="205.8" x2="158.8" y2="223.2"/><line x1="154.7" y1="110.5" x2="159.9" y2="111.0"/><line x1="73.5" y1="230.0" x2="77.8" y2="233.8"/><line x1="186.1" y1="167.5" x2="192.5" y2="175.3"/><line x1="86.3" y1="209.4" x2="79.1" y2="212.2"/><line x1="93.6" y1="189.4" x2="96.8" y2="184.7"/><line x1="94.5" y1="218.6" x2="92.0" y2="225.7"/><line x1="84.4" y1="253.4" x2="77.7" y2="252.6"/><line x1="134.6" y1="214.2" x2="128.8" y2="224.1"/><line x1="114.9" y1="245.0" x2="121.2" y2="250.1"/><line x1="124.3" y1="245.7" x2="124.5" y2="239.7"/><line x1="150.8" y1="248.6" x2="157.6" y2="250.6"/><line x1="192.5" y1="132.6" x2="181.6" y2="139.9"/><line x1="159.9" y1="111.0" x2="170.6" y2="113.7"/><line x1="211.7" y1="145.2" x2="216.9" y2="142.4"/><line x1="79.1" y1="219.9" x2="86.3" y2="218.0"/><line x1="192.5" y1="132.6" x2="198.7" y2="141.8"/><line x1="207.3" y1="139.0" x2="198.7" y2="141.8"/><line x1="93.1" y1="265.0" x2="89.9" y2="270.7"/><line x1="157.6" y1="250.6" x2="154.5" y2="257.9"/><line x1="108.9" y1="265.0" x2="104.7" y2="271.0"/><line x1="174.0" y1="151.6" x2="163.3" y2="160.4"/><line x1="141.0" y1="122.8" x2="142.8" y2="131.0"/><line x1="65.8" y1="221.4" x2="71.9" y2="222.2"/><line x1="99.9" y1="217.8" x2="107.5" y2="217.0"/><line x1="161.1" y1="257.5" x2="164.4" y2="248.4"/><line x1="131.7" y1="204.1" x2="134.6" y2="214.2"/><line x1="116.7" y1="210.3" x2="112.0" y2="207.1"/><line x1="131.7" y1="204.1" x2="126.6" y2="193.9"/><line x1="96.8" y1="184.7" x2="87.6" y2="188.8"/><line x1="229.5" y1="147.0" x2="238.1" y2="155.0"/><line x1="139.2" y1="222.0" x2="149.7" y2="220.5"/><line x1="101.7" y1="258.4" x2="96.5" y2="251.5"/><line x1="119.1" y1="279.3" x2="128.1" y2="278.3"/><line x1="86.3" y1="209.4" x2="86.3" y2="218.0"/><line x1="154.7" y1="110.5" x2="149.6" y2="118.5"/><line x1="135.3" y1="255.4" x2="136.3" y2="263.6"/><line x1="211.7" y1="145.2" x2="207.3" y2="139.0"/><line x1="207.3" y1="139.0" x2="216.9" y2="142.4"/><line x1="62.4" y1="234.3" x2="68.0" y2="231.0"/><line x1="152.6" y1="168.0" x2="164.5" y2="175.3"/><line x1="207.8" y1="172.5" x2="220.3" y2="177.6"/><line x1="78.8" y1="265.1" x2="89.9" y2="270.7"/><line x1="145.8" y1="117.3" x2="141.0" y2="122.8"/><line x1="74.0" y1="216.0" x2="79.1" y2="212.2"/><line x1="101.5" y1="203.3" x2="106.6" y2="207.0"/><line x1="111.8" y1="227.2" x2="120.6" y2="232.3"/><line x1="205.5" y1="152.5" x2="196.4" y2="162.3"/><line x1="198.2" y1="122.8" x2="209.4" y2="124.2"/><line x1="49.9" y1="242.1" x2="45.6" y2="238.6"/><line x1="122.7" y1="256.9" x2="114.1" y2="254.7"/><line x1="84.9" y1="246.2" x2="91.7" y2="245.3"/><line x1="63.2" y1="258.5" x2="69.5" y2="255.5"/><line x1="121.1" y1="265.2" x2="125.9" y2="273.3"/><line x1="102.5" y1="191.2" x2="106.8" y2="186.5"/><line x1="229.5" y1="147.0" x2="222.2" y2="155.0"/><line x1="87.1" y1="227.9" x2="94.7" y2="230.5"/><line x1="106.5" y1="248.4" x2="109.7" y2="239.7"/><line x1="122.7" y1="256.9" x2="116.9" y2="261.5"/><line x1="63.3" y1="246.0" x2="63.7" y2="240.0"/><line x1="157.6" y1="250.6" x2="164.4" y2="248.4"/><line x1="145.1" y1="167.5" x2="152.6" y2="168.0"/><line x1="121.1" y1="265.2" x2="116.9" y2="261.5"/><line x1="65.8" y1="221.4" x2="74.0" y2="216.0"/><line x1="120.5" y1="220.1" x2="128.7" y2="213.4"/><line x1="113.6" y1="200.1" x2="107.9" y2="195.6"/><line x1="197.5" y1="147.5" x2="198.7" y2="141.8"/><line x1="223.8" y1="173.2" x2="220.3" y2="177.6"/><line x1="124.3" y1="245.7" x2="129.2" y2="242.3"/><line x1="198.2" y1="122.8" x2="192.5" y2="132.6"/><line x1="205.5" y1="152.5" x2="201.0" y2="153.8"/><line x1="81.0" y1="238.3" x2="73.2" y2="236.8"/><line x1="135.3" y1="255.4" x2="142.6" y2="258.9"/><line x1="55.3" y1="248.8" x2="63.3" y2="246.0"/><line x1="87.6" y1="196.4" x2="80.9" y2="197.6"/><line x1="116.7" y1="210.3" x2="120.5" y2="220.1"/><line x1="206.7" y1="133.8" x2="209.4" y2="124.2"/><line x1="109.7" y1="239.7" x2="116.0" y2="238.1"/><line x1="112.0" y1="207.1" x2="106.6" y2="207.0"/><line x1="63.2" y1="258.5" x2="59.1" y2="254.0"/><line x1="148.9" y1="255.9" x2="161.1" y2="257.5"/><line x1="197.5" y1="147.5" x2="205.5" y2="152.5"/><line x1="108.7" y1="233.3" x2="116.0" y2="238.1"/><line x1="205.5" y1="152.5" x2="211.7" y2="145.2"/><line x1="87.6" y1="188.8" x2="80.3" y2="184.0"/><line x1="148.9" y1="255.9" x2="154.5" y2="257.9"/><line x1="79.6" y1="203.3" x2="68.3" y2="205.9"/><line x1="70.9" y1="198.9" x2="75.3" y2="193.7"/><line x1="121.2" y1="250.1" x2="122.7" y2="256.9"/><line x1="113.8" y1="273.3" x2="104.7" y2="271.0"/><line x1="116.9" y1="261.5" x2="114.1" y2="254.7"/><line x1="87.6" y1="196.4" x2="86.1" y2="201.8"/><line x1="75.3" y1="193.7" x2="80.9" y2="197.6"/><line x1="135.0" y1="241.9" x2="140.7" y2="236.4"/><line x1="133.0" y1="120.1" x2="145.8" y2="117.3"/><line x1="169.0" y1="104.6" x2="170.6" y2="113.7"/><line x1="142.8" y1="131.0" x2="146.9" y2="144.0"/><line x1="129.2" y1="242.3" x2="124.5" y2="239.7"/><line x1="161.1" y1="257.5" x2="154.5" y2="257.9"/><line x1="128.7" y1="213.4" x2="128.8" y2="224.1"/><line x1="238.1" y1="155.0" x2="231.0" y2="162.7"/><line x1="70.1" y1="244.1" x2="66.2" y2="250.8"/><line x1="136.3" y1="263.6" x2="142.6" y2="258.9"/><line x1="97.7" y1="239.6" x2="103.2" y2="237.1"/><line x1="56.0" y1="232.6" x2="45.6" y2="238.6"/><line x1="211.2" y1="158.9" x2="217.6" y2="168.0"/><line x1="104.4" y1="253.4" x2="114.1" y2="254.7"/><line x1="105.0" y1="242.6" x2="109.7" y2="239.7"/><line x1="149.4" y1="239.6" x2="152.7" y2="234.8"/><line x1="93.6" y1="189.4" x2="102.5" y2="191.2"/><line x1="96.2" y1="270.7" x2="87.0" y2="265.6"/><line x1="77.7" y1="252.6" x2="84.9" y2="246.2"/><line x1="106.0" y1="225.3" x2="107.5" y2="217.0"/><line x1="108.7" y1="233.3" x2="109.7" y2="239.7"/><line x1="168.6" y1="119.0" x2="175.9" y2="127.4"/><line x1="164.4" y1="248.4" x2="164.1" y2="242.5"/><line x1="149.7" y1="220.5" x2="144.5" y2="221.6"/><line x1="139.2" y1="268.3" x2="147.3" y2="262.4"/><line x1="133.3" y1="268.0" x2="139.2" y2="268.3"/><line x1="201.0" y1="153.8" x2="196.4" y2="162.3"/><line x1="111.8" y1="227.2" x2="110.3" y2="222.0"/><line x1="91.2" y1="253.4" x2="86.9" y2="258.2"/><line x1="66.2" y1="250.8" x2="59.1" y2="254.0"/><line x1="163.3" y1="160.4" x2="174.0" y2="151.6"/><line x1="148.9" y1="255.9" x2="150.8" y2="248.6"/><line x1="165.2" y1="166.8" x2="177.0" y2="174.1"/><line x1="120.5" y1="220.1" x2="128.8" y2="224.1"/><line x1="169.0" y1="104.6" x2="159.9" y2="111.0"/><line x1="185.0" y1="155.0" x2="186.1" y2="167.5"/><line x1="142.8" y1="131.0" x2="149.2" y2="133.3"/><line x1="96.2" y1="270.7" x2="104.7" y2="271.0"/><line x1="98.4" y1="208.6" x2="99.9" y2="217.8"/><line x1="157.6" y1="250.6" x2="161.1" y2="257.5"/><line x1="103.2" y1="237.1" x2="101.4" y2="229.6"/><line x1="103.2" y1="237.1" x2="109.7" y2="239.7"/><line x1="136.3" y1="263.6" x2="139.2" y2="268.3"/><line x1="113.0" y1="214.5" x2="110.3" y2="222.0"/><line x1="192.5" y1="175.3" x2="207.8" y2="172.5"/><line x1="96.8" y1="184.7" x2="106.8" y2="186.5"/><line x1="133.3" y1="268.0" x2="129.7" y2="262.4"/><line x1="119.1" y1="279.3" x2="125.9" y2="273.3"/><line x1="120.6" y1="232.3" x2="124.5" y2="239.7"/><line x1="104.4" y1="253.4" x2="96.5" y2="251.5"/><line x1="149.6" y1="118.5" x2="155.3" y2="125.3"/><line x1="98.4" y1="208.6" x2="101.5" y2="203.3"/><line x1="128.4" y1="199.9" x2="120.8" y2="199.8"/><line x1="165.2" y1="166.8" x2="164.5" y2="175.3"/><line x1="113.6" y1="200.1" x2="120.8" y2="199.8"/><line x1="101.5" y1="203.3" x2="100.7" y2="197.7"/><line x1="74.0" y1="216.0" x2="79.1" y2="219.9"/><line x1="123.7" y1="205.0" x2="131.7" y2="204.1"/><line x1="120.5" y1="220.1" x2="110.3" y2="222.0"/><line x1="136.3" y1="263.6" x2="129.7" y2="262.4"/><line x1="128.7" y1="213.4" x2="134.6" y2="214.2"/><line x1="70.1" y1="244.1" x2="63.3" y2="246.0"/><line x1="96.8" y1="184.7" x2="102.5" y2="191.2"/><line x1="55.3" y1="248.8" x2="49.9" y2="242.1"/><line x1="148.9" y1="255.9" x2="147.3" y2="262.4"/><line x1="84.4" y1="253.4" x2="84.9" y2="246.2"/><line x1="159.9" y1="111.0" x2="168.6" y2="119.0"/><line x1="153.5" y1="156.6" x2="152.6" y2="168.0"/><line x1="78.8" y1="265.1" x2="76.3" y2="258.2"/><line x1="110.3" y1="222.0" x2="107.5" y2="217.0"/><line x1="163.3" y1="160.4" x2="165.2" y2="166.8"/><line x1="217.6" y1="168.0" x2="223.8" y2="173.2"/><line x1="113.6" y1="200.1" x2="106.6" y2="207.0"/><line x1="129.2" y1="242.3" x2="130.2" y2="232.7"/><line x1="63.2" y1="258.5" x2="66.2" y2="250.8"/><line x1="123.7" y1="205.0" x2="120.8" y2="199.8"/><line x1="128.7" y1="213.4" x2="123.7" y2="205.0"/><line x1="185.0" y1="155.0" x2="196.4" y2="162.3"/><line x1="148.9" y1="255.9" x2="150.7" y2="266.6"/><line x1="160.0" y1="229.2" x2="152.7" y2="234.8"/><line x1="94.5" y1="218.6" x2="100.0" y2="223.3"/><line x1="150.7" y1="266.6" x2="146.3" y2="271.5"/><line x1="150.7" y1="266.6" x2="154.5" y2="257.9"/><line x1="133.3" y1="268.0" x2="136.3" y2="263.6"/><line x1="69.5" y1="255.5" x2="76.3" y2="258.2"/><line x1="100.7" y1="197.7" x2="107.9" y2="195.6"/><line x1="97.7" y1="239.6" x2="105.0" y2="242.6"/><line x1="65.8" y1="221.4" x2="70.2" y2="210.9"/><line x1="147.3" y1="262.4" x2="146.3" y2="271.5"/><line x1="147.3" y1="262.4" x2="154.5" y2="257.9"/><line x1="87.1" y1="227.9" x2="86.3" y2="218.0"/><line x1="128.7" y1="213.4" x2="131.7" y2="204.1"/><line x1="154.7" y1="110.5" x2="145.8" y2="117.3"/><line x1="56.0" y1="232.6" x2="61.9" y2="227.9"/><line x1="87.1" y1="227.9" x2="92.0" y2="225.7"/><line x1="62.4" y1="234.3" x2="56.0" y2="232.6"/><line x1="213.0" y1="129.2" x2="206.7" y2="133.8"/><line x1="56.0" y1="232.6" x2="63.7" y2="240.0"/><line x1="145.9" y1="230.7" x2="139.9" y2="230.9"/><line x1="133.3" y1="268.0" x2="128.1" y2="278.3"/><line x1="213.0" y1="129.2" x2="207.3" y2="139.0"/><line x1="154.4" y1="244.4" x2="164.4" y2="248.4"/><line x1="153.5" y1="156.6" x2="145.1" y2="167.5"/><line x1="69.5" y1="255.5" x2="77.7" y2="252.6"/><line x1="63.7" y1="240.0" x2="57.9" y2="242.1"/><line x1="152.6" y1="168.0" x2="165.2" y2="166.8"/><line x1="150.8" y1="248.6" x2="141.5" y2="246.7"/><line x1="91.2" y1="253.4" x2="91.7" y2="245.3"/><line x1="113.5" y1="192.5" x2="107.9" y2="195.6"/><line x1="217.6" y1="168.0" x2="207.8" y2="172.5"/><line x1="113.6" y1="200.1" x2="112.0" y2="207.1"/><line x1="106.5" y1="248.4" x2="114.9" y2="245.0"/><line x1="130.2" y1="232.7" x2="124.5" y2="239.7"/><line x1="160.0" y1="229.2" x2="157.2" y2="238.3"/><line x1="63.3" y1="246.0" x2="59.1" y2="254.0"/><line x1="145.9" y1="230.7" x2="144.5" y2="221.6"/><line x1="122.7" y1="256.9" x2="129.8" y2="253.5"/><line x1="139.2" y1="222.0" x2="128.8" y2="224.1"/><line x1="116.7" y1="210.3" x2="123.7" y2="205.0"/><line x1="120.5" y1="220.1" x2="113.0" y2="214.5"/><line x1="87.1" y1="227.9" x2="81.1" y2="229.4"/><line x1="87.7" y1="240.6" x2="81.0" y2="238.3"/><line x1="129.7" y1="262.4" x2="129.8" y2="253.5"/><line x1="160.0" y1="229.2" x2="158.8" y2="223.2"/><line x1="149.7" y1="220.5" x2="158.8" y2="223.2"/><line x1="154.4" y1="244.4" x2="149.4" y2="239.6"/><line x1="108.9" y1="265.0" x2="116.9" y2="261.5"/><line x1="63.3" y1="246.0" x2="57.9" y2="242.1"/><line x1="93.6" y1="189.4" x2="100.7" y2="197.7"/><line x1="81.0" y1="238.3" x2="77.8" y2="233.8"/><line x1="120.8" y1="199.8" x2="126.6" y2="193.9"/><line x1="121.2" y1="250.1" x2="114.1" y2="254.7"/><line x1="96.2" y1="270.7" x2="93.1" y2="265.0"/><line x1="55.3" y1="248.8" x2="59.1" y2="254.0"/><line x1="106.0" y1="225.3" x2="101.4" y2="229.6"/><line x1="79.6" y1="203.3" x2="70.9" y2="198.9"/><line x1="145.8" y1="117.3" x2="149.6" y2="118.5"/><line x1="107.9" y1="195.6" x2="106.8" y2="186.5"/><line x1="101.7" y1="258.4" x2="108.9" y2="265.0"/><line x1="116.7" y1="210.3" x2="113.0" y2="214.5"/><line x1="74.0" y1="216.0" x2="70.2" y2="210.9"/><line x1="142.6" y1="258.9" x2="147.3" y2="262.4"/><line x1="154.4" y1="244.4" x2="157.6" y2="250.6"/><line x1="149.7" y1="220.5" x2="145.9" y2="230.7"/><line x1="205.5" y1="152.5" x2="211.2" y2="158.9"/><line x1="79.6" y1="203.3" x2="80.9" y2="197.6"/><line x1="111.8" y1="227.2" x2="106.0" y2="225.3"/><line x1="91.2" y1="253.4" x2="96.5" y2="251.5"/><line x1="63.2" y1="258.5" x2="55.3" y2="248.8"/><line x1="222.2" y1="155.0" x2="231.0" y2="162.7"/><line x1="139.2" y1="222.0" x2="139.9" y2="230.9"/><line x1="231.0" y1="162.7" x2="234.7" y2="169.8"/><line x1="84.4" y1="253.4" x2="86.9" y2="258.2"/><line x1="65.8" y1="221.4" x2="61.9" y2="227.9"/><line x1="130.2" y1="232.7" x2="120.6" y2="232.3"/><line x1="107.9" y1="195.6" x2="102.5" y2="191.2"/><line x1="55.3" y1="248.8" x2="57.9" y2="242.1"/><line x1="101.4" y1="229.6" x2="100.0" y2="223.3"/><line x1="101.7" y1="258.4" x2="104.4" y2="253.4"/><line x1="74.0" y1="216.0" x2="68.3" y2="205.9"/><line x1="145.9" y1="230.7" x2="152.7" y2="234.8"/><line x1="79.6" y1="203.3" x2="86.1" y2="201.8"/><line x1="70.1" y1="244.1" x2="73.2" y2="236.8"/><line x1="157.6" y1="250.6" x2="164.1" y2="242.5"/><line x1="93.1" y1="265.0" x2="87.0" y2="265.6"/><line x1="139.2" y1="222.0" x2="134.6" y2="214.2"/><line x1="144.4" y1="192.6" x2="155.0" y2="205.8"/><line x1="70.2" y1="210.9" x2="68.3" y2="205.9"/><line x1="75.3" y1="193.7" x2="80.3" y2="184.0"/><line x1="70.9" y1="198.9" x2="68.3" y2="205.9"/><line x1="139.2" y1="222.0" x2="144.5" y2="221.6"/><line x1="196.4" y1="162.3" x2="186.1" y2="167.5"/><line x1="120.6" y1="232.3" x2="116.0" y2="238.1"/><line x1="140.7" y1="236.4" x2="145.9" y2="230.7"/><line x1="73.5" y1="230.0" x2="73.2" y2="236.8"/><line x1="149.2" y1="133.3" x2="146.9" y2="144.0"/><line x1="100.0" y1="223.3" x2="99.9" y2="217.8"/><line x1="124.3" y1="245.7" x2="121.2" y2="250.1"/><line x1="70.9" y1="198.9" x2="80.9" y2="197.6"/><line x1="78.8" y1="265.1" x2="87.0" y2="265.6"/><line x1="133.0" y1="120.1" x2="141.0" y2="122.8"/><line x1="149.4" y1="239.6" x2="157.2" y2="238.3"/><line x1="114.9" y1="245.0" x2="116.0" y2="238.1"/><line x1="196.4" y1="162.3" x2="192.5" y2="175.3"/><line x1="140.7" y1="236.4" x2="141.5" y2="246.7"/><line x1="100.7" y1="197.7" x2="102.5" y2="191.2"/><line x1="96.2" y1="270.7" x2="89.9" y2="270.7"/><line x1="113.8" y1="273.3" x2="119.1" y2="279.3"/><line x1="100.0" y1="223.3" x2="92.0" y2="225.7"/><line x1="113.5" y1="192.5" x2="106.8" y2="186.5"/><line x1="122.7" y1="256.9" x2="129.7" y2="262.4"/><line x1="63.3" y1="246.0" x2="66.2" y2="250.8"/><line x1="94.5" y1="218.6" x2="86.3" y2="218.0"/><line x1="87.7" y1="240.6" x2="91.7" y2="245.3"/><line x1="79.6" y1="203.3" x2="79.1" y2="212.2"/><line x1="198.2" y1="122.8" x2="206.7" y2="133.8"/><line x1="49.9" y1="242.1" x2="57.9" y2="242.1"/><line x1="70.1" y1="244.1" x2="63.7" y2="240.0"/><line x1="150.8" y1="248.6" x2="154.4" y2="244.4"/><line x1="142.1" y1="108.7" x2="149.6" y2="118.5"/><line x1="121.1" y1="265.2" x2="129.7" y2="262.4"/><line x1="101.7" y1="258.4" x2="93.1" y2="265.0"/><line x1="81.1" y1="229.4" x2="81.0" y2="238.3"/><line x1="79.1" y1="212.2" x2="70.2" y2="210.9"/><line x1="181.6" y1="139.9" x2="174.0" y2="151.6"/><line x1="164.5" y1="175.3" x2="177.0" y2="174.1"/><line x1="61.9" y1="227.9" x2="68.0" y2="231.0"/><line x1="120.3" y1="189.3" x2="126.6" y2="193.9"/><line x1="170.6" y1="113.7" x2="168.6" y2="119.0"/><line x1="124.3" y1="245.7" x2="114.9" y2="245.0"/><line x1="142.1" y1="108.7" x2="154.7" y2="110.5"/><line x1="79.1" y1="219.9" x2="71.9" y2="222.2"/><line x1="87.0" y1="265.6" x2="86.9" y2="258.2"/><line x1="133.3" y1="268.0" x2="125.9" y2="273.3"/><line x1="114.9" y1="245.0" x2="109.7" y2="239.7"/><line x1="206.7" y1="133.8" x2="216.9" y2="142.4"/><line x1="124.5" y1="239.7" x2="116.0" y2="238.1"/><line x1="86.1" y1="201.8" x2="80.9" y2="197.6"/><line x1="144.4" y1="192.6" x2="126.6" y2="193.9"/><line x1="197.5" y1="147.5" x2="201.0" y2="153.8"/><line x1="130.2" y1="232.7" x2="128.8" y2="224.1"/><line x1="87.6" y1="188.8" x2="87.6" y2="196.4"/><line x1="113.0" y1="214.5" x2="107.5" y2="217.0"/><line x1="177.0" y1="174.1" x2="186.1" y2="167.5"/><line x1="148.9" y1="255.9" x2="142.6" y2="258.9"/><line x1="105.0" y1="242.6" x2="106.5" y2="248.4"/><line x1="62.4" y1="234.3" x2="61.9" y2="227.9"/><line x1="170.6" y1="113.7" x2="175.9" y2="127.4"/><line x1="142.1" y1="108.7" x2="145.8" y2="117.3"/><line x1="62.4" y1="234.3" x2="63.7" y2="240.0"/><line x1="121.1" y1="265.2" x2="122.7" y2="256.9"/><line x1="135.3" y1="255.4" x2="129.8" y2="253.5"/><line x1="135.6" y1="281.4" x2="128.1" y2="278.3"/><line x1="93.6" y1="189.4" x2="87.6" y2="196.4"/><line x1="201.0" y1="153.8" x2="211.2" y2="158.9"/><line x1="163.3" y1="160.4" x2="152.6" y2="168.0"/><line x1="149.4" y1="239.6" x2="141.5" y2="246.7"/><line x1="206.7" y1="133.8" x2="207.3" y2="139.0"/><line x1="113.5" y1="192.5" x2="120.3" y2="189.3"/><line x1="112.0" y1="207.1" x2="113.0" y2="214.5"/><line x1="234.7" y1="169.8" x2="223.8" y2="173.2"/><line x1="94.7" y1="230.5" x2="92.0" y2="225.7"/><line x1="79.6" y1="203.3" x2="75.3" y2="193.7"/><line x1="97.7" y1="239.6" x2="87.7" y2="240.6"/><line x1="121.1" y1="265.2" x2="113.8" y2="273.3"/><line x1="97.7" y1="239.6" x2="94.7" y2="230.5"/><line x1="185.0" y1="128.8" x2="192.5" y2="132.6"/><line x1="87.0" y1="265.6" x2="89.9" y2="270.7"/><line x1="139.2" y1="268.3" x2="146.3" y2="271.5"/><line x1="152.7" y1="234.8" x2="157.2" y2="238.3"/><line x1="114.9" y1="245.0" x2="114.1" y2="254.7"/></g><circle cx="169.0" cy="104.6" r="2.65" fill="#2a6fd0"/><circle cx="142.1" cy="108.7" r="2.65" fill="#2a6fd0"/><circle cx="154.7" cy="110.5" r="2.65" fill="#2a6fd0"/><circle cx="159.9" cy="111.0" r="2.65" fill="#2a6fd0"/><circle cx="170.6" cy="113.7" r="2.65" fill="#2a6fd0"/><circle cx="133.0" cy="120.1" r="2.65" fill="#2a6fd0"/><circle cx="145.8" cy="117.3" r="2.65" fill="#2a6fd0"/><circle cx="149.6" cy="118.5" r="2.65" fill="#2a6fd0"/><circle cx="168.6" cy="119.0" r="2.65" fill="#2a6fd0"/><circle cx="141.0" cy="122.8" r="2.65" fill="#2a6fd0"/><circle cx="155.3" cy="125.3" r="2.65" fill="#2a6fd0"/><circle cx="142.8" cy="131.0" r="2.65" fill="#2a6fd0"/><circle cx="149.2" cy="133.3" r="2.65" fill="#2a6fd0"/><circle cx="146.9" cy="144.0" r="2.65" fill="#2a6fd0"/><circle cx="153.5" cy="156.6" r="2.65" fill="#2a6fd0"/><circle cx="163.3" cy="160.4" r="2.65" fill="#2a6fd0"/><circle cx="145.1" cy="167.5" r="2.65" fill="#2a6fd0"/><circle cx="152.6" cy="168.0" r="2.65" fill="#2a6fd0"/><circle cx="165.2" cy="166.8" r="2.65" fill="#2a6fd0"/><circle cx="164.5" cy="175.3" r="2.65" fill="#2a6fd0"/><circle cx="151.2" cy="180.5" r="2.65" fill="#2a6fd0"/><circle cx="175.9" cy="127.4" r="2.65" fill="#8cc84b"/><circle cx="185.0" cy="128.8" r="2.65" fill="#8cc84b"/><circle cx="198.2" cy="122.8" r="2.65" fill="#8cc84b"/><circle cx="192.5" cy="132.6" r="2.65" fill="#8cc84b"/><circle cx="213.0" cy="129.2" r="2.65" fill="#8cc84b"/><circle cx="206.7" cy="133.8" r="2.65" fill="#8cc84b"/><circle cx="181.6" cy="139.9" r="2.65" fill="#8cc84b"/><circle cx="174.0" cy="151.6" r="2.65" fill="#8cc84b"/><circle cx="185.0" cy="155.0" r="2.65" fill="#8cc84b"/><circle cx="197.5" cy="147.5" r="2.65" fill="#8cc84b"/><circle cx="205.5" cy="152.5" r="2.65" fill="#8cc84b"/><circle cx="211.7" cy="145.2" r="2.65" fill="#8cc84b"/><circle cx="177.0" cy="174.1" r="2.65" fill="#8cc84b"/><circle cx="209.4" cy="124.2" r="2.65" fill="#cfc22a"/><circle cx="207.3" cy="139.0" r="2.65" fill="#cfc22a"/><circle cx="198.7" cy="141.8" r="2.65" fill="#3a9f3a"/><circle cx="201.0" cy="153.8" r="2.65" fill="#3a9f3a"/><circle cx="196.4" cy="162.3" r="2.65" fill="#3a9f3a"/><circle cx="186.1" cy="167.5" r="2.65" fill="#3a9f3a"/><circle cx="216.9" cy="142.4" r="2.65" fill="#d33a35"/><circle cx="231.0" cy="140.6" r="2.65" fill="#d33a35"/><circle cx="229.5" cy="147.0" r="2.65" fill="#d33a35"/><circle cx="222.2" cy="155.0" r="2.65" fill="#d33a35"/><circle cx="238.1" cy="155.0" r="2.65" fill="#d33a35"/><circle cx="211.2" cy="158.9" r="2.65" fill="#d33a35"/><circle cx="231.0" cy="162.7" r="2.65" fill="#d33a35"/><circle cx="217.6" cy="168.0" r="2.65" fill="#d33a35"/><circle cx="234.7" cy="169.8" r="2.65" fill="#d33a35"/><circle cx="207.8" cy="172.5" r="2.65" fill="#d33a35"/><circle cx="223.8" cy="173.2" r="2.65" fill="#d33a35"/><circle cx="220.3" cy="177.6" r="2.65" fill="#d33a35"/><circle cx="192.5" cy="175.3" r="2.65" fill="#d33a35"/><circle cx="144.4" cy="192.6" r="2.65" fill="#86bdf0"/><circle cx="121.8" cy="166.1" r="2.65" fill="#86bdf0"/><circle cx="155.0" cy="205.8" r="2.65" fill="#d393db"/><circle cx="168.2" cy="207.6" r="2.65" fill="#d393db"/><circle cx="196.8" cy="235.7" r="2.65" fill="#2ba4b4"/><circle cx="97.7" cy="239.6" r="2.65" fill="#2ba4b4"/><circle cx="160.0" cy="229.2" r="2.65" fill="#2ba4b4"/><circle cx="105.0" cy="242.6" r="2.65" fill="#a8dde9"/><circle cx="62.4" cy="234.3" r="2.65" fill="#a8dde9"/><circle cx="121.1" cy="265.2" r="2.65" fill="#a8dde9"/><circle cx="124.3" cy="245.7" r="2.65" fill="#2ba4b4"/><circle cx="96.2" cy="270.7" r="2.65" fill="#a8dde9"/><circle cx="106.5" cy="248.4" r="2.65" fill="#a8dde9"/><circle cx="98.4" cy="208.6" r="2.65" fill="#a8dde9"/><circle cx="148.9" cy="255.9" r="2.65" fill="#2ba4b4"/><circle cx="79.6" cy="203.3" r="2.65" fill="#a8dde9"/><circle cx="139.2" cy="222.0" r="2.65" fill="#2ba4b4"/><circle cx="149.7" cy="220.5" r="2.65" fill="#2ba4b4"/><circle cx="111.8" cy="227.2" r="2.65" fill="#a8dde9"/><circle cx="63.2" cy="258.5" r="2.65" fill="#a8dde9"/><circle cx="55.3" cy="248.8" r="2.65" fill="#a8dde9"/><circle cx="65.8" cy="221.4" r="2.65" fill="#a8dde9"/><circle cx="150.8" cy="248.6" r="2.65" fill="#2ba4b4"/><circle cx="49.9" cy="242.1" r="2.65" fill="#a8dde9"/><circle cx="70.1" cy="244.1" r="2.65" fill="#a8dde9"/><circle cx="87.1" cy="227.9" r="2.65" fill="#a8dde9"/><circle cx="113.8" cy="273.3" r="2.65" fill="#a8dde9"/><circle cx="70.9" cy="198.9" r="2.65" fill="#a8dde9"/><circle cx="135.6" cy="281.4" r="2.65" fill="#a8dde9"/><circle cx="154.4" cy="244.4" r="2.65" fill="#2ba4b4"/><circle cx="93.6" cy="189.4" r="2.65" fill="#a8dde9"/><circle cx="69.5" cy="255.5" r="2.65" fill="#a8dde9"/><circle cx="116.7" cy="210.3" r="2.65" fill="#a8dde9"/><circle cx="96.8" cy="184.7" r="2.65" fill="#a8dde9"/><circle cx="113.5" cy="192.5" r="2.65" fill="#a8dde9"/><circle cx="129.2" cy="242.3" r="2.65" fill="#2ba4b4"/><circle cx="101.7" cy="258.4" r="2.65" fill="#2ba4b4"/><circle cx="135.3" cy="255.4" r="2.65" fill="#2ba4b4"/><circle cx="84.4" cy="253.4" r="2.65" fill="#a8dde9"/><circle cx="93.1" cy="265.0" r="2.65" fill="#a8dde9"/><circle cx="120.5" cy="220.1" r="2.65" fill="#2ba4b4"/><circle cx="114.9" cy="245.0" r="2.65" fill="#a8dde9"/><circle cx="135.0" cy="241.9" r="2.65" fill="#2ba4b4"/><circle cx="101.5" cy="203.3" r="2.65" fill="#a8dde9"/><circle cx="130.2" cy="232.7" r="2.65" fill="#a8dde9"/><circle cx="119.1" cy="279.3" r="2.65" fill="#a8dde9"/><circle cx="77.7" cy="252.6" r="2.65" fill="#a8dde9"/><circle cx="157.6" cy="250.6" r="2.65" fill="#2ba4b4"/><circle cx="56.0" cy="232.6" r="2.65" fill="#a8dde9"/><circle cx="120.6" cy="232.3" r="2.65" fill="#a8dde9"/><circle cx="78.8" cy="265.1" r="2.65" fill="#a8dde9"/><circle cx="121.2" cy="250.1" r="2.65" fill="#a8dde9"/><circle cx="128.4" cy="199.9" r="2.65" fill="#a8dde9"/><circle cx="100.7" cy="197.7" r="2.65" fill="#a8dde9"/><circle cx="74.0" cy="216.0" r="2.65" fill="#a8dde9"/><circle cx="161.1" cy="257.5" r="2.65" fill="#2ba4b4"/><circle cx="87.7" cy="240.6" r="2.65" fill="#a8dde9"/><circle cx="133.3" cy="268.0" r="2.65" fill="#a8dde9"/><circle cx="122.7" cy="256.9" r="2.65" fill="#a8dde9"/><circle cx="108.9" cy="265.0" r="2.65" fill="#a8dde9"/><circle cx="76.3" cy="258.2" r="2.65" fill="#a8dde9"/><circle cx="149.4" cy="239.6" r="2.65" fill="#2ba4b4"/><circle cx="79.1" cy="219.9" r="2.65" fill="#a8dde9"/><circle cx="113.6" cy="200.1" r="2.65" fill="#a8dde9"/><circle cx="108.7" cy="233.3" r="2.65" fill="#a8dde9"/><circle cx="73.5" cy="230.0" r="2.65" fill="#a8dde9"/><circle cx="63.3" cy="246.0" r="2.65" fill="#a8dde9"/><circle cx="128.7" cy="213.4" r="2.65" fill="#2ba4b4"/><circle cx="84.9" cy="246.2" r="2.65" fill="#a8dde9"/><circle cx="107.9" cy="195.6" r="2.65" fill="#a8dde9"/><circle cx="91.2" cy="253.4" r="2.65" fill="#a8dde9"/><circle cx="128.1" cy="278.3" r="2.65" fill="#a8dde9"/><circle cx="104.4" cy="253.4" r="2.65" fill="#a8dde9"/><circle cx="81.1" cy="229.4" r="2.65" fill="#a8dde9"/><circle cx="106.0" cy="225.3" r="2.65" fill="#a8dde9"/><circle cx="61.9" cy="227.9" r="2.65" fill="#a8dde9"/><circle cx="136.3" cy="263.6" r="2.65" fill="#2ba4b4"/><circle cx="129.7" cy="262.4" r="2.65" fill="#2ba4b4"/><circle cx="71.9" cy="222.2" r="2.65" fill="#a8dde9"/><circle cx="87.6" cy="188.8" r="2.65" fill="#a8dde9"/><circle cx="116.9" cy="261.5" r="2.65" fill="#a8dde9"/><circle cx="86.3" cy="209.4" r="2.65" fill="#a8dde9"/><circle cx="124.5" cy="239.7" r="2.65" fill="#2ba4b4"/><circle cx="94.7" cy="230.5" r="2.65" fill="#a8dde9"/><circle cx="96.5" cy="251.5" r="2.65" fill="#a8dde9"/><circle cx="140.7" cy="236.4" r="2.65" fill="#2ba4b4"/><circle cx="141.5" cy="246.7" r="2.65" fill="#2ba4b4"/><circle cx="120.3" cy="189.3" r="2.65" fill="#a8dde9"/><circle cx="81.0" cy="238.3" r="2.65" fill="#a8dde9"/><circle cx="94.5" cy="218.6" r="2.65" fill="#a8dde9"/><circle cx="66.2" cy="250.8" r="2.65" fill="#a8dde9"/><circle cx="75.3" cy="193.7" r="2.65" fill="#a8dde9"/><circle cx="86.3" cy="218.0" r="2.65" fill="#a8dde9"/><circle cx="63.7" cy="240.0" r="2.65" fill="#a8dde9"/><circle cx="123.7" cy="205.0" r="2.65" fill="#2ba4b4"/><circle cx="103.2" cy="237.1" r="2.65" fill="#a8dde9"/><circle cx="158.8" cy="223.2" r="2.65" fill="#2ba4b4"/><circle cx="150.7" cy="266.6" r="2.65" fill="#2ba4b4"/><circle cx="164.4" cy="248.4" r="2.65" fill="#2ba4b4"/><circle cx="87.6" cy="196.4" r="2.65" fill="#a8dde9"/><circle cx="145.9" cy="230.7" r="2.65" fill="#2ba4b4"/><circle cx="87.0" cy="265.6" r="2.65" fill="#a8dde9"/><circle cx="152.7" cy="234.8" r="2.65" fill="#2ba4b4"/><circle cx="73.2" cy="236.8" r="2.65" fill="#a8dde9"/><circle cx="101.4" cy="229.6" r="2.65" fill="#a8dde9"/><circle cx="164.1" cy="242.5" r="2.65" fill="#2ba4b4"/><circle cx="79.1" cy="212.2" r="2.65" fill="#a8dde9"/><circle cx="131.7" cy="204.1" r="2.65" fill="#2ba4b4"/><circle cx="134.6" cy="214.2" r="2.65" fill="#2ba4b4"/><circle cx="139.2" cy="268.3" r="2.65" fill="#2ba4b4"/><circle cx="157.2" cy="238.3" r="2.65" fill="#2ba4b4"/><circle cx="120.8" cy="199.8" r="2.65" fill="#a8dde9"/><circle cx="114.1" cy="254.7" r="2.65" fill="#a8dde9"/><circle cx="109.7" cy="239.7" r="2.65" fill="#2ba4b4"/><circle cx="112.0" cy="207.1" r="2.65" fill="#a8dde9"/><circle cx="106.6" cy="207.0" r="2.65" fill="#2ba4b4"/><circle cx="113.0" cy="214.5" r="2.65" fill="#2ba4b4"/><circle cx="126.6" cy="193.9" r="2.65" fill="#a8dde9"/><circle cx="100.0" cy="223.3" r="2.65" fill="#2ba4b4"/><circle cx="92.0" cy="225.7" r="2.65" fill="#a8dde9"/><circle cx="80.3" cy="184.0" r="2.65" fill="#a8dde9"/><circle cx="125.9" cy="273.3" r="2.65" fill="#a8dde9"/><circle cx="70.2" cy="210.9" r="2.65" fill="#a8dde9"/><circle cx="104.7" cy="271.0" r="2.65" fill="#a8dde9"/><circle cx="59.1" cy="254.0" r="2.65" fill="#a8dde9"/><circle cx="86.1" cy="201.8" r="2.65" fill="#a8dde9"/><circle cx="68.3" cy="205.9" r="2.65" fill="#a8dde9"/><circle cx="89.9" cy="270.7" r="2.65" fill="#a8dde9"/><circle cx="57.9" cy="242.1" r="2.65" fill="#a8dde9"/><circle cx="129.8" cy="253.5" r="2.65" fill="#2ba4b4"/><circle cx="80.9" cy="197.6" r="2.65" fill="#a8dde9"/><circle cx="139.9" cy="230.9" r="2.65" fill="#2ba4b4"/><circle cx="128.8" cy="224.1" r="2.65" fill="#2ba4b4"/><circle cx="102.5" cy="191.2" r="2.65" fill="#a8dde9"/><circle cx="68.0" cy="231.0" r="2.65" fill="#a8dde9"/><circle cx="144.5" cy="221.6" r="2.65" fill="#2ba4b4"/><circle cx="45.6" cy="238.6" r="2.65" fill="#a8dde9"/><circle cx="142.6" cy="258.9" r="2.65" fill="#2ba4b4"/><circle cx="147.3" cy="262.4" r="2.65" fill="#2ba4b4"/><circle cx="91.2" cy="213.4" r="2.65" fill="#a8dde9"/><circle cx="146.3" cy="271.5" r="2.65" fill="#a8dde9"/><circle cx="116.0" cy="238.1" r="2.65" fill="#2ba4b4"/><circle cx="99.9" cy="217.8" r="2.65" fill="#a8dde9"/><circle cx="77.8" cy="233.8" r="2.65" fill="#a8dde9"/><circle cx="91.7" cy="245.3" r="2.65" fill="#a8dde9"/><circle cx="110.3" cy="222.0" r="2.65" fill="#a8dde9"/><circle cx="86.9" cy="258.2" r="2.65" fill="#a8dde9"/><circle cx="106.8" cy="186.5" r="2.65" fill="#a8dde9"/><circle cx="107.5" cy="217.0" r="2.65" fill="#2ba4b4"/><circle cx="154.5" cy="257.9" r="2.65" fill="#2ba4b4"/><g fill="#fff" fill-opacity="0.8" font-size="2.3" text-anchor="middle"><text x="169.0" y="105.4">1</text><text x="142.1" y="109.5">38</text><text x="154.7" y="111.3">75</text><text x="159.9" y="111.8">112</text><text x="170.6" y="114.5">149</text><text x="133.0" y="120.9">10</text><text x="145.8" y="118.1">47</text><text x="149.6" y="119.3">84</text><text x="168.6" y="119.8">121</text><text x="141.0" y="123.6">158</text><text x="155.3" y="126.1">19</text><text x="142.8" y="131.8">56</text><text x="149.2" y="134.1">93</text><text x="146.9" y="144.8">130</text><text x="153.5" y="157.4">167</text><text x="163.3" y="161.2">28</text><text x="145.1" y="168.3">65</text><text x="152.6" y="168.8">102</text><text x="165.2" y="167.6">139</text><text x="164.5" y="176.1">176</text><text x="151.2" y="181.3">37</text><text x="175.9" y="128.2">74</text><text x="185.0" y="129.6">111</text><text x="198.2" y="123.6">148</text><text x="192.5" y="133.4">9</text><text x="213.0" y="130.0">46</text><text x="206.7" y="134.6">83</text><text x="181.6" y="140.7">120</text><text x="174.0" y="152.4">157</text><text x="185.0" y="155.8">18</text><text x="197.5" y="148.3">55</text><text x="205.5" y="153.3">92</text><text x="211.7" y="146.0">129</text><text x="177.0" y="174.9">166</text><text x="209.4" y="125.0">27</text><text x="207.3" y="139.8">64</text><text x="198.7" y="142.6">101</text><text x="201.0" y="154.6">138</text><text x="196.4" y="163.1">175</text><text x="186.1" y="168.3">36</text><text x="216.9" y="143.2">73</text><text x="231.0" y="141.4">110</text><text x="229.5" y="147.8">147</text><text x="222.2" y="155.8">8</text><text x="238.1" y="155.8">45</text><text x="211.2" y="159.7">82</text><text x="231.0" y="163.5">119</text><text x="217.6" y="168.8">156</text><text x="234.7" y="170.6">17</text><text x="207.8" y="173.3">54</text><text x="223.8" y="174.0">91</text><text x="220.3" y="178.4">128</text><text x="192.5" y="176.1">165</text><text x="144.4" y="193.4">26</text><text x="121.8" y="166.9">63</text><text x="155.0" y="206.6">100</text><text x="168.2" y="208.4">137</text><text x="196.8" y="236.5">174</text><text x="97.7" y="240.4">35</text><text x="160.0" y="230.0">72</text><text x="105.0" y="243.4">109</text><text x="62.4" y="235.1">146</text><text x="121.1" y="266.0">7</text><text x="124.3" y="246.5">44</text><text x="96.2" y="271.5">81</text><text x="106.5" y="249.2">118</text><text x="98.4" y="209.4">155</text><text x="148.9" y="256.7">16</text><text x="79.6" y="204.1">53</text><text x="139.2" y="222.8">90</text><text x="149.7" y="221.3">127</text><text x="111.8" y="228.0">164</text><text x="63.2" y="259.3">25</text><text x="55.3" y="249.6">62</text><text x="65.8" y="222.2">99</text><text x="150.8" y="249.4">136</text><text x="49.9" y="242.9">173</text><text x="70.1" y="244.9">34</text><text x="87.1" y="228.7">71</text><text x="113.8" y="274.1">108</text><text x="70.9" y="199.7">145</text><text x="135.6" y="282.2">6</text><text x="154.4" y="245.2">43</text><text x="93.6" y="190.2">80</text><text x="69.5" y="256.3">117</text><text x="116.7" y="211.1">154</text><text x="96.8" y="185.5">15</text><text x="113.5" y="193.3">52</text><text x="129.2" y="243.1">89</text><text x="101.7" y="259.2">126</text><text x="135.3" y="256.2">163</text><text x="84.4" y="254.2">24</text><text x="93.1" y="265.8">61</text><text x="120.5" y="220.9">98</text><text x="114.9" y="245.8">135</text><text x="135.0" y="242.7">172</text><text x="101.5" y="204.1">33</text><text x="130.2" y="233.5">70</text><text x="119.1" y="280.1">107</text><text x="77.7" y="253.4">144</text><text x="157.6" y="251.4">5</text><text x="56.0" y="233.4">42</text><text x="120.6" y="233.1">79</text><text x="78.8" y="265.9">116</text><text x="121.2" y="250.9">153</text><text x="128.4" y="200.7">14</text><text x="100.7" y="198.5">51</text><text x="74.0" y="216.8">88</text><text x="161.1" y="258.3">125</text><text x="87.7" y="241.4">162</text><text x="133.3" y="268.8">23</text><text x="122.7" y="257.7">60</text><text x="108.9" y="265.8">97</text><text x="76.3" y="259.0">134</text><text x="149.4" y="240.4">171</text><text x="79.1" y="220.7">32</text><text x="113.6" y="200.9">69</text><text x="108.7" y="234.1">106</text><text x="73.5" y="230.8">143</text><text x="63.3" y="246.8">4</text><text x="128.7" y="214.2">41</text><text x="84.9" y="247.0">78</text><text x="107.9" y="196.4">115</text><text x="91.2" y="254.2">152</text><text x="128.1" y="279.1">13</text><text x="104.4" y="254.2">50</text><text x="81.1" y="230.2">87</text><text x="106.0" y="226.1">124</text><text x="61.9" y="228.7">161</text><text x="136.3" y="264.4">22</text><text x="129.7" y="263.2">59</text><text x="71.9" y="223.0">96</text><text x="87.6" y="189.6">133</text><text x="116.9" y="262.3">170</text><text x="86.3" y="210.2">31</text><text x="124.5" y="240.5">68</text><text x="94.7" y="231.3">105</text><text x="96.5" y="252.3">142</text><text x="140.7" y="237.2">3</text><text x="141.5" y="247.5">40</text><text x="120.3" y="190.1">77</text><text x="81.0" y="239.1">114</text><text x="94.5" y="219.4">151</text><text x="66.2" y="251.6">12</text><text x="75.3" y="194.5">49</text><text x="86.3" y="218.8">86</text><text x="63.7" y="240.8">123</text><text x="123.7" y="205.8">160</text><text x="103.2" y="237.9">21</text><text x="158.8" y="224.0">58</text><text x="150.7" y="267.4">95</text><text x="164.4" y="249.2">132</text><text x="87.6" y="197.2">169</text><text x="145.9" y="231.5">30</text><text x="87.0" y="266.4">67</text><text x="152.7" y="235.6">104</text><text x="73.2" y="237.6">141</text><text x="101.4" y="230.4">2</text><text x="164.1" y="243.3">39</text><text x="79.1" y="213.0">76</text><text x="131.7" y="204.9">113</text><text x="134.6" y="215.0">150</text><text x="139.2" y="269.1">11</text><text x="157.2" y="239.1">48</text><text x="120.8" y="200.6">85</text><text x="114.1" y="255.5">122</text><text x="109.7" y="240.5">159</text><text x="112.0" y="207.9">20</text><text x="106.6" y="207.8">57</text><text x="113.0" y="215.3">94</text><text x="126.6" y="194.7">131</text><text x="100.0" y="224.1">168</text><text x="92.0" y="226.5">29</text><text x="80.3" y="184.8">66</text><text x="125.9" y="274.1">103</text><text x="70.2" y="211.7">140</text><text x="104.7" y="271.8">1</text><text x="59.1" y="254.8">38</text><text x="86.1" y="202.6">75</text><text x="68.3" y="206.7">112</text><text x="89.9" y="271.5">149</text><text x="57.9" y="242.9">10</text><text x="129.8" y="254.3">47</text><text x="80.9" y="198.4">84</text><text x="139.9" y="231.7">121</text><text x="128.8" y="224.9">158</text><text x="102.5" y="192.0">19</text><text x="68.0" y="231.8">56</text><text x="144.5" y="222.4">93</text><text x="45.6" y="239.4">130</text><text x="142.6" y="259.7">167</text><text x="147.3" y="263.2">28</text><text x="91.2" y="214.2">65</text><text x="146.3" y="272.3">102</text><text x="116.0" y="238.9">139</text><text x="99.9" y="218.6">176</text><text x="77.8" y="234.6">37</text><text x="91.7" y="246.1">74</text><text x="110.3" y="222.8">111</text><text x="86.9" y="259.0">148</text><text x="106.8" y="187.3">9</text><text x="107.5" y="217.8">46</text><text x="154.5" y="258.7">83</text></g><text transform="translate(28.5,365.4) rotate(-45)" font-size="6.75"><tspan font-weight="bold" fill="#d03535">Endoderm</tspan><tspan fill="#d85555"> (1-13)</tspan></text><text transform="translate(38.8,365.4) rotate(-45)" font-size="6.75"><tspan font-weight="bold" fill="#b4ad2a">Muscular somites</tspan><tspan fill="#c0b840"> (14-15)</tspan></text><text transform="translate(50.3,365.4) rotate(-45)" font-size="6.75"><tspan font-weight="bold" fill="#4f9b35">Mesoderm</tspan><tspan fill="#5aa040"> (16-32)</tspan></text><text transform="translate(59.8,365.4) rotate(-45)" font-size="6.75"><tspan font-weight="bold" fill="#2a62c8">Neural-like</tspan><tspan fill="#3a70d0"> (33-34)</tspan></text><text transform="translate(70.6,365.4) rotate(-45)" font-size="6.75"><tspan font-weight="bold" fill="#2050b8">Neural</tspan><tspan fill="#3a68c8"> (35-55)</tspan></text><text transform="translate(86.1,365.4) rotate(-45)" font-size="6.75"><tspan font-weight="bold" fill="#c26fd6">Epidermal/neural</tspan><tspan fill="#c880d8"> (56-57)</tspan></text><text transform="translate(95.2,365.4) rotate(-45)" font-size="6.75"><tspan font-weight="bold" fill="#1d8796">Anterior epidermis</tspan><tspan fill="#2a8f9c"> (58-94)</tspan></text><text transform="translate(132.0,365.4) rotate(-45)" font-size="6.75"><tspan font-weight="bold" fill="#3daac4">Posterior epidermis</tspan><tspan fill="#55b5cc"> (95-176)</tspan></text><text x="22.8" y="371.7" font-size="6.7" fill="#000" stroke="#000" stroke-width="0.13" text-anchor="end">Cell</text><text x="22.8" y="377.6" font-size="6.7" fill="#000" stroke="#000" stroke-width="0.13" text-anchor="end">types</text><rect x="25.5" y="367.6" width="13.90" height="4.8" fill="#d33a35"/><rect x="39.4" y="367.6" width="2.30" height="4.8" fill="#cfc22a"/><rect x="41.7" y="367.6" width="18.80" height="4.8" fill="#8cc84b"/><rect x="60.5" y="367.6" width="2.20" height="4.8" fill="#86bdf0"/><rect x="62.7" y="367.6" width="23.30" height="4.8" fill="#3a8ee0"/><rect x="86.0" y="367.6" width="2.40" height="4.8" fill="#d393db"/><rect x="88.4" y="367.6" width="40.80" height="4.8" fill="#2ba4b4"/><rect x="129.6" y="367.6" width="90.40" height="4.8" fill="#a8dde9"/><rect x="25.4" y="641.5" width="1.50" height="4.9" fill="#e06565"/><rect x="26.9" y="641.5" width="8.00" height="4.9" fill="#d33a35"/><rect x="34.9" y="641.5" width="2.50" height="4.9" fill="#e06565"/><rect x="37.4" y="641.5" width="2.40" height="4.9" fill="#d33a35"/><rect x="39.8" y="641.5" width="1.90" height="4.9" fill="#cfc22a"/><rect x="41.7" y="641.5" width="4.30" height="4.9" fill="#3aa03a"/><rect x="46.0" y="641.5" width="11.00" height="4.9" fill="#8cc84b"/><rect x="57.0" y="641.5" width="3.30" height="4.9" fill="#3aa03a"/><rect x="60.3" y="641.5" width="2.20" height="4.9" fill="#86bdf0"/><rect x="62.5" y="641.5" width="2.50" height="4.9" fill="#1f3f9e"/><rect x="65.0" y="641.5" width="17.80" height="4.9" fill="#3a8ee0"/><rect x="82.8" y="641.5" width="2.50" height="4.9" fill="#1f3f9e"/><rect x="85.3" y="641.5" width="1.20" height="4.9" fill="#86bdf0"/><rect x="86.5" y="641.5" width="1.50" height="4.9" fill="#d393db"/><rect x="88.3" y="641.5" width="40.90" height="4.9" fill="#2ba4b4"/><rect x="129.6" y="641.5" width="90.20" height="4.9" fill="#a8dde9"/><g fill="none" stroke="#6a6a6a" stroke-width="0.5"><rect x="25.7" y="374.3" width="194.3" height="265"/><line x1="39.5" y1="374.3" x2="39.5" y2="639.3"/><line x1="42.6" y1="374.3" x2="42.6" y2="639.3"/><line x1="60.7" y1="374.3" x2="60.7" y2="639.3"/><line x1="63.9" y1="374.3" x2="63.9" y2="639.3"/><line x1="86.8" y1="374.3" x2="86.8" y2="639.3"/><line x1="88.6" y1="374.3" x2="88.6" y2="639.3"/><line x1="129.3" y1="374.3" x2="129.3" y2="639.3"/></g><line x1="25.7" y1="374.3" x2="25.7" y2="639.3" stroke="#444" stroke-width="0.7"/><g fill="#a8a8a8" fill-opacity="0.22"><rect x="39.6" y="374.3" width="2.90" height="265"/><rect x="60.8" y="374.3" width="3.00" height="265"/><rect x="86.9" y="374.3" width="1.60" height="265"/></g><text transform="translate(21.7,534.5) rotate(-90)" font-size="6.7">840 marker genes</text><text x="222.3" y="387.2" font-size="6.7" fill="#3aa9c6" stroke="#3aa9c6" stroke-width="0.13" font-style="italic">Bhlh-like</text><text x="222.3" y="393.8" font-size="6.7" fill="#3aa9c6" stroke="#3aa9c6" stroke-width="0.13" font-style="italic">HairyG</text><text x="222.3" y="410.5" font-size="6.7" fill="#3aa9c6" stroke="#3aa9c6" stroke-width="0.13" font-style="italic">HairyC</text><text x="222.3" y="416.8" font-size="6.7" fill="#3aa9c6" stroke="#3aa9c6" stroke-width="0.13" font-style="italic">HairyD</text><text x="222.3" y="428.8" font-size="6.7" fill="#3aa9c6" stroke="#3aa9c6" stroke-width="0.13" font-style="italic">Evxa</text><text x="222.3" y="437.6" font-size="6.7" fill="#3aa9c6" stroke="#3aa9c6" stroke-width="0.13" font-style="italic">HairyE</text><text x="222.3" y="454.4" font-size="6.7" fill="#3aa9c6" stroke="#3aa9c6" stroke-width="0.13" font-style="italic">Acsl1/2/5/6a</text><text x="222.3" y="460.2" font-size="6.7" fill="#3aa9c6" stroke="#3aa9c6" stroke-width="0.13" font-style="italic">Tbx6/16</text><text x="222.3" y="466.0" font-size="6.7" fill="#3aa9c6" stroke="#3aa9c6" stroke-width="0.13" font-style="italic">Dlx</text><text x="222.3" y="477.6" font-size="6.7" fill="#23899a" stroke="#23899a" stroke-width="0.13" font-style="italic">HairyB</text><text x="222.3" y="483.8" font-size="6.7" fill="#23899a" stroke="#23899a" stroke-width="0.13" font-style="italic">Foxq2</text><text x="222.3" y="489.3" font-size="6.7" fill="#23899a" stroke="#23899a" stroke-width="0.13" font-style="italic">Dlx2</text><text x="222.3" y="503.0" font-size="6.7" fill="#1e8493" font-style="italic" font-weight="bold">Tmprss15</text><text x="222.3" y="524.6" font-size="6.7" fill="#2448a8" stroke="#2448a8" stroke-width="0.13" font-style="italic">Muxb</text><text x="222.3" y="530.4" font-size="6.7" fill="#2448a8" stroke="#2448a8" stroke-width="0.13" font-style="italic">Pax4/6</text><text x="222.3" y="536.6" font-size="6.7" fill="#1c3a98" font-style="italic" font-weight="bold">Ctfp1</text><text x="222.3" y="542.4" font-size="6.7" fill="#1c3a98" font-style="italic" font-weight="bold">Tcf15-like</text><text x="222.3" y="548.0" font-size="6.7" fill="#2448a8" stroke="#2448a8" stroke-width="0.13" font-style="italic">Pou3fl</text><text x="222.3" y="553.8" font-size="6.7" fill="#2448a8" stroke="#2448a8" stroke-width="0.13" font-style="italic">Elav</text><text x="222.3" y="560.0" font-size="6.7" fill="#2448a8" stroke="#2448a8" stroke-width="0.13" font-style="italic">Hey-related</text><text x="222.3" y="566.4" font-size="6.7" fill="#2a7d2a" font-style="italic" font-weight="bold">Otp</text><text x="222.3" y="574.4" font-size="6.7" fill="#3f9b3f" stroke="#3f9b3f" stroke-width="0.13" font-style="italic">Nobox</text><text x="222.3" y="579.8" font-size="6.7" fill="#3f9b3f" stroke="#3f9b3f" stroke-width="0.13" font-style="italic">Vent1, Vent2</text><text x="222.3" y="586.0" font-size="6.7" fill="#3f9b3f" stroke="#3f9b3f" stroke-width="0.13" font-style="italic">Foxaa, Foxab</text><text x="222.3" y="591.8" font-size="6.7" fill="#3f9b3f" stroke="#3f9b3f" stroke-width="0.13" font-style="italic">Soxe</text><text x="222.3" y="597.7" font-size="6.7" fill="#2a7d2a" font-style="italic" font-weight="bold">Tenascin</text><text x="222.3" y="604.2" font-size="6.7" fill="#a9a435" stroke="#a9a435" stroke-width="0.13" font-style="italic">Myk</text><text x="222.3" y="610.2" font-size="6.7" fill="#a9a435" stroke="#a9a435" stroke-width="0.13" font-style="italic">MLC-alk</text><text x="222.3" y="618.2" font-size="6.7" fill="#a3222a" font-style="italic" font-weight="bold">Plac8-like</text><text x="222.3" y="623.6" font-size="6.7" fill="#b8323a" stroke="#b8323a" stroke-width="0.13" font-style="italic">Isl</text><text x="222.3" y="629.3" font-size="6.7" fill="#b8323a" stroke="#b8323a" stroke-width="0.13" font-style="italic">Foxe</text><text x="222.3" y="635.1" font-size="6.7" fill="#b8323a" stroke="#b8323a" stroke-width="0.13" font-style="italic">Nkx2.1</text><text x="222.3" y="640.9" font-size="6.7" fill="#b8323a" stroke="#b8323a" stroke-width="0.13" font-style="italic">Otx</text><text x="11.3" y="661.7" font-size="6.7" fill="#c03a3a" stroke="#c03a3a" stroke-width="0.13">Endostyle</text><text x="15.9" y="668.1" font-size="6.7" fill="#2f8f2f" stroke="#2f8f2f" stroke-width="0.13">Notochord</text><text x="30.8" y="674.5" font-size="6.7" fill="#84c44a" stroke="#84c44a" stroke-width="0.13">Somites</text><text x="54.6" y="674.5" font-size="6.7" fill="#2f8f2f" stroke="#2f8f2f" stroke-width="0.13">Tailbud</text><text x="65.6" y="668.1" font-size="6.7" fill="#1f3f9e" stroke="#1f3f9e" stroke-width="0.13">Cerebral vesicle</text><text x="81.4" y="661.7" font-size="6.7" fill="#4a9be6" stroke="#4a9be6" stroke-width="0.13">Neural plate</text><path d="M30.5,656 C29.5,653 27.5,652 27.6,649" fill="none" stroke="#c03a3a" stroke-width="0.6"/><polygon points="27.6,647.6 28.9,649.7 26.7,649.9" fill="#c03a3a"/><path d="M32.8,656 C33.5,653 35.8,652 35.7,649" fill="none" stroke="#c03a3a" stroke-width="0.6"/><polygon points="35.7,647.6 36.6,649.9 34.4,649.7" fill="#c03a3a"/><path d="M42.5,663 C43,658 44,653 44.1,649" fill="none" stroke="#2f8f2f" stroke-width="0.6"/><polygon points="44.1,647.6 45.1,649.8 42.9,649.8" fill="#2f8f2f"/><path d="M49.5,669 C50,662 51.3,655 51.5,649" fill="none" stroke="#84c44a" stroke-width="0.6"/><polygon points="51.5,647.6 52.5,649.8 50.3,649.8" fill="#84c44a"/><path d="M61.5,669 C61,662 59.8,655 59.5,649" fill="none" stroke="#2f8f2f" stroke-width="0.6"/><polygon points="59.5,647.6 60.7,649.8 58.5,649.8" fill="#2f8f2f"/><path d="M74.5,659 C72,655 65,654 64.4,649" fill="none" stroke="#1f3f9e" stroke-width="0.6"/><polygon points="64.4,647.6 66.0,649.4 63.9,650.0" fill="#1f3f9e"/><path d="M74.5,659 C77,655 83,654 83.4,649" fill="none" stroke="#1f3f9e" stroke-width="0.6"/><polygon points="83.4,647.6 83.9,650.0 81.8,649.4" fill="#1f3f9e"/><path d="M74.2,655.5 L74.2,649" fill="none" stroke="#4a9be6" stroke-width="0.6"/><polygon points="74.2,647.6 75.3,649.8 73.1,649.8" fill="#4a9be6"/><defs><linearGradient id="gfc" x1="0" x2="1"><stop offset="0" stop-color="#ffffff"/><stop offset="0.33" stop-color="#fbb45c"/><stop offset="0.62" stop-color="#e2361a"/><stop offset="0.82" stop-color="#8a1530"/><stop offset="1" stop-color="#3c0a44"/></linearGradient></defs><rect x="141.5" y="657.3" width="27" height="5.4" fill="url(#gfc)" stroke="#777" stroke-width="0.4"/><line x1="141.9" y1="662.7" x2="141.9" y2="664" stroke="#333" stroke-width="0.4"/><text x="141.9" y="671.0" font-size="6.7" fill="#000" stroke="#000" stroke-width="0.13" text-anchor="middle">1</text><line x1="150.9" y1="662.7" x2="150.9" y2="664" stroke="#333" stroke-width="0.4"/><text x="150.9" y="671.0" font-size="6.7" fill="#000" stroke="#000" stroke-width="0.13" text-anchor="middle">2</text><line x1="159.6" y1="662.7" x2="159.6" y2="664" stroke="#333" stroke-width="0.4"/><text x="159.6" y="671.0" font-size="6.7" fill="#000" stroke="#000" stroke-width="0.13" text-anchor="middle">3</text><line x1="168.4" y1="662.7" x2="168.4" y2="664" stroke="#333" stroke-width="0.4"/><text x="168.4" y="671.0" font-size="6.7" fill="#000" stroke="#000" stroke-width="0.13" text-anchor="middle">4</text><text x="170.7" y="662.4" font-size="6.7" fill="#000" stroke="#000" stroke-width="0.13">Expression FC</text><text x="335.7" y="17.8" font-size="6.7" fill="#000" stroke="#000" stroke-width="0.13" text-anchor="middle">Single-cell transcriptomes</text><text x="335.2" y="24.3" font-size="6.7" fill="#000" stroke="#000" stroke-width="0.13" text-anchor="middle"><tspan font-style="italic">n</tspan> = 14,585 cells</text><path d="M336.2,55.6 L342.16,36.09 A20.4,20.4 0 0 1 350.19,40.75 Z" fill="#d33a35" stroke="#fff" stroke-width="0.5" stroke-linejoin="round"/><path d="M336.2,55.6 L350.19,40.75 A20.4,20.4 0 0 1 356.53,57.29 Z" fill="#3a8ee0" stroke="#fff" stroke-width="0.5" stroke-linejoin="round"/><path d="M336.2,55.6 L356.53,57.29 A20.4,20.4 0 0 1 356.34,58.82 Z" fill="#d6cd3a" stroke="#fff" stroke-width="0.5" stroke-linejoin="round"/><path d="M336.2,55.6 L356.34,58.82 A20.4,20.4 0 0 1 350.24,70.40 Z" fill="#8cc84b" stroke="#fff" stroke-width="0.5" stroke-linejoin="round"/><path d="M336.2,55.6 L350.24,70.40 A20.4,20.4 0 0 1 318.21,45.97 Z" fill="#a6dce8" stroke="#fff" stroke-width="0.5" stroke-linejoin="round"/><path d="M336.2,55.6 L318.21,45.97 A20.4,20.4 0 0 1 342.16,36.09 Z" fill="#2ea6b6" stroke="#fff" stroke-width="0.5" stroke-linejoin="round"/><text x="312.6" y="40.6" font-size="6.7" fill="#2ea3b5" stroke="#2ea3b5" stroke-width="0.13" text-anchor="end">Anterior</text><text x="312.6" y="47.0" font-size="6.7" fill="#2ea3b5" stroke="#2ea3b5" stroke-width="0.13" text-anchor="end">epidermis</text><text x="312.6" y="53.5" font-size="6.7" fill="#2ea3b5" stroke="#2ea3b5" stroke-width="0.13" text-anchor="end">21.9%</text><text x="312.8" y="63.4" font-size="6.7" fill="#3eb0c6" stroke="#3eb0c6" stroke-width="0.13" text-anchor="end">Posterior</text><text x="312.8" y="69.9" font-size="6.7" fill="#3eb0c6" stroke="#3eb0c6" stroke-width="0.13" text-anchor="end">epidermis</text><text x="312.8" y="76.6" font-size="6.7" fill="#3eb0c6" stroke="#3eb0c6" stroke-width="0.13" text-anchor="end">44.9%</text><path d="M285.3,80.2 C285.6,81.2 286.3,81.5 287.5,81.5 L312,81.5 C313.2,81.5 313.8,81.2 314.1,80.2" fill="none" stroke="#2a7f8f" stroke-width="0.6"/><text x="299.4" y="89.3" font-size="6.7" fill="#2a7f8f" stroke="#2a7f8f" stroke-width="0.13" text-anchor="middle">66.8%</text><text x="353.9" y="40.7" font-size="6.7" fill="#c83535" stroke="#c83535" stroke-width="0.13">Endoderm: 7.3%</text><text x="357.5" y="55.0" font-size="6.7" fill="#2a62c0" stroke="#2a62c0" stroke-width="0.13">Neural: 14.3%</text><text x="356.0" y="62.7" font-size="6.7" fill="#a9a435" stroke="#a9a435" stroke-width="0.13">Muscular somites: 1.2%</text><text x="354.6" y="70.2" font-size="6.7" fill="#4f9b35" stroke="#4f9b35" stroke-width="0.13">Mesoderm: 10.4%</text><text x="469.0" y="17.8" font-size="6.7" fill="#000" stroke="#000" stroke-width="0.13" text-anchor="middle">Experimental cell counting</text><text x="469.5" y="24.3" font-size="6.7" fill="#000" stroke="#000" stroke-width="0.13" text-anchor="middle"><tspan font-style="italic">n</tspan> = 8,982 cells</text><path d="M469.2,55.4 L469.20,35.20 A20.2,20.2 0 0 1 486.71,45.34 Z" fill="#d33a35" stroke="#fff" stroke-width="0.5" stroke-linejoin="round"/><path d="M469.2,55.4 L486.71,45.34 A20.2,20.2 0 0 1 487.58,63.77 Z" fill="#3a8ee0" stroke="#fff" stroke-width="0.5" stroke-linejoin="round"/><path d="M469.2,55.4 L487.58,63.77 A20.2,20.2 0 0 1 478.71,73.22 Z" fill="#8cc84b" stroke="#fff" stroke-width="0.5" stroke-linejoin="round"/><path d="M469.2,55.4 L478.71,73.22 A20.2,20.2 0 1 1 469.20,35.20 Z" fill="#a6dce8" stroke="#fff" stroke-width="0.5" stroke-linejoin="round"/><text x="486.4" y="40.6" font-size="6.7" fill="#c83535" stroke="#c83535" stroke-width="0.13">Endoderm: 16.7%</text><text x="490.8" y="57.4" font-size="6.7" fill="#2a62c0" stroke="#2a62c0" stroke-width="0.13">Neural: 15.1%</text><text x="486.4" y="74.0" font-size="6.7" fill="#4f9b35" stroke="#4f9b35" stroke-width="0.13">Mesoderm: 10.4%</text><text x="440.5" y="83.5" font-size="6.7" fill="#3a9aae" stroke="#3a9aae" stroke-width="0.13">Epidermis: 57.8%</text><path d="M438.1,88.3 L441,91.1 L495.5,91.1 L498.5,88.3" fill="none" stroke="#333" stroke-width="0.55"/><line x1="469.0" y1="91.1" x2="469.0" y2="101.9" stroke="#111" stroke-width="0.65"/><polygon points="469.0,105.8 467.2,101.9 470.8,101.9" fill="#111"/><text x="287.0" y="134.5" font-size="6.7" fill="#3b7fd0" stroke="#3b7fd0" stroke-width="0.13">Neural</text><text x="348.7" y="139.2" font-size="6.7" fill="#e2c12c" stroke="#e2c12c" stroke-width="0.13">Mesoderm</text><text x="348.7" y="149.0" font-size="6.7" fill="#3fb03f" stroke="#3fb03f" stroke-width="0.13">Notochord</text><text x="348.8" y="161.0" font-size="6.7" fill="#d9534f" stroke="#d9534f" stroke-width="0.13">Endoderm</text><text x="312.8" y="176.7" font-size="6.7" fill="#7fd6e4" stroke="#7fd6e4" stroke-width="0.13">Epidermis</text><text x="288.6" y="194.3" font-size="6.7" fill="#ffffff" stroke="#ffffff" stroke-width="0.13">40μm</text><rect x="291" y="197.1" width="14.8" height="1.2" fill="#cfcfcf"/><defs><filter id="b1" x="-50%" y="-50%" width="200%" height="200%"><feGaussianBlur stdDeviation="1.2"/></filter><filter id="b2" x="-50%" y="-50%" width="200%" height="200%"><feGaussianBlur stdDeviation="2.2"/></filter><filter id="b3" x="-50%" y="-50%" width="200%" height="200%"><feGaussianBlur stdDeviation="3.5"/></filter><filter id="b4" x="-50%" y="-50%" width="200%" height="200%"><feGaussianBlur stdDeviation="5.5"/></filter><filter id="b05" x="-50%" y="-50%" width="200%" height="200%"><feGaussianBlur stdDeviation="0.6"/></filter><filter id="grain" x="0" y="0" width="100%" height="100%"><feTurbulence type="fractalNoise" baseFrequency="0.85" numOctaves="2" seed="4"/><feColorMatrix type="matrix" values="0 0 0 0 0.18  0 0 0 0 0.12  0 0 0 0 0.2  1.8 0 0 0 -0.82"/></filter><linearGradient id="umi" x1="0" x2="1"><stop offset="0" stop-color="#ffffff"/><stop offset="0.3" stop-color="#fff6ea"/><stop offset="0.5" stop-color="#fcb848"/><stop offset="0.72" stop-color="#e8401a"/><stop offset="0.88" stop-color="#901030"/><stop offset="1" stop-color="#3c0a44"/></linearGradient></defs><text x="314.8" y="250.8" font-size="6.7" fill="#000" stroke="#000" stroke-width="0.13" text-anchor="middle"><tspan font-style="italic">Tcf15-like</tspan>, neural</text><text x="314.8" y="257.5" font-size="6.7" fill="#000" stroke="#000" stroke-width="0.13" text-anchor="middle">(BLAG10000671)</text><text x="409.0" y="250.8" font-size="6.7" fill="#000" stroke="#000" stroke-width="0.13" text-anchor="middle"><tspan font-style="italic">Plac8-like</tspan>, endoderm</text><text x="409.0" y="257.5" font-size="6.7" fill="#000" stroke="#000" stroke-width="0.13" text-anchor="middle">(BLAG07000527)</text><text x="503.7" y="250.8" font-size="6.7" fill="#000" stroke="#000" stroke-width="0.13" text-anchor="middle"><tspan font-style="italic">Tmprss15</tspan>, anterior epidermis</text><text x="503.7" y="257.5" font-size="6.7" fill="#000" stroke="#000" stroke-width="0.13" text-anchor="middle">(BLAG18000493)</text><text x="314.7" y="474.8" font-size="6.7" fill="#000" stroke="#000" stroke-width="0.13" text-anchor="middle"><tspan font-style="italic">Ctfp1</tspan>, cerebral vesicle</text><text x="314.7" y="480.8" font-size="6.7" fill="#000" stroke="#000" stroke-width="0.13" text-anchor="middle">(BLAG03000807)</text><text x="409.0" y="474.8" font-size="6.7" fill="#000" stroke="#000" stroke-width="0.13" text-anchor="middle"><tspan font-style="italic">Tenascin</tspan>, notochord</text><text x="409.0" y="480.8" font-size="6.7" fill="#000" stroke="#000" stroke-width="0.13" text-anchor="middle">(BLAG08000835)</text><text x="503.7" y="474.8" font-size="6.7" fill="#000" stroke="#000" stroke-width="0.13" text-anchor="middle"><tspan font-style="italic">Notum</tspan>, tailbud</text><text x="503.7" y="480.8" font-size="6.7" fill="#000" stroke="#000" stroke-width="0.13" text-anchor="middle">(BLAG09000671)</text><defs><g id="mg"><g stroke="#939393" stroke-width="0.45"><line x1="311.0" y1="428.2" x2="313.8" y2="430.1"/><line x1="298.5" y1="421.5" x2="295.9" y2="420.7"/><line x1="296.5" y1="412.7" x2="299.3" y2="409.6"/><line x1="284.7" y1="417.8" x2="283.8" y2="420.3"/><line x1="284.5" y1="423.4" x2="283.8" y2="420.3"/><line x1="298.5" y1="421.5" x2="300.3" y2="420.2"/><line x1="298.7" y1="430.8" x2="297.8" y2="432.8"/><line x1="308.9" y1="424.5" x2="313.1" y2="423.8"/><line x1="352.2" y1="387.6" x2="351.6" y2="390.2"/><line x1="304.6" y1="407.1" x2="304.8" y2="411.3"/><line x1="344.5" y1="383.1" x2="342.9" y2="381.1"/><line x1="293.5" y1="418.8" x2="292.1" y2="416.7"/><line x1="318.9" y1="394.0" x2="323.1" y2="395.6"/><line x1="277.0" y1="424.4" x2="277.8" y2="428.2"/><line x1="323.5" y1="428.4" x2="320.5" y2="426.7"/><line x1="317.1" y1="427.2" x2="313.4" y2="426.0"/><line x1="308.5" y1="428.3" x2="311.0" y2="428.2"/><line x1="282.8" y1="433.6" x2="281.3" y2="431.7"/><line x1="286.3" y1="432.4" x2="285.7" y2="434.7"/><line x1="284.5" y1="423.4" x2="287.8" y2="423.1"/><line x1="281.2" y1="419.9" x2="282.2" y2="423.8"/><line x1="293.6" y1="423.6" x2="295.9" y2="420.7"/><line x1="295.2" y1="414.8" x2="292.1" y2="416.7"/><line x1="287.1" y1="412.7" x2="290.0" y2="415.2"/><line x1="317.7" y1="438.1" x2="316.2" y2="436.4"/><line x1="289.2" y1="432.7" x2="292.1" y2="432.7"/><line x1="290.0" y1="415.2" x2="292.1" y2="416.7"/><line x1="319.3" y1="429.2" x2="320.5" y2="426.7"/><line x1="301.7" y1="408.4" x2="301.8" y2="411.4"/><line x1="319.6" y1="413.7" x2="325.2" y2="414.4"/><line x1="308.0" y1="442.7" x2="307.0" y2="440.7"/><line x1="308.1" y1="411.4" x2="307.3" y2="409.0"/><line x1="293.6" y1="423.6" x2="296.5" y2="423.2"/><line x1="328.5" y1="382.4" x2="331.0" y2="387.4"/><line x1="329.0" y1="401.0" x2="323.6" y2="401.5"/><line x1="289.4" y1="429.9" x2="287.7" y2="426.7"/><line x1="313.1" y1="423.8" x2="315.0" y2="420.0"/><line x1="290.0" y1="415.2" x2="289.9" y2="412.1"/><line x1="319.3" y1="429.2" x2="323.5" y2="428.4"/><line x1="332.4" y1="382.9" x2="331.0" y2="387.4"/><line x1="293.2" y1="407.2" x2="290.6" y2="406.9"/><line x1="311.0" y1="428.2" x2="308.9" y2="424.5"/><line x1="294.9" y1="427.2" x2="292.3" y2="429.5"/><line x1="292.9" y1="437.4" x2="290.3" y2="434.7"/><line x1="298.1" y1="428.4" x2="297.3" y2="426.2"/><line x1="305.0" y1="431.4" x2="308.7" y2="432.8"/><line x1="308.1" y1="411.4" x2="306.1" y2="413.4"/><line x1="290.0" y1="418.6" x2="292.1" y2="416.7"/><line x1="294.4" y1="432.0" x2="292.3" y2="429.5"/><line x1="274.4" y1="428.2" x2="277.0" y2="424.4"/><line x1="299.7" y1="424.7" x2="297.3" y2="426.2"/><line x1="328.5" y1="382.4" x2="332.4" y2="382.9"/><line x1="299.7" y1="424.7" x2="296.5" y2="423.2"/><line x1="301.9" y1="440.7" x2="299.7" y2="437.4"/><line x1="287.8" y1="423.1" x2="286.4" y2="424.9"/><line x1="319.7" y1="381.5" x2="317.1" y2="384.7"/><line x1="301.0" y1="422.3" x2="299.7" y2="424.7"/><line x1="311.1" y1="433.6" x2="308.7" y2="436.4"/><line x1="317.9" y1="403.6" x2="315.0" y2="408.4"/><line x1="289.2" y1="432.7" x2="285.7" y2="434.7"/><line x1="293.5" y1="418.8" x2="295.9" y2="418.5"/><line x1="348.4" y1="393.4" x2="343.7" y2="395.0"/><line x1="317.7" y1="430.8" x2="317.1" y2="427.2"/><line x1="286.9" y1="419.4" x2="286.9" y2="416.3"/><line x1="318.5" y1="398.6" x2="317.9" y2="403.6"/><line x1="327.7" y1="392.0" x2="332.4" y2="393.4"/><line x1="284.4" y1="426.1" x2="282.2" y2="423.8"/><line x1="284.4" y1="426.1" x2="286.4" y2="424.9"/><line x1="346.5" y1="398.6" x2="347.6" y2="402.4"/><line x1="308.1" y1="411.4" x2="309.5" y2="413.0"/><line x1="290.6" y1="427.6" x2="289.4" y2="429.9"/><line x1="315.6" y1="378.3" x2="319.7" y2="381.5"/><line x1="286.8" y1="437.4" x2="290.3" y2="434.7"/><line x1="295.2" y1="414.8" x2="298.7" y2="414.2"/><line x1="313.4" y1="426.0" x2="313.1" y2="423.8"/><line x1="284.5" y1="423.4" x2="282.2" y2="423.8"/><line x1="319.6" y1="413.7" x2="321.2" y2="420.7"/><line x1="319.4" y1="375.6" x2="321.7" y2="375.8"/><line x1="284.5" y1="423.4" x2="286.4" y2="424.9"/><line x1="332.9" y1="398.4" x2="335.7" y2="401.5"/><line x1="290.0" y1="415.2" x2="286.9" y2="416.3"/><line x1="293.2" y1="407.2" x2="294.5" y2="405.3"/><line x1="293.5" y1="418.8" x2="292.5" y2="421.7"/><line x1="289.2" y1="432.7" x2="286.3" y2="432.4"/><line x1="310.8" y1="417.1" x2="308.3" y2="421.0"/><line x1="302.3" y1="429.4" x2="305.0" y2="431.4"/><line x1="306.4" y1="429.7" x2="306.4" y2="427.3"/><line x1="317.7" y1="430.8" x2="320.6" y2="431.6"/><line x1="335.7" y1="384.4" x2="331.0" y2="387.4"/><line x1="321.7" y1="375.8" x2="326.3" y2="376.9"/><line x1="343.9" y1="389.5" x2="346.2" y2="388.4"/><line x1="286.9" y1="419.4" x2="290.0" y2="418.6"/><line x1="335.7" y1="384.4" x2="338.3" y2="388.1"/><line x1="342.0" y1="387.0" x2="338.3" y2="388.1"/><line x1="292.9" y1="437.4" x2="291.5" y2="439.7"/><line x1="320.6" y1="431.6" x2="319.3" y2="434.6"/><line x1="299.7" y1="437.4" x2="297.9" y2="439.8"/><line x1="327.7" y1="392.0" x2="323.1" y2="395.6"/><line x1="313.5" y1="380.5" x2="314.3" y2="383.8"/><line x1="281.2" y1="419.9" x2="283.8" y2="420.3"/><line x1="295.9" y1="418.5" x2="299.1" y2="418.2"/><line x1="322.2" y1="434.4" x2="323.6" y2="430.8"/><line x1="309.5" y1="413.0" x2="310.8" y2="417.1"/><line x1="303.1" y1="415.5" x2="301.0" y2="414.2"/><line x1="309.5" y1="413.0" x2="307.3" y2="409.0"/><line x1="294.5" y1="405.3" x2="290.6" y2="406.9"/><line x1="351.6" y1="390.2" x2="355.3" y2="393.4"/><line x1="312.7" y1="420.2" x2="317.3" y2="419.6"/><line x1="296.6" y1="434.7" x2="294.4" y2="432.0"/><line x1="304.1" y1="443.1" x2="308.0" y2="442.7"/><line x1="290.0" y1="415.2" x2="290.0" y2="418.6"/><line x1="319.4" y1="375.6" x2="317.2" y2="378.8"/><line x1="311.1" y1="433.6" x2="311.5" y2="436.8"/><line x1="343.9" y1="389.5" x2="342.0" y2="387.0"/><line x1="342.0" y1="387.0" x2="346.2" y2="388.4"/><line x1="279.7" y1="425.1" x2="282.2" y2="423.8"/><line x1="318.5" y1="398.6" x2="323.6" y2="401.5"/><line x1="342.3" y1="400.4" x2="347.6" y2="402.4"/><line x1="286.8" y1="437.4" x2="291.5" y2="439.7"/><line x1="315.6" y1="378.3" x2="313.5" y2="380.5"/><line x1="284.7" y1="417.8" x2="286.9" y2="416.3"/><line x1="296.5" y1="412.7" x2="298.7" y2="414.2"/><line x1="301.0" y1="422.3" x2="304.8" y2="424.3"/><line x1="341.3" y1="392.4" x2="337.4" y2="396.3"/><line x1="338.1" y1="380.5" x2="342.9" y2="381.1"/><line x1="274.4" y1="428.2" x2="272.5" y2="426.8"/><line x1="305.7" y1="434.2" x2="302.0" y2="433.3"/><line x1="289.4" y1="429.9" x2="292.3" y2="429.5"/><line x1="280.1" y1="434.8" x2="282.8" y2="433.6"/><line x1="305.0" y1="437.5" x2="307.0" y2="440.7"/><line x1="297.0" y1="407.9" x2="298.8" y2="406.0"/><line x1="351.6" y1="390.2" x2="348.4" y2="393.4"/><line x1="290.3" y1="422.5" x2="293.6" y2="423.6"/><line x1="298.7" y1="430.8" x2="300.1" y2="427.3"/><line x1="305.7" y1="434.2" x2="303.2" y2="436.0"/><line x1="280.1" y1="429.8" x2="280.3" y2="427.4"/><line x1="320.6" y1="431.6" x2="323.6" y2="430.8"/><line x1="315.3" y1="398.4" x2="318.5" y2="398.6"/><line x1="305.0" y1="437.5" x2="303.2" y2="436.0"/><line x1="281.2" y1="419.9" x2="284.7" y2="417.8"/><line x1="304.7" y1="419.4" x2="308.2" y2="416.8"/><line x1="301.8" y1="411.4" x2="299.3" y2="409.6"/><line x1="337.8" y1="390.4" x2="338.3" y2="388.1"/><line x1="349.1" y1="400.7" x2="347.6" y2="402.4"/><line x1="306.4" y1="429.7" x2="308.5" y2="428.3"/><line x1="338.1" y1="380.5" x2="335.7" y2="384.4"/><line x1="341.3" y1="392.4" x2="339.3" y2="392.9"/><line x1="287.7" y1="426.7" x2="284.4" y2="426.1"/><line x1="311.1" y1="433.6" x2="314.2" y2="435.0"/><line x1="276.7" y1="430.9" x2="280.1" y2="429.8"/><line x1="290.6" y1="410.0" x2="287.7" y2="410.4"/><line x1="303.1" y1="415.5" x2="304.7" y2="419.4"/><line x1="341.8" y1="384.9" x2="342.9" y2="381.1"/><line x1="300.1" y1="427.3" x2="302.8" y2="426.6"/><line x1="301.0" y1="414.2" x2="298.7" y2="414.2"/><line x1="280.1" y1="434.8" x2="278.3" y2="433.0"/><line x1="316.9" y1="433.7" x2="322.2" y2="434.4"/><line x1="337.8" y1="390.4" x2="341.3" y2="392.4"/><line x1="299.7" y1="424.7" x2="302.8" y2="426.6"/><line x1="341.3" y1="392.4" x2="343.9" y2="389.5"/><line x1="290.6" y1="406.9" x2="287.4" y2="405.0"/><line x1="316.9" y1="433.7" x2="319.3" y2="434.6"/><line x1="287.1" y1="412.7" x2="282.3" y2="413.7"/><line x1="283.4" y1="411.0" x2="285.3" y2="408.9"/><line x1="305.0" y1="431.4" x2="305.7" y2="434.2"/><line x1="301.9" y1="440.7" x2="297.9" y2="439.8"/><line x1="303.2" y1="436.0" x2="302.0" y2="433.3"/><line x1="290.6" y1="410.0" x2="289.9" y2="412.1"/><line x1="285.3" y1="408.9" x2="287.7" y2="410.4"/><line x1="311.0" y1="428.2" x2="313.4" y2="426.0"/><line x1="310.1" y1="379.4" x2="315.6" y2="378.3"/><line x1="325.6" y1="373.2" x2="326.3" y2="376.9"/><line x1="314.3" y1="383.8" x2="316.1" y2="389.0"/><line x1="308.5" y1="428.3" x2="306.4" y2="427.3"/><line x1="322.2" y1="434.4" x2="319.3" y2="434.6"/><line x1="308.2" y1="416.8" x2="308.3" y2="421.0"/><line x1="355.3" y1="393.4" x2="352.2" y2="396.5"/><line x1="283.0" y1="429.1" x2="281.3" y2="431.7"/><line x1="311.5" y1="436.8" x2="314.2" y2="435.0"/><line x1="294.9" y1="427.2" x2="297.3" y2="426.2"/><line x1="277.0" y1="424.4" x2="272.5" y2="426.8"/><line x1="343.7" y1="395.0" x2="346.5" y2="398.6"/><line x1="297.8" y1="432.8" x2="302.0" y2="433.3"/><line x1="298.1" y1="428.4" x2="300.1" y2="427.3"/><line x1="317.1" y1="427.2" x2="318.6" y2="425.3"/><line x1="293.2" y1="407.2" x2="297.0" y2="407.9"/><line x1="294.2" y1="439.7" x2="290.3" y2="437.7"/><line x1="286.3" y1="432.4" x2="289.4" y2="429.9"/><line x1="298.5" y1="421.5" x2="299.1" y2="418.2"/><line x1="299.7" y1="424.7" x2="300.1" y2="427.3"/><line x1="325.4" y1="379.0" x2="328.5" y2="382.4"/><line x1="323.6" y1="430.8" x2="323.5" y2="428.4"/><line x1="317.3" y1="419.6" x2="315.0" y2="420.0"/><line x1="312.8" y1="438.7" x2="316.2" y2="436.4"/><line x1="310.2" y1="438.6" x2="312.8" y2="438.7"/><line x1="339.3" y1="392.9" x2="337.4" y2="396.3"/><line x1="301.0" y1="422.3" x2="300.3" y2="420.2"/><line x1="292.1" y1="432.7" x2="290.3" y2="434.7"/><line x1="281.3" y1="431.7" x2="278.3" y2="433.0"/><line x1="323.1" y1="395.6" x2="327.7" y2="392.0"/><line x1="316.9" y1="433.7" x2="317.7" y2="430.8"/><line x1="323.9" y1="398.1" x2="329.0" y2="401.0"/><line x1="304.7" y1="419.4" x2="308.3" y2="421.0"/><line x1="325.6" y1="373.2" x2="321.7" y2="375.8"/><line x1="332.4" y1="393.4" x2="332.9" y2="398.4"/><line x1="314.3" y1="383.8" x2="317.1" y2="384.7"/><line x1="294.2" y1="439.7" x2="297.9" y2="439.8"/><line x1="295.2" y1="414.8" x2="295.9" y2="418.5"/><line x1="320.6" y1="431.6" x2="322.2" y2="434.4"/><line x1="297.3" y1="426.2" x2="296.5" y2="423.2"/><line x1="297.3" y1="426.2" x2="300.1" y2="427.3"/><line x1="311.5" y1="436.8" x2="312.8" y2="438.7"/><line x1="301.5" y1="417.2" x2="300.3" y2="420.2"/><line x1="335.7" y1="401.5" x2="342.3" y2="400.4"/><line x1="294.5" y1="405.3" x2="298.8" y2="406.0"/><line x1="310.2" y1="438.6" x2="308.7" y2="436.4"/><line x1="304.1" y1="443.1" x2="307.0" y2="440.7"/><line x1="304.8" y1="424.3" x2="306.4" y2="427.3"/><line x1="297.8" y1="432.8" x2="294.4" y2="432.0"/><line x1="317.2" y1="378.8" x2="319.7" y2="381.5"/><line x1="295.2" y1="414.8" x2="296.5" y2="412.7"/><line x1="308.1" y1="411.4" x2="304.8" y2="411.3"/><line x1="323.9" y1="398.1" x2="323.6" y2="401.5"/><line x1="301.8" y1="411.4" x2="304.8" y2="411.3"/><line x1="296.5" y1="412.7" x2="296.2" y2="410.5"/><line x1="284.7" y1="417.8" x2="286.9" y2="419.4"/><line x1="306.1" y1="413.4" x2="309.5" y2="413.0"/><line x1="304.7" y1="419.4" x2="300.3" y2="420.2"/><line x1="311.5" y1="436.8" x2="308.7" y2="436.4"/><line x1="308.2" y1="416.8" x2="310.8" y2="417.1"/><line x1="283.0" y1="429.1" x2="280.1" y2="429.8"/><line x1="294.5" y1="405.3" x2="297.0" y2="407.9"/><line x1="276.7" y1="430.9" x2="274.4" y2="428.2"/><line x1="316.9" y1="433.7" x2="316.2" y2="436.4"/><line x1="289.2" y1="432.7" x2="289.4" y2="429.9"/><line x1="321.7" y1="375.8" x2="325.4" y2="379.0"/><line x1="318.9" y1="394.0" x2="318.5" y2="398.6"/><line x1="286.8" y1="437.4" x2="285.7" y2="434.7"/><line x1="300.3" y1="420.2" x2="299.1" y2="418.2"/><line x1="323.1" y1="395.6" x2="323.9" y2="398.1"/><line x1="346.5" y1="398.6" x2="349.1" y2="400.7"/><line x1="301.8" y1="411.4" x2="298.7" y2="414.2"/><line x1="308.5" y1="428.3" x2="308.9" y2="424.5"/><line x1="280.1" y1="434.8" x2="281.3" y2="431.7"/><line x1="306.1" y1="413.4" x2="304.8" y2="411.3"/><line x1="308.2" y1="416.8" x2="306.1" y2="413.4"/><line x1="332.4" y1="393.4" x2="337.4" y2="396.3"/><line x1="316.9" y1="433.7" x2="317.7" y2="438.1"/><line x1="321.7" y1="423.1" x2="318.6" y2="425.3"/><line x1="293.5" y1="418.8" x2="295.9" y2="420.7"/><line x1="317.7" y1="438.1" x2="315.8" y2="440.0"/><line x1="317.7" y1="438.1" x2="319.3" y2="434.6"/><line x1="310.2" y1="438.6" x2="311.5" y2="436.8"/><line x1="282.8" y1="433.6" x2="285.7" y2="434.7"/><line x1="296.2" y1="410.5" x2="299.3" y2="409.6"/><line x1="294.9" y1="427.2" x2="298.1" y2="428.4"/><line x1="281.2" y1="419.9" x2="283.1" y2="415.8"/><line x1="316.2" y1="436.4" x2="315.8" y2="440.0"/><line x1="316.2" y1="436.4" x2="319.3" y2="434.6"/><line x1="290.3" y1="422.5" x2="290.0" y2="418.6"/><line x1="308.2" y1="416.8" x2="309.5" y2="413.0"/><line x1="319.4" y1="375.6" x2="315.6" y2="378.3"/><line x1="277.0" y1="424.4" x2="279.5" y2="422.6"/><line x1="290.3" y1="422.5" x2="292.5" y2="421.7"/><line x1="279.7" y1="425.1" x2="277.0" y2="424.4"/><line x1="344.5" y1="383.1" x2="341.8" y2="384.9"/><line x1="277.0" y1="424.4" x2="280.3" y2="427.4"/><line x1="315.6" y1="423.7" x2="313.1" y2="423.8"/><line x1="310.2" y1="438.6" x2="308.0" y2="442.7"/><line x1="344.5" y1="383.1" x2="342.0" y2="387.0"/><line x1="319.3" y1="429.2" x2="323.6" y2="430.8"/><line x1="318.9" y1="394.0" x2="315.3" y2="398.4"/><line x1="282.8" y1="433.6" x2="286.3" y2="432.4"/><line x1="280.3" y1="427.4" x2="277.8" y2="428.2"/><line x1="318.5" y1="398.6" x2="323.9" y2="398.1"/><line x1="317.7" y1="430.8" x2="313.8" y2="430.1"/><line x1="292.1" y1="432.7" x2="292.3" y2="429.5"/><line x1="301.7" y1="408.4" x2="299.3" y2="409.6"/><line x1="346.5" y1="398.6" x2="342.3" y2="400.4"/><line x1="301.8" y1="411.4" x2="301.0" y2="414.2"/><line x1="298.7" y1="430.8" x2="302.3" y2="429.4"/><line x1="308.9" y1="424.5" x2="306.4" y2="427.3"/><line x1="321.7" y1="423.1" x2="320.5" y2="426.7"/><line x1="280.1" y1="429.8" x2="278.3" y2="433.0"/><line x1="315.6" y1="423.7" x2="315.0" y2="420.0"/><line x1="305.7" y1="434.2" x2="308.7" y2="432.8"/><line x1="312.7" y1="420.2" x2="308.3" y2="421.0"/><line x1="303.1" y1="415.5" x2="306.1" y2="413.4"/><line x1="304.7" y1="419.4" x2="301.5" y2="417.2"/><line x1="290.3" y1="422.5" x2="287.8" y2="423.1"/><line x1="290.6" y1="427.6" x2="287.7" y2="426.7"/><line x1="308.7" y1="436.4" x2="308.7" y2="432.8"/><line x1="321.7" y1="423.1" x2="321.2" y2="420.7"/><line x1="317.3" y1="419.6" x2="321.2" y2="420.7"/><line x1="319.3" y1="429.2" x2="317.1" y2="427.2"/><line x1="299.7" y1="437.4" x2="303.2" y2="436.0"/><line x1="280.1" y1="429.8" x2="277.8" y2="428.2"/><line x1="293.2" y1="407.2" x2="296.2" y2="410.5"/><line x1="287.7" y1="426.7" x2="286.4" y2="424.9"/><line x1="304.8" y1="411.3" x2="307.3" y2="409.0"/><line x1="305.0" y1="431.4" x2="302.0" y2="433.3"/><line x1="294.2" y1="439.7" x2="292.9" y2="437.4"/><line x1="276.7" y1="430.9" x2="278.3" y2="433.0"/><line x1="298.5" y1="421.5" x2="296.5" y2="423.2"/><line x1="287.1" y1="412.7" x2="283.4" y2="411.0"/><line x1="315.6" y1="378.3" x2="317.2" y2="378.8"/><line x1="299.3" y1="409.6" x2="298.8" y2="406.0"/><line x1="296.6" y1="434.7" x2="299.7" y2="437.4"/><line x1="303.1" y1="415.5" x2="301.5" y2="417.2"/><line x1="284.7" y1="417.8" x2="283.1" y2="415.8"/><line x1="314.2" y1="435.0" x2="316.2" y2="436.4"/><line x1="319.3" y1="429.2" x2="320.6" y2="431.6"/><line x1="317.3" y1="419.6" x2="315.6" y2="423.7"/><line x1="341.3" y1="392.4" x2="343.7" y2="395.0"/><line x1="287.1" y1="412.7" x2="287.7" y2="410.4"/><line x1="301.0" y1="422.3" x2="298.5" y2="421.5"/><line x1="292.1" y1="432.7" x2="294.4" y2="432.0"/><line x1="280.1" y1="434.8" x2="276.7" y2="430.9"/><line x1="348.4" y1="393.4" x2="352.2" y2="396.5"/><line x1="312.7" y1="420.2" x2="313.1" y2="423.8"/><line x1="352.2" y1="396.5" x2="353.8" y2="399.3"/><line x1="289.2" y1="432.7" x2="290.3" y2="434.7"/><line x1="281.2" y1="419.9" x2="279.5" y2="422.6"/><line x1="308.9" y1="424.5" x2="304.8" y2="424.3"/><line x1="299.3" y1="409.6" x2="297.0" y2="407.9"/><line x1="276.7" y1="430.9" x2="277.8" y2="428.2"/><line x1="296.5" y1="423.2" x2="295.9" y2="420.7"/><line x1="296.6" y1="434.7" x2="297.8" y2="432.8"/><line x1="284.7" y1="417.8" x2="282.3" y2="413.7"/><line x1="315.6" y1="423.7" x2="318.6" y2="425.3"/><line x1="287.1" y1="412.7" x2="289.9" y2="412.1"/><line x1="283.0" y1="429.1" x2="284.4" y2="426.1"/><line x1="320.6" y1="431.6" x2="323.5" y2="428.4"/><line x1="292.9" y1="437.4" x2="290.3" y2="437.7"/><line x1="312.7" y1="420.2" x2="310.8" y2="417.1"/><line x1="315.0" y1="408.4" x2="319.6" y2="413.7"/><line x1="283.1" y1="415.8" x2="282.3" y2="413.7"/><line x1="285.3" y1="408.9" x2="287.4" y2="405.0"/><line x1="283.4" y1="411.0" x2="282.3" y2="413.7"/><line x1="312.7" y1="420.2" x2="315.0" y2="420.0"/><line x1="337.4" y1="396.3" x2="332.9" y2="398.4"/><line x1="304.8" y1="424.3" x2="302.8" y2="426.6"/><line x1="313.4" y1="426.0" x2="315.6" y2="423.7"/><line x1="284.5" y1="423.4" x2="284.4" y2="426.1"/><line x1="317.1" y1="384.7" x2="316.1" y2="389.0"/><line x1="295.9" y1="420.7" x2="295.9" y2="418.5"/><line x1="306.4" y1="429.7" x2="305.0" y2="431.4"/><line x1="283.4" y1="411.0" x2="287.7" y2="410.4"/><line x1="286.8" y1="437.4" x2="290.3" y2="437.7"/><line x1="310.1" y1="379.4" x2="313.5" y2="380.5"/><line x1="317.1" y1="427.2" x2="320.5" y2="426.7"/><line x1="302.3" y1="429.4" x2="302.8" y2="426.6"/><line x1="337.4" y1="396.3" x2="335.7" y2="401.5"/><line x1="313.4" y1="426.0" x2="313.8" y2="430.1"/><line x1="296.2" y1="410.5" x2="297.0" y2="407.9"/><line x1="294.2" y1="439.7" x2="291.5" y2="439.7"/><line x1="301.9" y1="440.7" x2="304.1" y2="443.1"/><line x1="295.9" y1="420.7" x2="292.5" y2="421.7"/><line x1="301.7" y1="408.4" x2="298.8" y2="406.0"/><line x1="305.7" y1="434.2" x2="308.7" y2="436.4"/><line x1="280.1" y1="429.8" x2="281.3" y2="431.7"/><line x1="293.5" y1="418.8" x2="290.0" y2="418.6"/><line x1="290.6" y1="427.6" x2="292.3" y2="429.5"/><line x1="287.1" y1="412.7" x2="286.9" y2="416.3"/><line x1="338.1" y1="380.5" x2="341.8" y2="384.9"/><line x1="274.4" y1="428.2" x2="277.8" y2="428.2"/><line x1="283.0" y1="429.1" x2="280.3" y2="427.4"/><line x1="317.7" y1="430.8" x2="319.3" y2="429.2"/><line x1="314.0" y1="374.9" x2="317.2" y2="378.8"/><line x1="305.0" y1="437.5" x2="308.7" y2="436.4"/><line x1="296.6" y1="434.7" x2="292.9" y2="437.4"/><line x1="287.8" y1="423.1" x2="287.7" y2="426.7"/><line x1="286.9" y1="416.3" x2="283.1" y2="415.8"/><line x1="331.0" y1="387.4" x2="327.7" y2="392.0"/><line x1="323.6" y1="401.5" x2="329.0" y2="401.0"/><line x1="279.5" y1="422.6" x2="282.2" y2="423.8"/><line x1="304.6" y1="407.1" x2="307.3" y2="409.0"/><line x1="326.3" y1="376.9" x2="325.4" y2="379.0"/><line x1="306.4" y1="429.7" x2="302.3" y2="429.4"/><line x1="314.0" y1="374.9" x2="319.4" y2="375.6"/><line x1="286.9" y1="419.4" x2="283.8" y2="420.3"/><line x1="290.3" y1="437.7" x2="290.3" y2="434.7"/><line x1="310.2" y1="438.6" x2="307.0" y2="440.7"/><line x1="302.3" y1="429.4" x2="300.1" y2="427.3"/><line x1="341.8" y1="384.9" x2="346.2" y2="388.4"/><line x1="306.4" y1="427.3" x2="302.8" y2="426.6"/><line x1="289.9" y1="412.1" x2="287.7" y2="410.4"/><line x1="315.0" y1="408.4" x2="307.3" y2="409.0"/><line x1="337.8" y1="390.4" x2="339.3" y2="392.9"/><line x1="308.9" y1="424.5" x2="308.3" y2="421.0"/><line x1="290.6" y1="406.9" x2="290.6" y2="410.0"/><line x1="301.5" y1="417.2" x2="299.1" y2="418.2"/><line x1="329.0" y1="401.0" x2="332.9" y2="398.4"/><line x1="316.9" y1="433.7" x2="314.2" y2="435.0"/><line x1="298.1" y1="428.4" x2="298.7" y2="430.8"/><line x1="279.7" y1="425.1" x2="279.5" y2="422.6"/><line x1="326.3" y1="376.9" x2="328.5" y2="382.4"/><line x1="314.0" y1="374.9" x2="315.6" y2="378.3"/><line x1="279.7" y1="425.1" x2="280.3" y2="427.4"/><line x1="305.0" y1="437.5" x2="305.7" y2="434.2"/><line x1="311.1" y1="433.6" x2="308.7" y2="432.8"/><line x1="311.2" y1="444.0" x2="308.0" y2="442.7"/><line x1="293.2" y1="407.2" x2="290.6" y2="410.0"/><line x1="339.3" y1="392.9" x2="343.7" y2="395.0"/><line x1="323.1" y1="395.6" x2="318.5" y2="398.6"/><line x1="317.1" y1="427.2" x2="313.8" y2="430.1"/><line x1="341.8" y1="384.9" x2="342.0" y2="387.0"/><line x1="301.7" y1="408.4" x2="304.6" y2="407.1"/><line x1="301.0" y1="414.2" x2="301.5" y2="417.2"/><line x1="353.8" y1="399.3" x2="349.1" y2="400.7"/><line x1="293.6" y1="423.6" x2="292.5" y2="421.7"/><line x1="287.1" y1="412.7" x2="285.3" y2="408.9"/><line x1="294.9" y1="427.2" x2="290.6" y2="427.6"/><line x1="305.0" y1="437.5" x2="301.9" y2="440.7"/><line x1="294.9" y1="427.2" x2="293.6" y2="423.6"/><line x1="332.4" y1="382.9" x2="335.7" y2="384.4"/><line x1="290.3" y1="437.7" x2="291.5" y2="439.7"/><line x1="312.8" y1="438.7" x2="315.8" y2="440.0"/><line x1="318.6" y1="425.3" x2="320.5" y2="426.7"/><line x1="302.3" y1="429.4" x2="302.0" y2="433.3"/></g><g fill="#c0c0c0" stroke="#8e8e8e" stroke-width="0.3"><circle cx="325.6" cy="373.2" r="1.05"/><circle cx="314.0" cy="374.9" r="1.05"/><circle cx="319.4" cy="375.6" r="1.05"/><circle cx="321.7" cy="375.8" r="1.05"/><circle cx="326.3" cy="376.9" r="1.05"/><circle cx="310.1" cy="379.4" r="1.05"/><circle cx="315.6" cy="378.3" r="1.05"/><circle cx="317.2" cy="378.8" r="1.05"/><circle cx="325.4" cy="379.0" r="1.05"/><circle cx="313.5" cy="380.5" r="1.05"/><circle cx="319.7" cy="381.5" r="1.05"/><circle cx="314.3" cy="383.8" r="1.05"/><circle cx="317.1" cy="384.7" r="1.05"/><circle cx="316.1" cy="389.0" r="1.05"/><circle cx="318.9" cy="394.0" r="1.05"/><circle cx="323.1" cy="395.6" r="1.05"/><circle cx="315.3" cy="398.4" r="1.05"/><circle cx="318.5" cy="398.6" r="1.05"/><circle cx="323.9" cy="398.1" r="1.05"/><circle cx="323.6" cy="401.5" r="1.05"/><circle cx="317.9" cy="403.6" r="1.05"/><circle cx="328.5" cy="382.4" r="1.05"/><circle cx="332.4" cy="382.9" r="1.05"/><circle cx="338.1" cy="380.5" r="1.05"/><circle cx="335.7" cy="384.4" r="1.05"/><circle cx="344.5" cy="383.1" r="1.05"/><circle cx="341.8" cy="384.9" r="1.05"/><circle cx="331.0" cy="387.4" r="1.05"/><circle cx="327.7" cy="392.0" r="1.05"/><circle cx="332.4" cy="393.4" r="1.05"/><circle cx="337.8" cy="390.4" r="1.05"/><circle cx="341.3" cy="392.4" r="1.05"/><circle cx="343.9" cy="389.5" r="1.05"/><circle cx="329.0" cy="401.0" r="1.05"/><circle cx="342.9" cy="381.1" r="1.05"/><circle cx="342.0" cy="387.0" r="1.05"/><circle cx="338.3" cy="388.1" r="1.05"/><circle cx="339.3" cy="392.9" r="1.05"/><circle cx="337.4" cy="396.3" r="1.05"/><circle cx="332.9" cy="398.4" r="1.05"/><circle cx="346.2" cy="388.4" r="1.05"/><circle cx="352.2" cy="387.6" r="1.05"/><circle cx="351.6" cy="390.2" r="1.05"/><circle cx="348.4" cy="393.4" r="1.05"/><circle cx="355.3" cy="393.4" r="1.05"/><circle cx="343.7" cy="395.0" r="1.05"/><circle cx="352.2" cy="396.5" r="1.05"/><circle cx="346.5" cy="398.6" r="1.05"/><circle cx="353.8" cy="399.3" r="1.05"/><circle cx="342.3" cy="400.4" r="1.05"/><circle cx="349.1" cy="400.7" r="1.05"/><circle cx="347.6" cy="402.4" r="1.05"/><circle cx="335.7" cy="401.5" r="1.05"/><circle cx="315.0" cy="408.4" r="1.05"/><circle cx="305.3" cy="397.8" r="1.05"/><circle cx="319.6" cy="413.7" r="1.05"/><circle cx="325.2" cy="414.4" r="1.05"/><circle cx="337.5" cy="425.7" r="1.05"/><circle cx="294.9" cy="427.2" r="1.05"/><circle cx="321.7" cy="423.1" r="1.05"/><circle cx="298.1" cy="428.4" r="1.05"/><circle cx="279.7" cy="425.1" r="1.05"/><circle cx="305.0" cy="437.5" r="1.05"/><circle cx="306.4" cy="429.7" r="1.05"/><circle cx="294.2" cy="439.7" r="1.05"/><circle cx="298.7" cy="430.8" r="1.05"/><circle cx="295.2" cy="414.8" r="1.05"/><circle cx="316.9" cy="433.7" r="1.05"/><circle cx="287.1" cy="412.7" r="1.05"/><circle cx="312.7" cy="420.2" r="1.05"/><circle cx="317.3" cy="419.6" r="1.05"/><circle cx="301.0" cy="422.3" r="1.05"/><circle cx="280.1" cy="434.8" r="1.05"/><circle cx="276.7" cy="430.9" r="1.05"/><circle cx="281.2" cy="419.9" r="1.05"/><circle cx="317.7" cy="430.8" r="1.05"/><circle cx="274.4" cy="428.2" r="1.05"/><circle cx="283.0" cy="429.1" r="1.05"/><circle cx="290.3" cy="422.5" r="1.05"/><circle cx="301.9" cy="440.7" r="1.05"/><circle cx="283.4" cy="411.0" r="1.05"/><circle cx="311.2" cy="444.0" r="1.05"/><circle cx="319.3" cy="429.2" r="1.05"/><circle cx="293.2" cy="407.2" r="1.05"/><circle cx="282.8" cy="433.6" r="1.05"/><circle cx="303.1" cy="415.5" r="1.05"/><circle cx="294.5" cy="405.3" r="1.05"/><circle cx="301.7" cy="408.4" r="1.05"/><circle cx="308.5" cy="428.3" r="1.05"/><circle cx="296.6" cy="434.7" r="1.05"/><circle cx="311.1" cy="433.6" r="1.05"/><circle cx="289.2" cy="432.7" r="1.05"/><circle cx="292.9" cy="437.4" r="1.05"/><circle cx="304.7" cy="419.4" r="1.05"/><circle cx="302.3" cy="429.4" r="1.05"/><circle cx="311.0" cy="428.2" r="1.05"/><circle cx="296.5" cy="412.7" r="1.05"/><circle cx="308.9" cy="424.5" r="1.05"/><circle cx="304.1" cy="443.1" r="1.05"/><circle cx="286.3" cy="432.4" r="1.05"/><circle cx="320.6" cy="431.6" r="1.05"/><circle cx="277.0" cy="424.4" r="1.05"/><circle cx="304.8" cy="424.3" r="1.05"/><circle cx="286.8" cy="437.4" r="1.05"/><circle cx="305.0" cy="431.4" r="1.05"/><circle cx="308.1" cy="411.4" r="1.05"/><circle cx="296.2" cy="410.5" r="1.05"/><circle cx="284.7" cy="417.8" r="1.05"/><circle cx="322.2" cy="434.4" r="1.05"/><circle cx="290.6" cy="427.6" r="1.05"/><circle cx="310.2" cy="438.6" r="1.05"/><circle cx="305.7" cy="434.2" r="1.05"/><circle cx="299.7" cy="437.4" r="1.05"/><circle cx="285.7" cy="434.7" r="1.05"/><circle cx="317.1" cy="427.2" r="1.05"/><circle cx="286.9" cy="419.4" r="1.05"/><circle cx="301.8" cy="411.4" r="1.05"/><circle cx="299.7" cy="424.7" r="1.05"/><circle cx="284.5" cy="423.4" r="1.05"/><circle cx="280.1" cy="429.8" r="1.05"/><circle cx="308.2" cy="416.8" r="1.05"/><circle cx="289.4" cy="429.9" r="1.05"/><circle cx="299.3" cy="409.6" r="1.05"/><circle cx="292.1" cy="432.7" r="1.05"/><circle cx="308.0" cy="442.7" r="1.05"/><circle cx="297.8" cy="432.8" r="1.05"/><circle cx="287.8" cy="423.1" r="1.05"/><circle cx="298.5" cy="421.5" r="1.05"/><circle cx="279.5" cy="422.6" r="1.05"/><circle cx="311.5" cy="436.8" r="1.05"/><circle cx="308.7" cy="436.4" r="1.05"/><circle cx="283.8" cy="420.3" r="1.05"/><circle cx="290.6" cy="406.9" r="1.05"/><circle cx="303.2" cy="436.0" r="1.05"/><circle cx="290.0" cy="415.2" r="1.05"/><circle cx="306.4" cy="427.3" r="1.05"/><circle cx="293.6" cy="423.6" r="1.05"/><circle cx="294.4" cy="432.0" r="1.05"/><circle cx="313.4" cy="426.0" r="1.05"/><circle cx="313.8" cy="430.1" r="1.05"/><circle cx="304.6" cy="407.1" r="1.05"/><circle cx="287.7" cy="426.7" r="1.05"/><circle cx="293.5" cy="418.8" r="1.05"/><circle cx="281.3" cy="431.7" r="1.05"/><circle cx="285.3" cy="408.9" r="1.05"/><circle cx="290.0" cy="418.6" r="1.05"/><circle cx="280.3" cy="427.4" r="1.05"/><circle cx="306.1" cy="413.4" r="1.05"/><circle cx="297.3" cy="426.2" r="1.05"/><circle cx="321.2" cy="420.7" r="1.05"/><circle cx="317.7" cy="438.1" r="1.05"/><circle cx="323.6" cy="430.8" r="1.05"/><circle cx="290.6" cy="410.0" r="1.05"/><circle cx="315.6" cy="423.7" r="1.05"/><circle cx="290.3" cy="437.7" r="1.05"/><circle cx="318.6" cy="425.3" r="1.05"/><circle cx="284.4" cy="426.1" r="1.05"/><circle cx="296.5" cy="423.2" r="1.05"/><circle cx="323.5" cy="428.4" r="1.05"/><circle cx="286.9" cy="416.3" r="1.05"/><circle cx="309.5" cy="413.0" r="1.05"/><circle cx="310.8" cy="417.1" r="1.05"/><circle cx="312.8" cy="438.7" r="1.05"/><circle cx="320.5" cy="426.7" r="1.05"/><circle cx="304.8" cy="411.3" r="1.05"/><circle cx="302.0" cy="433.3" r="1.05"/><circle cx="300.1" cy="427.3" r="1.05"/><circle cx="301.0" cy="414.2" r="1.05"/><circle cx="298.7" cy="414.2" r="1.05"/><circle cx="301.5" cy="417.2" r="1.05"/><circle cx="307.3" cy="409.0" r="1.05"/><circle cx="295.9" cy="420.7" r="1.05"/><circle cx="292.5" cy="421.7" r="1.05"/><circle cx="287.4" cy="405.0" r="1.05"/><circle cx="307.0" cy="440.7" r="1.05"/><circle cx="283.1" cy="415.8" r="1.05"/><circle cx="297.9" cy="439.8" r="1.05"/><circle cx="278.3" cy="433.0" r="1.05"/><circle cx="289.9" cy="412.1" r="1.05"/><circle cx="282.3" cy="413.7" r="1.05"/><circle cx="291.5" cy="439.7" r="1.05"/><circle cx="277.8" cy="428.2" r="1.05"/><circle cx="308.7" cy="432.8" r="1.05"/><circle cx="287.7" cy="410.4" r="1.05"/><circle cx="313.1" cy="423.8" r="1.05"/><circle cx="308.3" cy="421.0" r="1.05"/><circle cx="297.0" cy="407.9" r="1.05"/><circle cx="282.2" cy="423.8" r="1.05"/><circle cx="315.0" cy="420.0" r="1.05"/><circle cx="272.5" cy="426.8" r="1.05"/><circle cx="314.2" cy="435.0" r="1.05"/><circle cx="316.2" cy="436.4" r="1.05"/><circle cx="292.1" cy="416.7" r="1.05"/><circle cx="315.8" cy="440.0" r="1.05"/><circle cx="302.8" cy="426.6" r="1.05"/><circle cx="295.9" cy="418.5" r="1.05"/><circle cx="286.4" cy="424.9" r="1.05"/><circle cx="292.3" cy="429.5" r="1.05"/><circle cx="300.3" cy="420.2" r="1.05"/><circle cx="290.3" cy="434.7" r="1.05"/><circle cx="298.8" cy="406.0" r="1.05"/><circle cx="299.1" cy="418.2" r="1.05"/><circle cx="319.3" cy="434.6" r="1.05"/></g></g></defs><g fill="#f6a530" fill-opacity="0.85" filter="url(#b2)"><circle cx="325.6" cy="373.2" r="2.6"/><circle cx="314.0" cy="374.9" r="2.6"/><circle cx="319.4" cy="375.6" r="2.6"/><circle cx="321.7" cy="375.8" r="2.6"/><circle cx="326.3" cy="376.9" r="2.6"/><circle cx="310.1" cy="379.4" r="2.6"/><circle cx="315.6" cy="378.3" r="2.6"/><circle cx="317.2" cy="378.8" r="2.6"/><circle cx="325.4" cy="379.0" r="2.6"/><circle cx="313.5" cy="380.5" r="2.6"/><circle cx="319.7" cy="381.5" r="2.6"/><circle cx="314.3" cy="383.8" r="2.6"/><circle cx="317.1" cy="384.7" r="2.6"/><circle cx="316.1" cy="389.0" r="2.6"/><circle cx="318.9" cy="394.0" r="2.6"/><circle cx="323.1" cy="395.6" r="2.6"/><circle cx="315.3" cy="398.4" r="2.6"/><circle cx="318.5" cy="398.6" r="2.6"/><circle cx="323.9" cy="398.1" r="2.6"/><circle cx="323.6" cy="401.5" r="2.6"/><circle cx="317.9" cy="403.6" r="2.6"/></g><circle cx="320.0" cy="377.0" r="7.1" fill="#f6a030" fill-opacity="0.9" filter="url(#b3)"/><circle cx="317.4" cy="386.2" r="4.2" fill="#f8b850" fill-opacity="0.7" filter="url(#b3)"/><circle cx="319.6" cy="397.8" r="5.9" fill="#f6a530" fill-opacity="0.85" filter="url(#b3)"/><circle cx="334.6" cy="387.4" r="5.9" fill="#fde4b8" fill-opacity="0.6" filter="url(#b3)"/><circle cx="332.9" cy="381.4" r="3.8" fill="#fde4b8" fill-opacity="0.5" filter="url(#b3)"/><circle cx="322.6" cy="376.2" r="3.4" fill="#e04818" fill-opacity="0.9" filter="url(#b2)"/><use href="#mg" x="0" y="0"/><circle cx="325.6" cy="373.2" r="1.35" fill="#2a6fd0"/><circle cx="314.0" cy="374.9" r="1.35" fill="#2a6fd0"/><circle cx="319.4" cy="375.6" r="1.35" fill="#2a6fd0"/><circle cx="321.7" cy="375.8" r="1.35" fill="#2a6fd0"/><circle cx="326.3" cy="376.9" r="1.35" fill="#2a6fd0"/><circle cx="310.1" cy="379.4" r="1.35" fill="#2a6fd0"/><circle cx="315.6" cy="378.3" r="1.35" fill="#2a6fd0"/><circle cx="317.2" cy="378.8" r="1.35" fill="#2a6fd0"/><circle cx="325.4" cy="379.0" r="1.35" fill="#2a6fd0"/><circle cx="313.5" cy="380.5" r="1.35" fill="#2a6fd0"/><circle cx="319.7" cy="381.5" r="1.35" fill="#2a6fd0"/><circle cx="314.3" cy="383.8" r="1.35" fill="#2a6fd0"/><circle cx="317.1" cy="384.7" r="1.35" fill="#2a6fd0"/><circle cx="316.1" cy="389.0" r="1.35" fill="#2a6fd0"/><circle cx="318.9" cy="394.0" r="1.35" fill="#2a6fd0"/><circle cx="323.1" cy="395.6" r="1.35" fill="#2a6fd0"/><circle cx="315.3" cy="398.4" r="1.35" fill="#2a6fd0"/><circle cx="318.5" cy="398.6" r="1.35" fill="#2a6fd0"/><circle cx="323.9" cy="398.1" r="1.35" fill="#2a6fd0"/><circle cx="323.6" cy="401.5" r="1.35" fill="#2a6fd0"/><circle cx="317.9" cy="403.6" r="1.35" fill="#2a6fd0"/><text x="332.8" y="437.4" font-size="6.7" fill="#000" stroke="#000" stroke-width="0.13">UMI/10<tspan font-size="4" dy="-2.6">4</tspan></text><rect x="335.3" y="440.0" width="15.7" height="2.7" fill="url(#umi)" stroke="#444" stroke-width="0.35"/><text x="334.7" y="444.0" font-size="6.7" fill="#000" stroke="#000" stroke-width="0.13" text-anchor="end">0</text><text x="351.2" y="444.0" font-size="6.7" fill="#000" stroke="#000" stroke-width="0.13">35</text><g fill="#f59a30" fill-opacity="0.9" filter="url(#b2)"><circle cx="440.4" cy="388.4" r="3.0"/><circle cx="446.4" cy="387.6" r="3.0"/><circle cx="445.8" cy="390.2" r="3.0"/><circle cx="442.6" cy="393.4" r="3.0"/><circle cx="449.5" cy="393.4" r="3.0"/><circle cx="437.9" cy="395.0" r="3.0"/><circle cx="446.4" cy="396.5" r="3.0"/><circle cx="440.7" cy="398.6" r="3.0"/><circle cx="448.0" cy="399.3" r="3.0"/><circle cx="436.5" cy="400.4" r="3.0"/><circle cx="443.3" cy="400.7" r="3.0"/><circle cx="441.8" cy="402.4" r="3.0"/><circle cx="429.9" cy="401.5" r="3.0"/></g><circle cx="443.8" cy="394.6" r="9.2" fill="#f7a030" fill-opacity="0.95" filter="url(#b3)"/><circle cx="445.1" cy="395.4" r="4.2" fill="#e05018" fill-opacity="0.85" filter="url(#b2)"/><circle cx="442.1" cy="398.2" r="2.1" fill="#901020" fill-opacity="0.8" filter="url(#b1)"/><circle cx="433.1" cy="397.4" r="4.2" fill="#fcd79a" fill-opacity="0.6" filter="url(#b3)"/><use href="#mg" x="94.2" y="0"/><circle cx="440.4" cy="388.4" r="1.35" fill="#c42a2a"/><circle cx="446.4" cy="387.6" r="1.35" fill="#c42a2a"/><circle cx="445.8" cy="390.2" r="1.35" fill="#c42a2a"/><circle cx="442.6" cy="393.4" r="1.35" fill="#c42a2a"/><circle cx="449.5" cy="393.4" r="1.35" fill="#c42a2a"/><circle cx="437.9" cy="395.0" r="1.35" fill="#c42a2a"/><circle cx="446.4" cy="396.5" r="1.35" fill="#c42a2a"/><circle cx="440.7" cy="398.6" r="1.35" fill="#c42a2a"/><circle cx="448.0" cy="399.3" r="1.35" fill="#c42a2a"/><circle cx="436.5" cy="400.4" r="1.35" fill="#c42a2a"/><circle cx="443.3" cy="400.7" r="1.35" fill="#c42a2a"/><circle cx="441.8" cy="402.4" r="1.35" fill="#c42a2a"/><circle cx="429.9" cy="401.5" r="1.35" fill="#c42a2a"/><text x="427.0" y="437.4" font-size="6.7" fill="#000" stroke="#000" stroke-width="0.13">UMI/10<tspan font-size="4" dy="-2.6">4</tspan></text><rect x="429.5" y="440.0" width="15.7" height="2.7" fill="url(#umi)" stroke="#444" stroke-width="0.35"/><text x="428.9" y="444.0" font-size="6.7" fill="#000" stroke="#000" stroke-width="0.13" text-anchor="end">0</text><text x="445.4" y="444.0" font-size="6.7" fill="#000" stroke="#000" stroke-width="0.13">39</text><g fill="#f8b848" fill-opacity="0.85" filter="url(#b2)"><circle cx="484.4" cy="427.2" r="2.8"/><circle cx="511.2" cy="423.1" r="2.8"/><circle cx="487.6" cy="428.4" r="2.8"/><circle cx="469.2" cy="425.1" r="2.8"/><circle cx="494.5" cy="437.5" r="2.8"/><circle cx="495.9" cy="429.7" r="2.8"/><circle cx="483.7" cy="439.7" r="2.8"/><circle cx="488.2" cy="430.8" r="2.8"/><circle cx="484.7" cy="414.8" r="2.8"/><circle cx="506.4" cy="433.7" r="2.8"/><circle cx="476.6" cy="412.7" r="2.8"/><circle cx="502.2" cy="420.2" r="2.8"/><circle cx="506.8" cy="419.6" r="2.8"/><circle cx="490.5" cy="422.3" r="2.8"/><circle cx="469.6" cy="434.8" r="2.8"/><circle cx="466.2" cy="430.9" r="2.8"/><circle cx="470.7" cy="419.9" r="2.8"/><circle cx="507.2" cy="430.8" r="2.8"/><circle cx="463.9" cy="428.2" r="2.8"/><circle cx="472.5" cy="429.1" r="2.8"/><circle cx="479.8" cy="422.5" r="2.8"/><circle cx="491.4" cy="440.7" r="2.8"/><circle cx="472.9" cy="411.0" r="2.8"/><circle cx="500.7" cy="444.0" r="2.8"/><circle cx="508.8" cy="429.2" r="2.8"/><circle cx="482.7" cy="407.2" r="2.8"/><circle cx="472.3" cy="433.6" r="2.8"/><circle cx="492.6" cy="415.5" r="2.8"/><circle cx="484.0" cy="405.3" r="2.8"/><circle cx="491.2" cy="408.4" r="2.8"/><circle cx="498.0" cy="428.3" r="2.8"/><circle cx="486.1" cy="434.7" r="2.8"/><circle cx="500.6" cy="433.6" r="2.8"/><circle cx="478.7" cy="432.7" r="2.8"/><circle cx="482.4" cy="437.4" r="2.8"/><circle cx="494.2" cy="419.4" r="2.8"/><circle cx="491.8" cy="429.4" r="2.8"/><circle cx="500.5" cy="428.2" r="2.8"/><circle cx="486.0" cy="412.7" r="2.8"/><circle cx="498.4" cy="424.5" r="2.8"/><circle cx="493.6" cy="443.1" r="2.8"/><circle cx="475.8" cy="432.4" r="2.8"/><circle cx="510.1" cy="431.6" r="2.8"/><circle cx="466.5" cy="424.4" r="2.8"/><circle cx="494.3" cy="424.3" r="2.8"/><circle cx="476.3" cy="437.4" r="2.8"/><circle cx="494.5" cy="431.4" r="2.8"/><circle cx="497.6" cy="411.4" r="2.8"/><circle cx="485.7" cy="410.5" r="2.8"/><circle cx="474.2" cy="417.8" r="2.8"/><circle cx="511.7" cy="434.4" r="2.8"/><circle cx="480.1" cy="427.6" r="2.8"/><circle cx="499.7" cy="438.6" r="2.8"/><circle cx="495.2" cy="434.2" r="2.8"/><circle cx="489.2" cy="437.4" r="2.8"/><circle cx="475.2" cy="434.7" r="2.8"/><circle cx="506.6" cy="427.2" r="2.8"/><circle cx="476.4" cy="419.4" r="2.8"/><circle cx="491.3" cy="411.4" r="2.8"/><circle cx="489.2" cy="424.7" r="2.8"/><circle cx="474.0" cy="423.4" r="2.8"/><circle cx="469.6" cy="429.8" r="2.8"/><circle cx="497.7" cy="416.8" r="2.8"/><circle cx="478.9" cy="429.9" r="2.8"/><circle cx="488.8" cy="409.6" r="2.8"/><circle cx="481.6" cy="432.7" r="2.8"/><circle cx="497.5" cy="442.7" r="2.8"/><circle cx="487.3" cy="432.8" r="2.8"/><circle cx="477.3" cy="423.1" r="2.8"/><circle cx="488.0" cy="421.5" r="2.8"/><circle cx="469.0" cy="422.6" r="2.8"/><circle cx="501.0" cy="436.8" r="2.8"/><circle cx="498.2" cy="436.4" r="2.8"/><circle cx="473.3" cy="420.3" r="2.8"/><circle cx="480.1" cy="406.9" r="2.8"/><circle cx="492.7" cy="436.0" r="2.8"/><circle cx="479.5" cy="415.2" r="2.8"/><circle cx="495.9" cy="427.3" r="2.8"/><circle cx="483.1" cy="423.6" r="2.8"/><circle cx="483.9" cy="432.0" r="2.8"/><circle cx="502.9" cy="426.0" r="2.8"/><circle cx="503.3" cy="430.1" r="2.8"/><circle cx="494.1" cy="407.1" r="2.8"/><circle cx="477.2" cy="426.7" r="2.8"/><circle cx="483.0" cy="418.8" r="2.8"/><circle cx="470.8" cy="431.7" r="2.8"/><circle cx="474.8" cy="408.9" r="2.8"/><circle cx="479.5" cy="418.6" r="2.8"/><circle cx="469.8" cy="427.4" r="2.8"/><circle cx="495.6" cy="413.4" r="2.8"/><circle cx="486.8" cy="426.2" r="2.8"/><circle cx="510.7" cy="420.7" r="2.8"/><circle cx="507.2" cy="438.1" r="2.8"/><circle cx="513.1" cy="430.8" r="2.8"/><circle cx="480.1" cy="410.0" r="2.8"/><circle cx="505.1" cy="423.7" r="2.8"/><circle cx="479.8" cy="437.7" r="2.8"/><circle cx="508.1" cy="425.3" r="2.8"/><circle cx="473.9" cy="426.1" r="2.8"/><circle cx="486.0" cy="423.2" r="2.8"/><circle cx="513.0" cy="428.4" r="2.8"/><circle cx="476.4" cy="416.3" r="2.8"/><circle cx="499.0" cy="413.0" r="2.8"/><circle cx="500.3" cy="417.1" r="2.8"/><circle cx="502.3" cy="438.7" r="2.8"/><circle cx="510.0" cy="426.7" r="2.8"/><circle cx="494.3" cy="411.3" r="2.8"/><circle cx="491.5" cy="433.3" r="2.8"/><circle cx="489.6" cy="427.3" r="2.8"/><circle cx="490.5" cy="414.2" r="2.8"/><circle cx="488.2" cy="414.2" r="2.8"/><circle cx="491.0" cy="417.2" r="2.8"/><circle cx="496.8" cy="409.0" r="2.8"/><circle cx="485.4" cy="420.7" r="2.8"/><circle cx="482.0" cy="421.7" r="2.8"/><circle cx="476.9" cy="405.0" r="2.8"/><circle cx="496.5" cy="440.7" r="2.8"/><circle cx="472.6" cy="415.8" r="2.8"/><circle cx="487.4" cy="439.8" r="2.8"/><circle cx="467.8" cy="433.0" r="2.8"/><circle cx="479.4" cy="412.1" r="2.8"/><circle cx="471.8" cy="413.7" r="2.8"/><circle cx="481.0" cy="439.7" r="2.8"/><circle cx="467.3" cy="428.2" r="2.8"/><circle cx="498.2" cy="432.8" r="2.8"/><circle cx="477.2" cy="410.4" r="2.8"/><circle cx="502.6" cy="423.8" r="2.8"/><circle cx="497.8" cy="421.0" r="2.8"/><circle cx="486.5" cy="407.9" r="2.8"/><circle cx="471.7" cy="423.8" r="2.8"/><circle cx="504.5" cy="420.0" r="2.8"/><circle cx="462.0" cy="426.8" r="2.8"/><circle cx="503.7" cy="435.0" r="2.8"/><circle cx="505.7" cy="436.4" r="2.8"/><circle cx="481.6" cy="416.7" r="2.8"/><circle cx="505.3" cy="440.0" r="2.8"/><circle cx="492.3" cy="426.6" r="2.8"/><circle cx="485.4" cy="418.5" r="2.8"/><circle cx="475.9" cy="424.9" r="2.8"/><circle cx="481.8" cy="429.5" r="2.8"/><circle cx="489.8" cy="420.2" r="2.8"/><circle cx="479.8" cy="434.7" r="2.8"/><circle cx="488.3" cy="406.0" r="2.8"/><circle cx="488.6" cy="418.2" r="2.8"/><circle cx="508.8" cy="434.6" r="2.8"/></g><g fill="#f49a28" fill-opacity="0.8" filter="url(#b2)"><circle cx="484.4" cy="427.2" r="2.4"/><circle cx="511.2" cy="423.1" r="2.4"/><circle cx="487.6" cy="428.4" r="2.4"/><circle cx="494.5" cy="437.5" r="2.4"/><circle cx="495.9" cy="429.7" r="2.4"/><circle cx="488.2" cy="430.8" r="2.4"/><circle cx="484.7" cy="414.8" r="2.4"/><circle cx="506.4" cy="433.7" r="2.4"/><circle cx="502.2" cy="420.2" r="2.4"/><circle cx="506.8" cy="419.6" r="2.4"/><circle cx="490.5" cy="422.3" r="2.4"/><circle cx="507.2" cy="430.8" r="2.4"/><circle cx="508.8" cy="429.2" r="2.4"/><circle cx="492.6" cy="415.5" r="2.4"/><circle cx="498.0" cy="428.3" r="2.4"/><circle cx="486.1" cy="434.7" r="2.4"/><circle cx="500.6" cy="433.6" r="2.4"/><circle cx="494.2" cy="419.4" r="2.4"/><circle cx="491.8" cy="429.4" r="2.4"/><circle cx="500.5" cy="428.2" r="2.4"/><circle cx="486.0" cy="412.7" r="2.4"/><circle cx="498.4" cy="424.5" r="2.4"/><circle cx="510.1" cy="431.6" r="2.4"/><circle cx="494.3" cy="424.3" r="2.4"/><circle cx="494.5" cy="431.4" r="2.4"/><circle cx="511.7" cy="434.4" r="2.4"/><circle cx="495.2" cy="434.2" r="2.4"/><circle cx="489.2" cy="437.4" r="2.4"/><circle cx="506.6" cy="427.2" r="2.4"/><circle cx="491.3" cy="411.4" r="2.4"/><circle cx="489.2" cy="424.7" r="2.4"/><circle cx="497.7" cy="416.8" r="2.4"/><circle cx="487.3" cy="432.8" r="2.4"/><circle cx="488.0" cy="421.5" r="2.4"/><circle cx="501.0" cy="436.8" r="2.4"/><circle cx="498.2" cy="436.4" r="2.4"/><circle cx="492.7" cy="436.0" r="2.4"/><circle cx="495.9" cy="427.3" r="2.4"/><circle cx="483.9" cy="432.0" r="2.4"/><circle cx="502.9" cy="426.0" r="2.4"/><circle cx="503.3" cy="430.1" r="2.4"/><circle cx="495.6" cy="413.4" r="2.4"/><circle cx="486.8" cy="426.2" r="2.4"/><circle cx="510.7" cy="420.7" r="2.4"/><circle cx="507.2" cy="438.1" r="2.4"/><circle cx="513.1" cy="430.8" r="2.4"/><circle cx="505.1" cy="423.7" r="2.4"/><circle cx="508.1" cy="425.3" r="2.4"/><circle cx="486.0" cy="423.2" r="2.4"/><circle cx="513.0" cy="428.4" r="2.4"/><circle cx="499.0" cy="413.0" r="2.4"/><circle cx="500.3" cy="417.1" r="2.4"/><circle cx="510.0" cy="426.7" r="2.4"/><circle cx="491.5" cy="433.3" r="2.4"/><circle cx="489.6" cy="427.3" r="2.4"/><circle cx="490.5" cy="414.2" r="2.4"/><circle cx="488.2" cy="414.2" r="2.4"/><circle cx="491.0" cy="417.2" r="2.4"/><circle cx="485.4" cy="420.7" r="2.4"/><circle cx="498.2" cy="432.8" r="2.4"/><circle cx="502.6" cy="423.8" r="2.4"/><circle cx="497.8" cy="421.0" r="2.4"/><circle cx="504.5" cy="420.0" r="2.4"/><circle cx="503.7" cy="435.0" r="2.4"/><circle cx="505.7" cy="436.4" r="2.4"/><circle cx="492.3" cy="426.6" r="2.4"/><circle cx="485.4" cy="418.5" r="2.4"/><circle cx="489.8" cy="420.2" r="2.4"/><circle cx="488.6" cy="418.2" r="2.4"/><circle cx="508.8" cy="434.6" r="2.4"/></g><g fill="#e05818" fill-opacity="0.5" filter="url(#b1)"><circle cx="527.0" cy="425.7" r="1.4"/><circle cx="484.4" cy="427.2" r="1.4"/><circle cx="511.2" cy="423.1" r="1.4"/><circle cx="495.9" cy="429.7" r="1.4"/><circle cx="506.4" cy="433.7" r="1.4"/><circle cx="502.2" cy="420.2" r="1.4"/><circle cx="506.8" cy="419.6" r="1.4"/><circle cx="507.2" cy="430.8" r="1.4"/><circle cx="508.8" cy="429.2" r="1.4"/><circle cx="498.0" cy="428.3" r="1.4"/><circle cx="486.1" cy="434.7" r="1.4"/><circle cx="500.6" cy="433.6" r="1.4"/><circle cx="494.2" cy="419.4" r="1.4"/><circle cx="500.5" cy="428.2" r="1.4"/><circle cx="510.1" cy="431.6" r="1.4"/><circle cx="511.7" cy="434.4" r="1.4"/><circle cx="506.6" cy="427.2" r="1.4"/><circle cx="497.7" cy="416.8" r="1.4"/><circle cx="501.0" cy="436.8" r="1.4"/><circle cx="498.2" cy="436.4" r="1.4"/><circle cx="495.9" cy="427.3" r="1.4"/><circle cx="502.9" cy="426.0" r="1.4"/><circle cx="503.3" cy="430.1" r="1.4"/><circle cx="495.6" cy="413.4" r="1.4"/><circle cx="510.7" cy="420.7" r="1.4"/><circle cx="507.2" cy="438.1" r="1.4"/><circle cx="513.1" cy="430.8" r="1.4"/><circle cx="505.1" cy="423.7" r="1.4"/><circle cx="508.1" cy="425.3" r="1.4"/><circle cx="513.0" cy="428.4" r="1.4"/><circle cx="499.0" cy="413.0" r="1.4"/><circle cx="500.3" cy="417.1" r="1.4"/><circle cx="502.3" cy="438.7" r="1.4"/><circle cx="510.0" cy="426.7" r="1.4"/><circle cx="489.6" cy="427.3" r="1.4"/><circle cx="488.2" cy="414.2" r="1.4"/><circle cx="491.0" cy="417.2" r="1.4"/><circle cx="485.4" cy="420.7" r="1.4"/><circle cx="498.2" cy="432.8" r="1.4"/><circle cx="502.6" cy="423.8" r="1.4"/><circle cx="497.8" cy="421.0" r="1.4"/><circle cx="504.5" cy="420.0" r="1.4"/><circle cx="503.7" cy="435.0" r="1.4"/><circle cx="505.7" cy="436.4" r="1.4"/><circle cx="492.3" cy="426.6" r="1.4"/><circle cx="488.6" cy="418.2" r="1.4"/><circle cx="508.8" cy="434.6" r="1.4"/></g><circle cx="494.0" cy="424.2" r="2.5" fill="#e04a18" fill-opacity="0.8" filter="url(#b1)"/><circle cx="502.6" cy="427.4" r="2.1" fill="#e04a18" fill-opacity="0.8" filter="url(#b1)"/><circle cx="496.1" cy="417.4" r="2.1" fill="#d84018" fill-opacity="0.7" filter="url(#b1)"/><circle cx="506.9" cy="429.4" r="2.1" fill="#e05018" fill-opacity="0.7" filter="url(#b1)"/><use href="#mg" x="189.5" y="0"/><circle cx="527.0" cy="425.7" r="1.35" fill="#2a9fb0"/><circle cx="484.4" cy="427.2" r="1.35" fill="#2a9fb0"/><circle cx="511.2" cy="423.1" r="1.35" fill="#2a9fb0"/><circle cx="495.9" cy="429.7" r="1.35" fill="#2a9fb0"/><circle cx="506.4" cy="433.7" r="1.35" fill="#2a9fb0"/><circle cx="502.2" cy="420.2" r="1.35" fill="#2a9fb0"/><circle cx="506.8" cy="419.6" r="1.35" fill="#2a9fb0"/><circle cx="507.2" cy="430.8" r="1.35" fill="#2a9fb0"/><circle cx="508.8" cy="429.2" r="1.35" fill="#2a9fb0"/><circle cx="498.0" cy="428.3" r="1.35" fill="#2a9fb0"/><circle cx="486.1" cy="434.7" r="1.35" fill="#2a9fb0"/><circle cx="500.6" cy="433.6" r="1.35" fill="#2a9fb0"/><circle cx="494.2" cy="419.4" r="1.35" fill="#2a9fb0"/><circle cx="500.5" cy="428.2" r="1.35" fill="#2a9fb0"/><circle cx="510.1" cy="431.6" r="1.35" fill="#2a9fb0"/><circle cx="511.7" cy="434.4" r="1.35" fill="#2a9fb0"/><circle cx="506.6" cy="427.2" r="1.35" fill="#2a9fb0"/><circle cx="497.7" cy="416.8" r="1.35" fill="#2a9fb0"/><circle cx="501.0" cy="436.8" r="1.35" fill="#2a9fb0"/><circle cx="498.2" cy="436.4" r="1.35" fill="#2a9fb0"/><circle cx="495.9" cy="427.3" r="1.35" fill="#2a9fb0"/><circle cx="502.9" cy="426.0" r="1.35" fill="#2a9fb0"/><circle cx="503.3" cy="430.1" r="1.35" fill="#2a9fb0"/><circle cx="495.6" cy="413.4" r="1.35" fill="#2a9fb0"/><circle cx="510.7" cy="420.7" r="1.35" fill="#2a9fb0"/><circle cx="507.2" cy="438.1" r="1.35" fill="#2a9fb0"/><circle cx="513.1" cy="430.8" r="1.35" fill="#2a9fb0"/><circle cx="505.1" cy="423.7" r="1.35" fill="#2a9fb0"/><circle cx="508.1" cy="425.3" r="1.35" fill="#2a9fb0"/><circle cx="513.0" cy="428.4" r="1.35" fill="#2a9fb0"/><circle cx="499.0" cy="413.0" r="1.35" fill="#2a9fb0"/><circle cx="500.3" cy="417.1" r="1.35" fill="#2a9fb0"/><circle cx="502.3" cy="438.7" r="1.35" fill="#2a9fb0"/><circle cx="510.0" cy="426.7" r="1.35" fill="#2a9fb0"/><circle cx="489.6" cy="427.3" r="1.35" fill="#2a9fb0"/><circle cx="488.2" cy="414.2" r="1.35" fill="#2a9fb0"/><circle cx="491.0" cy="417.2" r="1.35" fill="#2a9fb0"/><circle cx="485.4" cy="420.7" r="1.35" fill="#2a9fb0"/><circle cx="498.2" cy="432.8" r="1.35" fill="#2a9fb0"/><circle cx="502.6" cy="423.8" r="1.35" fill="#2a9fb0"/><circle cx="497.8" cy="421.0" r="1.35" fill="#2a9fb0"/><circle cx="504.5" cy="420.0" r="1.35" fill="#2a9fb0"/><circle cx="503.7" cy="435.0" r="1.35" fill="#2a9fb0"/><circle cx="505.7" cy="436.4" r="1.35" fill="#2a9fb0"/><circle cx="492.3" cy="426.6" r="1.35" fill="#2a9fb0"/><circle cx="488.6" cy="418.2" r="1.35" fill="#2a9fb0"/><circle cx="508.8" cy="434.6" r="1.35" fill="#2a9fb0"/><text x="522.3" y="437.4" font-size="6.7" fill="#000" stroke="#000" stroke-width="0.13">UMI/10<tspan font-size="4" dy="-2.6">4</tspan></text><rect x="524.8" y="440.0" width="15.7" height="2.7" fill="url(#umi)" stroke="#444" stroke-width="0.35"/><text x="524.2" y="444.0" font-size="6.7" fill="#000" stroke="#000" stroke-width="0.13" text-anchor="end">0</text><text x="540.7" y="444.0" font-size="6.7" fill="#000" stroke="#000" stroke-width="0.13">31</text><g fill="#fcd08a" fill-opacity="0.7" filter="url(#b2)"><circle cx="294.9" cy="648.2" r="2.2"/><circle cx="321.7" cy="644.1" r="2.2"/><circle cx="298.1" cy="649.4" r="2.2"/><circle cx="279.7" cy="646.1" r="2.2"/><circle cx="305.0" cy="658.5" r="2.2"/><circle cx="306.4" cy="650.7" r="2.2"/><circle cx="294.2" cy="660.7" r="2.2"/><circle cx="298.7" cy="651.8" r="2.2"/><circle cx="295.2" cy="635.8" r="2.2"/><circle cx="316.9" cy="654.7" r="2.2"/><circle cx="287.1" cy="633.7" r="2.2"/><circle cx="312.7" cy="641.2" r="2.2"/><circle cx="317.3" cy="640.6" r="2.2"/><circle cx="301.0" cy="643.3" r="2.2"/><circle cx="280.1" cy="655.8" r="2.2"/><circle cx="276.7" cy="651.9" r="2.2"/><circle cx="281.2" cy="640.9" r="2.2"/><circle cx="317.7" cy="651.8" r="2.2"/><circle cx="274.4" cy="649.2" r="2.2"/><circle cx="283.0" cy="650.1" r="2.2"/><circle cx="290.3" cy="643.5" r="2.2"/><circle cx="301.9" cy="661.7" r="2.2"/><circle cx="283.4" cy="632.0" r="2.2"/><circle cx="311.2" cy="665.0" r="2.2"/><circle cx="319.3" cy="650.2" r="2.2"/><circle cx="293.2" cy="628.2" r="2.2"/><circle cx="282.8" cy="654.6" r="2.2"/><circle cx="303.1" cy="636.5" r="2.2"/><circle cx="294.5" cy="626.3" r="2.2"/><circle cx="301.7" cy="629.4" r="2.2"/><circle cx="308.5" cy="649.3" r="2.2"/><circle cx="296.6" cy="655.7" r="2.2"/><circle cx="311.1" cy="654.6" r="2.2"/><circle cx="289.2" cy="653.7" r="2.2"/><circle cx="292.9" cy="658.4" r="2.2"/><circle cx="304.7" cy="640.4" r="2.2"/><circle cx="302.3" cy="650.4" r="2.2"/><circle cx="311.0" cy="649.2" r="2.2"/><circle cx="296.5" cy="633.7" r="2.2"/><circle cx="308.9" cy="645.5" r="2.2"/><circle cx="304.1" cy="664.1" r="2.2"/><circle cx="286.3" cy="653.4" r="2.2"/><circle cx="320.6" cy="652.6" r="2.2"/><circle cx="277.0" cy="645.4" r="2.2"/><circle cx="304.8" cy="645.3" r="2.2"/><circle cx="286.8" cy="658.4" r="2.2"/><circle cx="305.0" cy="652.4" r="2.2"/><circle cx="308.1" cy="632.4" r="2.2"/><circle cx="296.2" cy="631.5" r="2.2"/><circle cx="284.7" cy="638.8" r="2.2"/><circle cx="322.2" cy="655.4" r="2.2"/><circle cx="290.6" cy="648.6" r="2.2"/><circle cx="310.2" cy="659.6" r="2.2"/><circle cx="305.7" cy="655.2" r="2.2"/><circle cx="299.7" cy="658.4" r="2.2"/><circle cx="285.7" cy="655.7" r="2.2"/><circle cx="317.1" cy="648.2" r="2.2"/><circle cx="286.9" cy="640.4" r="2.2"/><circle cx="301.8" cy="632.4" r="2.2"/><circle cx="299.7" cy="645.7" r="2.2"/><circle cx="284.5" cy="644.4" r="2.2"/><circle cx="280.1" cy="650.8" r="2.2"/><circle cx="308.2" cy="637.8" r="2.2"/><circle cx="289.4" cy="650.9" r="2.2"/><circle cx="299.3" cy="630.6" r="2.2"/><circle cx="292.1" cy="653.7" r="2.2"/><circle cx="308.0" cy="663.7" r="2.2"/><circle cx="297.8" cy="653.8" r="2.2"/><circle cx="287.8" cy="644.1" r="2.2"/><circle cx="298.5" cy="642.5" r="2.2"/><circle cx="279.5" cy="643.6" r="2.2"/><circle cx="311.5" cy="657.8" r="2.2"/><circle cx="308.7" cy="657.4" r="2.2"/><circle cx="283.8" cy="641.3" r="2.2"/><circle cx="290.6" cy="627.9" r="2.2"/><circle cx="303.2" cy="657.0" r="2.2"/><circle cx="290.0" cy="636.2" r="2.2"/><circle cx="306.4" cy="648.3" r="2.2"/><circle cx="293.6" cy="644.6" r="2.2"/><circle cx="294.4" cy="653.0" r="2.2"/><circle cx="313.4" cy="647.0" r="2.2"/><circle cx="313.8" cy="651.1" r="2.2"/><circle cx="304.6" cy="628.1" r="2.2"/><circle cx="287.7" cy="647.7" r="2.2"/><circle cx="293.5" cy="639.8" r="2.2"/><circle cx="281.3" cy="652.7" r="2.2"/><circle cx="285.3" cy="629.9" r="2.2"/><circle cx="290.0" cy="639.6" r="2.2"/><circle cx="280.3" cy="648.4" r="2.2"/><circle cx="306.1" cy="634.4" r="2.2"/><circle cx="297.3" cy="647.2" r="2.2"/><circle cx="321.2" cy="641.7" r="2.2"/><circle cx="317.7" cy="659.1" r="2.2"/><circle cx="323.6" cy="651.8" r="2.2"/><circle cx="290.6" cy="631.0" r="2.2"/><circle cx="315.6" cy="644.7" r="2.2"/><circle cx="290.3" cy="658.7" r="2.2"/><circle cx="318.6" cy="646.3" r="2.2"/><circle cx="284.4" cy="647.1" r="2.2"/><circle cx="296.5" cy="644.2" r="2.2"/><circle cx="323.5" cy="649.4" r="2.2"/><circle cx="286.9" cy="637.3" r="2.2"/><circle cx="309.5" cy="634.0" r="2.2"/><circle cx="310.8" cy="638.1" r="2.2"/><circle cx="312.8" cy="659.7" r="2.2"/><circle cx="320.5" cy="647.7" r="2.2"/><circle cx="304.8" cy="632.3" r="2.2"/><circle cx="302.0" cy="654.3" r="2.2"/><circle cx="300.1" cy="648.3" r="2.2"/><circle cx="301.0" cy="635.2" r="2.2"/><circle cx="298.7" cy="635.2" r="2.2"/><circle cx="301.5" cy="638.2" r="2.2"/><circle cx="307.3" cy="630.0" r="2.2"/><circle cx="295.9" cy="641.7" r="2.2"/><circle cx="292.5" cy="642.7" r="2.2"/><circle cx="287.4" cy="626.0" r="2.2"/><circle cx="307.0" cy="661.7" r="2.2"/><circle cx="283.1" cy="636.8" r="2.2"/><circle cx="297.9" cy="660.8" r="2.2"/><circle cx="278.3" cy="654.0" r="2.2"/><circle cx="289.9" cy="633.1" r="2.2"/><circle cx="282.3" cy="634.7" r="2.2"/><circle cx="291.5" cy="660.7" r="2.2"/><circle cx="277.8" cy="649.2" r="2.2"/><circle cx="308.7" cy="653.8" r="2.2"/><circle cx="287.7" cy="631.4" r="2.2"/><circle cx="313.1" cy="644.8" r="2.2"/><circle cx="308.3" cy="642.0" r="2.2"/><circle cx="297.0" cy="628.9" r="2.2"/><circle cx="282.2" cy="644.8" r="2.2"/><circle cx="315.0" cy="641.0" r="2.2"/><circle cx="272.5" cy="647.8" r="2.2"/><circle cx="314.2" cy="656.0" r="2.2"/><circle cx="316.2" cy="657.4" r="2.2"/><circle cx="292.1" cy="637.7" r="2.2"/><circle cx="315.8" cy="661.0" r="2.2"/><circle cx="302.8" cy="647.6" r="2.2"/><circle cx="295.9" cy="639.5" r="2.2"/><circle cx="286.4" cy="645.9" r="2.2"/><circle cx="292.3" cy="650.5" r="2.2"/><circle cx="300.3" cy="641.2" r="2.2"/><circle cx="290.3" cy="655.7" r="2.2"/><circle cx="298.8" cy="627.0" r="2.2"/><circle cx="299.1" cy="639.2" r="2.2"/><circle cx="319.3" cy="655.6" r="2.2"/></g><circle cx="312.2" cy="597.2" r="6.7" fill="#f5a030" fill-opacity="0.9" filter="url(#b3)"/><circle cx="311.4" cy="596.4" r="2.9" fill="#d03010" fill-opacity="0.9" filter="url(#b2)"/><circle cx="313.1" cy="605.2" r="4.2" fill="#f8b850" fill-opacity="0.8" filter="url(#b3)"/><circle cx="318.3" cy="624.4" r="5.9" fill="#f5a030" fill-opacity="0.9" filter="url(#b3)"/><circle cx="318.3" cy="623.6" r="2.5" fill="#d84010" fill-opacity="0.9" filter="url(#b2)"/><circle cx="318.3" cy="618.0" r="3.4" fill="#f8b850" fill-opacity="0.7" filter="url(#b3)"/><circle cx="304.9" cy="637.2" r="5.9" fill="#f6a030" fill-opacity="0.9" filter="url(#b3)"/><circle cx="304.9" cy="636.4" r="2.1" fill="#d03010" fill-opacity="0.9" filter="url(#b1)"/><circle cx="295.9" cy="650.4" r="19.3" fill="#fcd59a" fill-opacity="0.75" filter="url(#b4)"/><circle cx="313.1" cy="652.4" r="6.7" fill="#f8b850" fill-opacity="0.7" filter="url(#b3)"/><circle cx="334.6" cy="612.4" r="5.9" fill="#fde0b0" fill-opacity="0.6" filter="url(#b3)"/><circle cx="330.3" cy="606.4" r="4.2" fill="#fde0b0" fill-opacity="0.5" filter="url(#b3)"/><use href="#mg" x="0" y="221.0"/><circle cx="314.0" cy="595.9" r="1.35" fill="#2a62c8"/><circle cx="315.6" cy="599.3" r="1.35" fill="#2a62c8"/><circle cx="313.5" cy="601.5" r="1.35" fill="#2a62c8"/><circle cx="317.9" cy="624.6" r="1.35" fill="#2a62c8"/><text x="332.8" y="658.4" font-size="6.7" fill="#000" stroke="#000" stroke-width="0.13">UMI/10<tspan font-size="4" dy="-2.6">4</tspan></text><rect x="335.3" y="661.0" width="15.7" height="2.7" fill="url(#umi)" stroke="#444" stroke-width="0.35"/><text x="334.7" y="665.0" font-size="6.7" fill="#000" stroke="#000" stroke-width="0.13" text-anchor="end">0</text><text x="351.2" y="665.0" font-size="6.7" fill="#000" stroke="#000" stroke-width="0.13">40</text><g fill="#f59a30" fill-opacity="0.9" filter="url(#b2)"><circle cx="432.5" cy="609.1" r="3.2"/><circle cx="433.5" cy="613.9" r="3.2"/><circle cx="431.6" cy="617.3" r="3.2"/><circle cx="427.1" cy="619.4" r="3.2"/></g><circle cx="433.1" cy="612.4" r="9.2" fill="#f7a838" fill-opacity="0.95" filter="url(#b3)"/><circle cx="433.1" cy="611.2" r="3.8" fill="#e05018" fill-opacity="0.85" filter="url(#b2)"/><circle cx="433.5" cy="608.8" r="1.7" fill="#901018" fill-opacity="0.8" filter="url(#b1)"/><circle cx="440.8" cy="615.6" r="5.0" fill="#fcd79a" fill-opacity="0.6" filter="url(#b3)"/><use href="#mg" x="94.2" y="221.0"/><circle cx="432.5" cy="609.1" r="1.35" fill="#3a9f3a"/><circle cx="433.5" cy="613.9" r="1.35" fill="#3a9f3a"/><circle cx="431.6" cy="617.3" r="1.35" fill="#3a9f3a"/><circle cx="427.1" cy="619.4" r="1.35" fill="#3a9f3a"/><text x="427.0" y="658.4" font-size="6.7" fill="#000" stroke="#000" stroke-width="0.13">UMI/10<tspan font-size="4" dy="-2.6">4</tspan></text><rect x="429.5" y="661.0" width="15.7" height="2.7" fill="url(#umi)" stroke="#444" stroke-width="0.35"/><text x="428.9" y="665.0" font-size="6.7" fill="#000" stroke="#000" stroke-width="0.13" text-anchor="end">0</text><text x="445.4" y="665.0" font-size="6.7" fill="#000" stroke="#000" stroke-width="0.13">17</text><g fill="#f7b040" fill-opacity="0.85" filter="url(#b2)"><circle cx="484.4" cy="648.2" r="3.2"/><circle cx="487.6" cy="649.4" r="3.2"/><circle cx="469.2" cy="646.1" r="3.2"/><circle cx="483.7" cy="660.7" r="3.2"/><circle cx="488.2" cy="651.8" r="3.2"/><circle cx="484.7" cy="635.8" r="3.2"/><circle cx="476.6" cy="633.7" r="3.2"/><circle cx="490.5" cy="643.3" r="3.2"/><circle cx="469.6" cy="655.8" r="3.2"/><circle cx="466.2" cy="651.9" r="3.2"/><circle cx="470.7" cy="640.9" r="3.2"/><circle cx="463.9" cy="649.2" r="3.2"/><circle cx="472.5" cy="650.1" r="3.2"/><circle cx="479.8" cy="643.5" r="3.2"/><circle cx="491.4" cy="661.7" r="3.2"/><circle cx="472.9" cy="632.0" r="3.2"/><circle cx="482.7" cy="628.2" r="3.2"/><circle cx="472.3" cy="654.6" r="3.2"/><circle cx="492.6" cy="636.5" r="3.2"/><circle cx="484.0" cy="626.3" r="3.2"/><circle cx="491.2" cy="629.4" r="3.2"/><circle cx="486.1" cy="655.7" r="3.2"/><circle cx="478.7" cy="653.7" r="3.2"/><circle cx="482.4" cy="658.4" r="3.2"/><circle cx="491.8" cy="650.4" r="3.2"/><circle cx="486.0" cy="633.7" r="3.2"/><circle cx="493.6" cy="664.1" r="3.2"/><circle cx="475.8" cy="653.4" r="3.2"/><circle cx="466.5" cy="645.4" r="3.2"/><circle cx="476.3" cy="658.4" r="3.2"/><circle cx="485.7" cy="631.5" r="3.2"/><circle cx="474.2" cy="638.8" r="3.2"/><circle cx="480.1" cy="648.6" r="3.2"/><circle cx="489.2" cy="658.4" r="3.2"/><circle cx="475.2" cy="655.7" r="3.2"/><circle cx="476.4" cy="640.4" r="3.2"/><circle cx="491.3" cy="632.4" r="3.2"/><circle cx="489.2" cy="645.7" r="3.2"/><circle cx="474.0" cy="644.4" r="3.2"/><circle cx="469.6" cy="650.8" r="3.2"/><circle cx="478.9" cy="650.9" r="3.2"/><circle cx="488.8" cy="630.6" r="3.2"/><circle cx="481.6" cy="653.7" r="3.2"/><circle cx="487.3" cy="653.8" r="3.2"/><circle cx="477.3" cy="644.1" r="3.2"/><circle cx="488.0" cy="642.5" r="3.2"/><circle cx="469.0" cy="643.6" r="3.2"/><circle cx="473.3" cy="641.3" r="3.2"/><circle cx="480.1" cy="627.9" r="3.2"/><circle cx="492.7" cy="657.0" r="3.2"/><circle cx="479.5" cy="636.2" r="3.2"/><circle cx="483.1" cy="644.6" r="3.2"/><circle cx="483.9" cy="653.0" r="3.2"/><circle cx="477.2" cy="647.7" r="3.2"/><circle cx="483.0" cy="639.8" r="3.2"/><circle cx="470.8" cy="652.7" r="3.2"/><circle cx="474.8" cy="629.9" r="3.2"/><circle cx="479.5" cy="639.6" r="3.2"/><circle cx="469.8" cy="648.4" r="3.2"/><circle cx="486.8" cy="647.2" r="3.2"/><circle cx="480.1" cy="631.0" r="3.2"/><circle cx="479.8" cy="658.7" r="3.2"/><circle cx="473.9" cy="647.1" r="3.2"/><circle cx="486.0" cy="644.2" r="3.2"/><circle cx="476.4" cy="637.3" r="3.2"/><circle cx="491.5" cy="654.3" r="3.2"/><circle cx="489.6" cy="648.3" r="3.2"/><circle cx="490.5" cy="635.2" r="3.2"/><circle cx="488.2" cy="635.2" r="3.2"/><circle cx="491.0" cy="638.2" r="3.2"/><circle cx="485.4" cy="641.7" r="3.2"/><circle cx="482.0" cy="642.7" r="3.2"/><circle cx="476.9" cy="626.0" r="3.2"/><circle cx="472.6" cy="636.8" r="3.2"/><circle cx="487.4" cy="660.8" r="3.2"/><circle cx="467.8" cy="654.0" r="3.2"/><circle cx="479.4" cy="633.1" r="3.2"/><circle cx="471.8" cy="634.7" r="3.2"/><circle cx="481.0" cy="660.7" r="3.2"/><circle cx="467.3" cy="649.2" r="3.2"/><circle cx="477.2" cy="631.4" r="3.2"/><circle cx="486.5" cy="628.9" r="3.2"/><circle cx="471.7" cy="644.8" r="3.2"/><circle cx="462.0" cy="647.8" r="3.2"/><circle cx="481.6" cy="637.7" r="3.2"/><circle cx="492.3" cy="647.6" r="3.2"/><circle cx="485.4" cy="639.5" r="3.2"/><circle cx="475.9" cy="645.9" r="3.2"/><circle cx="481.8" cy="650.5" r="3.2"/><circle cx="489.8" cy="641.2" r="3.2"/><circle cx="479.8" cy="655.7" r="3.2"/><circle cx="488.3" cy="627.0" r="3.2"/><circle cx="488.6" cy="639.2" r="3.2"/></g><g fill="#f29028" fill-opacity="0.9" filter="url(#b2)"><circle cx="518.0" cy="603.4" r="3.2"/><circle cx="522.0" cy="603.9" r="3.2"/><circle cx="527.6" cy="601.5" r="3.2"/><circle cx="525.2" cy="605.4" r="3.2"/><circle cx="534.0" cy="604.1" r="3.2"/><circle cx="531.3" cy="605.9" r="3.2"/><circle cx="520.5" cy="608.4" r="3.2"/><circle cx="517.2" cy="613.0" r="3.2"/><circle cx="522.0" cy="614.4" r="3.2"/><circle cx="527.3" cy="611.4" r="3.2"/><circle cx="530.8" cy="613.4" r="3.2"/><circle cx="533.4" cy="610.5" r="3.2"/><circle cx="518.5" cy="622.0" r="3.2"/><circle cx="532.4" cy="602.1" r="3.2"/><circle cx="531.5" cy="608.0" r="3.2"/><circle cx="527.8" cy="609.1" r="3.2"/><circle cx="528.8" cy="613.9" r="3.2"/><circle cx="526.9" cy="617.3" r="3.2"/><circle cx="522.4" cy="619.4" r="3.2"/><circle cx="535.7" cy="609.4" r="3.2"/><circle cx="541.7" cy="608.6" r="3.2"/><circle cx="541.1" cy="611.2" r="3.2"/><circle cx="537.9" cy="614.4" r="3.2"/><circle cx="544.8" cy="614.4" r="3.2"/><circle cx="533.2" cy="616.0" r="3.2"/><circle cx="541.7" cy="617.5" r="3.2"/><circle cx="536.0" cy="619.6" r="3.2"/><circle cx="543.3" cy="620.3" r="3.2"/><circle cx="531.8" cy="621.4" r="3.2"/><circle cx="538.6" cy="621.7" r="3.2"/><circle cx="537.1" cy="623.4" r="3.2"/><circle cx="525.2" cy="622.5" r="3.2"/></g><circle cx="531.4" cy="608.4" r="16.8" fill="#f6a030" fill-opacity="0.85" filter="url(#b4)"/><circle cx="530.5" cy="608.4" r="7.6" fill="#e05018" fill-opacity="0.9" filter="url(#b3)"/><circle cx="529.7" cy="607.2" r="3.4" fill="#80103a" fill-opacity="0.9" filter="url(#b2)"/><circle cx="472.5" cy="650.4" r="14.3" fill="#f8b848" fill-opacity="0.6" filter="url(#b4)"/><use href="#mg" x="189.5" y="221.0"/><circle cx="522.0" cy="603.9" r="1.35" fill="#8cc84b"/><circle cx="527.6" cy="601.5" r="1.35" fill="#8cc84b"/><circle cx="525.2" cy="605.4" r="1.35" fill="#8cc84b"/><circle cx="522.0" cy="614.4" r="1.35" fill="#8cc84b"/><circle cx="527.3" cy="611.4" r="1.35" fill="#8cc84b"/><circle cx="520.5" cy="608.4" r="1.35" fill="#8cc84b"/><text x="522.3" y="658.4" font-size="6.7" fill="#000" stroke="#000" stroke-width="0.13">UMI/10<tspan font-size="4" dy="-2.6">4</tspan></text><rect x="524.8" y="661.0" width="15.7" height="2.7" fill="url(#umi)" stroke="#444" stroke-width="0.35"/><text x="524.2" y="665.0" font-size="6.7" fill="#000" stroke="#000" stroke-width="0.13" text-anchor="end">0</text><text x="540.7" y="665.0" font-size="6.7" fill="#000" stroke="#000" stroke-width="0.13">11</text><text x="307.2" y="382.6" font-size="6.7" fill="#2a5fbf" stroke="#2a5fbf" stroke-width="0.13" text-anchor="end">neural</text><text x="421.8" y="411.4" font-size="6.7" fill="#c0343a" stroke="#c0343a" stroke-width="0.13">endoderm</text><text x="517.9" y="415.4" font-size="6.7" fill="#2a8e9e" stroke="#2a8e9e" stroke-width="0.13">anterior</text><text x="517.9" y="421.9" font-size="6.7" fill="#2a8e9e" stroke="#2a8e9e" stroke-width="0.13">epidermis</text><text x="303.6" y="600.0" font-size="6.7" fill="#2a5fbf" stroke="#2a5fbf" stroke-width="0.13" text-anchor="end">cerebral</text><text x="303.6" y="606.7" font-size="6.7" fill="#2a5fbf" stroke="#2a5fbf" stroke-width="0.13" text-anchor="end">vesicle</text><text x="420.0" y="632.0" font-size="6.7" fill="#3a8a3a" stroke="#3a8a3a" stroke-width="0.13">notochord</text><text x="520.3" y="599.1" font-size="6.7" fill="#6ab030" stroke="#6ab030" stroke-width="0.13">tailbud</text></svg>
</div>
<script>(function(){
var S=20240611;function R(){S=(S*1664525+1013904223)>>>0;return S/4294967296;}
/* ---------- heatmap ---------- */
var c=document.getElementById('hm');if(c){var x=c.getContext('2d');var W=194,H=265;var im=x.createImageData(W,H);var D=im.data;
var CB=[0,13.8,16.9,35,38.2,61.1,62.9,103.6,194.3];
var RB=[[0,98,7],[98,146,6],[146,148,5],[148,180,4],[180,183,3],[183,226,2],[226,230,1],[230,265,0]];
var BT=[[0.47,0.36,0.34,0.3,0.3,0.26,0.035,0.03],
        [0.3,0.45,0.36,0.28,0.28,0.24,0.03,0.03],
        [0.15,0.24,0.38,0.28,0.3,0.22,0.03,0.025],
        [0.06,0.1,0.12,0.3,0.28,0.2,0.035,0.03],
        [0.05,0.07,0.08,0.17,0.3,0.22,0.035,0.025],
        [0.04,0.04,0.05,0.1,0.16,0.26,0.1,0.045],
        [0.02,0.018,0.02,0.025,0.025,0.05,0.2,0.075],
        [0.015,0.012,0.015,0.015,0.015,0.035,0.135,0.14]];
function cg(c){for(var i=7;i>=0;i--)if(c>=CB[i])return i;return 0;}
var stops=[[0,253,251,249],[0.1,252,234,214],[0.25,250,208,152],[0.42,247,172,84],[0.6,240,128,36],[0.78,206,62,24],[0.9,130,20,50],[1,60,10,70]];
function cmap(v){if(v<=0)return stops[0];if(v>=1)return stops[7];for(var i=1;i<8;i++){if(v<=stops[i][0]){var a=stops[i-1],b=stops[i],t=(v-a[0])/(b[0]-a[0]);return[0,a[1]+(b[1]-a[1])*t,a[2]+(b[2]-a[2])*t,a[3]+(b[3]-a[3])*t];}}}
var colA=[],cgc=[];for(var i=0;i<W;i++){colA.push(0.65+R()*0.7);cgc.push(cg(i+0.5));}
// modules
var modOf=new Array(H),mods=[];
for(var k=0;k<8;k++){var gs=RB[k][0],ge=RB[k][1],g=RB[k][2];var r=gs;
  while(r<ge){var sz=Math.min(ge-r,3+Math.floor(R()*9));var f=(r+sz/2-gs)/(ge-gs);var pk=CB[g+1]-(CB[g+1]-CB[g])*f;
    var m={g:g,gs:gs,ge:ge,a:pk-(2+R()*(g>=6?16:8)),b:pk+(1+R()*(g>=6?12:6)),amp:(g>=6?0.08+R()*0.14:0.05+R()*0.13)};
    for(var q=r;q<r+sz;q++)modOf[q]=m;r+=sz;}}
for(var r=0;r<H;r++){
  var m=modOf[r];var g=m.g;var f=(r-m.gs+0.5)/(m.ge-m.gs);var peak=CB[g+1]-(CB[g+1]-CB[g])*f;
  var q=R();var ra=(g>=6)?(0.55+q*0.8):(0.45+q*q*1.05);if(R()<(g>=6?0.03:0.09))ra+=(g>=6?0.7:0.7);
  var hot=(r>6&&r<19);
  var sA=-1,sB=-1;if(g>=6&&R()<0.16){sA=R()*55;sB=sA+4+R()*18;}
  for(var cc=0;cc<W;cc++){
    var h=cgc[cc];var base=BT[g][h];
    var v=base*ra*colA[cc]*(0.45+R()*1.1);
    if(g>=6&&h>=6){var dg=Math.abs(cc+0.5-peak);v*=(0.55+0.9*Math.exp(-dg/28));if(r<22&&g==7)v*=1.35;}
    if(cc>=m.a&&cc<=m.b)v+=m.amp*(0.5+R()*0.9)*(0.6+0.5*ra);
    var dd=Math.abs(cc+0.5-peak);if(h==g&&dd<2.2)v+=0.3*(1-dd/2.2)*(0.4+R()*0.8);
    if(hot&&cc>166&&cc<191)v+=(0.06+R()*0.14)*(r%3==0?1.5:0.7);
    if(h<6&&cc>=sA&&cc<=sB)v+=0.06+R()*0.1;
    if(r>=2&&r<8&&h<6){var cx0=cc+25.7;if((cx0>32&&cx0<34)||(cx0>43&&cx0<45)||(cx0>46&&cx0<48)||(cx0>55&&cx0<57)||(cx0>66&&cx0<68.5)||(cx0>71&&cx0<72.8))v=0.3+R()*0.12;}
    if(v>0.95)v=0.95;
    var col=cmap(v);
    if(g>=6&&h<6){var bg=240;var t=Math.min(1,v*5);col=[0,bg+(col[1]-bg)*t,bg+(col[2]-bg)*t,bg+(col[3]-bg)*t];}
    if(h==1||h==3||h==5){col=[0,col[1]*0.93,col[2]*0.93,col[3]*0.93];}
    var p=(r*W+cc)*4;D[p]=col[1];D[p+1]=col[2];D[p+2]=col[3];D[p+3]=255;}
}
x.putImageData(im,0,0);}
/* ---------- dark panel renders ---------- */
var k=document.getElementById('dk');if(k){var y=k.getContext('2d');var W2=258,H2=95;var im2=y.createImageData(W2,H2);var E=im2.data;
for(var i=0;i<W2*H2;i++){E[i*4]=39;E[i*4+1]=39;E[i*4+2]=39;E[i*4+3]=255;}
function put(px,py,c,a){if(px<0||py<0||px>=W2||py>=H2)return;var p=(py*W2+px)*4;var m=R()*0.55+0.7;E[p]=E[p]*(1-a)+Math.min(255,c[0]*m)*a;E[p+1]=E[p+1]*(1-a)+Math.min(255,c[1]*m)*a;E[p+2]=E[p+2]*(1-a)+Math.min(255,c[2]*m)*a;}
var CY=[60,205,215],BL=[40,70,200],YE=[236,200,30],GR=[40,165,50],RE=[214,30,30];
// cross section
var cx=48.5,cy=34.9;
for(var py=12;py<58;py++)for(var px=27;px<71;px++){
  var dx=px-cx,dy=py-cy;var ang=Math.atan2(dy,dx);
  var notch=2.8*Math.exp(-Math.pow((ang+Math.PI/2)/0.22,2));
  var u=dx/18.6,v=dy/(20.2-(dy<0?notch:0));
  var pe=Math.pow(Math.abs(u),2.5)+Math.pow(Math.abs(v),2.5);
  if(pe>1+(R()-0.5)*0.16)continue;
  var ui=dx/15.0,vi=(dy+1.2)/(15.8-(dy<0?notch:0));
  var pin=Math.pow(Math.abs(ui),2.5)+Math.pow(Math.abs(vi),2.5);
  var col;
  if(pin>1+(R()-0.5)*0.22){col=CY;}
  else{
    var yb=19.6+5.2*Math.exp(-Math.pow(dx/6.5,2))+0.6*(R()-0.5);
    var ge=Math.pow(dx/5.6,2)+Math.pow((py-31.0)/4.6,2);
    var ho=Math.pow((px-49)/6.6,2)+Math.pow((py-42)/4.6,2);
    if(py<yb)col=BL;
    else if(py<yb+4.2)col=BL;
    else if(ge<1+(R()-0.5)*0.4)col=GR;
    else if(py<34.5+(R()-0.5)*1.5)col=YE;
    else if(ho<1+(R()-0.5)*0.3)col=null;
    else col=RE;
  }
  if(col)put(px,py,col,0.8+R()*0.2);
}
// elongated bodies
function body(cx,cy,rx,ry,tap,fn){for(var py=Math.floor(cy-ry-2);py<cy+ry+2;py++)for(var px=Math.floor(cx-rx-5);px<cx+rx+5;px++){
  var vv=(py-cy)/ry;var w=rx*(1-tap*vv);var ccx=cx+(w-rx);
  var dy=Math.max(0,Math.abs(py-cy)-(ry-w*1.15))/(w*1.15);var dx=(px-ccx)/w;
  var r=Math.sqrt(dx*dx+dy*dy);var edge=1+(R()-0.5)*0.16;if(r>edge)continue;var c=fn(dx,vv,r);if(c)put(px,py,c,0.55+R()*0.45);}}
body(130.8,45.3,14.2,36.8,0.13,function(u,v,r){var q=R();if(q<0.07)return BL;if(q<0.1)return YE;if(q<0.16)return null;return CY;});
body(178.3,45.6,12.8,33.3,-0.05,function(u,v,r){var q=R();if(Math.abs(v)>0.88&&q<0.55)return RE;if(r>0.78&&q<0.55)return YE;if(q<0.07)return YE;if(q<0.1)return RE;if(q<0.14)return GR;if(q<0.26)return null;return BL;});
body(224.9,45.6,12.8,33.3,-0.03,function(u,v,r){var q=R();if(Math.abs(u)<0.3&&Math.abs(v)<0.8)return q<0.15?YE:(q<0.25?null:GR);if(Math.abs(v)>0.88&&q<0.45)return RE;if(r>0.85&&q<0.4)return RE;if(q<0.07)return RE;if(q<0.2)return null;return YE;});
y.putImageData(im2,0,0);}
})();
</script>
</body></html>
